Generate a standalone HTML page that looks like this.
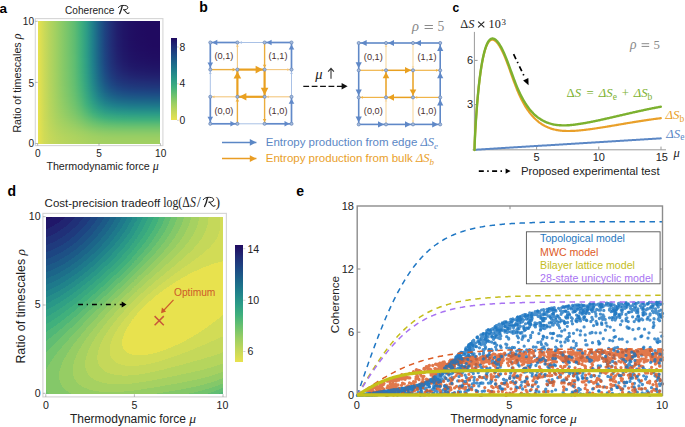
<!DOCTYPE html><html><head><meta charset="utf-8"><style>
html,body{margin:0;padding:0;background:#fff;}
body{width:685px;height:427px;overflow:hidden;position:relative;}
#hm div{position:absolute;}
svg{position:absolute;left:0;top:0;}
text{font-family:"Liberation Sans",sans-serif;}
.sf{font-family:"Liberation Serif",serif;}
</style></head><body>
<div id="hm">
<div style="left:37.60px;top:21.20px;width:122.80px;height:1.60px;background:linear-gradient(90deg,#e8e24e 0.0%,#ccda58 5.0%,#b4d45e 10.0%,#9fd062 15.0%,#89ca67 20.0%,#74c46c 25.0%,#5ebc72 30.0%,#40b07c 35.0%,#2c9c86 40.0%,#1f7e8b 45.0%,#1c5e88 50.0%,#1e4281 55.0%,#212d77 60.0%,#211e6d 65.0%,#201567 70.0%,#201064 75.0%,#200d62 80.0%,#200b61 85.0%,#200a60 90.0%,#200a60 95.0%,#200a60 100.0%)"></div>
<div style="left:37.60px;top:22.20px;width:122.80px;height:1.60px;background:linear-gradient(90deg,#e8e24e 0.0%,#ccda58 5.0%,#b4d45e 10.0%,#9fd062 15.0%,#89ca67 20.0%,#74c46c 25.0%,#5ebc72 30.0%,#40b07c 35.0%,#2c9c86 40.0%,#1f7e8b 45.0%,#1c5e88 50.0%,#1e4281 55.0%,#212d77 60.0%,#211e6d 65.0%,#201567 70.0%,#201064 75.0%,#200d62 80.0%,#200b61 85.0%,#200a60 90.0%,#200a60 95.0%,#200a60 100.0%)"></div>
<div style="left:37.60px;top:23.20px;width:122.80px;height:1.60px;background:linear-gradient(90deg,#e8e24e 0.0%,#ccda58 5.0%,#b4d45e 10.0%,#9fd062 15.0%,#89ca67 20.0%,#74c46c 25.0%,#5ebc72 30.0%,#40b07c 35.0%,#2c9c86 40.0%,#1f7e8b 45.0%,#1c5e88 50.0%,#1e4281 55.0%,#212e77 60.0%,#211e6d 65.0%,#201567 70.0%,#201064 75.0%,#200d62 80.0%,#200b61 85.0%,#200a60 90.0%,#200a60 95.0%,#200a60 100.0%)"></div>
<div style="left:37.60px;top:24.20px;width:122.80px;height:1.60px;background:linear-gradient(90deg,#e8e24e 0.0%,#ccda58 5.0%,#b4d45e 10.0%,#9fd062 15.0%,#89ca67 20.0%,#74c46c 25.0%,#5ebc72 30.0%,#40b07c 35.0%,#2c9c86 40.0%,#1f7e8b 45.0%,#1c5e88 50.0%,#1e4281 55.0%,#212e77 60.0%,#211e6d 65.0%,#201567 70.0%,#201064 75.0%,#200d62 80.0%,#200b61 85.0%,#200a60 90.0%,#200a60 95.0%,#200a60 100.0%)"></div>
<div style="left:37.60px;top:25.20px;width:122.80px;height:1.60px;background:linear-gradient(90deg,#e8e24e 0.0%,#ccda58 5.0%,#b4d45e 10.0%,#9fd062 15.0%,#89ca67 20.0%,#74c46c 25.0%,#5ebc72 30.0%,#40b07c 35.0%,#2c9c86 40.0%,#1f7e8b 45.0%,#1c5e88 50.0%,#1e4281 55.0%,#212e77 60.0%,#211e6d 65.0%,#201567 70.0%,#201064 75.0%,#200d62 80.0%,#200b61 85.0%,#200a60 90.0%,#200a60 95.0%,#200a60 100.0%)"></div>
<div style="left:37.60px;top:26.20px;width:122.80px;height:1.60px;background:linear-gradient(90deg,#e8e24e 0.0%,#ccda58 5.0%,#b4d45e 10.0%,#9fd062 15.0%,#89ca67 20.0%,#74c46c 25.0%,#5ebc72 30.0%,#40b07c 35.0%,#2c9c86 40.0%,#1f7e8b 45.0%,#1c5e88 50.0%,#1e4281 55.0%,#212e77 60.0%,#211e6d 65.0%,#201567 70.0%,#201064 75.0%,#200d62 80.0%,#200b61 85.0%,#200a60 90.0%,#200a60 95.0%,#200a60 100.0%)"></div>
<div style="left:37.60px;top:27.20px;width:122.80px;height:1.60px;background:linear-gradient(90deg,#e8e24e 0.0%,#ccda58 5.0%,#b4d45e 10.0%,#9fd062 15.0%,#89ca67 20.0%,#74c46c 25.0%,#5ebc72 30.0%,#40b07c 35.0%,#2c9c86 40.0%,#1f7e8b 45.0%,#1c5e88 50.0%,#1e4281 55.0%,#212e77 60.0%,#211e6d 65.0%,#201567 70.0%,#201064 75.0%,#200d62 80.0%,#200b61 85.0%,#200a60 90.0%,#200a60 95.0%,#200a60 100.0%)"></div>
<div style="left:37.60px;top:28.20px;width:122.80px;height:1.60px;background:linear-gradient(90deg,#e8e24e 0.0%,#ccda58 5.0%,#b4d45e 10.0%,#9fd062 15.0%,#89ca67 20.0%,#74c46c 25.0%,#5ebc72 30.0%,#40b07c 35.0%,#2c9c86 40.0%,#1f7e8b 45.0%,#1c5e88 50.0%,#1e4281 55.0%,#212e77 60.0%,#211e6d 65.0%,#201567 70.0%,#201064 75.0%,#200d62 80.0%,#200b61 85.0%,#200a60 90.0%,#200a60 95.0%,#200a60 100.0%)"></div>
<div style="left:37.60px;top:29.20px;width:122.80px;height:1.60px;background:linear-gradient(90deg,#e8e24e 0.0%,#ccda58 5.0%,#b4d45e 10.0%,#9fd062 15.0%,#89ca67 20.0%,#74c46c 25.0%,#5ebc72 30.0%,#40b07c 35.0%,#2c9c86 40.0%,#1f7f8b 45.0%,#1c5e88 50.0%,#1e4281 55.0%,#212e77 60.0%,#211e6d 65.0%,#201567 70.0%,#201064 75.0%,#200d62 80.0%,#200b61 85.0%,#200a60 90.0%,#200a60 95.0%,#200a60 100.0%)"></div>
<div style="left:37.60px;top:30.20px;width:122.80px;height:1.60px;background:linear-gradient(90deg,#e8e24e 0.0%,#ccda58 5.0%,#b4d45e 10.0%,#9fd062 15.0%,#89ca67 20.0%,#74c46c 25.0%,#5ebc72 30.0%,#40b07c 35.0%,#2c9c86 40.0%,#1f7f8b 45.0%,#1c5e88 50.0%,#1e4281 55.0%,#212e77 60.0%,#211e6d 65.0%,#201567 70.0%,#201064 75.0%,#200d62 80.0%,#200b61 85.0%,#200a60 90.0%,#200a60 95.0%,#200a60 100.0%)"></div>
<div style="left:37.60px;top:31.20px;width:122.80px;height:1.60px;background:linear-gradient(90deg,#e8e24e 0.0%,#ccda58 5.0%,#b4d45e 10.0%,#9fd062 15.0%,#89ca67 20.0%,#74c46c 25.0%,#5ebc72 30.0%,#40b07c 35.0%,#2c9c86 40.0%,#1f7f8b 45.0%,#1c5e88 50.0%,#1e4281 55.0%,#212e77 60.0%,#211e6d 65.0%,#201567 70.0%,#201064 75.0%,#200d62 80.0%,#200b61 85.0%,#200a60 90.0%,#200a60 95.0%,#200a60 100.0%)"></div>
<div style="left:37.60px;top:32.20px;width:122.80px;height:1.60px;background:linear-gradient(90deg,#e8e24e 0.0%,#ccda58 5.0%,#b4d45e 10.0%,#9fd062 15.0%,#89ca67 20.0%,#74c46c 25.0%,#5ebc72 30.0%,#40b07c 35.0%,#2c9c86 40.0%,#1f7f8b 45.0%,#1c5e88 50.0%,#1e4281 55.0%,#212e77 60.0%,#211e6d 65.0%,#201567 70.0%,#201064 75.0%,#200d62 80.0%,#200b61 85.0%,#200a60 90.0%,#200a60 95.0%,#200a60 100.0%)"></div>
<div style="left:37.60px;top:33.20px;width:122.80px;height:1.60px;background:linear-gradient(90deg,#e8e24e 0.0%,#ccda58 5.0%,#b4d45e 10.0%,#9fd062 15.0%,#89ca67 20.0%,#74c46c 25.0%,#5ebc72 30.0%,#40b07c 35.0%,#2c9c86 40.0%,#1f7f8b 45.0%,#1c5e88 50.0%,#1e4281 55.0%,#212e77 60.0%,#211e6d 65.0%,#201567 70.0%,#201064 75.0%,#200d62 80.0%,#200b61 85.0%,#200a60 90.0%,#200a60 95.0%,#200a60 100.0%)"></div>
<div style="left:37.60px;top:34.20px;width:122.80px;height:1.60px;background:linear-gradient(90deg,#e8e24e 0.0%,#ccda58 5.0%,#b4d45e 10.0%,#9fd062 15.0%,#89ca67 20.0%,#74c46c 25.0%,#5ebc72 30.0%,#40b07c 35.0%,#2c9c86 40.0%,#1f7f8b 45.0%,#1c5e88 50.0%,#1e4281 55.0%,#212e77 60.0%,#211e6d 65.0%,#201567 70.0%,#201064 75.0%,#200d62 80.0%,#200b61 85.0%,#200a60 90.0%,#200a60 95.0%,#200a60 100.0%)"></div>
<div style="left:37.60px;top:35.20px;width:122.80px;height:1.60px;background:linear-gradient(90deg,#e8e24e 0.0%,#ccda58 5.0%,#b4d45e 10.0%,#9fd062 15.0%,#89ca67 20.0%,#74c46c 25.0%,#5ebc72 30.0%,#40b07c 35.0%,#2c9c86 40.0%,#1f7f8b 45.0%,#1c5e88 50.0%,#1e4281 55.0%,#212e77 60.0%,#211e6d 65.0%,#201567 70.0%,#201064 75.0%,#200d62 80.0%,#200b61 85.0%,#200a60 90.0%,#200a60 95.0%,#200a60 100.0%)"></div>
<div style="left:37.60px;top:36.20px;width:122.80px;height:1.60px;background:linear-gradient(90deg,#e8e24e 0.0%,#ccda58 5.0%,#b4d45e 10.0%,#9fd062 15.0%,#89ca67 20.0%,#74c46c 25.0%,#5ebc72 30.0%,#40b07c 35.0%,#2c9c86 40.0%,#1f7f8b 45.0%,#1c5e88 50.0%,#1e4281 55.0%,#212e77 60.0%,#211f6d 65.0%,#201567 70.0%,#201064 75.0%,#200d62 80.0%,#200b61 85.0%,#200a60 90.0%,#200a60 95.0%,#200a60 100.0%)"></div>
<div style="left:37.60px;top:37.20px;width:122.80px;height:1.60px;background:linear-gradient(90deg,#e8e24e 0.0%,#ccda58 5.0%,#b4d45e 10.0%,#9fd062 15.0%,#89ca67 20.0%,#74c46c 25.0%,#5ebc72 30.0%,#41b07c 35.0%,#2c9c86 40.0%,#1f7f8b 45.0%,#1c5f88 50.0%,#1e4281 55.0%,#212e77 60.0%,#211f6d 65.0%,#201567 70.0%,#201064 75.0%,#200d62 80.0%,#200c61 85.0%,#200a60 90.0%,#200a60 95.0%,#200a60 100.0%)"></div>
<div style="left:37.60px;top:38.20px;width:122.80px;height:1.60px;background:linear-gradient(90deg,#e8e24e 0.0%,#ccda58 5.0%,#b4d45e 10.0%,#9fd062 15.0%,#89ca67 20.0%,#74c46c 25.0%,#5ebc72 30.0%,#41b07c 35.0%,#2c9c86 40.0%,#1f7f8b 45.0%,#1c5f88 50.0%,#1e4281 55.0%,#212e77 60.0%,#211f6d 65.0%,#201567 70.0%,#201064 75.0%,#200d62 80.0%,#200c61 85.0%,#200a60 90.0%,#200a60 95.0%,#200a60 100.0%)"></div>
<div style="left:37.60px;top:39.20px;width:122.80px;height:1.60px;background:linear-gradient(90deg,#e8e24e 0.0%,#ccda58 5.0%,#b4d45e 10.0%,#9fd062 15.0%,#89ca67 20.0%,#74c46c 25.0%,#5ebc72 30.0%,#41b07c 35.0%,#2c9c86 40.0%,#1f7f8b 45.0%,#1c5f88 50.0%,#1e4281 55.0%,#212e77 60.0%,#211f6d 65.0%,#201667 70.0%,#201064 75.0%,#200d62 80.0%,#200c61 85.0%,#200a60 90.0%,#200a60 95.0%,#200a60 100.0%)"></div>
<div style="left:37.60px;top:40.20px;width:122.80px;height:1.60px;background:linear-gradient(90deg,#e8e24e 0.0%,#ccda58 5.0%,#b4d45e 10.0%,#9fd062 15.0%,#89ca67 20.0%,#74c46c 25.0%,#5ebc72 30.0%,#41b07c 35.0%,#2c9c86 40.0%,#1f7f8b 45.0%,#1c5f88 50.0%,#1e4281 55.0%,#212e77 60.0%,#211f6d 65.0%,#201668 70.0%,#201064 75.0%,#200d62 80.0%,#200c61 85.0%,#200b60 90.0%,#200a60 95.0%,#200a60 100.0%)"></div>
<div style="left:37.60px;top:41.20px;width:122.80px;height:1.60px;background:linear-gradient(90deg,#e8e24e 0.0%,#ccda58 5.0%,#b4d45e 10.0%,#9fd062 15.0%,#89ca67 20.0%,#74c46c 25.0%,#5ebc72 30.0%,#41b07c 35.0%,#2c9c86 40.0%,#1f7f8b 45.0%,#1c5f88 50.0%,#1e4281 55.0%,#212e77 60.0%,#211f6e 65.0%,#201668 70.0%,#201164 75.0%,#200e62 80.0%,#200c61 85.0%,#200b60 90.0%,#200a60 95.0%,#200a60 100.0%)"></div>
<div style="left:37.60px;top:42.20px;width:122.80px;height:1.60px;background:linear-gradient(90deg,#e8e24e 0.0%,#ccda58 5.0%,#b4d45e 10.0%,#9fd062 15.0%,#89ca67 20.0%,#74c46c 25.0%,#5ebc72 30.0%,#41b07c 35.0%,#2c9c86 40.0%,#1f7f8b 45.0%,#1c5f88 50.0%,#1e4281 55.0%,#212e77 60.0%,#211f6e 65.0%,#201668 70.0%,#201164 75.0%,#200e62 80.0%,#200c61 85.0%,#200b60 90.0%,#200a60 95.0%,#200a60 100.0%)"></div>
<div style="left:37.60px;top:43.20px;width:122.80px;height:1.60px;background:linear-gradient(90deg,#e8e24e 0.0%,#ccda58 5.0%,#b4d45e 10.0%,#9fd062 15.0%,#89ca67 20.0%,#74c46c 25.0%,#5ebc72 30.0%,#41b07c 35.0%,#2c9c86 40.0%,#1f7f8b 45.0%,#1c5f88 50.0%,#1e4281 55.0%,#212e77 60.0%,#211f6e 65.0%,#201668 70.0%,#201164 75.0%,#200e62 80.0%,#200c61 85.0%,#200b61 90.0%,#200a60 95.0%,#200a60 100.0%)"></div>
<div style="left:37.60px;top:44.20px;width:122.80px;height:1.60px;background:linear-gradient(90deg,#e8e24e 0.0%,#ccda58 5.0%,#b4d45e 10.0%,#9fd062 15.0%,#89ca67 20.0%,#74c46c 25.0%,#5ebc72 30.0%,#41b07c 35.0%,#2c9c86 40.0%,#1f7f8b 45.0%,#1c5f88 50.0%,#1e4281 55.0%,#212e77 60.0%,#211f6e 65.0%,#201668 70.0%,#201164 75.0%,#200e63 80.0%,#200c61 85.0%,#200b61 90.0%,#200a60 95.0%,#200a60 100.0%)"></div>
<div style="left:37.60px;top:45.20px;width:122.80px;height:1.60px;background:linear-gradient(90deg,#e8e24e 0.0%,#ccda58 5.0%,#b4d45e 10.0%,#9fd062 15.0%,#89ca67 20.0%,#74c46c 25.0%,#5ebc72 30.0%,#41b07c 35.0%,#2c9c86 40.0%,#1f7f8b 45.0%,#1c5f88 50.0%,#1e4281 55.0%,#212e77 60.0%,#211f6e 65.0%,#201668 70.0%,#201165 75.0%,#200e63 80.0%,#200c62 85.0%,#200b61 90.0%,#200a60 95.0%,#200a60 100.0%)"></div>
<div style="left:37.60px;top:46.20px;width:122.80px;height:1.60px;background:linear-gradient(90deg,#e8e24e 0.0%,#ccda58 5.0%,#b4d45e 10.0%,#9fd062 15.0%,#89ca67 20.0%,#74c46c 25.0%,#5ebc72 30.0%,#41b07c 35.0%,#2c9c86 40.0%,#1f7f8b 45.0%,#1c5f88 50.0%,#1e4281 55.0%,#212e77 60.0%,#211f6e 65.0%,#201668 70.0%,#201165 75.0%,#200e63 80.0%,#200d62 85.0%,#200b61 90.0%,#200a60 95.0%,#200a60 100.0%)"></div>
<div style="left:37.60px;top:47.20px;width:122.80px;height:1.60px;background:linear-gradient(90deg,#e8e24e 0.0%,#ccda58 5.0%,#b4d45e 10.0%,#9fd062 15.0%,#89ca67 20.0%,#74c46c 25.0%,#5ebc72 30.0%,#41b07c 35.0%,#2c9c86 40.0%,#1f7f8b 45.0%,#1c5f88 50.0%,#1e4281 55.0%,#212f77 60.0%,#21206e 65.0%,#201768 70.0%,#201165 75.0%,#200e63 80.0%,#200d62 85.0%,#200b61 90.0%,#200b60 95.0%,#200a60 100.0%)"></div>
<div style="left:37.60px;top:48.20px;width:122.80px;height:1.60px;background:linear-gradient(90deg,#e8e24e 0.0%,#ccda58 5.0%,#b4d45e 10.0%,#9fd062 15.0%,#89ca67 20.0%,#74c46c 25.0%,#5ebc72 30.0%,#41b07c 35.0%,#2c9c86 40.0%,#1f7f8b 45.0%,#1c5f88 50.0%,#1e4381 55.0%,#212f77 60.0%,#21206e 65.0%,#201768 70.0%,#201265 75.0%,#200f63 80.0%,#200d62 85.0%,#200c61 90.0%,#200b61 95.0%,#200b60 100.0%)"></div>
<div style="left:37.60px;top:49.20px;width:122.80px;height:1.60px;background:linear-gradient(90deg,#e8e24e 0.0%,#ccda58 5.0%,#b4d45e 10.0%,#9fd062 15.0%,#89ca67 20.0%,#74c46c 25.0%,#5ebc72 30.0%,#41b07c 35.0%,#2c9c86 40.0%,#1f7f8b 45.0%,#1c5f88 50.0%,#1e4381 55.0%,#212f77 60.0%,#21206e 65.0%,#201768 70.0%,#201265 75.0%,#200f63 80.0%,#200d62 85.0%,#200c61 90.0%,#200b61 95.0%,#200b60 100.0%)"></div>
<div style="left:37.60px;top:50.20px;width:122.80px;height:1.60px;background:linear-gradient(90deg,#e8e24e 0.0%,#ccda58 5.0%,#b4d45e 10.0%,#9fd062 15.0%,#89ca67 20.0%,#74c46c 25.0%,#5ebc72 30.0%,#41b07c 35.0%,#2c9c86 40.0%,#1f7f8b 45.0%,#1c5f88 50.0%,#1e4381 55.0%,#212f78 60.0%,#21206e 65.0%,#201769 70.0%,#201265 75.0%,#200f63 80.0%,#200d62 85.0%,#200c61 90.0%,#200b61 95.0%,#200b61 100.0%)"></div>
<div style="left:37.60px;top:51.20px;width:122.80px;height:1.60px;background:linear-gradient(90deg,#e8e24e 0.0%,#ccda58 5.0%,#b4d45e 10.0%,#9fd062 15.0%,#89ca67 20.0%,#74c46c 25.0%,#5ebc72 30.0%,#41b07c 35.0%,#2c9c86 40.0%,#1f7f8b 45.0%,#1c5f88 50.0%,#1e4381 55.0%,#212f78 60.0%,#21206f 65.0%,#201769 70.0%,#201265 75.0%,#200f63 80.0%,#200e62 85.0%,#200c62 90.0%,#200c61 95.0%,#200b61 100.0%)"></div>
<div style="left:37.60px;top:52.20px;width:122.80px;height:1.60px;background:linear-gradient(90deg,#e8e24e 0.0%,#ccda58 5.0%,#b4d45e 10.0%,#9fd062 15.0%,#89ca67 20.0%,#74c46c 25.0%,#5ebc72 30.0%,#41b07c 35.0%,#2c9c86 40.0%,#1f7f8b 45.0%,#1c6088 50.0%,#1e4382 55.0%,#212f78 60.0%,#21216f 65.0%,#201869 70.0%,#201366 75.0%,#201064 80.0%,#200e63 85.0%,#200d62 90.0%,#200c61 95.0%,#200c61 100.0%)"></div>
<div style="left:37.60px;top:53.20px;width:122.80px;height:1.60px;background:linear-gradient(90deg,#e8e24e 0.0%,#ccda58 5.0%,#b4d45e 10.0%,#9fd062 15.0%,#89ca67 20.0%,#74c46c 25.0%,#5ebc72 30.0%,#41b07c 35.0%,#2c9c86 40.0%,#1f7f8b 45.0%,#1c6088 50.0%,#1e4382 55.0%,#203078 60.0%,#21216f 65.0%,#201869 70.0%,#201366 75.0%,#201064 80.0%,#200e63 85.0%,#200d62 90.0%,#200c61 95.0%,#200c61 100.0%)"></div>
<div style="left:37.60px;top:54.20px;width:122.80px;height:1.60px;background:linear-gradient(90deg,#e8e24e 0.0%,#ccda58 5.0%,#b4d45e 10.0%,#9fd062 15.0%,#89ca67 20.0%,#74c46c 25.0%,#5fbc72 30.0%,#41b07c 35.0%,#2c9c86 40.0%,#1f7f8b 45.0%,#1c6088 50.0%,#1e4382 55.0%,#203078 60.0%,#21216f 65.0%,#201869 70.0%,#201366 75.0%,#201064 80.0%,#200f63 85.0%,#200d62 90.0%,#200d62 95.0%,#200c61 100.0%)"></div>
<div style="left:37.60px;top:55.20px;width:122.80px;height:1.60px;background:linear-gradient(90deg,#e8e24e 0.0%,#ccda58 5.0%,#b4d45e 10.0%,#9fd062 15.0%,#89ca67 20.0%,#74c46c 25.0%,#5fbd72 30.0%,#41b07c 35.0%,#2c9c86 40.0%,#1f7f8b 45.0%,#1c6088 50.0%,#1e4482 55.0%,#203078 60.0%,#21226f 65.0%,#201969 70.0%,#201466 75.0%,#201164 80.0%,#200f63 85.0%,#200e62 90.0%,#200d62 95.0%,#200d62 100.0%)"></div>
<div style="left:37.60px;top:56.20px;width:122.80px;height:1.60px;background:linear-gradient(90deg,#e8e24e 0.0%,#ccda58 5.0%,#b4d45e 10.0%,#9fd062 15.0%,#89ca67 20.0%,#74c46c 25.0%,#5fbd72 30.0%,#41b07c 35.0%,#2c9c86 40.0%,#1f808b 45.0%,#1c6088 50.0%,#1e4482 55.0%,#203078 60.0%,#21226f 65.0%,#20196a 70.0%,#201466 75.0%,#201165 80.0%,#200f63 85.0%,#200e63 90.0%,#200d62 95.0%,#200d62 100.0%)"></div>
<div style="left:37.60px;top:57.20px;width:122.80px;height:1.60px;background:linear-gradient(90deg,#e8e24e 0.0%,#ccda58 5.0%,#b4d45e 10.0%,#9fd062 15.0%,#89ca67 20.0%,#75c46c 25.0%,#5fbd72 30.0%,#41b07c 35.0%,#2c9c86 40.0%,#1f808b 45.0%,#1c6088 50.0%,#1e4482 55.0%,#203178 60.0%,#212270 65.0%,#20196a 70.0%,#201467 75.0%,#201165 80.0%,#201064 85.0%,#200f63 90.0%,#200e62 95.0%,#200d62 100.0%)"></div>
<div style="left:37.60px;top:58.20px;width:122.80px;height:1.60px;background:linear-gradient(90deg,#e8e24e 0.0%,#ccda58 5.0%,#b4d45e 10.0%,#9fd062 15.0%,#89ca67 20.0%,#75c46c 25.0%,#5fbd72 30.0%,#41b17c 35.0%,#2d9d86 40.0%,#1f808b 45.0%,#1c6088 50.0%,#1e4482 55.0%,#203178 60.0%,#212370 65.0%,#201a6a 70.0%,#201567 75.0%,#201265 80.0%,#201064 85.0%,#200f63 90.0%,#200e63 95.0%,#200e63 100.0%)"></div>
<div style="left:37.60px;top:59.20px;width:122.80px;height:1.60px;background:linear-gradient(90deg,#e8e24e 0.0%,#ccda58 5.0%,#b4d45e 10.0%,#9fd062 15.0%,#89ca67 20.0%,#75c46c 25.0%,#5fbd72 30.0%,#41b17c 35.0%,#2d9d86 40.0%,#1f808b 45.0%,#1c6188 50.0%,#1d4582 55.0%,#203179 60.0%,#212370 65.0%,#201a6b 70.0%,#201567 75.0%,#201265 80.0%,#201164 85.0%,#201064 90.0%,#200f63 95.0%,#200e63 100.0%)"></div>
<div style="left:37.60px;top:60.20px;width:122.80px;height:1.60px;background:linear-gradient(90deg,#e8e24e 0.0%,#ccda58 5.0%,#b4d45e 10.0%,#9fd062 15.0%,#89ca67 20.0%,#75c46c 25.0%,#5fbd72 30.0%,#41b17c 35.0%,#2d9d86 40.0%,#1f808b 45.0%,#1c6188 50.0%,#1d4582 55.0%,#203279 60.0%,#212471 65.0%,#201b6b 70.0%,#201668 75.0%,#201366 80.0%,#201165 85.0%,#201064 90.0%,#200f63 95.0%,#200f63 100.0%)"></div>
<div style="left:37.60px;top:61.20px;width:122.80px;height:1.60px;background:linear-gradient(90deg,#e8e24e 0.0%,#ccda58 5.0%,#b4d45e 10.0%,#9fd062 15.0%,#89ca67 20.0%,#75c46c 25.0%,#5fbd72 30.0%,#42b17c 35.0%,#2d9d86 40.0%,#1f808b 45.0%,#1c6188 50.0%,#1d4583 55.0%,#203279 60.0%,#212471 65.0%,#211b6b 70.0%,#201668 75.0%,#201466 80.0%,#201265 85.0%,#201164 90.0%,#201064 95.0%,#201064 100.0%)"></div>
<div style="left:37.60px;top:62.20px;width:122.80px;height:1.60px;background:linear-gradient(90deg,#e8e24e 0.0%,#ccda58 5.0%,#b4d45e 10.0%,#9fd062 15.0%,#89ca67 20.0%,#75c46c 25.0%,#5fbd72 30.0%,#42b17b 35.0%,#2d9d86 40.0%,#1f808b 45.0%,#1c6188 50.0%,#1d4683 55.0%,#203279 60.0%,#212571 65.0%,#211c6c 70.0%,#201768 75.0%,#201467 80.0%,#201366 85.0%,#201165 90.0%,#201164 95.0%,#201064 100.0%)"></div>
<div style="left:37.60px;top:63.20px;width:122.80px;height:1.60px;background:linear-gradient(90deg,#e8e24e 0.0%,#ccda58 5.0%,#b4d45e 10.0%,#9fd062 15.0%,#89ca67 20.0%,#75c46c 25.0%,#5fbd72 30.0%,#42b17b 35.0%,#2d9d86 40.0%,#1f818b 45.0%,#1c6288 50.0%,#1d4683 55.0%,#203379 60.0%,#212572 65.0%,#211d6c 70.0%,#201869 75.0%,#201567 80.0%,#201366 85.0%,#201265 90.0%,#201165 95.0%,#201165 100.0%)"></div>
<div style="left:37.60px;top:64.20px;width:122.80px;height:1.60px;background:linear-gradient(90deg,#e8e24e 0.0%,#ccda58 5.0%,#b4d45e 10.0%,#9fd062 15.0%,#89ca67 20.0%,#75c46c 25.0%,#5fbd72 30.0%,#42b17b 35.0%,#2d9d85 40.0%,#1f818b 45.0%,#1c6288 50.0%,#1d4683 55.0%,#20337a 60.0%,#212672 65.0%,#211d6d 70.0%,#201869 75.0%,#201668 80.0%,#201467 85.0%,#201366 90.0%,#201265 95.0%,#201265 100.0%)"></div>
<div style="left:37.60px;top:65.20px;width:122.80px;height:1.60px;background:linear-gradient(90deg,#e8e24e 0.0%,#ccda58 5.0%,#b4d45e 10.0%,#9fd062 15.0%,#89ca67 20.0%,#75c46c 25.0%,#5fbd72 30.0%,#42b17b 35.0%,#2d9d85 40.0%,#1f818b 45.0%,#1c6289 50.0%,#1d4783 55.0%,#20347a 60.0%,#212773 65.0%,#211e6d 70.0%,#20196a 75.0%,#201668 80.0%,#201567 85.0%,#201466 90.0%,#201366 95.0%,#201366 100.0%)"></div>
<div style="left:37.60px;top:66.20px;width:122.80px;height:1.60px;background:linear-gradient(90deg,#e8e24e 0.0%,#ccda58 5.0%,#b4d45e 10.0%,#9fd062 15.0%,#89ca67 20.0%,#75c46c 25.0%,#5fbd72 30.0%,#42b17b 35.0%,#2d9d85 40.0%,#20818b 45.0%,#1c6389 50.0%,#1d4784 55.0%,#20347a 60.0%,#212873 65.0%,#211f6e 70.0%,#201a6a 75.0%,#201769 80.0%,#201668 85.0%,#201567 90.0%,#201466 95.0%,#201466 100.0%)"></div>
<div style="left:37.60px;top:67.20px;width:122.80px;height:1.60px;background:linear-gradient(90deg,#e8e24e 0.0%,#ccda58 5.0%,#b4d45e 10.0%,#9fd062 15.0%,#89ca67 20.0%,#75c46c 25.0%,#5fbd72 30.0%,#42b17b 35.0%,#2d9d85 40.0%,#20818b 45.0%,#1c6389 50.0%,#1d4884 55.0%,#20357b 60.0%,#212874 65.0%,#21206e 70.0%,#211b6b 75.0%,#201869 80.0%,#201768 85.0%,#201667 90.0%,#201567 95.0%,#201467 100.0%)"></div>
<div style="left:37.60px;top:68.20px;width:122.80px;height:1.60px;background:linear-gradient(90deg,#e8e24e 0.0%,#ccda58 5.0%,#b4d45e 10.0%,#9fd062 15.0%,#89ca67 20.0%,#75c46c 25.0%,#60bd72 30.0%,#42b17b 35.0%,#2e9e85 40.0%,#20828b 45.0%,#1c6489 50.0%,#1d4884 55.0%,#20367b 60.0%,#212974 65.0%,#21216f 70.0%,#211c6c 75.0%,#20196a 80.0%,#201869 85.0%,#201768 90.0%,#201668 95.0%,#201567 100.0%)"></div>
<div style="left:37.60px;top:69.20px;width:122.80px;height:1.60px;background:linear-gradient(90deg,#e8e24e 0.0%,#ccda58 5.0%,#b4d45e 10.0%,#9fd062 15.0%,#89ca67 20.0%,#75c56c 25.0%,#60bd72 30.0%,#43b17b 35.0%,#2e9e85 40.0%,#20828b 45.0%,#1c6489 50.0%,#1d4984 55.0%,#20367b 60.0%,#212a75 65.0%,#21226f 70.0%,#211d6c 75.0%,#201a6b 80.0%,#20196a 85.0%,#201869 90.0%,#201768 95.0%,#201768 100.0%)"></div>
<div style="left:37.60px;top:70.20px;width:122.80px;height:1.60px;background:linear-gradient(90deg,#e8e24e 0.0%,#ccda58 5.0%,#b4d45e 10.0%,#9fd062 15.0%,#89ca67 20.0%,#75c56c 25.0%,#60bd72 30.0%,#43b17b 35.0%,#2e9e85 40.0%,#20828b 45.0%,#1c6589 50.0%,#1d4a84 55.0%,#1f377c 60.0%,#212b76 65.0%,#212370 70.0%,#211e6d 75.0%,#211b6b 80.0%,#201a6a 85.0%,#20196a 90.0%,#201869 95.0%,#201869 100.0%)"></div>
<div style="left:37.60px;top:71.20px;width:122.80px;height:1.60px;background:linear-gradient(90deg,#e8e24e 0.0%,#ccda58 5.0%,#b4d45e 10.0%,#9fd062 15.0%,#8aca67 20.0%,#75c56c 25.0%,#60bd72 30.0%,#43b17b 35.0%,#2e9e85 40.0%,#20838b 45.0%,#1c6589 50.0%,#1d4a84 55.0%,#1f387c 60.0%,#212c76 65.0%,#212471 70.0%,#211f6e 75.0%,#211d6c 80.0%,#211b6b 85.0%,#201a6a 90.0%,#20196a 95.0%,#20196a 100.0%)"></div>
<div style="left:37.60px;top:72.20px;width:122.80px;height:1.60px;background:linear-gradient(90deg,#e8e24e 0.0%,#ccda58 5.0%,#b4d45e 10.0%,#9fd062 15.0%,#8aca67 20.0%,#76c56c 25.0%,#60bd72 30.0%,#43b17b 35.0%,#2e9e85 40.0%,#20838b 45.0%,#1c6689 50.0%,#1d4b85 55.0%,#1f397c 60.0%,#212d77 65.0%,#212572 70.0%,#21216f 75.0%,#211e6d 80.0%,#211d6c 85.0%,#211b6b 90.0%,#201b6b 95.0%,#201a6b 100.0%)"></div>
<div style="left:37.60px;top:73.20px;width:122.80px;height:1.60px;background:linear-gradient(90deg,#e8e24e 0.0%,#ccda58 5.0%,#b4d45e 10.0%,#a0d062 15.0%,#8aca67 20.0%,#76c56c 25.0%,#60bd72 30.0%,#44b17b 35.0%,#2e9e85 40.0%,#20838a 45.0%,#1c6689 50.0%,#1d4c85 55.0%,#1f3a7d 60.0%,#212e77 65.0%,#212773 70.0%,#212270 75.0%,#211f6e 80.0%,#211e6d 85.0%,#211d6c 90.0%,#211c6c 95.0%,#211c6c 100.0%)"></div>
<div style="left:37.60px;top:74.20px;width:122.80px;height:1.60px;background:linear-gradient(90deg,#e8e24e 0.0%,#ccda58 5.0%,#b4d45e 10.0%,#a0d062 15.0%,#8aca67 20.0%,#76c56c 25.0%,#60bd72 30.0%,#44b27b 35.0%,#2f9f85 40.0%,#21848a 45.0%,#1c6789 50.0%,#1d4d85 55.0%,#1f3b7d 60.0%,#212f78 65.0%,#212873 70.0%,#212370 75.0%,#21216f 80.0%,#211f6e 85.0%,#211e6d 90.0%,#211e6d 95.0%,#211d6c 100.0%)"></div>
<div style="left:37.60px;top:75.20px;width:122.80px;height:1.60px;background:linear-gradient(90deg,#e8e24e 0.0%,#ccda58 5.0%,#b4d45e 10.0%,#a0d062 15.0%,#8aca67 20.0%,#76c56c 25.0%,#61bd72 30.0%,#44b27b 35.0%,#2f9f85 40.0%,#21848a 45.0%,#1c6789 50.0%,#1d4e85 55.0%,#1f3c7e 60.0%,#203078 65.0%,#212a74 70.0%,#212571 75.0%,#212270 80.0%,#21216f 85.0%,#21206e 90.0%,#211f6e 95.0%,#211f6e 100.0%)"></div>
<div style="left:37.60px;top:76.20px;width:122.80px;height:1.60px;background:linear-gradient(90deg,#e8e24e 0.0%,#ccda58 5.0%,#b4d45e 10.0%,#a0d062 15.0%,#8aca67 20.0%,#76c56c 25.0%,#61bd72 30.0%,#44b27b 35.0%,#2f9f84 40.0%,#21858a 45.0%,#1c6889 50.0%,#1d4f85 55.0%,#1f3d7e 60.0%,#203279 65.0%,#212b75 70.0%,#212773 75.0%,#212471 80.0%,#212370 85.0%,#21226f 90.0%,#21216f 95.0%,#21216f 100.0%)"></div>
<div style="left:37.60px;top:77.20px;width:122.80px;height:1.60px;background:linear-gradient(90deg,#e8e24e 0.0%,#ccda58 5.0%,#b4d45e 10.0%,#a0d062 15.0%,#8aca67 20.0%,#76c56c 25.0%,#61bd72 30.0%,#45b27b 35.0%,#2f9f84 40.0%,#21858a 45.0%,#1c6989 50.0%,#1d5085 55.0%,#1e3e7f 60.0%,#20337a 65.0%,#212d76 70.0%,#212874 75.0%,#212672 80.0%,#212471 85.0%,#212370 90.0%,#212370 95.0%,#212270 100.0%)"></div>
<div style="left:37.60px;top:78.20px;width:122.80px;height:1.60px;background:linear-gradient(90deg,#e8e24e 0.0%,#ccda58 5.0%,#b4d45e 10.0%,#a0d062 15.0%,#8aca67 20.0%,#76c56c 25.0%,#61be71 30.0%,#45b27a 35.0%,#30a084 40.0%,#21858a 45.0%,#1c6989 50.0%,#1d5185 55.0%,#1e3f80 60.0%,#20347a 65.0%,#212e77 70.0%,#212a75 75.0%,#212873 80.0%,#212672 85.0%,#212572 90.0%,#212571 95.0%,#212471 100.0%)"></div>
<div style="left:37.60px;top:79.20px;width:122.80px;height:1.60px;background:linear-gradient(90deg,#e8e24e 0.0%,#ccda58 5.0%,#b4d45e 10.0%,#a0d062 15.0%,#8aca67 20.0%,#77c56c 25.0%,#61be71 30.0%,#45b27a 35.0%,#30a084 40.0%,#22868a 45.0%,#1d6a89 50.0%,#1d5286 55.0%,#1e4180 60.0%,#20367b 65.0%,#203078 70.0%,#212c76 75.0%,#212a75 80.0%,#212874 85.0%,#212773 90.0%,#212773 95.0%,#212672 100.0%)"></div>
<div style="left:37.60px;top:80.20px;width:122.80px;height:1.60px;background:linear-gradient(90deg,#e8e24e 0.0%,#ccda58 5.0%,#b4d45e 10.0%,#a0d062 15.0%,#8aca67 20.0%,#77c56c 25.0%,#62be71 30.0%,#46b27a 35.0%,#30a084 40.0%,#22878a 45.0%,#1d6b89 50.0%,#1d5386 55.0%,#1e4281 60.0%,#1f377c 65.0%,#203179 70.0%,#212e77 75.0%,#212c76 80.0%,#212a75 85.0%,#212974 90.0%,#212974 95.0%,#212974 100.0%)"></div>
<div style="left:37.60px;top:81.20px;width:122.80px;height:1.60px;background:linear-gradient(90deg,#e8e24e 0.0%,#ccda58 5.0%,#b4d45e 10.0%,#a0d062 15.0%,#8bca67 20.0%,#77c56b 25.0%,#62be71 30.0%,#46b37a 35.0%,#30a084 40.0%,#22878a 45.0%,#1d6c8a 50.0%,#1d5486 55.0%,#1e4382 60.0%,#1f397d 65.0%,#20337a 70.0%,#203078 75.0%,#212e77 80.0%,#212d76 85.0%,#212c76 90.0%,#212b75 95.0%,#212b75 100.0%)"></div>
<div style="left:37.60px;top:82.20px;width:122.80px;height:1.60px;background:linear-gradient(90deg,#e8e24e 0.0%,#ccda58 5.0%,#b4d45e 10.0%,#a0d062 15.0%,#8bca67 20.0%,#77c56b 25.0%,#62be71 30.0%,#47b37a 35.0%,#31a184 40.0%,#22888a 45.0%,#1d6d8a 50.0%,#1d5686 55.0%,#1d4582 60.0%,#1f3b7d 65.0%,#20357a 70.0%,#203179 75.0%,#203078 80.0%,#212f77 85.0%,#212e77 90.0%,#212d77 95.0%,#212d76 100.0%)"></div>
<div style="left:37.60px;top:83.20px;width:122.80px;height:1.60px;background:linear-gradient(90deg,#e8e24e 0.0%,#ccda58 5.0%,#b4d45e 10.0%,#a0d062 15.0%,#8bca67 20.0%,#77c56b 25.0%,#63be71 30.0%,#47b37a 35.0%,#31a183 40.0%,#23888a 45.0%,#1d6e8a 50.0%,#1c5787 55.0%,#1d4783 60.0%,#1f3d7e 65.0%,#1f377b 70.0%,#20337a 75.0%,#203279 80.0%,#203178 85.0%,#203078 90.0%,#212f78 95.0%,#212f77 100.0%)"></div>
<div style="left:37.60px;top:84.20px;width:122.80px;height:1.60px;background:linear-gradient(90deg,#e8e24e 0.0%,#ccda58 5.0%,#b5d45e 10.0%,#a0d062 15.0%,#8bca67 20.0%,#78c56b 25.0%,#63be71 30.0%,#48b37a 35.0%,#32a283 40.0%,#23898a 45.0%,#1d6f8a 50.0%,#1c5987 55.0%,#1d4884 60.0%,#1e3e7f 65.0%,#1f397c 70.0%,#20367b 75.0%,#20347a 80.0%,#203379 85.0%,#203279 90.0%,#203179 95.0%,#203179 100.0%)"></div>
<div style="left:37.60px;top:85.20px;width:122.80px;height:1.60px;background:linear-gradient(90deg,#e8e24e 0.0%,#ccda58 5.0%,#b5d45e 10.0%,#a0d062 15.0%,#8bca67 20.0%,#78c56b 25.0%,#63be71 30.0%,#48b379 35.0%,#32a283 40.0%,#238a89 45.0%,#1d708a 50.0%,#1c5a87 55.0%,#1d4a84 60.0%,#1e4080 65.0%,#1f3b7d 70.0%,#1f387c 75.0%,#20367b 80.0%,#20357a 85.0%,#20347a 90.0%,#20347a 95.0%,#20337a 100.0%)"></div>
<div style="left:37.60px;top:86.20px;width:122.80px;height:1.60px;background:linear-gradient(90deg,#e8e24e 0.0%,#ccda58 5.0%,#b5d45e 10.0%,#a0d062 15.0%,#8ccb67 20.0%,#78c56b 25.0%,#64bf71 30.0%,#49b479 35.0%,#32a283 40.0%,#248b89 45.0%,#1d718a 50.0%,#1c5c87 55.0%,#1d4c85 60.0%,#1e4381 65.0%,#1f3d7f 70.0%,#1f3a7d 75.0%,#1f387c 80.0%,#1f377c 85.0%,#20367b 90.0%,#20367b 95.0%,#20367b 100.0%)"></div>
<div style="left:37.60px;top:87.20px;width:122.80px;height:1.60px;background:linear-gradient(90deg,#e8e24e 0.0%,#ccda58 5.0%,#b5d45e 10.0%,#a1d062 15.0%,#8ccb67 20.0%,#79c56b 25.0%,#64bf71 30.0%,#49b479 35.0%,#33a383 40.0%,#248c89 45.0%,#1e738a 50.0%,#1c5e88 55.0%,#1d4e85 60.0%,#1d4582 65.0%,#1e3f80 70.0%,#1f3c7e 75.0%,#1f3b7d 80.0%,#1f3a7d 85.0%,#1f397c 90.0%,#1f387c 95.0%,#1f387c 100.0%)"></div>
<div style="left:37.60px;top:88.20px;width:122.80px;height:1.60px;background:linear-gradient(90deg,#e8e24e 0.0%,#ccda58 5.0%,#b5d45e 10.0%,#a1d062 15.0%,#8ccb67 20.0%,#79c66b 25.0%,#64bf70 30.0%,#4ab479 35.0%,#33a382 40.0%,#248c89 45.0%,#1e748a 50.0%,#1c5f88 55.0%,#1d5085 60.0%,#1d4784 65.0%,#1e4281 70.0%,#1e3f7f 75.0%,#1f3d7f 80.0%,#1f3c7e 85.0%,#1f3b7e 90.0%,#1f3b7e 95.0%,#1f3b7d 100.0%)"></div>
<div style="left:37.60px;top:89.20px;width:122.80px;height:1.60px;background:linear-gradient(90deg,#e8e24e 0.0%,#ccda58 5.0%,#b5d45e 10.0%,#a1d062 15.0%,#8ccb67 20.0%,#79c66b 25.0%,#65bf70 30.0%,#4bb479 35.0%,#34a482 40.0%,#258d89 45.0%,#1e758a 50.0%,#1c6188 55.0%,#1d5386 60.0%,#1d4984 65.0%,#1e4482 70.0%,#1e4181 75.0%,#1e4080 80.0%,#1e3f7f 85.0%,#1e3e7f 90.0%,#1e3e7f 95.0%,#1e3e7f 100.0%)"></div>
<div style="left:37.60px;top:90.20px;width:122.80px;height:1.60px;background:linear-gradient(90deg,#e8e24e 0.0%,#ccda58 5.0%,#b5d45e 10.0%,#a1d062 15.0%,#8ccb67 20.0%,#7ac66b 25.0%,#65bf70 30.0%,#4bb578 35.0%,#34a482 40.0%,#258e89 45.0%,#1e778a 50.0%,#1c6389 55.0%,#1d5586 60.0%,#1d4c85 65.0%,#1d4783 70.0%,#1e4482 75.0%,#1e4381 80.0%,#1e4281 85.0%,#1e4180 90.0%,#1e4180 95.0%,#1e4080 100.0%)"></div>
<div style="left:37.60px;top:91.20px;width:122.80px;height:1.60px;background:linear-gradient(90deg,#e8e24e 0.0%,#ccda58 5.0%,#b5d45e 10.0%,#a1d062 15.0%,#8dcb67 20.0%,#7ac66b 25.0%,#66bf70 30.0%,#4cb578 35.0%,#35a582 40.0%,#268f89 45.0%,#1e788a 50.0%,#1c6589 55.0%,#1c5787 60.0%,#1d4f85 65.0%,#1d4a84 70.0%,#1d4783 75.0%,#1d4583 80.0%,#1d4582 85.0%,#1e4482 90.0%,#1e4382 95.0%,#1e4382 100.0%)"></div>
<div style="left:37.60px;top:92.20px;width:122.80px;height:1.60px;background:linear-gradient(90deg,#e8e24e 0.0%,#ccda58 5.0%,#b5d45e 10.0%,#a1d062 15.0%,#8dcb66 20.0%,#7ac66b 25.0%,#66c070 30.0%,#4db578 35.0%,#36a681 40.0%,#269188 45.0%,#1e7a8b 50.0%,#1c6789 55.0%,#1c5a87 60.0%,#1d5286 65.0%,#1d4d85 70.0%,#1d4a84 75.0%,#1d4884 80.0%,#1d4884 85.0%,#1d4783 90.0%,#1d4683 95.0%,#1d4683 100.0%)"></div>
<div style="left:37.60px;top:93.20px;width:122.80px;height:1.60px;background:linear-gradient(90deg,#e8e24e 0.0%,#ccda58 5.0%,#b5d55d 10.0%,#a1d062 15.0%,#8dcb66 20.0%,#7bc66b 25.0%,#67c070 30.0%,#4eb678 35.0%,#36a681 40.0%,#269288 45.0%,#1f7c8b 50.0%,#1d6a89 55.0%,#1c5d88 60.0%,#1d5486 65.0%,#1d5085 70.0%,#1d4d85 75.0%,#1d4c85 80.0%,#1d4b84 85.0%,#1d4a84 90.0%,#1d4a84 95.0%,#1d4984 100.0%)"></div>
<div style="left:37.60px;top:94.20px;width:122.80px;height:1.60px;background:linear-gradient(90deg,#e8e24e 0.0%,#ccda58 5.0%,#b5d55d 10.0%,#a2d062 15.0%,#8ecb66 20.0%,#7bc66a 25.0%,#68c06f 30.0%,#4fb677 35.0%,#37a781 40.0%,#279388 45.0%,#1f7d8b 50.0%,#1d6c89 55.0%,#1c5f88 60.0%,#1c5787 65.0%,#1d5386 70.0%,#1d5085 75.0%,#1d4f85 80.0%,#1d4e85 85.0%,#1d4d85 90.0%,#1d4d85 95.0%,#1d4d85 100.0%)"></div>
<div style="left:37.60px;top:95.20px;width:122.80px;height:1.60px;background:linear-gradient(90deg,#e8e24e 0.0%,#ccda58 5.0%,#b5d55d 10.0%,#a2d062 15.0%,#8ecb66 20.0%,#7cc66a 25.0%,#68c06f 30.0%,#4fb677 35.0%,#38a880 40.0%,#289488 45.0%,#1f7f8b 50.0%,#1d6e8a 55.0%,#1c6289 60.0%,#1c5b87 65.0%,#1d5686 70.0%,#1d5486 75.0%,#1d5286 80.0%,#1d5186 85.0%,#1d5186 90.0%,#1d5085 95.0%,#1d5085 100.0%)"></div>
<div style="left:37.60px;top:96.20px;width:122.80px;height:1.60px;background:linear-gradient(90deg,#e8e24e 0.0%,#ccda58 5.0%,#b5d55d 10.0%,#a2d062 15.0%,#8ecb66 20.0%,#7cc66a 25.0%,#69c16f 30.0%,#50b777 35.0%,#38a880 40.0%,#289588 45.0%,#1f818b 50.0%,#1d708a 55.0%,#1c6589 60.0%,#1c5e88 65.0%,#1c5987 70.0%,#1c5787 75.0%,#1d5686 80.0%,#1d5586 85.0%,#1d5486 90.0%,#1d5486 95.0%,#1d5486 100.0%)"></div>
<div style="left:37.60px;top:97.20px;width:122.80px;height:1.60px;background:linear-gradient(90deg,#e8e24e 0.0%,#ccda58 5.0%,#b5d55d 10.0%,#a2d062 15.0%,#8fcb66 20.0%,#7dc76a 25.0%,#6ac16f 30.0%,#51b776 35.0%,#39a97f 40.0%,#299787 45.0%,#20838b 50.0%,#1e738a 55.0%,#1c6889 60.0%,#1c6188 65.0%,#1c5d88 70.0%,#1c5b87 75.0%,#1c5987 80.0%,#1c5987 85.0%,#1c5887 90.0%,#1c5887 95.0%,#1c5887 100.0%)"></div>
<div style="left:37.60px;top:98.20px;width:122.80px;height:1.60px;background:linear-gradient(90deg,#e8e24e 0.0%,#ccda58 5.0%,#b6d55d 10.0%,#a2d062 15.0%,#8fcc66 20.0%,#7ec76a 25.0%,#6ac16f 30.0%,#53b876 35.0%,#3aaa7f 40.0%,#299887 45.0%,#21858a 50.0%,#1e758a 55.0%,#1d6b89 60.0%,#1c6489 65.0%,#1c6188 70.0%,#1c5e88 75.0%,#1c5d88 80.0%,#1c5c88 85.0%,#1c5c87 90.0%,#1c5b87 95.0%,#1c5b87 100.0%)"></div>
<div style="left:37.60px;top:99.20px;width:122.80px;height:1.60px;background:linear-gradient(90deg,#e8e24e 0.0%,#ccda57 5.0%,#b6d55d 10.0%,#a3d062 15.0%,#90cc66 20.0%,#7ec76a 25.0%,#6bc26e 30.0%,#54b876 35.0%,#3bab7f 40.0%,#2a9a87 45.0%,#22878a 50.0%,#1e788a 55.0%,#1d6e8a 60.0%,#1c6889 65.0%,#1c6489 70.0%,#1c6289 75.0%,#1c6188 80.0%,#1c6088 85.0%,#1c6088 90.0%,#1c5f88 95.0%,#1c5f88 100.0%)"></div>
<div style="left:37.60px;top:100.20px;width:122.80px;height:1.60px;background:linear-gradient(90deg,#e8e24e 0.0%,#ccda57 5.0%,#b6d55d 10.0%,#a3d161 15.0%,#90cc66 20.0%,#7fc76a 25.0%,#6cc26e 30.0%,#55b975 35.0%,#3cac7e 40.0%,#2b9b86 45.0%,#23898a 50.0%,#1e7b8b 55.0%,#1d718a 60.0%,#1d6b89 65.0%,#1c6889 70.0%,#1c6689 75.0%,#1c6589 80.0%,#1c6489 85.0%,#1c6489 90.0%,#1c6389 95.0%,#1c6389 100.0%)"></div>
<div style="left:37.60px;top:101.20px;width:122.80px;height:1.60px;background:linear-gradient(90deg,#e8e24e 0.0%,#ccda57 5.0%,#b6d55d 10.0%,#a3d161 15.0%,#91cc66 20.0%,#7fc76a 25.0%,#6dc26e 30.0%,#56b975 35.0%,#3dad7e 40.0%,#2d9d86 45.0%,#248b89 50.0%,#1f7e8b 55.0%,#1e748a 60.0%,#1d6f8a 65.0%,#1d6b89 70.0%,#1d6a89 75.0%,#1c6989 80.0%,#1c6889 85.0%,#1c6889 90.0%,#1c6789 95.0%,#1c6789 100.0%)"></div>
<div style="left:37.60px;top:102.20px;width:122.80px;height:1.60px;background:linear-gradient(90deg,#e8e24e 0.0%,#ccda57 5.0%,#b6d55d 10.0%,#a3d161 15.0%,#91cc65 20.0%,#80c769 25.0%,#6ec36e 30.0%,#58ba75 35.0%,#3eae7d 40.0%,#2e9e85 45.0%,#258e89 50.0%,#1f818b 55.0%,#1e788a 60.0%,#1d728a 65.0%,#1d6f8a 70.0%,#1d6d8a 75.0%,#1d6c8a 80.0%,#1d6c8a 85.0%,#1d6b89 90.0%,#1d6b89 95.0%,#1d6b89 100.0%)"></div>
<div style="left:37.60px;top:103.20px;width:122.80px;height:1.60px;background:linear-gradient(90deg,#e8e24e 0.0%,#ccda57 5.0%,#b6d55d 10.0%,#a4d161 15.0%,#92cc65 20.0%,#81c869 25.0%,#6fc36d 30.0%,#59ba74 35.0%,#3faf7d 40.0%,#2f9f84 45.0%,#269089 50.0%,#20838a 55.0%,#1e7b8b 60.0%,#1e768a 65.0%,#1e738a 70.0%,#1d718a 75.0%,#1d708a 80.0%,#1d708a 85.0%,#1d6f8a 90.0%,#1d6f8a 95.0%,#1d6f8a 100.0%)"></div>
<div style="left:37.60px;top:104.20px;width:122.80px;height:1.60px;background:linear-gradient(90deg,#e8e24e 0.0%,#ccda57 5.0%,#b6d55d 10.0%,#a4d161 15.0%,#92cc65 20.0%,#82c869 25.0%,#70c36d 30.0%,#5abb74 35.0%,#40b07c 40.0%,#31a183 45.0%,#279288 50.0%,#22868a 55.0%,#1f7f8b 60.0%,#1e7a8b 65.0%,#1e778a 70.0%,#1e758a 75.0%,#1e748a 80.0%,#1e748a 85.0%,#1e738a 90.0%,#1e738a 95.0%,#1e738a 100.0%)"></div>
<div style="left:37.60px;top:105.20px;width:122.80px;height:1.60px;background:linear-gradient(90deg,#e8e24e 0.0%,#cdda57 5.0%,#b7d55d 10.0%,#a4d161 15.0%,#93cd65 20.0%,#83c869 25.0%,#71c36d 30.0%,#5cbb73 35.0%,#42b17b 40.0%,#33a383 45.0%,#289588 50.0%,#23898a 55.0%,#20828b 60.0%,#1f7d8b 65.0%,#1e7b8b 70.0%,#1e798a 75.0%,#1e788a 80.0%,#1e788a 85.0%,#1e788a 90.0%,#1e778a 95.0%,#1e778a 100.0%)"></div>
<div style="left:37.60px;top:106.20px;width:122.80px;height:1.60px;background:linear-gradient(90deg,#e8e24e 0.0%,#cdda57 5.0%,#b7d55d 10.0%,#a5d161 15.0%,#94cd65 20.0%,#84c869 25.0%,#73c46d 30.0%,#5ebc73 35.0%,#44b27b 40.0%,#34a482 45.0%,#299887 50.0%,#248d89 55.0%,#21858a 60.0%,#1f818b 65.0%,#1f7f8b 70.0%,#1f7d8b 75.0%,#1f7c8b 80.0%,#1f7c8b 85.0%,#1f7c8b 90.0%,#1e7b8b 95.0%,#1e7b8b 100.0%)"></div>
<div style="left:37.60px;top:107.20px;width:122.80px;height:1.60px;background:linear-gradient(90deg,#e8e24e 0.0%,#cdda57 5.0%,#b7d55d 10.0%,#a5d161 15.0%,#94cd65 20.0%,#85c968 25.0%,#74c46c 30.0%,#5fbd72 35.0%,#47b37a 40.0%,#36a681 45.0%,#2a9a87 50.0%,#269089 55.0%,#23898a 60.0%,#21858a 65.0%,#20838b 70.0%,#20818b 75.0%,#1f818b 80.0%,#1f808b 85.0%,#1f808b 90.0%,#1f808b 95.0%,#1f808b 100.0%)"></div>
<div style="left:37.60px;top:108.20px;width:122.80px;height:1.60px;background:linear-gradient(90deg,#e8e24e 0.0%,#cdda57 5.0%,#b7d55d 10.0%,#a6d161 15.0%,#95cd65 20.0%,#86c968 25.0%,#75c46c 30.0%,#61be71 35.0%,#49b479 40.0%,#38a880 45.0%,#2c9c86 50.0%,#279388 55.0%,#248d89 60.0%,#23898a 65.0%,#22878a 70.0%,#21858a 75.0%,#21858a 80.0%,#21848a 85.0%,#21848a 90.0%,#21848a 95.0%,#21848a 100.0%)"></div>
<div style="left:37.60px;top:109.20px;width:122.80px;height:1.60px;background:linear-gradient(90deg,#e8e24e 0.0%,#cdda57 5.0%,#b7d55d 10.0%,#a6d161 15.0%,#96cd64 20.0%,#87c968 25.0%,#77c56c 30.0%,#63be71 35.0%,#4cb578 40.0%,#3aaa7f 45.0%,#2f9f85 50.0%,#289688 55.0%,#269089 60.0%,#248d89 65.0%,#238b89 70.0%,#23898a 75.0%,#23898a 80.0%,#23888a 85.0%,#22888a 90.0%,#22888a 95.0%,#22888a 100.0%)"></div>
<div style="left:37.60px;top:110.20px;width:122.80px;height:1.60px;background:linear-gradient(90deg,#e8e24e 0.0%,#cdda57 5.0%,#b8d55d 10.0%,#a6d161 15.0%,#97ce64 20.0%,#88ca68 25.0%,#78c56b 30.0%,#65bf70 35.0%,#4fb677 40.0%,#3bab7e 45.0%,#31a183 50.0%,#2a9a87 55.0%,#279488 60.0%,#269088 65.0%,#258f89 70.0%,#258e89 75.0%,#248d89 80.0%,#248d89 85.0%,#248c89 90.0%,#248c89 95.0%,#248c89 100.0%)"></div>
<div style="left:37.60px;top:111.20px;width:122.80px;height:1.60px;background:linear-gradient(90deg,#e8e24e 0.0%,#cdda57 5.0%,#b8d55d 10.0%,#a7d161 15.0%,#97ce64 20.0%,#89ca67 25.0%,#7ac66b 30.0%,#67c070 35.0%,#51b776 40.0%,#3dad7d 45.0%,#34a482 50.0%,#2c9c86 55.0%,#299887 60.0%,#289488 65.0%,#279388 70.0%,#269288 75.0%,#269188 80.0%,#269188 85.0%,#269188 90.0%,#269088 95.0%,#269088 100.0%)"></div>
<div style="left:37.60px;top:112.20px;width:122.80px;height:1.60px;background:linear-gradient(90deg,#e8e24e 0.0%,#cdda57 5.0%,#b8d55d 10.0%,#a7d161 15.0%,#98ce64 20.0%,#8aca67 25.0%,#7bc66a 30.0%,#69c16f 35.0%,#54b876 40.0%,#3faf7c 45.0%,#36a681 50.0%,#2f9f84 55.0%,#2b9b86 60.0%,#299887 65.0%,#299788 70.0%,#289688 75.0%,#289588 80.0%,#289588 85.0%,#289588 90.0%,#289588 95.0%,#289588 100.0%)"></div>
<div style="left:37.60px;top:113.20px;width:122.80px;height:1.60px;background:linear-gradient(90deg,#e8e24e 0.0%,#cdda57 5.0%,#b9d55d 10.0%,#a8d260 15.0%,#99ce64 20.0%,#8ccb67 25.0%,#7dc76a 30.0%,#6bc26e 35.0%,#57ba75 40.0%,#43b17b 45.0%,#39a980 50.0%,#32a283 55.0%,#2e9e85 60.0%,#2c9c86 65.0%,#2b9b87 70.0%,#2a9a87 75.0%,#2a9987 80.0%,#2a9987 85.0%,#2a9987 90.0%,#2a9987 95.0%,#299987 100.0%)"></div>
<div style="left:37.60px;top:114.20px;width:122.80px;height:1.60px;background:linear-gradient(90deg,#e8e24e 0.0%,#cdda57 5.0%,#b9d55d 10.0%,#a8d260 15.0%,#9acf63 20.0%,#8dcb66 25.0%,#7fc76a 30.0%,#6dc26e 35.0%,#5abb74 40.0%,#47b37a 45.0%,#3bab7e 50.0%,#35a581 55.0%,#32a283 60.0%,#2f9f84 65.0%,#2e9e85 70.0%,#2d9d85 75.0%,#2d9d85 80.0%,#2d9d86 85.0%,#2d9d86 90.0%,#2d9d86 95.0%,#2d9d86 100.0%)"></div>
<div style="left:37.60px;top:115.20px;width:122.80px;height:1.60px;background:linear-gradient(90deg,#e8e24e 0.0%,#cdda57 5.0%,#b9d55d 10.0%,#a9d260 15.0%,#9bcf63 20.0%,#8ecb66 25.0%,#81c869 30.0%,#70c36d 35.0%,#5dbc73 40.0%,#4bb479 45.0%,#3eae7d 50.0%,#38a880 55.0%,#35a582 60.0%,#33a383 65.0%,#32a283 70.0%,#31a184 75.0%,#31a184 80.0%,#30a084 85.0%,#30a084 90.0%,#30a084 95.0%,#30a084 100.0%)"></div>
<div style="left:37.60px;top:116.20px;width:122.80px;height:1.60px;background:linear-gradient(90deg,#e8e24e 0.0%,#cdda57 5.0%,#b9d55d 10.0%,#aad260 15.0%,#9ccf63 20.0%,#90cc66 25.0%,#83c869 30.0%,#73c46c 35.0%,#61bd72 40.0%,#4fb677 45.0%,#41b07c 50.0%,#3bab7e 55.0%,#38a880 60.0%,#36a681 65.0%,#35a581 70.0%,#34a482 75.0%,#34a482 80.0%,#34a482 85.0%,#34a482 90.0%,#34a482 95.0%,#34a482 100.0%)"></div>
<div style="left:37.60px;top:117.20px;width:122.80px;height:1.60px;background:linear-gradient(90deg,#e8e24e 0.0%,#cdda57 5.0%,#bad65c 10.0%,#aad260 15.0%,#9dcf63 20.0%,#91cc65 25.0%,#85c968 30.0%,#75c56c 35.0%,#64bf71 40.0%,#53b876 45.0%,#46b27a 50.0%,#3eae7d 55.0%,#3bab7e 60.0%,#39a97f 65.0%,#38a880 70.0%,#38a880 75.0%,#38a880 80.0%,#37a780 85.0%,#37a780 90.0%,#37a780 95.0%,#37a780 100.0%)"></div>
<div style="left:37.60px;top:118.20px;width:122.80px;height:1.60px;background:linear-gradient(90deg,#e8e24e 0.0%,#cdda57 5.0%,#bad65c 10.0%,#abd260 15.0%,#9fd062 20.0%,#93cd65 25.0%,#87c968 30.0%,#78c56b 35.0%,#67c06f 40.0%,#58ba74 45.0%,#4bb578 50.0%,#42b17b 55.0%,#3eae7d 60.0%,#3dad7e 65.0%,#3cac7e 70.0%,#3bab7e 75.0%,#3bab7e 80.0%,#3bab7f 85.0%,#3bab7f 90.0%,#3bab7f 95.0%,#3bab7f 100.0%)"></div>
<div style="left:37.60px;top:119.20px;width:122.80px;height:1.60px;background:linear-gradient(90deg,#e8e24e 0.0%,#ceda57 5.0%,#bbd65c 10.0%,#acd260 15.0%,#a0d062 20.0%,#95cd65 25.0%,#89ca67 30.0%,#7bc66b 35.0%,#6bc16e 40.0%,#5cbc73 45.0%,#50b777 50.0%,#48b379 55.0%,#43b17b 60.0%,#40b07c 65.0%,#3faf7c 70.0%,#3faf7d 75.0%,#3eae7d 80.0%,#3eae7d 85.0%,#3eae7d 90.0%,#3eae7d 95.0%,#3eae7d 100.0%)"></div>
<div style="left:37.60px;top:120.20px;width:122.80px;height:1.60px;background:linear-gradient(90deg,#e8e24e 0.0%,#ceda57 5.0%,#bbd65c 10.0%,#add35f 15.0%,#a1d062 20.0%,#96cd64 25.0%,#8bca67 30.0%,#7ec76a 35.0%,#6ec36d 40.0%,#60bd72 45.0%,#55b975 50.0%,#4eb678 55.0%,#49b479 60.0%,#46b37a 65.0%,#45b27a 70.0%,#44b27b 75.0%,#44b27b 80.0%,#43b17b 85.0%,#43b17b 90.0%,#43b17b 95.0%,#43b17b 100.0%)"></div>
<div style="left:37.60px;top:121.20px;width:122.80px;height:1.60px;background:linear-gradient(90deg,#e8e24e 0.0%,#cedb57 5.0%,#bcd65c 10.0%,#add35f 15.0%,#a2d062 20.0%,#98ce64 25.0%,#8ecb66 30.0%,#81c869 35.0%,#72c46d 40.0%,#65bf70 45.0%,#5bbb74 50.0%,#54b876 55.0%,#4fb677 60.0%,#4db578 65.0%,#4bb578 70.0%,#4bb479 75.0%,#4ab479 80.0%,#4ab479 85.0%,#4ab479 90.0%,#4ab479 95.0%,#4ab479 100.0%)"></div>
<div style="left:37.60px;top:122.20px;width:122.80px;height:1.60px;background:linear-gradient(90deg,#e8e24e 0.0%,#cedb57 5.0%,#bcd65c 10.0%,#aed35f 15.0%,#a3d161 20.0%,#9ace63 25.0%,#90cc66 30.0%,#84c869 35.0%,#76c56c 40.0%,#69c16f 45.0%,#60bd72 50.0%,#59ba74 55.0%,#55b975 60.0%,#53b876 65.0%,#52b776 70.0%,#51b777 75.0%,#51b777 80.0%,#51b777 85.0%,#50b777 90.0%,#50b777 95.0%,#50b777 100.0%)"></div>
<div style="left:37.60px;top:123.20px;width:122.80px;height:1.60px;background:linear-gradient(90deg,#e8e24e 0.0%,#cedb57 5.0%,#bdd65c 10.0%,#afd35f 15.0%,#a4d161 20.0%,#9ccf63 25.0%,#92cc65 30.0%,#87c968 35.0%,#7ac66b 40.0%,#6ec26e 45.0%,#65bf70 50.0%,#5fbd72 55.0%,#5bbb73 60.0%,#59ba74 65.0%,#58ba74 70.0%,#57ba75 75.0%,#57b975 80.0%,#57b975 85.0%,#57b975 90.0%,#57b975 95.0%,#57b975 100.0%)"></div>
<div style="left:37.60px;top:124.20px;width:122.80px;height:1.60px;background:linear-gradient(90deg,#e8e24e 0.0%,#cedb57 5.0%,#bdd65c 10.0%,#b0d35f 15.0%,#a6d161 20.0%,#9ecf63 25.0%,#95cd65 30.0%,#8aca67 35.0%,#7ec76a 40.0%,#72c46d 45.0%,#6ac16f 50.0%,#64bf70 55.0%,#61bd72 60.0%,#5fbd72 65.0%,#5ebc72 70.0%,#5dbc73 75.0%,#5dbc73 80.0%,#5dbc73 85.0%,#5dbc73 90.0%,#5dbc73 95.0%,#5dbc73 100.0%)"></div>
<div style="left:37.60px;top:125.20px;width:122.80px;height:1.60px;background:linear-gradient(90deg,#e8e24e 0.0%,#cedb57 5.0%,#bed65c 10.0%,#b1d45e 15.0%,#a7d161 20.0%,#9fd062 25.0%,#97ce64 30.0%,#8dcb67 35.0%,#81c869 40.0%,#77c56b 45.0%,#6fc36d 50.0%,#6ac16f 55.0%,#67c070 60.0%,#65bf70 65.0%,#64bf71 70.0%,#63be71 75.0%,#63be71 80.0%,#63be71 85.0%,#63be71 90.0%,#63be71 95.0%,#63be71 100.0%)"></div>
<div style="left:37.60px;top:126.20px;width:122.80px;height:1.60px;background:linear-gradient(90deg,#e8e24e 0.0%,#cfdb57 5.0%,#bed65c 10.0%,#b2d45e 15.0%,#a8d260 20.0%,#a1d062 25.0%,#99ce64 30.0%,#90cc66 35.0%,#85c968 40.0%,#7bc66a 45.0%,#74c46c 50.0%,#6fc36d 55.0%,#6cc26e 60.0%,#6ac16f 65.0%,#6ac16f 70.0%,#69c16f 75.0%,#69c16f 80.0%,#69c16f 85.0%,#69c16f 90.0%,#68c16f 95.0%,#68c16f 100.0%)"></div>
<div style="left:37.60px;top:127.20px;width:122.80px;height:1.60px;background:linear-gradient(90deg,#e8e24e 0.0%,#cfdb57 5.0%,#bfd75b 10.0%,#b3d45e 15.0%,#aad260 20.0%,#a3d062 25.0%,#9ccf63 30.0%,#93cc65 35.0%,#89ca67 40.0%,#80c769 45.0%,#79c66b 50.0%,#74c46c 55.0%,#72c46d 60.0%,#70c36d 65.0%,#6fc36d 70.0%,#6fc36d 75.0%,#6ec36d 80.0%,#6ec36d 85.0%,#6ec36d 90.0%,#6ec36e 95.0%,#6ec36e 100.0%)"></div>
<div style="left:37.60px;top:128.20px;width:122.80px;height:1.60px;background:linear-gradient(90deg,#e8e24e 0.0%,#cfdb57 5.0%,#bfd75b 10.0%,#b4d45e 15.0%,#abd260 20.0%,#a4d161 25.0%,#9ecf63 30.0%,#96cd64 35.0%,#8ccb67 40.0%,#84c968 45.0%,#7ec76a 50.0%,#7ac66b 55.0%,#77c56b 60.0%,#76c56c 65.0%,#75c46c 70.0%,#74c46c 75.0%,#74c46c 80.0%,#74c46c 85.0%,#74c46c 90.0%,#74c46c 95.0%,#74c46c 100.0%)"></div>
<div style="left:37.60px;top:129.20px;width:122.80px;height:1.60px;background:linear-gradient(90deg,#e8e24e 0.0%,#cfdb57 5.0%,#c0d75b 10.0%,#b5d45e 15.0%,#acd35f 20.0%,#a6d161 25.0%,#a0d062 30.0%,#99ce64 35.0%,#90cc66 40.0%,#88ca68 45.0%,#82c869 50.0%,#7fc76a 55.0%,#7cc66a 60.0%,#7bc66b 65.0%,#7ac66b 70.0%,#7ac66b 75.0%,#7ac66b 80.0%,#7ac66b 85.0%,#79c66b 90.0%,#79c66b 95.0%,#79c66b 100.0%)"></div>
<div style="left:37.60px;top:130.20px;width:122.80px;height:1.60px;background:linear-gradient(90deg,#e8e24e 0.0%,#cfdb56 5.0%,#c0d75b 10.0%,#b6d55d 15.0%,#aed35f 20.0%,#a8d260 25.0%,#a2d062 30.0%,#9bcf63 35.0%,#93cd65 40.0%,#8ccb67 45.0%,#87c968 50.0%,#83c869 55.0%,#81c869 60.0%,#80c769 65.0%,#7fc76a 70.0%,#7fc76a 75.0%,#7fc76a 80.0%,#7fc76a 85.0%,#7fc76a 90.0%,#7fc76a 95.0%,#7fc76a 100.0%)"></div>
<div style="left:37.60px;top:131.20px;width:122.80px;height:1.60px;background:linear-gradient(90deg,#e8e24e 0.0%,#cfdb56 5.0%,#c1d75b 10.0%,#b7d55d 15.0%,#afd35f 20.0%,#a9d260 25.0%,#a4d161 30.0%,#9ecf63 35.0%,#97ce64 40.0%,#90cc66 45.0%,#8bca67 50.0%,#88ca68 55.0%,#86c968 60.0%,#85c968 65.0%,#84c968 70.0%,#84c869 75.0%,#84c869 80.0%,#84c869 85.0%,#83c869 90.0%,#83c869 95.0%,#83c869 100.0%)"></div>
<div style="left:37.60px;top:132.20px;width:122.80px;height:1.60px;background:linear-gradient(90deg,#e8e24e 0.0%,#d0db56 5.0%,#c2d75b 10.0%,#b8d55d 15.0%,#b0d35f 20.0%,#abd260 25.0%,#a6d161 30.0%,#a0d062 35.0%,#9ace64 40.0%,#93cd65 45.0%,#8fcb66 50.0%,#8ccb67 55.0%,#8aca67 60.0%,#89ca67 65.0%,#89ca67 70.0%,#88ca68 75.0%,#88ca68 80.0%,#88ca68 85.0%,#88ca68 90.0%,#88ca68 95.0%,#88ca68 100.0%)"></div>
<div style="left:37.60px;top:133.20px;width:122.80px;height:1.60px;background:linear-gradient(90deg,#e8e24e 0.0%,#d0db56 5.0%,#c2d75b 10.0%,#b9d55d 15.0%,#b1d45e 20.0%,#acd35f 25.0%,#a7d260 30.0%,#a2d062 35.0%,#9ccf63 40.0%,#97ce64 45.0%,#93cc65 50.0%,#90cc66 55.0%,#8ecb66 60.0%,#8dcb66 65.0%,#8dcb67 70.0%,#8ccb67 75.0%,#8ccb67 80.0%,#8ccb67 85.0%,#8ccb67 90.0%,#8ccb67 95.0%,#8ccb67 100.0%)"></div>
<div style="left:37.60px;top:134.20px;width:122.80px;height:1.60px;background:linear-gradient(90deg,#e8e24e 0.0%,#d0db56 5.0%,#c3d85a 10.0%,#b9d55d 15.0%,#b3d45e 20.0%,#aed35f 25.0%,#a9d260 30.0%,#a4d161 35.0%,#9fd062 40.0%,#9ace64 45.0%,#96cd64 50.0%,#93cd65 55.0%,#92cc65 60.0%,#91cc66 65.0%,#90cc66 70.0%,#90cc66 75.0%,#90cc66 80.0%,#90cc66 85.0%,#90cc66 90.0%,#90cc66 95.0%,#90cc66 100.0%)"></div>
<div style="left:37.60px;top:135.20px;width:122.80px;height:1.60px;background:linear-gradient(90deg,#e8e24e 0.0%,#d0db56 5.0%,#c3d85a 10.0%,#bad65c 15.0%,#b4d45e 20.0%,#afd35f 25.0%,#abd260 30.0%,#a6d161 35.0%,#a1d062 40.0%,#9ccf63 45.0%,#99ce64 50.0%,#96ce64 55.0%,#95cd65 60.0%,#94cd65 65.0%,#94cd65 70.0%,#94cd65 75.0%,#94cd65 80.0%,#93cd65 85.0%,#93cd65 90.0%,#93cd65 95.0%,#93cd65 100.0%)"></div>
<div style="left:37.60px;top:136.20px;width:122.80px;height:1.60px;background:linear-gradient(90deg,#e8e24e 0.0%,#d0db56 5.0%,#c4d85a 10.0%,#bbd65c 15.0%,#b5d45e 20.0%,#b0d35f 25.0%,#acd35f 30.0%,#a7d161 35.0%,#a3d062 40.0%,#9fd062 45.0%,#9ccf63 50.0%,#99ce64 55.0%,#98ce64 60.0%,#97ce64 65.0%,#97ce64 70.0%,#97ce64 75.0%,#97ce64 80.0%,#96ce64 85.0%,#96cd64 90.0%,#96cd64 95.0%,#96cd64 100.0%)"></div>
<div style="left:37.60px;top:137.20px;width:122.80px;height:1.60px;background:linear-gradient(90deg,#e8e24e 0.0%,#d0db56 5.0%,#c4d85a 10.0%,#bcd65c 15.0%,#b6d55d 20.0%,#b1d45e 25.0%,#add35f 30.0%,#a9d260 35.0%,#a4d161 40.0%,#a0d062 45.0%,#9ecf63 50.0%,#9ccf63 55.0%,#9bcf63 60.0%,#9ace63 65.0%,#9ace64 70.0%,#99ce64 75.0%,#99ce64 80.0%,#99ce64 85.0%,#99ce64 90.0%,#99ce64 95.0%,#99ce64 100.0%)"></div>
<div style="left:37.60px;top:138.20px;width:122.80px;height:1.60px;background:linear-gradient(90deg,#e8e24e 0.0%,#d1db56 5.0%,#c5d85a 10.0%,#bcd65c 15.0%,#b6d55d 20.0%,#b2d45e 25.0%,#aed35f 30.0%,#aad260 35.0%,#a6d161 40.0%,#a2d062 45.0%,#9fd062 50.0%,#9ecf63 55.0%,#9dcf63 60.0%,#9ccf63 65.0%,#9ccf63 70.0%,#9ccf63 75.0%,#9bcf63 80.0%,#9bcf63 85.0%,#9bcf63 90.0%,#9bcf63 95.0%,#9bcf63 100.0%)"></div>
<div style="left:37.60px;top:139.20px;width:122.80px;height:1.60px;background:linear-gradient(90deg,#e8e24e 0.0%,#d1db56 5.0%,#c5d85a 10.0%,#bdd65c 15.0%,#b7d55d 20.0%,#b3d45e 25.0%,#afd35f 30.0%,#abd260 35.0%,#a7d161 40.0%,#a3d161 45.0%,#a1d062 50.0%,#9fd062 55.0%,#9ecf63 60.0%,#9ecf63 65.0%,#9dcf63 70.0%,#9dcf63 75.0%,#9dcf63 80.0%,#9dcf63 85.0%,#9dcf63 90.0%,#9dcf63 95.0%,#9dcf63 100.0%)"></div>
<div style="left:37.60px;top:140.20px;width:122.80px;height:1.60px;background:linear-gradient(90deg,#e8e24e 0.0%,#d1db56 5.0%,#c5d85a 10.0%,#bdd65c 15.0%,#b8d55d 20.0%,#b3d45e 25.0%,#b0d35f 30.0%,#acd260 35.0%,#a8d260 40.0%,#a4d161 45.0%,#a2d062 50.0%,#a0d062 55.0%,#9fd062 60.0%,#9fd062 65.0%,#9fd062 70.0%,#9ed062 75.0%,#9ed062 80.0%,#9ed062 85.0%,#9ecf63 90.0%,#9ecf63 95.0%,#9ecf63 100.0%)"></div>
<div style="left:37.60px;top:141.20px;width:122.80px;height:1.60px;background:linear-gradient(90deg,#e8e24e 0.0%,#d1db56 5.0%,#c5d85a 10.0%,#bdd65c 15.0%,#b8d55d 20.0%,#b4d45e 25.0%,#b0d35f 30.0%,#acd35f 35.0%,#a8d260 40.0%,#a5d161 45.0%,#a3d062 50.0%,#a1d062 55.0%,#a0d062 60.0%,#a0d062 65.0%,#9fd062 70.0%,#9fd062 75.0%,#9fd062 80.0%,#9fd062 85.0%,#9fd062 90.0%,#9fd062 95.0%,#9fd062 100.0%)"></div>
<div style="left:37.60px;top:142.20px;width:122.80px;height:1.60px;background:linear-gradient(90deg,#e8e24e 0.0%,#d1db56 5.0%,#c5d85a 10.0%,#bed65c 15.0%,#b8d55d 20.0%,#b4d45e 25.0%,#b1d45e 30.0%,#add35f 35.0%,#a9d260 40.0%,#a6d161 45.0%,#a3d161 50.0%,#a2d062 55.0%,#a1d062 60.0%,#a0d062 65.0%,#a0d062 70.0%,#a0d062 75.0%,#a0d062 80.0%,#a0d062 85.0%,#a0d062 90.0%,#a0d062 95.0%,#a0d062 100.0%)"></div>
<div style="left:37.60px;top:143.20px;width:122.80px;height:1.00px;background:linear-gradient(90deg,#e8e24e 0.0%,#d1db56 5.0%,#c5d85a 10.0%,#bed65c 15.0%,#b8d55d 20.0%,#b4d45e 25.0%,#b1d45e 30.0%,#add35f 35.0%,#a9d260 40.0%,#a6d161 45.0%,#a3d161 50.0%,#a2d062 55.0%,#a1d062 60.0%,#a0d062 65.0%,#a0d062 70.0%,#a0d062 75.0%,#a0d062 80.0%,#a0d062 85.0%,#a0d062 90.0%,#a0d062 95.0%,#a0d062 100.0%)"></div>
<div style="left:45.60px;top:216.60px;width:177.50px;height:1.60px;background:linear-gradient(90deg,#200b60 0%,#200b60 3.24%,#201769 3.24%,#201769 10.85%,#212471 10.85%,#212471 16.48%,#203078 16.48%,#203078 21.27%,#1f3a7d 21.27%,#1f3a7d 25.49%,#1d4582 25.49%,#1d4582 29.15%,#1d5085 29.15%,#1d5085 32.82%,#1c5a87 32.82%,#1c5a87 36.20%,#1c6589 36.20%,#1c6589 39.58%,#1d6f8a 39.58%,#1d6f8a 42.68%,#1e798b 42.68%,#1e798b 45.77%,#20838a 45.77%,#20838a 48.87%,#258d89 48.87%,#258d89 51.69%,#299787 51.69%,#299787 54.79%,#30a084 54.79%,#30a084 57.89%,#38a880 57.89%,#38a880 60.99%,#40b07c 60.99%,#40b07c 64.08%,#50b777 64.08%,#50b777 67.46%,#61bd72 67.46%,#61bd72 70.56%,#72c46d 70.56%,#72c46d 74.23%,#84c869 74.23%,#84c869 77.89%,#96cd64 77.89%,#96cd64 82.11%,#a6d161 82.11%,#a6d161 86.62%,#b5d55d 86.62%,#b5d55d 91.97%,#c5d85a 91.97%,#c5d85a 98.45%,#d2dc56 98.45%,#d2dc56 100%)"></div>
<div style="left:45.60px;top:217.60px;width:177.50px;height:1.60px;background:linear-gradient(90deg,#200b60 0%,#200b60 2.11%,#201769 2.11%,#201769 10.00%,#212471 10.00%,#212471 15.92%,#203078 15.92%,#203078 20.70%,#1f3a7d 20.70%,#1f3a7d 24.93%,#1d4582 24.93%,#1d4582 28.87%,#1d5085 28.87%,#1d5085 32.54%,#1c5a87 32.54%,#1c5a87 35.92%,#1c6589 35.92%,#1c6589 39.30%,#1d6f8a 39.30%,#1d6f8a 42.39%,#1e798b 42.39%,#1e798b 45.49%,#20838a 45.49%,#20838a 48.59%,#258d89 48.59%,#258d89 51.41%,#299787 51.41%,#299787 54.51%,#30a084 54.51%,#30a084 57.61%,#38a880 57.61%,#38a880 60.70%,#40b07c 60.70%,#40b07c 63.80%,#50b777 63.80%,#50b777 67.18%,#61bd72 67.18%,#61bd72 70.56%,#72c46d 70.56%,#72c46d 73.94%,#84c869 73.94%,#84c869 77.89%,#96cd64 77.89%,#96cd64 81.83%,#a6d161 81.83%,#a6d161 86.62%,#b5d55d 86.62%,#b5d55d 91.69%,#c5d85a 91.69%,#c5d85a 98.45%,#d2dc56 98.45%,#d2dc56 100%)"></div>
<div style="left:45.60px;top:218.60px;width:177.50px;height:1.60px;background:linear-gradient(90deg,#200b60 0%,#200b60 0.99%,#201769 0.99%,#201769 9.44%,#212471 9.44%,#212471 15.35%,#203078 15.35%,#203078 20.42%,#1f3a7d 20.42%,#1f3a7d 24.65%,#1d4582 24.65%,#1d4582 28.59%,#1d5085 28.59%,#1d5085 32.25%,#1c5a87 32.25%,#1c5a87 35.63%,#1c6589 35.63%,#1c6589 38.73%,#1d6f8a 38.73%,#1d6f8a 42.11%,#1e798b 42.11%,#1e798b 45.21%,#20838a 45.21%,#20838a 48.31%,#258d89 48.31%,#258d89 51.13%,#299787 51.13%,#299787 54.23%,#30a084 54.23%,#30a084 57.32%,#38a880 57.32%,#38a880 60.42%,#40b07c 60.42%,#40b07c 63.52%,#50b777 63.52%,#50b777 66.90%,#61bd72 66.90%,#61bd72 70.28%,#72c46d 70.28%,#72c46d 73.94%,#84c869 73.94%,#84c869 77.61%,#96cd64 77.61%,#96cd64 81.83%,#a6d161 81.83%,#a6d161 86.34%,#b5d55d 86.34%,#b5d55d 91.69%,#c5d85a 91.69%,#c5d85a 98.45%,#d2dc56 98.45%,#d2dc56 100%)"></div>
<div style="left:45.60px;top:219.60px;width:177.50px;height:1.60px;background:linear-gradient(90deg,#201769 0%,#201769 8.59%,#212471 8.59%,#212471 14.79%,#203078 14.79%,#203078 19.86%,#1f3a7d 19.86%,#1f3a7d 24.08%,#1d4582 24.08%,#1d4582 28.03%,#1d5085 28.03%,#1d5085 31.69%,#1c5a87 31.69%,#1c5a87 35.35%,#1c6589 35.35%,#1c6589 38.45%,#1d6f8a 38.45%,#1d6f8a 41.83%,#1e798b 41.83%,#1e798b 44.93%,#20838a 44.93%,#20838a 48.03%,#258d89 48.03%,#258d89 51.13%,#299787 51.13%,#299787 53.94%,#30a084 53.94%,#30a084 57.04%,#38a880 57.04%,#38a880 60.14%,#40b07c 60.14%,#40b07c 63.52%,#50b777 63.52%,#50b777 66.62%,#61bd72 66.62%,#61bd72 70.00%,#72c46d 70.00%,#72c46d 73.66%,#84c869 73.66%,#84c869 77.61%,#96cd64 77.61%,#96cd64 81.55%,#a6d161 81.55%,#a6d161 86.34%,#b5d55d 86.34%,#b5d55d 91.69%,#c5d85a 91.69%,#c5d85a 98.45%,#d2dc56 98.45%,#d2dc56 100%)"></div>
<div style="left:45.60px;top:220.60px;width:177.50px;height:1.60px;background:linear-gradient(90deg,#201769 0%,#201769 8.03%,#212471 8.03%,#212471 14.23%,#203078 14.23%,#203078 19.30%,#1f3a7d 19.30%,#1f3a7d 23.80%,#1d4582 23.80%,#1d4582 27.75%,#1d5085 27.75%,#1d5085 31.41%,#1c5a87 31.41%,#1c5a87 34.79%,#1c6589 34.79%,#1c6589 38.17%,#1d6f8a 38.17%,#1d6f8a 41.55%,#1e798b 41.55%,#1e798b 44.65%,#20838a 44.65%,#20838a 47.75%,#258d89 47.75%,#258d89 50.85%,#299787 50.85%,#299787 53.66%,#30a084 53.66%,#30a084 56.76%,#38a880 56.76%,#38a880 59.86%,#40b07c 59.86%,#40b07c 63.24%,#50b777 63.24%,#50b777 66.34%,#61bd72 66.34%,#61bd72 69.72%,#72c46d 69.72%,#72c46d 73.38%,#84c869 73.38%,#84c869 77.32%,#96cd64 77.32%,#96cd64 81.55%,#a6d161 81.55%,#a6d161 86.06%,#b5d55d 86.06%,#b5d55d 91.69%,#c5d85a 91.69%,#c5d85a 98.45%,#d2dc56 98.45%,#d2dc56 100%)"></div>
<div style="left:45.60px;top:221.60px;width:177.50px;height:1.60px;background:linear-gradient(90deg,#201769 0%,#201769 7.18%,#212471 7.18%,#212471 13.66%,#203078 13.66%,#203078 18.73%,#1f3a7d 18.73%,#1f3a7d 23.24%,#1d4582 23.24%,#1d4582 27.46%,#1d5085 27.46%,#1d5085 31.13%,#1c5a87 31.13%,#1c5a87 34.51%,#1c6589 34.51%,#1c6589 37.89%,#1d6f8a 37.89%,#1d6f8a 40.99%,#1e798b 40.99%,#1e798b 44.37%,#20838a 44.37%,#20838a 47.46%,#258d89 47.46%,#258d89 50.28%,#299787 50.28%,#299787 53.38%,#30a084 53.38%,#30a084 56.48%,#38a880 56.48%,#38a880 59.58%,#40b07c 59.58%,#40b07c 62.96%,#50b777 62.96%,#50b777 66.06%,#61bd72 66.06%,#61bd72 69.72%,#72c46d 69.72%,#72c46d 73.10%,#84c869 73.10%,#84c869 77.04%,#96cd64 77.04%,#96cd64 81.27%,#a6d161 81.27%,#a6d161 86.06%,#b5d55d 86.06%,#b5d55d 91.41%,#c5d85a 91.41%,#c5d85a 98.45%,#d2dc56 98.45%,#d2dc56 100%)"></div>
<div style="left:45.60px;top:222.60px;width:177.50px;height:1.60px;background:linear-gradient(90deg,#201769 0%,#201769 6.34%,#212471 6.34%,#212471 13.10%,#203078 13.10%,#203078 18.45%,#1f3a7d 18.45%,#1f3a7d 22.96%,#1d4582 22.96%,#1d4582 26.90%,#1d5085 26.90%,#1d5085 30.56%,#1c5a87 30.56%,#1c5a87 34.23%,#1c6589 34.23%,#1c6589 37.61%,#1d6f8a 37.61%,#1d6f8a 40.70%,#1e798b 40.70%,#1e798b 43.80%,#20838a 43.80%,#20838a 46.90%,#258d89 46.90%,#258d89 50.00%,#299787 50.00%,#299787 53.10%,#30a084 53.10%,#30a084 56.20%,#38a880 56.20%,#38a880 59.30%,#40b07c 59.30%,#40b07c 62.68%,#50b777 62.68%,#50b777 66.06%,#61bd72 66.06%,#61bd72 69.44%,#72c46d 69.44%,#72c46d 73.10%,#84c869 73.10%,#84c869 76.76%,#96cd64 76.76%,#96cd64 80.99%,#a6d161 80.99%,#a6d161 85.77%,#b5d55d 85.77%,#b5d55d 91.41%,#c5d85a 91.41%,#c5d85a 98.45%,#d2dc56 98.45%,#d2dc56 100%)"></div>
<div style="left:45.60px;top:223.60px;width:177.50px;height:1.60px;background:linear-gradient(90deg,#201769 0%,#201769 5.21%,#212471 5.21%,#212471 12.25%,#203078 12.25%,#203078 17.89%,#1f3a7d 17.89%,#1f3a7d 22.39%,#1d4582 22.39%,#1d4582 26.62%,#1d5085 26.62%,#1d5085 30.28%,#1c5a87 30.28%,#1c5a87 33.66%,#1c6589 33.66%,#1c6589 37.04%,#1d6f8a 37.04%,#1d6f8a 40.42%,#1e798b 40.42%,#1e798b 43.52%,#20838a 43.52%,#20838a 46.62%,#258d89 46.62%,#258d89 49.72%,#299787 49.72%,#299787 52.82%,#30a084 52.82%,#30a084 55.92%,#38a880 55.92%,#38a880 59.01%,#40b07c 59.01%,#40b07c 62.39%,#50b777 62.39%,#50b777 65.77%,#61bd72 65.77%,#61bd72 69.15%,#72c46d 69.15%,#72c46d 72.82%,#84c869 72.82%,#84c869 76.76%,#96cd64 76.76%,#96cd64 80.99%,#a6d161 80.99%,#a6d161 85.77%,#b5d55d 85.77%,#b5d55d 91.41%,#c5d85a 91.41%,#c5d85a 98.45%,#d2dc56 98.45%,#d2dc56 100%)"></div>
<div style="left:45.60px;top:224.60px;width:177.50px;height:1.60px;background:linear-gradient(90deg,#201769 0%,#201769 4.37%,#212471 4.37%,#212471 11.69%,#203078 11.69%,#203078 17.32%,#1f3a7d 17.32%,#1f3a7d 21.83%,#1d4582 21.83%,#1d4582 26.06%,#1d5085 26.06%,#1d5085 29.72%,#1c5a87 29.72%,#1c5a87 33.38%,#1c6589 33.38%,#1c6589 36.76%,#1d6f8a 36.76%,#1d6f8a 40.14%,#1e798b 40.14%,#1e798b 43.24%,#20838a 43.24%,#20838a 46.34%,#258d89 46.34%,#258d89 49.44%,#299787 49.44%,#299787 52.54%,#30a084 52.54%,#30a084 55.63%,#38a880 55.63%,#38a880 58.73%,#40b07c 58.73%,#40b07c 62.11%,#50b777 62.11%,#50b777 65.49%,#61bd72 65.49%,#61bd72 68.87%,#72c46d 68.87%,#72c46d 72.54%,#84c869 72.54%,#84c869 76.48%,#96cd64 76.48%,#96cd64 80.70%,#a6d161 80.70%,#a6d161 85.49%,#b5d55d 85.49%,#b5d55d 91.13%,#c5d85a 91.13%,#c5d85a 98.45%,#d2dc56 98.45%,#d2dc56 100%)"></div>
<div style="left:45.60px;top:225.60px;width:177.50px;height:1.60px;background:linear-gradient(90deg,#201769 0%,#201769 3.24%,#212471 3.24%,#212471 11.13%,#203078 11.13%,#203078 16.76%,#1f3a7d 16.76%,#1f3a7d 21.55%,#1d4582 21.55%,#1d4582 25.49%,#1d5085 25.49%,#1d5085 29.44%,#1c5a87 29.44%,#1c5a87 33.10%,#1c6589 33.10%,#1c6589 36.48%,#1d6f8a 36.48%,#1d6f8a 39.86%,#1e798b 39.86%,#1e798b 42.96%,#20838a 42.96%,#20838a 46.06%,#258d89 46.06%,#258d89 49.15%,#299787 49.15%,#299787 52.25%,#30a084 52.25%,#30a084 55.35%,#38a880 55.35%,#38a880 58.45%,#40b07c 58.45%,#40b07c 61.83%,#50b777 61.83%,#50b777 65.21%,#61bd72 65.21%,#61bd72 68.59%,#72c46d 68.59%,#72c46d 72.25%,#84c869 72.25%,#84c869 76.20%,#96cd64 76.20%,#96cd64 80.42%,#a6d161 80.42%,#a6d161 85.21%,#b5d55d 85.21%,#b5d55d 91.13%,#c5d85a 91.13%,#c5d85a 98.45%,#d2dc56 98.45%,#d2dc56 100%)"></div>
<div style="left:45.60px;top:226.60px;width:177.50px;height:1.60px;background:linear-gradient(90deg,#201769 0%,#201769 2.11%,#212471 2.11%,#212471 10.28%,#203078 10.28%,#203078 16.20%,#1f3a7d 16.20%,#1f3a7d 20.99%,#1d4582 20.99%,#1d4582 25.21%,#1d5085 25.21%,#1d5085 28.87%,#1c5a87 28.87%,#1c5a87 32.54%,#1c6589 32.54%,#1c6589 35.92%,#1d6f8a 35.92%,#1d6f8a 39.30%,#1e798b 39.30%,#1e798b 42.68%,#20838a 42.68%,#20838a 45.77%,#258d89 45.77%,#258d89 48.87%,#299787 48.87%,#299787 51.97%,#30a084 51.97%,#30a084 55.07%,#38a880 55.07%,#38a880 58.17%,#40b07c 58.17%,#40b07c 61.55%,#50b777 61.55%,#50b777 64.93%,#61bd72 64.93%,#61bd72 68.31%,#72c46d 68.31%,#72c46d 71.97%,#84c869 71.97%,#84c869 75.92%,#96cd64 75.92%,#96cd64 80.14%,#a6d161 80.14%,#a6d161 85.21%,#b5d55d 85.21%,#b5d55d 90.85%,#c5d85a 90.85%,#c5d85a 98.45%,#d2dc56 98.45%,#d2dc56 100%)"></div>
<div style="left:45.60px;top:227.60px;width:177.50px;height:1.60px;background:linear-gradient(90deg,#201769 0%,#201769 0.99%,#212471 0.99%,#212471 9.44%,#203078 9.44%,#203078 15.35%,#1f3a7d 15.35%,#1f3a7d 20.42%,#1d4582 20.42%,#1d4582 24.65%,#1d5085 24.65%,#1d5085 28.59%,#1c5a87 28.59%,#1c5a87 32.25%,#1c6589 32.25%,#1c6589 35.63%,#1d6f8a 35.63%,#1d6f8a 39.01%,#1e798b 39.01%,#1e798b 42.11%,#20838a 42.11%,#20838a 45.49%,#258d89 45.49%,#258d89 48.59%,#299787 48.59%,#299787 51.69%,#30a084 51.69%,#30a084 54.79%,#38a880 54.79%,#38a880 57.89%,#40b07c 57.89%,#40b07c 61.27%,#50b777 61.27%,#50b777 64.65%,#61bd72 64.65%,#61bd72 68.03%,#72c46d 68.03%,#72c46d 71.69%,#84c869 71.69%,#84c869 75.63%,#96cd64 75.63%,#96cd64 79.86%,#a6d161 79.86%,#a6d161 84.93%,#b5d55d 84.93%,#b5d55d 90.56%,#c5d85a 90.56%,#c5d85a 98.45%,#d2dc56 98.45%,#d2dc56 100%)"></div>
<div style="left:45.60px;top:228.60px;width:177.50px;height:1.60px;background:linear-gradient(90deg,#212471 0%,#212471 8.59%,#203078 8.59%,#203078 14.79%,#1f3a7d 14.79%,#1f3a7d 19.86%,#1d4582 19.86%,#1d4582 24.08%,#1d5085 24.08%,#1d5085 28.03%,#1c5a87 28.03%,#1c5a87 31.69%,#1c6589 31.69%,#1c6589 35.35%,#1d6f8a 35.35%,#1d6f8a 38.73%,#1e798b 38.73%,#1e798b 41.83%,#20838a 41.83%,#20838a 44.93%,#258d89 44.93%,#258d89 48.03%,#299787 48.03%,#299787 51.41%,#30a084 51.41%,#30a084 54.51%,#38a880 54.51%,#38a880 57.61%,#40b07c 57.61%,#40b07c 60.99%,#50b777 60.99%,#50b777 64.08%,#61bd72 64.08%,#61bd72 67.75%,#72c46d 67.75%,#72c46d 71.41%,#84c869 71.41%,#84c869 75.35%,#96cd64 75.35%,#96cd64 79.58%,#a6d161 79.58%,#a6d161 84.65%,#b5d55d 84.65%,#b5d55d 90.56%,#c5d85a 90.56%,#c5d85a 98.17%,#d2dc56 98.17%,#d2dc56 100%)"></div>
<div style="left:45.60px;top:229.60px;width:177.50px;height:1.60px;background:linear-gradient(90deg,#212471 0%,#212471 7.75%,#203078 7.75%,#203078 14.23%,#1f3a7d 14.23%,#1f3a7d 19.30%,#1d4582 19.30%,#1d4582 23.80%,#1d5085 23.80%,#1d5085 27.75%,#1c5a87 27.75%,#1c5a87 31.41%,#1c6589 31.41%,#1c6589 34.79%,#1d6f8a 34.79%,#1d6f8a 38.17%,#1e798b 38.17%,#1e798b 41.55%,#20838a 41.55%,#20838a 44.65%,#258d89 44.65%,#258d89 47.75%,#299787 47.75%,#299787 50.85%,#30a084 50.85%,#30a084 54.23%,#38a880 54.23%,#38a880 57.32%,#40b07c 57.32%,#40b07c 60.42%,#50b777 60.42%,#50b777 63.80%,#61bd72 63.80%,#61bd72 67.46%,#72c46d 67.46%,#72c46d 71.13%,#84c869 71.13%,#84c869 75.07%,#96cd64 75.07%,#96cd64 79.30%,#a6d161 79.30%,#a6d161 84.37%,#b5d55d 84.37%,#b5d55d 90.28%,#c5d85a 90.28%,#c5d85a 98.17%,#d2dc56 98.17%,#d2dc56 100%)"></div>
<div style="left:45.60px;top:230.60px;width:177.50px;height:1.60px;background:linear-gradient(90deg,#212471 0%,#212471 6.90%,#203078 6.90%,#203078 13.66%,#1f3a7d 13.66%,#1f3a7d 18.73%,#1d4582 18.73%,#1d4582 23.24%,#1d5085 23.24%,#1d5085 27.18%,#1c5a87 27.18%,#1c5a87 30.85%,#1c6589 30.85%,#1c6589 34.51%,#1d6f8a 34.51%,#1d6f8a 37.89%,#1e798b 37.89%,#1e798b 40.99%,#20838a 40.99%,#20838a 44.37%,#258d89 44.37%,#258d89 47.46%,#299787 47.46%,#299787 50.56%,#30a084 50.56%,#30a084 53.66%,#38a880 53.66%,#38a880 57.04%,#40b07c 57.04%,#40b07c 60.14%,#50b777 60.14%,#50b777 63.52%,#61bd72 63.52%,#61bd72 67.18%,#72c46d 67.18%,#72c46d 70.85%,#84c869 70.85%,#84c869 74.79%,#96cd64 74.79%,#96cd64 79.01%,#a6d161 79.01%,#a6d161 84.08%,#b5d55d 84.08%,#b5d55d 90.00%,#c5d85a 90.00%,#c5d85a 97.89%,#d2dc56 97.89%,#d2dc56 100%)"></div>
<div style="left:45.60px;top:231.60px;width:177.50px;height:1.60px;background:linear-gradient(90deg,#212471 0%,#212471 6.06%,#203078 6.06%,#203078 12.82%,#1f3a7d 12.82%,#1f3a7d 18.17%,#1d4582 18.17%,#1d4582 22.68%,#1d5085 22.68%,#1d5085 26.62%,#1c5a87 26.62%,#1c5a87 30.56%,#1c6589 30.56%,#1c6589 33.94%,#1d6f8a 33.94%,#1d6f8a 37.32%,#1e798b 37.32%,#1e798b 40.70%,#20838a 40.70%,#20838a 43.80%,#258d89 43.80%,#258d89 47.18%,#299787 47.18%,#299787 50.28%,#30a084 50.28%,#30a084 53.38%,#38a880 53.38%,#38a880 56.48%,#40b07c 56.48%,#40b07c 59.86%,#50b777 59.86%,#50b777 63.24%,#61bd72 63.24%,#61bd72 66.62%,#72c46d 66.62%,#72c46d 70.56%,#84c869 70.56%,#84c869 74.51%,#96cd64 74.51%,#96cd64 78.73%,#a6d161 78.73%,#a6d161 83.80%,#b5d55d 83.80%,#b5d55d 89.72%,#c5d85a 89.72%,#c5d85a 97.89%,#d2dc56 97.89%,#d2dc56 100%)"></div>
<div style="left:45.60px;top:232.60px;width:177.50px;height:1.60px;background:linear-gradient(90deg,#212471 0%,#212471 4.93%,#203078 4.93%,#203078 11.97%,#1f3a7d 11.97%,#1f3a7d 17.61%,#1d4582 17.61%,#1d4582 22.11%,#1d5085 22.11%,#1d5085 26.34%,#1c5a87 26.34%,#1c5a87 30.00%,#1c6589 30.00%,#1c6589 33.66%,#1d6f8a 33.66%,#1d6f8a 37.04%,#1e798b 37.04%,#1e798b 40.14%,#20838a 40.14%,#20838a 43.52%,#258d89 43.52%,#258d89 46.62%,#299787 46.62%,#299787 49.72%,#30a084 49.72%,#30a084 53.10%,#38a880 53.10%,#38a880 56.20%,#40b07c 56.20%,#40b07c 59.58%,#50b777 59.58%,#50b777 62.96%,#61bd72 62.96%,#61bd72 66.34%,#72c46d 66.34%,#72c46d 70.00%,#84c869 70.00%,#84c869 74.23%,#96cd64 74.23%,#96cd64 78.45%,#a6d161 78.45%,#a6d161 83.52%,#b5d55d 83.52%,#b5d55d 89.44%,#c5d85a 89.44%,#c5d85a 97.61%,#d2dc56 97.61%,#d2dc56 100%)"></div>
<div style="left:45.60px;top:233.60px;width:177.50px;height:1.60px;background:linear-gradient(90deg,#212471 0%,#212471 3.80%,#203078 3.80%,#203078 11.41%,#1f3a7d 11.41%,#1f3a7d 17.04%,#1d4582 17.04%,#1d4582 21.55%,#1d5085 21.55%,#1d5085 25.77%,#1c5a87 25.77%,#1c5a87 29.44%,#1c6589 29.44%,#1c6589 33.10%,#1d6f8a 33.10%,#1d6f8a 36.48%,#1e798b 36.48%,#1e798b 39.86%,#20838a 39.86%,#20838a 42.96%,#258d89 42.96%,#258d89 46.34%,#299787 46.34%,#299787 49.44%,#30a084 49.44%,#30a084 52.54%,#38a880 52.54%,#38a880 55.92%,#40b07c 55.92%,#40b07c 59.01%,#50b777 59.01%,#50b777 62.39%,#61bd72 62.39%,#61bd72 66.06%,#72c46d 66.06%,#72c46d 69.72%,#84c869 69.72%,#84c869 73.66%,#96cd64 73.66%,#96cd64 78.17%,#a6d161 78.17%,#a6d161 83.24%,#b5d55d 83.24%,#b5d55d 89.15%,#c5d85a 89.15%,#c5d85a 97.32%,#d2dc56 97.32%,#d2dc56 100%)"></div>
<div style="left:45.60px;top:234.60px;width:177.50px;height:1.60px;background:linear-gradient(90deg,#212471 0%,#212471 2.68%,#203078 2.68%,#203078 10.56%,#1f3a7d 10.56%,#1f3a7d 16.20%,#1d4582 16.20%,#1d4582 20.99%,#1d5085 20.99%,#1d5085 25.21%,#1c5a87 25.21%,#1c5a87 29.15%,#1c6589 29.15%,#1c6589 32.82%,#1d6f8a 32.82%,#1d6f8a 36.20%,#1e798b 36.20%,#1e798b 39.58%,#20838a 39.58%,#20838a 42.68%,#258d89 42.68%,#258d89 45.77%,#299787 45.77%,#299787 49.15%,#30a084 49.15%,#30a084 52.25%,#38a880 52.25%,#38a880 55.35%,#40b07c 55.35%,#40b07c 58.73%,#50b777 58.73%,#50b777 62.11%,#61bd72 62.11%,#61bd72 65.77%,#72c46d 65.77%,#72c46d 69.44%,#84c869 69.44%,#84c869 73.38%,#96cd64 73.38%,#96cd64 77.89%,#a6d161 77.89%,#a6d161 82.96%,#b5d55d 82.96%,#b5d55d 88.87%,#c5d85a 88.87%,#c5d85a 97.32%,#d2dc56 97.32%,#d2dc56 100%)"></div>
<div style="left:45.60px;top:235.60px;width:177.50px;height:1.60px;background:linear-gradient(90deg,#212471 0%,#212471 1.27%,#203078 1.27%,#203078 9.72%,#1f3a7d 9.72%,#1f3a7d 15.63%,#1d4582 15.63%,#1d4582 20.42%,#1d5085 20.42%,#1d5085 24.65%,#1c5a87 24.65%,#1c5a87 28.59%,#1c6589 28.59%,#1c6589 32.25%,#1d6f8a 32.25%,#1d6f8a 35.63%,#1e798b 35.63%,#1e798b 39.01%,#20838a 39.01%,#20838a 42.39%,#258d89 42.39%,#258d89 45.49%,#299787 45.49%,#299787 48.59%,#30a084 48.59%,#30a084 51.97%,#38a880 51.97%,#38a880 55.07%,#40b07c 55.07%,#40b07c 58.45%,#50b777 58.45%,#50b777 61.83%,#61bd72 61.83%,#61bd72 65.21%,#72c46d 65.21%,#72c46d 69.15%,#84c869 69.15%,#84c869 73.10%,#96cd64 73.10%,#96cd64 77.61%,#a6d161 77.61%,#a6d161 82.39%,#b5d55d 82.39%,#b5d55d 88.59%,#c5d85a 88.59%,#c5d85a 97.04%,#d2dc56 97.04%,#d2dc56 100%)"></div>
<div style="left:45.60px;top:236.60px;width:177.50px;height:1.60px;background:linear-gradient(90deg,#203078 0%,#203078 8.87%,#1f3a7d 8.87%,#1f3a7d 14.79%,#1d4582 14.79%,#1d4582 19.86%,#1d5085 19.86%,#1d5085 24.08%,#1c5a87 24.08%,#1c5a87 28.03%,#1c6589 28.03%,#1c6589 31.69%,#1d6f8a 31.69%,#1d6f8a 35.35%,#1e798b 35.35%,#1e798b 38.45%,#20838a 38.45%,#20838a 41.83%,#258d89 41.83%,#258d89 45.21%,#299787 45.21%,#299787 48.31%,#30a084 48.31%,#30a084 51.41%,#38a880 51.41%,#38a880 54.79%,#40b07c 54.79%,#40b07c 57.89%,#50b777 57.89%,#50b777 61.27%,#61bd72 61.27%,#61bd72 64.93%,#72c46d 64.93%,#72c46d 68.59%,#84c869 68.59%,#84c869 72.82%,#96cd64 72.82%,#96cd64 77.04%,#a6d161 77.04%,#a6d161 82.11%,#b5d55d 82.11%,#b5d55d 88.31%,#c5d85a 88.31%,#c5d85a 96.76%,#d2dc56 96.76%,#d2dc56 100%)"></div>
<div style="left:45.60px;top:237.60px;width:177.50px;height:1.60px;background:linear-gradient(90deg,#203078 0%,#203078 8.03%,#1f3a7d 8.03%,#1f3a7d 14.23%,#1d4582 14.23%,#1d4582 19.30%,#1d5085 19.30%,#1d5085 23.52%,#1c5a87 23.52%,#1c5a87 27.46%,#1c6589 27.46%,#1c6589 31.13%,#1d6f8a 31.13%,#1d6f8a 34.79%,#1e798b 34.79%,#1e798b 38.17%,#20838a 38.17%,#20838a 41.55%,#258d89 41.55%,#258d89 44.65%,#299787 44.65%,#299787 47.75%,#30a084 47.75%,#30a084 51.13%,#38a880 51.13%,#38a880 54.23%,#40b07c 54.23%,#40b07c 57.61%,#50b777 57.61%,#50b777 60.99%,#61bd72 60.99%,#61bd72 64.65%,#72c46d 64.65%,#72c46d 68.31%,#84c869 68.31%,#84c869 72.25%,#96cd64 72.25%,#96cd64 76.76%,#a6d161 76.76%,#a6d161 81.83%,#b5d55d 81.83%,#b5d55d 88.03%,#c5d85a 88.03%,#c5d85a 96.48%,#d2dc56 96.48%,#d2dc56 100%)"></div>
<div style="left:45.60px;top:238.60px;width:177.50px;height:1.60px;background:linear-gradient(90deg,#203078 0%,#203078 6.90%,#1f3a7d 6.90%,#1f3a7d 13.38%,#1d4582 13.38%,#1d4582 18.73%,#1d5085 18.73%,#1d5085 22.96%,#1c5a87 22.96%,#1c5a87 27.18%,#1c6589 27.18%,#1c6589 30.85%,#1d6f8a 30.85%,#1d6f8a 34.23%,#1e798b 34.23%,#1e798b 37.61%,#20838a 37.61%,#20838a 40.99%,#258d89 40.99%,#258d89 44.08%,#299787 44.08%,#299787 47.46%,#30a084 47.46%,#30a084 50.56%,#38a880 50.56%,#38a880 53.94%,#40b07c 53.94%,#40b07c 57.32%,#50b777 57.32%,#50b777 60.70%,#61bd72 60.70%,#61bd72 64.08%,#72c46d 64.08%,#72c46d 68.03%,#84c869 68.03%,#84c869 71.97%,#96cd64 71.97%,#96cd64 76.20%,#a6d161 76.20%,#a6d161 81.27%,#b5d55d 81.27%,#b5d55d 87.46%,#c5d85a 87.46%,#c5d85a 95.92%,#d2dc56 95.92%,#d2dc56 100%)"></div>
<div style="left:45.60px;top:239.60px;width:177.50px;height:1.60px;background:linear-gradient(90deg,#203078 0%,#203078 6.06%,#1f3a7d 6.06%,#1f3a7d 12.82%,#1d4582 12.82%,#1d4582 17.89%,#1d5085 17.89%,#1d5085 22.39%,#1c5a87 22.39%,#1c5a87 26.62%,#1c6589 26.62%,#1c6589 30.28%,#1d6f8a 30.28%,#1d6f8a 33.94%,#1e798b 33.94%,#1e798b 37.32%,#20838a 37.32%,#20838a 40.42%,#258d89 40.42%,#258d89 43.80%,#299787 43.80%,#299787 46.90%,#30a084 46.90%,#30a084 50.28%,#38a880 50.28%,#38a880 53.38%,#40b07c 53.38%,#40b07c 56.76%,#50b777 56.76%,#50b777 60.14%,#61bd72 60.14%,#61bd72 63.80%,#72c46d 63.80%,#72c46d 67.46%,#84c869 67.46%,#84c869 71.41%,#96cd64 71.41%,#96cd64 75.92%,#a6d161 75.92%,#a6d161 80.99%,#b5d55d 80.99%,#b5d55d 87.18%,#c5d85a 87.18%,#c5d85a 95.63%,#d2dc56 95.63%,#d2dc56 100%)"></div>
<div style="left:45.60px;top:240.60px;width:177.50px;height:1.60px;background:linear-gradient(90deg,#203078 0%,#203078 4.93%,#1f3a7d 4.93%,#1f3a7d 11.97%,#1d4582 11.97%,#1d4582 17.32%,#1d5085 17.32%,#1d5085 21.83%,#1c5a87 21.83%,#1c5a87 26.06%,#1c6589 26.06%,#1c6589 29.72%,#1d6f8a 29.72%,#1d6f8a 33.38%,#1e798b 33.38%,#1e798b 36.76%,#20838a 36.76%,#20838a 40.14%,#258d89 40.14%,#258d89 43.24%,#299787 43.24%,#299787 46.62%,#30a084 46.62%,#30a084 49.72%,#38a880 49.72%,#38a880 53.10%,#40b07c 53.10%,#40b07c 56.48%,#50b777 56.48%,#50b777 59.86%,#61bd72 59.86%,#61bd72 63.24%,#72c46d 63.24%,#72c46d 67.18%,#84c869 67.18%,#84c869 71.13%,#96cd64 71.13%,#96cd64 75.63%,#a6d161 75.63%,#a6d161 80.70%,#b5d55d 80.70%,#b5d55d 86.62%,#c5d85a 86.62%,#c5d85a 95.35%,#d2dc56 95.35%,#d2dc56 100%)"></div>
<div style="left:45.60px;top:241.60px;width:177.50px;height:1.60px;background:linear-gradient(90deg,#203078 0%,#203078 3.80%,#1f3a7d 3.80%,#1f3a7d 11.13%,#1d4582 11.13%,#1d4582 16.76%,#1d5085 16.76%,#1d5085 21.27%,#1c5a87 21.27%,#1c5a87 25.49%,#1c6589 25.49%,#1c6589 29.15%,#1d6f8a 29.15%,#1d6f8a 32.82%,#1e798b 32.82%,#1e798b 36.20%,#20838a 36.20%,#20838a 39.58%,#258d89 39.58%,#258d89 42.96%,#299787 42.96%,#299787 46.06%,#30a084 46.06%,#30a084 49.44%,#38a880 49.44%,#38a880 52.54%,#40b07c 52.54%,#40b07c 55.92%,#50b777 55.92%,#50b777 59.30%,#61bd72 59.30%,#61bd72 62.96%,#72c46d 62.96%,#72c46d 66.62%,#84c869 66.62%,#84c869 70.56%,#96cd64 70.56%,#96cd64 75.07%,#a6d161 75.07%,#a6d161 80.14%,#b5d55d 80.14%,#b5d55d 86.34%,#c5d85a 86.34%,#c5d85a 94.79%,#d2dc56 94.79%,#d2dc56 100%)"></div>
<div style="left:45.60px;top:242.60px;width:177.50px;height:1.60px;background:linear-gradient(90deg,#203078 0%,#203078 2.39%,#1f3a7d 2.39%,#1f3a7d 10.28%,#1d4582 10.28%,#1d4582 15.92%,#1d5085 15.92%,#1d5085 20.70%,#1c5a87 20.70%,#1c5a87 24.93%,#1c6589 24.93%,#1c6589 28.59%,#1d6f8a 28.59%,#1d6f8a 32.25%,#1e798b 32.25%,#1e798b 35.92%,#20838a 35.92%,#20838a 39.01%,#258d89 39.01%,#258d89 42.39%,#299787 42.39%,#299787 45.77%,#30a084 45.77%,#30a084 48.87%,#38a880 48.87%,#38a880 52.25%,#40b07c 52.25%,#40b07c 55.63%,#50b777 55.63%,#50b777 59.01%,#61bd72 59.01%,#61bd72 62.39%,#72c46d 62.39%,#72c46d 66.34%,#84c869 66.34%,#84c869 70.28%,#96cd64 70.28%,#96cd64 74.79%,#a6d161 74.79%,#a6d161 79.58%,#b5d55d 79.58%,#b5d55d 85.77%,#c5d85a 85.77%,#c5d85a 94.51%,#d2dc56 94.51%,#d2dc56 100%)"></div>
<div style="left:45.60px;top:243.60px;width:177.50px;height:1.60px;background:linear-gradient(90deg,#203078 0%,#203078 0.99%,#1f3a7d 0.99%,#1f3a7d 9.44%,#1d4582 9.44%,#1d4582 15.35%,#1d5085 15.35%,#1d5085 20.14%,#1c5a87 20.14%,#1c5a87 24.37%,#1c6589 24.37%,#1c6589 28.03%,#1d6f8a 28.03%,#1d6f8a 31.69%,#1e798b 31.69%,#1e798b 35.35%,#20838a 35.35%,#20838a 38.73%,#258d89 38.73%,#258d89 41.83%,#299787 41.83%,#299787 45.21%,#30a084 45.21%,#30a084 48.59%,#38a880 48.59%,#38a880 51.69%,#40b07c 51.69%,#40b07c 55.07%,#50b777 55.07%,#50b777 58.45%,#61bd72 58.45%,#61bd72 62.11%,#72c46d 62.11%,#72c46d 65.77%,#84c869 65.77%,#84c869 69.72%,#96cd64 69.72%,#96cd64 74.23%,#a6d161 74.23%,#a6d161 79.30%,#b5d55d 79.30%,#b5d55d 85.49%,#c5d85a 85.49%,#c5d85a 93.94%,#d2dc56 93.94%,#d2dc56 100%)"></div>
<div style="left:45.60px;top:244.60px;width:177.50px;height:1.60px;background:linear-gradient(90deg,#1f3a7d 0%,#1f3a7d 8.31%,#1d4582 8.31%,#1d4582 14.51%,#1d5085 14.51%,#1d5085 19.30%,#1c5a87 19.30%,#1c5a87 23.80%,#1c6589 23.80%,#1c6589 27.75%,#1d6f8a 27.75%,#1d6f8a 31.41%,#1e798b 31.41%,#1e798b 34.79%,#20838a 34.79%,#20838a 38.17%,#258d89 38.17%,#258d89 41.55%,#299787 41.55%,#299787 44.65%,#30a084 44.65%,#30a084 48.03%,#38a880 48.03%,#38a880 51.41%,#40b07c 51.41%,#40b07c 54.51%,#50b777 54.51%,#50b777 58.17%,#61bd72 58.17%,#61bd72 61.55%,#72c46d 61.55%,#72c46d 65.21%,#84c869 65.21%,#84c869 69.44%,#96cd64 69.44%,#96cd64 73.66%,#a6d161 73.66%,#a6d161 78.73%,#b5d55d 78.73%,#b5d55d 84.93%,#c5d85a 84.93%,#c5d85a 93.38%,#d2dc56 93.38%,#d2dc56 100%)"></div>
<div style="left:45.60px;top:245.60px;width:177.50px;height:1.60px;background:linear-gradient(90deg,#1f3a7d 0%,#1f3a7d 7.46%,#1d4582 7.46%,#1d4582 13.66%,#1d5085 13.66%,#1d5085 18.73%,#1c5a87 18.73%,#1c5a87 22.96%,#1c6589 22.96%,#1c6589 27.18%,#1d6f8a 27.18%,#1d6f8a 30.85%,#1e798b 30.85%,#1e798b 34.23%,#20838a 34.23%,#20838a 37.61%,#258d89 37.61%,#258d89 40.99%,#299787 40.99%,#299787 44.37%,#30a084 44.37%,#30a084 47.46%,#38a880 47.46%,#38a880 50.85%,#40b07c 50.85%,#40b07c 54.23%,#50b777 54.23%,#50b777 57.61%,#61bd72 57.61%,#61bd72 61.27%,#72c46d 61.27%,#72c46d 64.93%,#84c869 64.93%,#84c869 68.87%,#96cd64 68.87%,#96cd64 73.38%,#a6d161 73.38%,#a6d161 78.45%,#b5d55d 78.45%,#b5d55d 84.37%,#c5d85a 84.37%,#c5d85a 93.10%,#d2dc56 93.10%,#d2dc56 100%)"></div>
<div style="left:45.60px;top:246.60px;width:177.50px;height:1.60px;background:linear-gradient(90deg,#1f3a7d 0%,#1f3a7d 6.34%,#1d4582 6.34%,#1d4582 12.82%,#1d5085 12.82%,#1d5085 18.17%,#1c5a87 18.17%,#1c5a87 22.39%,#1c6589 22.39%,#1c6589 26.62%,#1d6f8a 26.62%,#1d6f8a 30.28%,#1e798b 30.28%,#1e798b 33.66%,#20838a 33.66%,#20838a 37.32%,#258d89 37.32%,#258d89 40.42%,#299787 40.42%,#299787 43.80%,#30a084 43.80%,#30a084 47.18%,#38a880 47.18%,#38a880 50.28%,#40b07c 50.28%,#40b07c 53.66%,#50b777 53.66%,#50b777 57.04%,#61bd72 57.04%,#61bd72 60.70%,#72c46d 60.70%,#72c46d 64.37%,#84c869 64.37%,#84c869 68.31%,#96cd64 68.31%,#96cd64 72.82%,#a6d161 72.82%,#a6d161 77.89%,#b5d55d 77.89%,#b5d55d 83.80%,#c5d85a 83.80%,#c5d85a 92.54%,#d2dc56 92.54%,#d2dc56 100%)"></div>
<div style="left:45.60px;top:247.60px;width:177.50px;height:1.60px;background:linear-gradient(90deg,#1f3a7d 0%,#1f3a7d 5.21%,#1d4582 5.21%,#1d4582 11.97%,#1d5085 11.97%,#1d5085 17.32%,#1c5a87 17.32%,#1c5a87 21.83%,#1c6589 21.83%,#1c6589 25.77%,#1d6f8a 25.77%,#1d6f8a 29.72%,#1e798b 29.72%,#1e798b 33.38%,#20838a 33.38%,#20838a 36.76%,#258d89 36.76%,#258d89 40.14%,#299787 40.14%,#299787 43.24%,#30a084 43.24%,#30a084 46.62%,#38a880 46.62%,#38a880 50.00%,#40b07c 50.00%,#40b07c 53.38%,#50b777 53.38%,#50b777 56.76%,#61bd72 56.76%,#61bd72 60.14%,#72c46d 60.14%,#72c46d 64.08%,#84c869 64.08%,#84c869 68.03%,#96cd64 68.03%,#96cd64 72.25%,#a6d161 72.25%,#a6d161 77.32%,#b5d55d 77.32%,#b5d55d 83.52%,#c5d85a 83.52%,#c5d85a 91.97%,#d2dc56 91.97%,#d2dc56 100%)"></div>
<div style="left:45.60px;top:248.60px;width:177.50px;height:1.60px;background:linear-gradient(90deg,#1f3a7d 0%,#1f3a7d 4.08%,#1d4582 4.08%,#1d4582 11.13%,#1d5085 11.13%,#1d5085 16.76%,#1c5a87 16.76%,#1c5a87 21.27%,#1c6589 21.27%,#1c6589 25.21%,#1d6f8a 25.21%,#1d6f8a 29.15%,#1e798b 29.15%,#1e798b 32.82%,#20838a 32.82%,#20838a 36.20%,#258d89 36.20%,#258d89 39.58%,#299787 39.58%,#299787 42.96%,#30a084 42.96%,#30a084 46.06%,#38a880 46.06%,#38a880 49.44%,#40b07c 49.44%,#40b07c 52.82%,#50b777 52.82%,#50b777 56.20%,#61bd72 56.20%,#61bd72 59.86%,#72c46d 59.86%,#72c46d 63.52%,#84c869 63.52%,#84c869 67.46%,#96cd64 67.46%,#96cd64 71.97%,#a6d161 71.97%,#a6d161 76.76%,#b5d55d 76.76%,#b5d55d 82.96%,#c5d85a 82.96%,#c5d85a 91.13%,#d2dc56 91.13%,#d2dc56 100%)"></div>
<div style="left:45.60px;top:249.60px;width:177.50px;height:1.60px;background:linear-gradient(90deg,#1f3a7d 0%,#1f3a7d 2.68%,#1d4582 2.68%,#1d4582 10.28%,#1d5085 10.28%,#1d5085 15.92%,#1c5a87 15.92%,#1c5a87 20.42%,#1c6589 20.42%,#1c6589 24.65%,#1d6f8a 24.65%,#1d6f8a 28.59%,#1e798b 28.59%,#1e798b 32.25%,#20838a 32.25%,#20838a 35.63%,#258d89 35.63%,#258d89 39.01%,#299787 39.01%,#299787 42.39%,#30a084 42.39%,#30a084 45.77%,#38a880 45.77%,#38a880 48.87%,#40b07c 48.87%,#40b07c 52.25%,#50b777 52.25%,#50b777 55.63%,#61bd72 55.63%,#61bd72 59.30%,#72c46d 59.30%,#72c46d 62.96%,#84c869 62.96%,#84c869 66.90%,#96cd64 66.90%,#96cd64 71.41%,#a6d161 71.41%,#a6d161 76.20%,#b5d55d 76.20%,#b5d55d 82.39%,#c5d85a 82.39%,#c5d85a 90.56%,#d2dc56 90.56%,#d2dc56 100%)"></div>
<div style="left:45.60px;top:250.60px;width:177.50px;height:1.60px;background:linear-gradient(90deg,#1f3a7d 0%,#1f3a7d 1.27%,#1d4582 1.27%,#1d4582 9.44%,#1d5085 9.44%,#1d5085 15.07%,#1c5a87 15.07%,#1c5a87 19.86%,#1c6589 19.86%,#1c6589 24.08%,#1d6f8a 24.08%,#1d6f8a 28.03%,#1e798b 28.03%,#1e798b 31.69%,#20838a 31.69%,#20838a 35.07%,#258d89 35.07%,#258d89 38.45%,#299787 38.45%,#299787 41.83%,#30a084 41.83%,#30a084 45.21%,#38a880 45.21%,#38a880 48.31%,#40b07c 48.31%,#40b07c 51.69%,#50b777 51.69%,#50b777 55.35%,#61bd72 55.35%,#61bd72 58.73%,#72c46d 58.73%,#72c46d 62.39%,#84c869 62.39%,#84c869 66.62%,#96cd64 66.62%,#96cd64 70.85%,#a6d161 70.85%,#a6d161 75.63%,#b5d55d 75.63%,#b5d55d 81.83%,#c5d85a 81.83%,#c5d85a 90.00%,#d2dc56 90.00%,#d2dc56 100%)"></div>
<div style="left:45.60px;top:251.60px;width:177.50px;height:1.60px;background:linear-gradient(90deg,#1d4582 0%,#1d4582 8.59%,#1d5085 8.59%,#1d5085 14.23%,#1c5a87 14.23%,#1c5a87 19.30%,#1c6589 19.30%,#1c6589 23.52%,#1d6f8a 23.52%,#1d6f8a 27.46%,#1e798b 27.46%,#1e798b 31.13%,#20838a 31.13%,#20838a 34.51%,#258d89 34.51%,#258d89 37.89%,#299787 37.89%,#299787 41.27%,#30a084 41.27%,#30a084 44.65%,#38a880 44.65%,#38a880 48.03%,#40b07c 48.03%,#40b07c 51.41%,#50b777 51.41%,#50b777 54.79%,#61bd72 54.79%,#61bd72 58.17%,#72c46d 58.17%,#72c46d 62.11%,#84c869 62.11%,#84c869 66.06%,#96cd64 66.06%,#96cd64 70.28%,#a6d161 70.28%,#a6d161 75.35%,#b5d55d 75.35%,#b5d55d 81.27%,#c5d85a 81.27%,#c5d85a 89.44%,#d2dc56 89.44%,#d2dc56 100%)"></div>
<div style="left:45.60px;top:252.60px;width:177.50px;height:1.60px;background:linear-gradient(90deg,#1d4582 0%,#1d4582 7.46%,#1d5085 7.46%,#1d5085 13.66%,#1c5a87 13.66%,#1c5a87 18.45%,#1c6589 18.45%,#1c6589 22.96%,#1d6f8a 22.96%,#1d6f8a 26.90%,#1e798b 26.90%,#1e798b 30.56%,#20838a 30.56%,#20838a 33.94%,#258d89 33.94%,#258d89 37.32%,#299787 37.32%,#299787 40.70%,#30a084 40.70%,#30a084 44.08%,#38a880 44.08%,#38a880 47.46%,#40b07c 47.46%,#40b07c 50.85%,#50b777 50.85%,#50b777 54.23%,#61bd72 54.23%,#61bd72 57.89%,#72c46d 57.89%,#72c46d 61.55%,#84c869 61.55%,#84c869 65.49%,#96cd64 65.49%,#96cd64 69.72%,#a6d161 69.72%,#a6d161 74.79%,#b5d55d 74.79%,#b5d55d 80.42%,#c5d85a 80.42%,#c5d85a 88.59%,#d2dc56 88.59%,#d2dc56 100%)"></div>
<div style="left:45.60px;top:253.60px;width:177.50px;height:1.60px;background:linear-gradient(90deg,#1d4582 0%,#1d4582 6.34%,#1d5085 6.34%,#1d5085 12.82%,#1c5a87 12.82%,#1c5a87 17.89%,#1c6589 17.89%,#1c6589 22.11%,#1d6f8a 22.11%,#1d6f8a 26.06%,#1e798b 26.06%,#1e798b 30.00%,#20838a 30.00%,#20838a 33.38%,#258d89 33.38%,#258d89 37.04%,#299787 37.04%,#299787 40.14%,#30a084 40.14%,#30a084 43.52%,#38a880 43.52%,#38a880 46.90%,#40b07c 46.90%,#40b07c 50.28%,#50b777 50.28%,#50b777 53.66%,#61bd72 53.66%,#61bd72 57.32%,#72c46d 57.32%,#72c46d 60.99%,#84c869 60.99%,#84c869 64.93%,#96cd64 64.93%,#96cd64 69.15%,#a6d161 69.15%,#a6d161 74.23%,#b5d55d 74.23%,#b5d55d 79.86%,#c5d85a 79.86%,#c5d85a 88.03%,#d2dc56 88.03%,#d2dc56 100%)"></div>
<div style="left:45.60px;top:254.60px;width:177.50px;height:1.60px;background:linear-gradient(90deg,#1d4582 0%,#1d4582 5.21%,#1d5085 5.21%,#1d5085 11.97%,#1c5a87 11.97%,#1c5a87 17.04%,#1c6589 17.04%,#1c6589 21.55%,#1d6f8a 21.55%,#1d6f8a 25.49%,#1e798b 25.49%,#1e798b 29.44%,#20838a 29.44%,#20838a 32.82%,#258d89 32.82%,#258d89 36.48%,#299787 36.48%,#299787 39.86%,#30a084 39.86%,#30a084 42.96%,#38a880 42.96%,#38a880 46.34%,#40b07c 46.34%,#40b07c 49.72%,#50b777 49.72%,#50b777 53.10%,#61bd72 53.10%,#61bd72 56.76%,#72c46d 56.76%,#72c46d 60.42%,#84c869 60.42%,#84c869 64.37%,#96cd64 64.37%,#96cd64 68.59%,#a6d161 68.59%,#a6d161 73.66%,#b5d55d 73.66%,#b5d55d 79.30%,#c5d85a 79.30%,#c5d85a 87.18%,#d2dc56 87.18%,#d2dc56 100%)"></div>
<div style="left:45.60px;top:255.60px;width:177.50px;height:1.60px;background:linear-gradient(90deg,#1d4582 0%,#1d4582 4.08%,#1d5085 4.08%,#1d5085 10.85%,#1c5a87 10.85%,#1c5a87 16.20%,#1c6589 16.20%,#1c6589 20.70%,#1d6f8a 20.70%,#1d6f8a 24.93%,#1e798b 24.93%,#1e798b 28.87%,#20838a 28.87%,#20838a 32.25%,#258d89 32.25%,#258d89 35.92%,#299787 35.92%,#299787 39.30%,#30a084 39.30%,#30a084 42.68%,#38a880 42.68%,#38a880 45.77%,#40b07c 45.77%,#40b07c 49.15%,#50b777 49.15%,#50b777 52.82%,#61bd72 52.82%,#61bd72 56.20%,#72c46d 56.20%,#72c46d 59.86%,#84c869 59.86%,#84c869 63.80%,#96cd64 63.80%,#96cd64 68.03%,#a6d161 68.03%,#a6d161 73.10%,#b5d55d 73.10%,#b5d55d 78.73%,#c5d85a 78.73%,#c5d85a 86.62%,#d2dc56 86.62%,#d2dc56 100%)"></div>
<div style="left:45.60px;top:256.60px;width:177.50px;height:1.60px;background:linear-gradient(90deg,#1d4582 0%,#1d4582 2.68%,#1d5085 2.68%,#1d5085 10.00%,#1c5a87 10.00%,#1c5a87 15.63%,#1c6589 15.63%,#1c6589 20.14%,#1d6f8a 20.14%,#1d6f8a 24.37%,#1e798b 24.37%,#1e798b 28.03%,#20838a 28.03%,#20838a 31.69%,#258d89 31.69%,#258d89 35.35%,#299787 35.35%,#299787 38.73%,#30a084 38.73%,#30a084 42.11%,#38a880 42.11%,#38a880 45.49%,#40b07c 45.49%,#40b07c 48.87%,#50b777 48.87%,#50b777 52.25%,#61bd72 52.25%,#61bd72 55.63%,#72c46d 55.63%,#72c46d 59.30%,#84c869 59.30%,#84c869 63.24%,#96cd64 63.24%,#96cd64 67.46%,#a6d161 67.46%,#a6d161 72.25%,#b5d55d 72.25%,#b5d55d 78.17%,#c5d85a 78.17%,#c5d85a 85.77%,#d2dc56 85.77%,#d2dc56 100%)"></div>
<div style="left:45.60px;top:257.60px;width:177.50px;height:1.60px;background:linear-gradient(90deg,#1d4582 0%,#1d4582 1.27%,#1d5085 1.27%,#1d5085 9.15%,#1c5a87 9.15%,#1c5a87 14.79%,#1c6589 14.79%,#1c6589 19.58%,#1d6f8a 19.58%,#1d6f8a 23.52%,#1e798b 23.52%,#1e798b 27.46%,#20838a 27.46%,#20838a 31.13%,#258d89 31.13%,#258d89 34.79%,#299787 34.79%,#299787 38.17%,#30a084 38.17%,#30a084 41.55%,#38a880 41.55%,#38a880 44.93%,#40b07c 44.93%,#40b07c 48.31%,#50b777 48.31%,#50b777 51.69%,#61bd72 51.69%,#61bd72 55.07%,#72c46d 55.07%,#72c46d 59.01%,#84c869 59.01%,#84c869 62.68%,#96cd64 62.68%,#96cd64 66.90%,#a6d161 66.90%,#a6d161 71.69%,#b5d55d 71.69%,#b5d55d 77.32%,#c5d85a 77.32%,#c5d85a 84.93%,#d2dc56 84.93%,#d2dc56 100%)"></div>
<div style="left:45.60px;top:258.60px;width:177.50px;height:1.60px;background:linear-gradient(90deg,#1d5085 0%,#1d5085 8.03%,#1c5a87 8.03%,#1c5a87 13.94%,#1c6589 13.94%,#1c6589 18.73%,#1d6f8a 18.73%,#1d6f8a 22.96%,#1e798b 22.96%,#1e798b 26.90%,#20838a 26.90%,#20838a 30.56%,#258d89 30.56%,#258d89 34.23%,#299787 34.23%,#299787 37.61%,#30a084 37.61%,#30a084 40.99%,#38a880 40.99%,#38a880 44.37%,#40b07c 44.37%,#40b07c 47.75%,#50b777 47.75%,#50b777 51.13%,#61bd72 51.13%,#61bd72 54.79%,#72c46d 54.79%,#72c46d 58.45%,#84c869 58.45%,#84c869 62.11%,#96cd64 62.11%,#96cd64 66.34%,#a6d161 66.34%,#a6d161 71.13%,#b5d55d 71.13%,#b5d55d 76.76%,#c5d85a 76.76%,#c5d85a 84.37%,#d2dc56 84.37%,#d2dc56 100%)"></div>
<div style="left:45.60px;top:259.60px;width:177.50px;height:1.60px;background:linear-gradient(90deg,#1d5085 0%,#1d5085 7.18%,#1c5a87 7.18%,#1c5a87 13.10%,#1c6589 13.10%,#1c6589 17.89%,#1d6f8a 17.89%,#1d6f8a 22.39%,#1e798b 22.39%,#1e798b 26.34%,#20838a 26.34%,#20838a 30.00%,#258d89 30.00%,#258d89 33.66%,#299787 33.66%,#299787 37.04%,#30a084 37.04%,#30a084 40.42%,#38a880 40.42%,#38a880 43.80%,#40b07c 43.80%,#40b07c 47.18%,#50b777 47.18%,#50b777 50.56%,#61bd72 50.56%,#61bd72 54.23%,#72c46d 54.23%,#72c46d 57.89%,#84c869 57.89%,#84c869 61.55%,#96cd64 61.55%,#96cd64 65.77%,#a6d161 65.77%,#a6d161 70.56%,#b5d55d 70.56%,#b5d55d 76.20%,#c5d85a 76.20%,#c5d85a 83.52%,#d2dc56 83.52%,#d2dc56 100%)"></div>
<div style="left:45.60px;top:260.60px;width:177.50px;height:1.60px;background:linear-gradient(90deg,#1d5085 0%,#1d5085 6.06%,#1c5a87 6.06%,#1c5a87 12.25%,#1c6589 12.25%,#1c6589 17.32%,#1d6f8a 17.32%,#1d6f8a 21.55%,#1e798b 21.55%,#1e798b 25.77%,#20838a 25.77%,#20838a 29.44%,#258d89 29.44%,#258d89 33.10%,#299787 33.10%,#299787 36.48%,#30a084 36.48%,#30a084 39.86%,#38a880 39.86%,#38a880 43.24%,#40b07c 43.24%,#40b07c 46.62%,#50b777 46.62%,#50b777 50.00%,#61bd72 50.00%,#61bd72 53.66%,#72c46d 53.66%,#72c46d 57.32%,#84c869 57.32%,#84c869 60.99%,#96cd64 60.99%,#96cd64 65.21%,#a6d161 65.21%,#a6d161 70.00%,#b5d55d 70.00%,#b5d55d 75.35%,#c5d85a 75.35%,#c5d85a 82.68%,#d2dc56 82.68%,#d2dc56 99.30%,#e8e24e 99.30%,#e8e24e 100%)"></div>
<div style="left:45.60px;top:261.60px;width:177.50px;height:1.60px;background:linear-gradient(90deg,#1d5085 0%,#1d5085 4.93%,#1c5a87 4.93%,#1c5a87 11.41%,#1c6589 11.41%,#1c6589 16.48%,#1d6f8a 16.48%,#1d6f8a 20.99%,#1e798b 20.99%,#1e798b 24.93%,#20838a 24.93%,#20838a 28.87%,#258d89 28.87%,#258d89 32.25%,#299787 32.25%,#299787 35.92%,#30a084 35.92%,#30a084 39.30%,#38a880 39.30%,#38a880 42.68%,#40b07c 42.68%,#40b07c 46.06%,#50b777 46.06%,#50b777 49.44%,#61bd72 49.44%,#61bd72 53.10%,#72c46d 53.10%,#72c46d 56.76%,#84c869 56.76%,#84c869 60.42%,#96cd64 60.42%,#96cd64 64.65%,#a6d161 64.65%,#a6d161 69.44%,#b5d55d 69.44%,#b5d55d 74.79%,#c5d85a 74.79%,#c5d85a 81.83%,#d2dc56 81.83%,#d2dc56 97.04%,#e8e24e 97.04%,#e8e24e 100%)"></div>
<div style="left:45.60px;top:262.60px;width:177.50px;height:1.60px;background:linear-gradient(90deg,#1d5085 0%,#1d5085 3.52%,#1c5a87 3.52%,#1c5a87 10.56%,#1c6589 10.56%,#1c6589 15.63%,#1d6f8a 15.63%,#1d6f8a 20.14%,#1e798b 20.14%,#1e798b 24.37%,#20838a 24.37%,#20838a 28.03%,#258d89 28.03%,#258d89 31.69%,#299787 31.69%,#299787 35.35%,#30a084 35.35%,#30a084 38.73%,#38a880 38.73%,#38a880 42.11%,#40b07c 42.11%,#40b07c 45.49%,#50b777 45.49%,#50b777 48.87%,#61bd72 48.87%,#61bd72 52.54%,#72c46d 52.54%,#72c46d 56.20%,#84c869 56.20%,#84c869 59.86%,#96cd64 59.86%,#96cd64 64.08%,#a6d161 64.08%,#a6d161 68.87%,#b5d55d 68.87%,#b5d55d 74.23%,#c5d85a 74.23%,#c5d85a 81.27%,#d2dc56 81.27%,#d2dc56 95.07%,#e8e24e 95.07%,#e8e24e 100%)"></div>
<div style="left:45.60px;top:263.60px;width:177.50px;height:1.60px;background:linear-gradient(90deg,#1d5085 0%,#1d5085 2.11%,#1c5a87 2.11%,#1c5a87 9.44%,#1c6589 9.44%,#1c6589 14.79%,#1d6f8a 14.79%,#1d6f8a 19.58%,#1e798b 19.58%,#1e798b 23.80%,#20838a 23.80%,#20838a 27.46%,#258d89 27.46%,#258d89 31.13%,#299787 31.13%,#299787 34.79%,#30a084 34.79%,#30a084 38.17%,#38a880 38.17%,#38a880 41.55%,#40b07c 41.55%,#40b07c 44.93%,#50b777 44.93%,#50b777 48.31%,#61bd72 48.31%,#61bd72 51.97%,#72c46d 51.97%,#72c46d 55.63%,#84c869 55.63%,#84c869 59.30%,#96cd64 59.30%,#96cd64 63.52%,#a6d161 63.52%,#a6d161 68.03%,#b5d55d 68.03%,#b5d55d 73.38%,#c5d85a 73.38%,#c5d85a 80.42%,#d2dc56 80.42%,#d2dc56 93.38%,#e8e24e 93.38%,#e8e24e 100%)"></div>
<div style="left:45.60px;top:264.60px;width:177.50px;height:1.60px;background:linear-gradient(90deg,#1d5085 0%,#1d5085 0.70%,#1c5a87 0.70%,#1c5a87 8.59%,#1c6589 8.59%,#1c6589 14.23%,#1d6f8a 14.23%,#1d6f8a 18.73%,#1e798b 18.73%,#1e798b 22.96%,#20838a 22.96%,#20838a 26.90%,#258d89 26.90%,#258d89 30.56%,#299787 30.56%,#299787 34.23%,#30a084 34.23%,#30a084 37.61%,#38a880 37.61%,#38a880 40.99%,#40b07c 40.99%,#40b07c 44.37%,#50b777 44.37%,#50b777 47.75%,#61bd72 47.75%,#61bd72 51.41%,#72c46d 51.41%,#72c46d 55.07%,#84c869 55.07%,#84c869 58.73%,#96cd64 58.73%,#96cd64 62.96%,#a6d161 62.96%,#a6d161 67.46%,#b5d55d 67.46%,#b5d55d 72.82%,#c5d85a 72.82%,#c5d85a 79.58%,#d2dc56 79.58%,#d2dc56 91.97%,#e8e24e 91.97%,#e8e24e 100%)"></div>
<div style="left:45.60px;top:265.60px;width:177.50px;height:1.60px;background:linear-gradient(90deg,#1c5a87 0%,#1c5a87 7.46%,#1c6589 7.46%,#1c6589 13.38%,#1d6f8a 13.38%,#1d6f8a 18.17%,#1e798b 18.17%,#1e798b 22.39%,#20838a 22.39%,#20838a 26.34%,#258d89 26.34%,#258d89 30.00%,#299787 30.00%,#299787 33.38%,#30a084 33.38%,#30a084 37.04%,#38a880 37.04%,#38a880 40.42%,#40b07c 40.42%,#40b07c 43.80%,#50b777 43.80%,#50b777 47.18%,#61bd72 47.18%,#61bd72 50.85%,#72c46d 50.85%,#72c46d 54.51%,#84c869 54.51%,#84c869 58.17%,#96cd64 58.17%,#96cd64 62.39%,#a6d161 62.39%,#a6d161 66.90%,#b5d55d 66.90%,#b5d55d 72.25%,#c5d85a 72.25%,#c5d85a 78.73%,#d2dc56 78.73%,#d2dc56 90.28%,#e8e24e 90.28%,#e8e24e 100%)"></div>
<div style="left:45.60px;top:266.60px;width:177.50px;height:1.60px;background:linear-gradient(90deg,#1c5a87 0%,#1c5a87 6.34%,#1c6589 6.34%,#1c6589 12.25%,#1d6f8a 12.25%,#1d6f8a 17.32%,#1e798b 17.32%,#1e798b 21.55%,#20838a 21.55%,#20838a 25.49%,#258d89 25.49%,#258d89 29.44%,#299787 29.44%,#299787 32.82%,#30a084 32.82%,#30a084 36.48%,#38a880 36.48%,#38a880 39.86%,#40b07c 39.86%,#40b07c 43.24%,#50b777 43.24%,#50b777 46.62%,#61bd72 46.62%,#61bd72 50.28%,#72c46d 50.28%,#72c46d 53.94%,#84c869 53.94%,#84c869 57.61%,#96cd64 57.61%,#96cd64 61.83%,#a6d161 61.83%,#a6d161 66.34%,#b5d55d 66.34%,#b5d55d 71.41%,#c5d85a 71.41%,#c5d85a 77.89%,#d2dc56 77.89%,#d2dc56 88.87%,#e8e24e 88.87%,#e8e24e 100%)"></div>
<div style="left:45.60px;top:267.60px;width:177.50px;height:1.60px;background:linear-gradient(90deg,#1c5a87 0%,#1c5a87 5.21%,#1c6589 5.21%,#1c6589 11.41%,#1d6f8a 11.41%,#1d6f8a 16.48%,#1e798b 16.48%,#1e798b 20.99%,#20838a 20.99%,#20838a 24.93%,#258d89 24.93%,#258d89 28.59%,#299787 28.59%,#299787 32.25%,#30a084 32.25%,#30a084 35.92%,#38a880 35.92%,#38a880 39.30%,#40b07c 39.30%,#40b07c 42.68%,#50b777 42.68%,#50b777 46.06%,#61bd72 46.06%,#61bd72 49.72%,#72c46d 49.72%,#72c46d 53.38%,#84c869 53.38%,#84c869 57.04%,#96cd64 57.04%,#96cd64 61.27%,#a6d161 61.27%,#a6d161 65.49%,#b5d55d 65.49%,#b5d55d 70.85%,#c5d85a 70.85%,#c5d85a 77.04%,#d2dc56 77.04%,#d2dc56 87.75%,#e8e24e 87.75%,#e8e24e 100%)"></div>
<div style="left:45.60px;top:268.60px;width:177.50px;height:1.60px;background:linear-gradient(90deg,#1c5a87 0%,#1c5a87 4.08%,#1c6589 4.08%,#1c6589 10.56%,#1d6f8a 10.56%,#1d6f8a 15.63%,#1e798b 15.63%,#1e798b 20.14%,#20838a 20.14%,#20838a 24.37%,#258d89 24.37%,#258d89 28.03%,#299787 28.03%,#299787 31.69%,#30a084 31.69%,#30a084 35.07%,#38a880 35.07%,#38a880 38.73%,#40b07c 38.73%,#40b07c 42.11%,#50b777 42.11%,#50b777 45.49%,#61bd72 45.49%,#61bd72 49.15%,#72c46d 49.15%,#72c46d 52.82%,#84c869 52.82%,#84c869 56.48%,#96cd64 56.48%,#96cd64 60.42%,#a6d161 60.42%,#a6d161 64.93%,#b5d55d 64.93%,#b5d55d 70.00%,#c5d85a 70.00%,#c5d85a 76.48%,#d2dc56 76.48%,#d2dc56 86.34%,#e8e24e 86.34%,#e8e24e 100%)"></div>
<div style="left:45.60px;top:269.60px;width:177.50px;height:1.60px;background:linear-gradient(90deg,#1c5a87 0%,#1c5a87 2.68%,#1c6589 2.68%,#1c6589 9.72%,#1d6f8a 9.72%,#1d6f8a 14.79%,#1e798b 14.79%,#1e798b 19.58%,#20838a 19.58%,#20838a 23.52%,#258d89 23.52%,#258d89 27.46%,#299787 27.46%,#299787 31.13%,#30a084 31.13%,#30a084 34.51%,#38a880 34.51%,#38a880 38.17%,#40b07c 38.17%,#40b07c 41.55%,#50b777 41.55%,#50b777 44.93%,#61bd72 44.93%,#61bd72 48.59%,#72c46d 48.59%,#72c46d 52.25%,#84c869 52.25%,#84c869 55.92%,#96cd64 55.92%,#96cd64 59.86%,#a6d161 59.86%,#a6d161 64.37%,#b5d55d 64.37%,#b5d55d 69.44%,#c5d85a 69.44%,#c5d85a 75.63%,#d2dc56 75.63%,#d2dc56 85.21%,#e8e24e 85.21%,#e8e24e 100%)"></div>
<div style="left:45.60px;top:270.60px;width:177.50px;height:1.60px;background:linear-gradient(90deg,#1c5a87 0%,#1c5a87 1.27%,#1c6589 1.27%,#1c6589 8.59%,#1d6f8a 8.59%,#1d6f8a 14.23%,#1e798b 14.23%,#1e798b 18.73%,#20838a 18.73%,#20838a 22.96%,#258d89 22.96%,#258d89 26.90%,#299787 26.90%,#299787 30.56%,#30a084 30.56%,#30a084 33.94%,#38a880 33.94%,#38a880 37.61%,#40b07c 37.61%,#40b07c 40.99%,#50b777 40.99%,#50b777 44.37%,#61bd72 44.37%,#61bd72 48.03%,#72c46d 48.03%,#72c46d 51.41%,#84c869 51.41%,#84c869 55.35%,#96cd64 55.35%,#96cd64 59.30%,#a6d161 59.30%,#a6d161 63.80%,#b5d55d 63.80%,#b5d55d 68.59%,#c5d85a 68.59%,#c5d85a 74.79%,#d2dc56 74.79%,#d2dc56 83.80%,#e8e24e 83.80%,#e8e24e 100%)"></div>
<div style="left:45.60px;top:271.60px;width:177.50px;height:1.60px;background:linear-gradient(90deg,#1c6589 0%,#1c6589 7.75%,#1d6f8a 7.75%,#1d6f8a 13.38%,#1e798b 13.38%,#1e798b 17.89%,#20838a 17.89%,#20838a 22.11%,#258d89 22.11%,#258d89 26.06%,#299787 26.06%,#299787 29.72%,#30a084 29.72%,#30a084 33.38%,#38a880 33.38%,#38a880 36.76%,#40b07c 36.76%,#40b07c 40.42%,#50b777 40.42%,#50b777 43.80%,#61bd72 43.80%,#61bd72 47.46%,#72c46d 47.46%,#72c46d 50.85%,#84c869 50.85%,#84c869 54.79%,#96cd64 54.79%,#96cd64 58.73%,#a6d161 58.73%,#a6d161 62.96%,#b5d55d 62.96%,#b5d55d 68.03%,#c5d85a 68.03%,#c5d85a 73.94%,#d2dc56 73.94%,#d2dc56 82.68%,#e8e24e 82.68%,#e8e24e 100%)"></div>
<div style="left:45.60px;top:272.60px;width:177.50px;height:1.60px;background:linear-gradient(90deg,#1c6589 0%,#1c6589 6.62%,#1d6f8a 6.62%,#1d6f8a 12.25%,#1e798b 12.25%,#1e798b 17.32%,#20838a 17.32%,#20838a 21.55%,#258d89 21.55%,#258d89 25.49%,#299787 25.49%,#299787 29.15%,#30a084 29.15%,#30a084 32.82%,#38a880 32.82%,#38a880 36.20%,#40b07c 36.20%,#40b07c 39.86%,#50b777 39.86%,#50b777 43.24%,#61bd72 43.24%,#61bd72 46.62%,#72c46d 46.62%,#72c46d 50.28%,#84c869 50.28%,#84c869 54.23%,#96cd64 54.23%,#96cd64 58.17%,#a6d161 58.17%,#a6d161 62.39%,#b5d55d 62.39%,#b5d55d 67.18%,#c5d85a 67.18%,#c5d85a 73.10%,#d2dc56 73.10%,#d2dc56 81.55%,#e8e24e 81.55%,#e8e24e 100%)"></div>
<div style="left:45.60px;top:273.60px;width:177.50px;height:1.60px;background:linear-gradient(90deg,#1c6589 0%,#1c6589 5.49%,#1d6f8a 5.49%,#1d6f8a 11.41%,#1e798b 11.41%,#1e798b 16.48%,#20838a 16.48%,#20838a 20.70%,#258d89 20.70%,#258d89 24.65%,#299787 24.65%,#299787 28.59%,#30a084 28.59%,#30a084 32.25%,#38a880 32.25%,#38a880 35.63%,#40b07c 35.63%,#40b07c 39.30%,#50b777 39.30%,#50b777 42.68%,#61bd72 42.68%,#61bd72 46.06%,#72c46d 46.06%,#72c46d 49.72%,#84c869 49.72%,#84c869 53.66%,#96cd64 53.66%,#96cd64 57.61%,#a6d161 57.61%,#a6d161 61.83%,#b5d55d 61.83%,#b5d55d 66.62%,#c5d85a 66.62%,#c5d85a 72.54%,#d2dc56 72.54%,#d2dc56 80.42%,#e8e24e 80.42%,#e8e24e 100%)"></div>
<div style="left:45.60px;top:274.60px;width:177.50px;height:1.60px;background:linear-gradient(90deg,#1c6589 0%,#1c6589 4.37%,#1d6f8a 4.37%,#1d6f8a 10.56%,#1e798b 10.56%,#1e798b 15.63%,#20838a 15.63%,#20838a 20.14%,#258d89 20.14%,#258d89 24.08%,#299787 24.08%,#299787 28.03%,#30a084 28.03%,#30a084 31.41%,#38a880 31.41%,#38a880 35.07%,#40b07c 35.07%,#40b07c 38.45%,#50b777 38.45%,#50b777 42.11%,#61bd72 42.11%,#61bd72 45.49%,#72c46d 45.49%,#72c46d 49.15%,#84c869 49.15%,#84c869 52.82%,#96cd64 52.82%,#96cd64 56.76%,#a6d161 56.76%,#a6d161 61.27%,#b5d55d 61.27%,#b5d55d 66.06%,#c5d85a 66.06%,#c5d85a 71.69%,#d2dc56 71.69%,#d2dc56 79.58%,#e8e24e 79.58%,#e8e24e 100%)"></div>
<div style="left:45.60px;top:275.60px;width:177.50px;height:1.60px;background:linear-gradient(90deg,#1c6589 0%,#1c6589 2.96%,#1d6f8a 2.96%,#1d6f8a 9.72%,#1e798b 9.72%,#1e798b 14.79%,#20838a 14.79%,#20838a 19.30%,#258d89 19.30%,#258d89 23.52%,#299787 23.52%,#299787 27.18%,#30a084 27.18%,#30a084 30.85%,#38a880 30.85%,#38a880 34.51%,#40b07c 34.51%,#40b07c 37.89%,#50b777 37.89%,#50b777 41.55%,#61bd72 41.55%,#61bd72 44.93%,#72c46d 44.93%,#72c46d 48.59%,#84c869 48.59%,#84c869 52.25%,#96cd64 52.25%,#96cd64 56.20%,#a6d161 56.20%,#a6d161 60.42%,#b5d55d 60.42%,#b5d55d 65.21%,#c5d85a 65.21%,#c5d85a 70.85%,#d2dc56 70.85%,#d2dc56 78.45%,#e8e24e 78.45%,#e8e24e 100%)"></div>
<div style="left:45.60px;top:276.60px;width:177.50px;height:1.60px;background:linear-gradient(90deg,#1c6589 0%,#1c6589 1.83%,#1d6f8a 1.83%,#1d6f8a 8.59%,#1e798b 8.59%,#1e798b 13.94%,#20838a 13.94%,#20838a 18.45%,#258d89 18.45%,#258d89 22.68%,#299787 22.68%,#299787 26.62%,#30a084 26.62%,#30a084 30.28%,#38a880 30.28%,#38a880 33.94%,#40b07c 33.94%,#40b07c 37.32%,#50b777 37.32%,#50b777 40.99%,#61bd72 40.99%,#61bd72 44.37%,#72c46d 44.37%,#72c46d 48.03%,#84c869 48.03%,#84c869 51.69%,#96cd64 51.69%,#96cd64 55.63%,#a6d161 55.63%,#a6d161 59.86%,#b5d55d 59.86%,#b5d55d 64.65%,#c5d85a 64.65%,#c5d85a 70.00%,#d2dc56 70.00%,#d2dc56 77.61%,#e8e24e 77.61%,#e8e24e 100%)"></div>
<div style="left:45.60px;top:277.60px;width:177.50px;height:1.60px;background:linear-gradient(90deg,#1c6589 0%,#1c6589 0.42%,#1d6f8a 0.42%,#1d6f8a 7.75%,#1e798b 7.75%,#1e798b 13.10%,#20838a 13.10%,#20838a 17.89%,#258d89 17.89%,#258d89 22.11%,#299787 22.11%,#299787 26.06%,#30a084 26.06%,#30a084 29.72%,#38a880 29.72%,#38a880 33.10%,#40b07c 33.10%,#40b07c 36.76%,#50b777 36.76%,#50b777 40.14%,#61bd72 40.14%,#61bd72 43.80%,#72c46d 43.80%,#72c46d 47.46%,#84c869 47.46%,#84c869 51.13%,#96cd64 51.13%,#96cd64 55.07%,#a6d161 55.07%,#a6d161 59.30%,#b5d55d 59.30%,#b5d55d 63.80%,#c5d85a 63.80%,#c5d85a 69.44%,#d2dc56 69.44%,#d2dc56 76.48%,#e8e24e 76.48%,#e8e24e 100%)"></div>
<div style="left:45.60px;top:278.60px;width:177.50px;height:1.60px;background:linear-gradient(90deg,#1d6f8a 0%,#1d6f8a 6.62%,#1e798b 6.62%,#1e798b 12.25%,#20838a 12.25%,#20838a 17.04%,#258d89 17.04%,#258d89 21.27%,#299787 21.27%,#299787 25.21%,#30a084 25.21%,#30a084 28.87%,#38a880 28.87%,#38a880 32.54%,#40b07c 32.54%,#40b07c 36.20%,#50b777 36.20%,#50b777 39.58%,#61bd72 39.58%,#61bd72 43.24%,#72c46d 43.24%,#72c46d 46.90%,#84c869 46.90%,#84c869 50.56%,#96cd64 50.56%,#96cd64 54.51%,#a6d161 54.51%,#a6d161 58.45%,#b5d55d 58.45%,#b5d55d 63.24%,#c5d85a 63.24%,#c5d85a 68.59%,#d2dc56 68.59%,#d2dc56 75.63%,#e8e24e 75.63%,#e8e24e 100%)"></div>
<div style="left:45.60px;top:279.60px;width:177.50px;height:1.60px;background:linear-gradient(90deg,#1d6f8a 0%,#1d6f8a 5.49%,#1e798b 5.49%,#1e798b 11.41%,#20838a 11.41%,#20838a 16.20%,#258d89 16.20%,#258d89 20.70%,#299787 20.70%,#299787 24.65%,#30a084 24.65%,#30a084 28.31%,#38a880 28.31%,#38a880 31.97%,#40b07c 31.97%,#40b07c 35.63%,#50b777 35.63%,#50b777 39.01%,#61bd72 39.01%,#61bd72 42.68%,#72c46d 42.68%,#72c46d 46.34%,#84c869 46.34%,#84c869 50.00%,#96cd64 50.00%,#96cd64 53.66%,#a6d161 53.66%,#a6d161 57.89%,#b5d55d 57.89%,#b5d55d 62.39%,#c5d85a 62.39%,#c5d85a 67.75%,#d2dc56 67.75%,#d2dc56 74.51%,#e8e24e 74.51%,#e8e24e 100%)"></div>
<div style="left:45.60px;top:280.60px;width:177.50px;height:1.60px;background:linear-gradient(90deg,#1d6f8a 0%,#1d6f8a 4.37%,#1e798b 4.37%,#1e798b 10.56%,#20838a 10.56%,#20838a 15.63%,#258d89 15.63%,#258d89 19.86%,#299787 19.86%,#299787 23.80%,#30a084 23.80%,#30a084 27.75%,#38a880 27.75%,#38a880 31.41%,#40b07c 31.41%,#40b07c 35.07%,#50b777 35.07%,#50b777 38.45%,#61bd72 38.45%,#61bd72 42.11%,#72c46d 42.11%,#72c46d 45.49%,#84c869 45.49%,#84c869 49.44%,#96cd64 49.44%,#96cd64 53.10%,#a6d161 53.10%,#a6d161 57.32%,#b5d55d 57.32%,#b5d55d 61.83%,#c5d85a 61.83%,#c5d85a 67.18%,#d2dc56 67.18%,#d2dc56 73.66%,#e8e24e 73.66%,#e8e24e 100%)"></div>
<div style="left:45.60px;top:281.60px;width:177.50px;height:1.60px;background:linear-gradient(90deg,#1d6f8a 0%,#1d6f8a 3.24%,#1e798b 3.24%,#1e798b 9.72%,#20838a 9.72%,#20838a 14.79%,#258d89 14.79%,#258d89 19.01%,#299787 19.01%,#299787 23.24%,#30a084 23.24%,#30a084 27.18%,#38a880 27.18%,#38a880 30.85%,#40b07c 30.85%,#40b07c 34.23%,#50b777 34.23%,#50b777 37.89%,#61bd72 37.89%,#61bd72 41.55%,#72c46d 41.55%,#72c46d 44.93%,#84c869 44.93%,#84c869 48.59%,#96cd64 48.59%,#96cd64 52.54%,#a6d161 52.54%,#a6d161 56.76%,#b5d55d 56.76%,#b5d55d 61.27%,#c5d85a 61.27%,#c5d85a 66.34%,#d2dc56 66.34%,#d2dc56 72.82%,#e8e24e 72.82%,#e8e24e 85.21%,#e8e24e 85.21%,#e8e24e 92.25%,#e8e24e 92.25%,#e8e24e 100%)"></div>
<div style="left:45.60px;top:282.60px;width:177.50px;height:1.60px;background:linear-gradient(90deg,#1d6f8a 0%,#1d6f8a 1.83%,#1e798b 1.83%,#1e798b 8.59%,#20838a 8.59%,#20838a 13.94%,#258d89 13.94%,#258d89 18.45%,#299787 18.45%,#299787 22.39%,#30a084 22.39%,#30a084 26.34%,#38a880 26.34%,#38a880 30.00%,#40b07c 30.00%,#40b07c 33.66%,#50b777 33.66%,#50b777 37.32%,#61bd72 37.32%,#61bd72 40.70%,#72c46d 40.70%,#72c46d 44.37%,#84c869 44.37%,#84c869 48.03%,#96cd64 48.03%,#96cd64 51.97%,#a6d161 51.97%,#a6d161 55.92%,#b5d55d 55.92%,#b5d55d 60.42%,#c5d85a 60.42%,#c5d85a 65.49%,#d2dc56 65.49%,#d2dc56 71.97%,#e8e24e 71.97%,#e8e24e 82.96%,#e8e24e 82.96%,#e8e24e 93.66%,#e8e24e 93.66%,#e8e24e 100%)"></div>
<div style="left:45.60px;top:283.60px;width:177.50px;height:1.60px;background:linear-gradient(90deg,#1d6f8a 0%,#1d6f8a 0.70%,#1e798b 0.70%,#1e798b 7.75%,#20838a 7.75%,#20838a 13.10%,#258d89 13.10%,#258d89 17.61%,#299787 17.61%,#299787 21.83%,#30a084 21.83%,#30a084 25.77%,#38a880 25.77%,#38a880 29.44%,#40b07c 29.44%,#40b07c 33.10%,#50b777 33.10%,#50b777 36.76%,#61bd72 36.76%,#61bd72 40.14%,#72c46d 40.14%,#72c46d 43.80%,#84c869 43.80%,#84c869 47.46%,#96cd64 47.46%,#96cd64 51.41%,#a6d161 51.41%,#a6d161 55.35%,#b5d55d 55.35%,#b5d55d 59.86%,#c5d85a 59.86%,#c5d85a 64.93%,#d2dc56 64.93%,#d2dc56 71.13%,#e8e24e 71.13%,#e8e24e 80.99%,#e8e24e 80.99%,#e8e24e 94.51%,#e8e24e 94.51%,#e8e24e 100%)"></div>
<div style="left:45.60px;top:284.60px;width:177.50px;height:1.60px;background:linear-gradient(90deg,#1e798b 0%,#1e798b 6.62%,#20838a 6.62%,#20838a 12.25%,#258d89 12.25%,#258d89 16.76%,#299787 16.76%,#299787 20.99%,#30a084 20.99%,#30a084 24.93%,#38a880 24.93%,#38a880 28.87%,#40b07c 28.87%,#40b07c 32.54%,#50b777 32.54%,#50b777 35.92%,#61bd72 35.92%,#61bd72 39.58%,#72c46d 39.58%,#72c46d 43.24%,#84c869 43.24%,#84c869 46.90%,#96cd64 46.90%,#96cd64 50.85%,#a6d161 50.85%,#a6d161 54.79%,#b5d55d 54.79%,#b5d55d 59.30%,#c5d85a 59.30%,#c5d85a 64.08%,#d2dc56 64.08%,#d2dc56 70.28%,#e8e24e 70.28%,#e8e24e 79.58%,#e8e24e 79.58%,#e8e24e 95.07%,#e8e24e 95.07%,#e8e24e 100%)"></div>
<div style="left:45.60px;top:285.60px;width:177.50px;height:1.60px;background:linear-gradient(90deg,#1e798b 0%,#1e798b 5.49%,#20838a 5.49%,#20838a 11.41%,#258d89 11.41%,#258d89 16.20%,#299787 16.20%,#299787 20.42%,#30a084 20.42%,#30a084 24.37%,#38a880 24.37%,#38a880 28.31%,#40b07c 28.31%,#40b07c 31.97%,#50b777 31.97%,#50b777 35.35%,#61bd72 35.35%,#61bd72 39.01%,#72c46d 39.01%,#72c46d 42.68%,#84c869 42.68%,#84c869 46.34%,#96cd64 46.34%,#96cd64 50.00%,#a6d161 50.00%,#a6d161 54.23%,#b5d55d 54.23%,#b5d55d 58.45%,#c5d85a 58.45%,#c5d85a 63.52%,#d2dc56 63.52%,#d2dc56 69.44%,#e8e24e 69.44%,#e8e24e 78.17%,#e8e24e 78.17%,#e8e24e 95.35%,#e8e24e 95.35%,#e8e24e 100%)"></div>
<div style="left:45.60px;top:286.60px;width:177.50px;height:1.60px;background:linear-gradient(90deg,#1e798b 0%,#1e798b 4.37%,#20838a 4.37%,#20838a 10.56%,#258d89 10.56%,#258d89 15.35%,#299787 15.35%,#299787 19.58%,#30a084 19.58%,#30a084 23.80%,#38a880 23.80%,#38a880 27.46%,#40b07c 27.46%,#40b07c 31.13%,#50b777 31.13%,#50b777 34.79%,#61bd72 34.79%,#61bd72 38.45%,#72c46d 38.45%,#72c46d 42.11%,#84c869 42.11%,#84c869 45.77%,#96cd64 45.77%,#96cd64 49.44%,#a6d161 49.44%,#a6d161 53.66%,#b5d55d 53.66%,#b5d55d 57.89%,#c5d85a 57.89%,#c5d85a 62.68%,#d2dc56 62.68%,#d2dc56 68.59%,#e8e24e 68.59%,#e8e24e 77.04%,#e8e24e 77.04%,#e8e24e 95.63%,#e8e24e 95.63%,#e8e24e 100%)"></div>
<div style="left:45.60px;top:287.60px;width:177.50px;height:1.60px;background:linear-gradient(90deg,#1e798b 0%,#1e798b 3.24%,#20838a 3.24%,#20838a 9.44%,#258d89 9.44%,#258d89 14.51%,#299787 14.51%,#299787 19.01%,#30a084 19.01%,#30a084 22.96%,#38a880 22.96%,#38a880 26.90%,#40b07c 26.90%,#40b07c 30.56%,#50b777 30.56%,#50b777 34.23%,#61bd72 34.23%,#61bd72 37.89%,#72c46d 37.89%,#72c46d 41.55%,#84c869 41.55%,#84c869 45.21%,#96cd64 45.21%,#96cd64 48.87%,#a6d161 48.87%,#a6d161 52.82%,#b5d55d 52.82%,#b5d55d 57.32%,#c5d85a 57.32%,#c5d85a 62.11%,#d2dc56 62.11%,#d2dc56 67.75%,#e8e24e 67.75%,#e8e24e 75.63%,#e8e24e 75.63%,#e8e24e 95.92%,#e8e24e 95.92%,#e8e24e 100%)"></div>
<div style="left:45.60px;top:288.60px;width:177.50px;height:1.60px;background:linear-gradient(90deg,#1e798b 0%,#1e798b 2.11%,#20838a 2.11%,#20838a 8.59%,#258d89 8.59%,#258d89 13.66%,#299787 13.66%,#299787 18.17%,#30a084 18.17%,#30a084 22.39%,#38a880 22.39%,#38a880 26.34%,#40b07c 26.34%,#40b07c 30.00%,#50b777 30.00%,#50b777 33.66%,#61bd72 33.66%,#61bd72 37.32%,#72c46d 37.32%,#72c46d 40.70%,#84c869 40.70%,#84c869 44.37%,#96cd64 44.37%,#96cd64 48.31%,#a6d161 48.31%,#a6d161 52.25%,#b5d55d 52.25%,#b5d55d 56.48%,#c5d85a 56.48%,#c5d85a 61.27%,#d2dc56 61.27%,#d2dc56 66.90%,#e8e24e 66.90%,#e8e24e 74.79%,#e8e24e 74.79%,#e8e24e 96.20%,#e8e24e 96.20%,#e8e24e 100%)"></div>
<div style="left:45.60px;top:289.60px;width:177.50px;height:1.60px;background:linear-gradient(90deg,#1e798b 0%,#1e798b 0.99%,#20838a 0.99%,#20838a 7.75%,#258d89 7.75%,#258d89 12.82%,#299787 12.82%,#299787 17.61%,#30a084 17.61%,#30a084 21.55%,#38a880 21.55%,#38a880 25.49%,#40b07c 25.49%,#40b07c 29.44%,#50b777 29.44%,#50b777 33.10%,#61bd72 33.10%,#61bd72 36.48%,#72c46d 36.48%,#72c46d 40.14%,#84c869 40.14%,#84c869 43.80%,#96cd64 43.80%,#96cd64 47.75%,#a6d161 47.75%,#a6d161 51.69%,#b5d55d 51.69%,#b5d55d 55.92%,#c5d85a 55.92%,#c5d85a 60.70%,#d2dc56 60.70%,#d2dc56 66.34%,#e8e24e 66.34%,#e8e24e 73.66%,#e8e24e 73.66%,#e8e24e 96.20%,#e8e24e 96.20%,#e8e24e 100%)"></div>
<div style="left:45.60px;top:290.60px;width:177.50px;height:1.60px;background:linear-gradient(90deg,#20838a 0%,#20838a 6.62%,#258d89 6.62%,#258d89 11.97%,#299787 11.97%,#299787 16.76%,#30a084 16.76%,#30a084 20.99%,#38a880 20.99%,#38a880 24.93%,#40b07c 24.93%,#40b07c 28.59%,#50b777 28.59%,#50b777 32.25%,#61bd72 32.25%,#61bd72 35.92%,#72c46d 35.92%,#72c46d 39.58%,#84c869 39.58%,#84c869 43.24%,#96cd64 43.24%,#96cd64 47.18%,#a6d161 47.18%,#a6d161 51.13%,#b5d55d 51.13%,#b5d55d 55.35%,#c5d85a 55.35%,#c5d85a 59.86%,#d2dc56 59.86%,#d2dc56 65.49%,#e8e24e 65.49%,#e8e24e 72.54%,#e8e24e 72.54%,#e8e24e 96.20%,#e8e24e 96.20%,#e8e24e 100%)"></div>
<div style="left:45.60px;top:291.60px;width:177.50px;height:1.60px;background:linear-gradient(90deg,#20838a 0%,#20838a 5.49%,#258d89 5.49%,#258d89 11.13%,#299787 11.13%,#299787 15.92%,#30a084 15.92%,#30a084 20.14%,#38a880 20.14%,#38a880 24.37%,#40b07c 24.37%,#40b07c 28.03%,#50b777 28.03%,#50b777 31.69%,#61bd72 31.69%,#61bd72 35.35%,#72c46d 35.35%,#72c46d 39.01%,#84c869 39.01%,#84c869 42.68%,#96cd64 42.68%,#96cd64 46.62%,#a6d161 46.62%,#a6d161 50.56%,#b5d55d 50.56%,#b5d55d 54.79%,#c5d85a 54.79%,#c5d85a 59.30%,#d2dc56 59.30%,#d2dc56 64.65%,#e8e24e 64.65%,#e8e24e 71.69%,#e8e24e 71.69%,#e8e24e 96.20%,#e8e24e 96.20%,#e8e24e 100%)"></div>
<div style="left:45.60px;top:292.60px;width:177.50px;height:1.60px;background:linear-gradient(90deg,#20838a 0%,#20838a 4.65%,#258d89 4.65%,#258d89 10.28%,#299787 10.28%,#299787 15.07%,#30a084 15.07%,#30a084 19.58%,#38a880 19.58%,#38a880 23.52%,#40b07c 23.52%,#40b07c 27.46%,#50b777 27.46%,#50b777 31.13%,#61bd72 31.13%,#61bd72 34.79%,#72c46d 34.79%,#72c46d 38.45%,#84c869 38.45%,#84c869 42.11%,#96cd64 42.11%,#96cd64 45.77%,#a6d161 45.77%,#a6d161 49.72%,#b5d55d 49.72%,#b5d55d 53.94%,#c5d85a 53.94%,#c5d85a 58.73%,#d2dc56 58.73%,#d2dc56 64.08%,#e8e24e 64.08%,#e8e24e 70.85%,#e8e24e 70.85%,#e8e24e 96.20%,#e8e24e 96.20%,#e8e24e 100%)"></div>
<div style="left:45.60px;top:293.60px;width:177.50px;height:1.60px;background:linear-gradient(90deg,#20838a 0%,#20838a 3.52%,#258d89 3.52%,#258d89 9.44%,#299787 9.44%,#299787 14.51%,#30a084 14.51%,#30a084 18.73%,#38a880 18.73%,#38a880 22.96%,#40b07c 22.96%,#40b07c 26.62%,#50b777 26.62%,#50b777 30.56%,#61bd72 30.56%,#61bd72 34.23%,#72c46d 34.23%,#72c46d 37.89%,#84c869 37.89%,#84c869 41.55%,#96cd64 41.55%,#96cd64 45.21%,#a6d161 45.21%,#a6d161 49.15%,#b5d55d 49.15%,#b5d55d 53.38%,#c5d85a 53.38%,#c5d85a 57.89%,#d2dc56 57.89%,#d2dc56 63.24%,#e8e24e 63.24%,#e8e24e 69.72%,#e8e24e 69.72%,#e8e24e 95.92%,#e8e24e 95.92%,#e8e24e 100%)"></div>
<div style="left:45.60px;top:294.60px;width:177.50px;height:1.60px;background:linear-gradient(90deg,#20838a 0%,#20838a 2.39%,#258d89 2.39%,#258d89 8.59%,#299787 8.59%,#299787 13.66%,#30a084 13.66%,#30a084 18.17%,#38a880 18.17%,#38a880 22.11%,#40b07c 22.11%,#40b07c 26.06%,#50b777 26.06%,#50b777 30.00%,#61bd72 30.00%,#61bd72 33.66%,#72c46d 33.66%,#72c46d 37.32%,#84c869 37.32%,#84c869 40.99%,#96cd64 40.99%,#96cd64 44.65%,#a6d161 44.65%,#a6d161 48.59%,#b5d55d 48.59%,#b5d55d 52.82%,#c5d85a 52.82%,#c5d85a 57.32%,#d2dc56 57.32%,#d2dc56 62.39%,#e8e24e 62.39%,#e8e24e 68.87%,#e8e24e 68.87%,#e8e24e 80.99%,#e8e24e 80.99%,#e8e24e 84.37%,#e8e24e 84.37%,#e8e24e 95.92%,#e8e24e 95.92%,#e8e24e 100%)"></div>
<div style="left:45.60px;top:295.60px;width:177.50px;height:1.60px;background:linear-gradient(90deg,#20838a 0%,#20838a 0.99%,#258d89 0.99%,#258d89 7.75%,#299787 7.75%,#299787 12.82%,#30a084 12.82%,#30a084 17.32%,#38a880 17.32%,#38a880 21.55%,#40b07c 21.55%,#40b07c 25.49%,#50b777 25.49%,#50b777 29.15%,#61bd72 29.15%,#61bd72 32.82%,#72c46d 32.82%,#72c46d 36.76%,#84c869 36.76%,#84c869 40.42%,#96cd64 40.42%,#96cd64 44.08%,#a6d161 44.08%,#a6d161 48.03%,#b5d55d 48.03%,#b5d55d 52.25%,#c5d85a 52.25%,#c5d85a 56.76%,#d2dc56 56.76%,#d2dc56 61.83%,#e8e24e 61.83%,#e8e24e 68.03%,#e8e24e 68.03%,#e8e24e 78.45%,#e8e24e 78.45%,#e8e24e 85.77%,#e8e24e 85.77%,#e8e24e 95.63%,#e8e24e 95.63%,#e8e24e 100%)"></div>
<div style="left:45.60px;top:296.60px;width:177.50px;height:1.60px;background:linear-gradient(90deg,#258d89 0%,#258d89 6.62%,#299787 6.62%,#299787 11.97%,#30a084 11.97%,#30a084 16.76%,#38a880 16.76%,#38a880 20.99%,#40b07c 20.99%,#40b07c 24.93%,#50b777 24.93%,#50b777 28.59%,#61bd72 28.59%,#61bd72 32.25%,#72c46d 32.25%,#72c46d 35.92%,#84c869 35.92%,#84c869 39.86%,#96cd64 39.86%,#96cd64 43.52%,#a6d161 43.52%,#a6d161 47.46%,#b5d55d 47.46%,#b5d55d 51.69%,#c5d85a 51.69%,#c5d85a 56.20%,#d2dc56 56.20%,#d2dc56 61.27%,#e8e24e 61.27%,#e8e24e 67.18%,#e8e24e 67.18%,#e8e24e 76.76%,#e8e24e 76.76%,#e8e24e 86.34%,#e8e24e 86.34%,#e8e24e 95.63%,#e8e24e 95.63%,#e8e24e 100%)"></div>
<div style="left:45.60px;top:297.60px;width:177.50px;height:1.60px;background:linear-gradient(90deg,#258d89 0%,#258d89 5.77%,#299787 5.77%,#299787 11.13%,#30a084 11.13%,#30a084 15.92%,#38a880 15.92%,#38a880 20.14%,#40b07c 20.14%,#40b07c 24.08%,#50b777 24.08%,#50b777 28.03%,#61bd72 28.03%,#61bd72 31.69%,#72c46d 31.69%,#72c46d 35.35%,#84c869 35.35%,#84c869 39.01%,#96cd64 39.01%,#96cd64 42.96%,#a6d161 42.96%,#a6d161 46.90%,#b5d55d 46.90%,#b5d55d 50.85%,#c5d85a 50.85%,#c5d85a 55.35%,#d2dc56 55.35%,#d2dc56 60.42%,#e8e24e 60.42%,#e8e24e 66.62%,#e8e24e 66.62%,#e8e24e 75.35%,#e8e24e 75.35%,#e8e24e 86.62%,#e8e24e 86.62%,#e8e24e 95.35%,#e8e24e 95.35%,#e8e24e 100%)"></div>
<div style="left:45.60px;top:298.60px;width:177.50px;height:1.60px;background:linear-gradient(90deg,#258d89 0%,#258d89 4.65%,#299787 4.65%,#299787 10.28%,#30a084 10.28%,#30a084 15.07%,#38a880 15.07%,#38a880 19.58%,#40b07c 19.58%,#40b07c 23.52%,#50b777 23.52%,#50b777 27.46%,#61bd72 27.46%,#61bd72 31.13%,#72c46d 31.13%,#72c46d 34.79%,#84c869 34.79%,#84c869 38.45%,#96cd64 38.45%,#96cd64 42.39%,#a6d161 42.39%,#a6d161 46.34%,#b5d55d 46.34%,#b5d55d 50.28%,#c5d85a 50.28%,#c5d85a 54.79%,#d2dc56 54.79%,#d2dc56 59.86%,#e8e24e 59.86%,#e8e24e 65.77%,#e8e24e 65.77%,#e8e24e 74.23%,#e8e24e 74.23%,#e8e24e 86.90%,#e8e24e 86.90%,#e8e24e 95.07%,#e8e24e 95.07%,#e8e24e 100%)"></div>
<div style="left:45.60px;top:299.60px;width:177.50px;height:1.60px;background:linear-gradient(90deg,#258d89 0%,#258d89 3.52%,#299787 3.52%,#299787 9.44%,#30a084 9.44%,#30a084 14.51%,#38a880 14.51%,#38a880 18.73%,#40b07c 18.73%,#40b07c 22.96%,#50b777 22.96%,#50b777 26.62%,#61bd72 26.62%,#61bd72 30.56%,#72c46d 30.56%,#72c46d 34.23%,#84c869 34.23%,#84c869 37.89%,#96cd64 37.89%,#96cd64 41.83%,#a6d161 41.83%,#a6d161 45.77%,#b5d55d 45.77%,#b5d55d 49.72%,#c5d85a 49.72%,#c5d85a 54.23%,#d2dc56 54.23%,#d2dc56 59.30%,#e8e24e 59.30%,#e8e24e 64.93%,#e8e24e 64.93%,#e8e24e 73.10%,#e8e24e 73.10%,#e8e24e 86.90%,#e8e24e 86.90%,#e8e24e 94.79%,#e8e24e 94.79%,#e8e24e 100%)"></div>
<div style="left:45.60px;top:300.60px;width:177.50px;height:1.60px;background:linear-gradient(90deg,#258d89 0%,#258d89 2.68%,#299787 2.68%,#299787 8.59%,#30a084 8.59%,#30a084 13.66%,#38a880 13.66%,#38a880 18.17%,#40b07c 18.17%,#40b07c 22.11%,#50b777 22.11%,#50b777 26.06%,#61bd72 26.06%,#61bd72 30.00%,#72c46d 30.00%,#72c46d 33.66%,#84c869 33.66%,#84c869 37.32%,#96cd64 37.32%,#96cd64 41.27%,#a6d161 41.27%,#a6d161 45.21%,#b5d55d 45.21%,#b5d55d 49.15%,#c5d85a 49.15%,#c5d85a 53.66%,#d2dc56 53.66%,#d2dc56 58.45%,#e8e24e 58.45%,#e8e24e 64.37%,#e8e24e 64.37%,#e8e24e 72.25%,#e8e24e 72.25%,#e8e24e 86.90%,#e8e24e 86.90%,#e8e24e 94.51%,#e8e24e 94.51%,#e8e24e 100%)"></div>
<div style="left:45.60px;top:301.60px;width:177.50px;height:1.60px;background:linear-gradient(90deg,#258d89 0%,#258d89 1.55%,#299787 1.55%,#299787 7.75%,#30a084 7.75%,#30a084 12.82%,#38a880 12.82%,#38a880 17.32%,#40b07c 17.32%,#40b07c 21.55%,#50b777 21.55%,#50b777 25.49%,#61bd72 25.49%,#61bd72 29.44%,#72c46d 29.44%,#72c46d 33.10%,#84c869 33.10%,#84c869 36.76%,#96cd64 36.76%,#96cd64 40.70%,#a6d161 40.70%,#a6d161 44.65%,#b5d55d 44.65%,#b5d55d 48.59%,#c5d85a 48.59%,#c5d85a 53.10%,#d2dc56 53.10%,#d2dc56 57.89%,#e8e24e 57.89%,#e8e24e 63.52%,#e8e24e 63.52%,#e8e24e 71.13%,#e8e24e 71.13%,#e8e24e 86.62%,#e8e24e 86.62%,#e8e24e 94.23%,#e8e24e 94.23%,#e8e24e 100%)"></div>
<div style="left:45.60px;top:302.60px;width:177.50px;height:1.60px;background:linear-gradient(90deg,#258d89 0%,#258d89 0.14%,#299787 0.14%,#299787 6.90%,#30a084 6.90%,#30a084 11.97%,#38a880 11.97%,#38a880 16.76%,#40b07c 16.76%,#40b07c 20.99%,#50b777 20.99%,#50b777 24.93%,#61bd72 24.93%,#61bd72 28.59%,#72c46d 28.59%,#72c46d 32.54%,#84c869 32.54%,#84c869 36.20%,#96cd64 36.20%,#96cd64 40.14%,#a6d161 40.14%,#a6d161 44.08%,#b5d55d 44.08%,#b5d55d 48.03%,#c5d85a 48.03%,#c5d85a 52.54%,#d2dc56 52.54%,#d2dc56 57.32%,#e8e24e 57.32%,#e8e24e 62.96%,#e8e24e 62.96%,#e8e24e 70.28%,#e8e24e 70.28%,#e8e24e 86.34%,#e8e24e 86.34%,#e8e24e 93.94%,#e8e24e 93.94%,#e8e24e 100%)"></div>
<div style="left:45.60px;top:303.60px;width:177.50px;height:1.60px;background:linear-gradient(90deg,#299787 0%,#299787 5.77%,#30a084 5.77%,#30a084 11.41%,#38a880 11.41%,#38a880 15.92%,#40b07c 15.92%,#40b07c 20.14%,#50b777 20.14%,#50b777 24.37%,#61bd72 24.37%,#61bd72 28.03%,#72c46d 28.03%,#72c46d 31.97%,#84c869 31.97%,#84c869 35.63%,#96cd64 35.63%,#96cd64 39.58%,#a6d161 39.58%,#a6d161 43.52%,#b5d55d 43.52%,#b5d55d 47.46%,#c5d85a 47.46%,#c5d85a 51.97%,#d2dc56 51.97%,#d2dc56 56.76%,#e8e24e 56.76%,#e8e24e 62.11%,#e8e24e 62.11%,#e8e24e 69.44%,#e8e24e 69.44%,#e8e24e 86.34%,#e8e24e 86.34%,#e8e24e 93.38%,#e8e24e 93.38%,#e8e24e 100%)"></div>
<div style="left:45.60px;top:304.60px;width:177.50px;height:1.60px;background:linear-gradient(90deg,#299787 0%,#299787 4.93%,#30a084 4.93%,#30a084 10.56%,#38a880 10.56%,#38a880 15.35%,#40b07c 15.35%,#40b07c 19.58%,#50b777 19.58%,#50b777 23.52%,#61bd72 23.52%,#61bd72 27.46%,#72c46d 27.46%,#72c46d 31.41%,#84c869 31.41%,#84c869 35.07%,#96cd64 35.07%,#96cd64 39.01%,#a6d161 39.01%,#a6d161 42.96%,#b5d55d 42.96%,#b5d55d 46.90%,#c5d85a 46.90%,#c5d85a 51.41%,#d2dc56 51.41%,#d2dc56 56.20%,#e8e24e 56.20%,#e8e24e 61.55%,#e8e24e 61.55%,#e8e24e 68.59%,#e8e24e 68.59%,#e8e24e 86.06%,#e8e24e 86.06%,#e8e24e 93.10%,#e8e24e 93.10%,#e8e24e 100%)"></div>
<div style="left:45.60px;top:305.60px;width:177.50px;height:1.60px;background:linear-gradient(90deg,#299787 0%,#299787 4.08%,#30a084 4.08%,#30a084 9.72%,#38a880 9.72%,#38a880 14.51%,#40b07c 14.51%,#40b07c 19.01%,#50b777 19.01%,#50b777 22.96%,#61bd72 22.96%,#61bd72 26.90%,#72c46d 26.90%,#72c46d 30.85%,#84c869 30.85%,#84c869 34.51%,#96cd64 34.51%,#96cd64 38.45%,#a6d161 38.45%,#a6d161 42.39%,#b5d55d 42.39%,#b5d55d 46.34%,#c5d85a 46.34%,#c5d85a 50.85%,#d2dc56 50.85%,#d2dc56 55.35%,#e8e24e 55.35%,#e8e24e 60.99%,#e8e24e 60.99%,#e8e24e 68.03%,#e8e24e 68.03%,#e8e24e 85.49%,#e8e24e 85.49%,#e8e24e 92.82%,#e8e24e 92.82%,#e8e24e 100%)"></div>
<div style="left:45.60px;top:306.60px;width:177.50px;height:1.60px;background:linear-gradient(90deg,#299787 0%,#299787 2.96%,#30a084 2.96%,#30a084 8.87%,#38a880 8.87%,#38a880 13.66%,#40b07c 13.66%,#40b07c 18.17%,#50b777 18.17%,#50b777 22.39%,#61bd72 22.39%,#61bd72 26.34%,#72c46d 26.34%,#72c46d 30.28%,#84c869 30.28%,#84c869 33.94%,#96cd64 33.94%,#96cd64 37.89%,#a6d161 37.89%,#a6d161 41.83%,#b5d55d 41.83%,#b5d55d 45.77%,#c5d85a 45.77%,#c5d85a 50.28%,#d2dc56 50.28%,#d2dc56 54.79%,#e8e24e 54.79%,#e8e24e 60.42%,#e8e24e 60.42%,#e8e24e 67.18%,#e8e24e 67.18%,#e8e24e 79.01%,#e8e24e 79.01%,#e8e24e 79.86%,#e8e24e 79.86%,#e8e24e 85.21%,#e8e24e 85.21%,#e8e24e 92.25%,#e8e24e 92.25%,#e8e24e 100%)"></div>
<div style="left:45.60px;top:307.60px;width:177.50px;height:1.60px;background:linear-gradient(90deg,#299787 0%,#299787 1.83%,#30a084 1.83%,#30a084 8.03%,#38a880 8.03%,#38a880 13.10%,#40b07c 13.10%,#40b07c 17.61%,#50b777 17.61%,#50b777 21.83%,#61bd72 21.83%,#61bd72 25.77%,#72c46d 25.77%,#72c46d 29.72%,#84c869 29.72%,#84c869 33.38%,#96cd64 33.38%,#96cd64 37.32%,#a6d161 37.32%,#a6d161 41.27%,#b5d55d 41.27%,#b5d55d 45.21%,#c5d85a 45.21%,#c5d85a 49.72%,#d2dc56 49.72%,#d2dc56 54.23%,#e8e24e 54.23%,#e8e24e 59.86%,#e8e24e 59.86%,#e8e24e 66.62%,#e8e24e 66.62%,#e8e24e 78.17%,#e8e24e 78.17%,#e8e24e 79.01%,#e8e24e 79.01%,#e8e24e 84.93%,#e8e24e 84.93%,#e8e24e 91.97%,#e8e24e 91.97%,#e8e24e 100%)"></div>
<div style="left:45.60px;top:308.60px;width:177.50px;height:1.60px;background:linear-gradient(90deg,#299787 0%,#299787 0.70%,#30a084 0.70%,#30a084 7.18%,#38a880 7.18%,#38a880 12.25%,#40b07c 12.25%,#40b07c 16.76%,#50b777 16.76%,#50b777 20.99%,#61bd72 20.99%,#61bd72 25.21%,#72c46d 25.21%,#72c46d 28.87%,#84c869 28.87%,#84c869 32.82%,#96cd64 32.82%,#96cd64 36.76%,#a6d161 36.76%,#a6d161 40.70%,#b5d55d 40.70%,#b5d55d 44.65%,#c5d85a 44.65%,#c5d85a 49.15%,#d2dc56 49.15%,#d2dc56 53.66%,#e8e24e 53.66%,#e8e24e 59.30%,#e8e24e 59.30%,#e8e24e 65.77%,#e8e24e 65.77%,#e8e24e 84.37%,#e8e24e 84.37%,#e8e24e 91.41%,#e8e24e 91.41%,#e8e24e 100%)"></div>
<div style="left:45.60px;top:309.60px;width:177.50px;height:1.60px;background:linear-gradient(90deg,#30a084 0%,#30a084 6.34%,#38a880 6.34%,#38a880 11.41%,#40b07c 11.41%,#40b07c 16.20%,#50b777 16.20%,#50b777 20.42%,#61bd72 20.42%,#61bd72 24.37%,#72c46d 24.37%,#72c46d 28.31%,#84c869 28.31%,#84c869 32.25%,#96cd64 32.25%,#96cd64 36.20%,#a6d161 36.20%,#a6d161 40.14%,#b5d55d 40.14%,#b5d55d 44.08%,#c5d85a 44.08%,#c5d85a 48.59%,#d2dc56 48.59%,#d2dc56 53.38%,#e8e24e 53.38%,#e8e24e 58.73%,#e8e24e 58.73%,#e8e24e 65.21%,#e8e24e 65.21%,#e8e24e 83.80%,#e8e24e 83.80%,#e8e24e 91.13%,#e8e24e 91.13%,#e8e24e 100%)"></div>
<div style="left:45.60px;top:310.60px;width:177.50px;height:1.60px;background:linear-gradient(90deg,#30a084 0%,#30a084 5.49%,#38a880 5.49%,#38a880 10.85%,#40b07c 10.85%,#40b07c 15.63%,#50b777 15.63%,#50b777 19.86%,#61bd72 19.86%,#61bd72 23.80%,#72c46d 23.80%,#72c46d 27.75%,#84c869 27.75%,#84c869 31.69%,#96cd64 31.69%,#96cd64 35.63%,#a6d161 35.63%,#a6d161 39.58%,#b5d55d 39.58%,#b5d55d 43.80%,#c5d85a 43.80%,#c5d85a 48.03%,#d2dc56 48.03%,#d2dc56 52.82%,#e8e24e 52.82%,#e8e24e 58.17%,#e8e24e 58.17%,#e8e24e 64.65%,#e8e24e 64.65%,#e8e24e 83.52%,#e8e24e 83.52%,#e8e24e 90.56%,#e8e24e 90.56%,#e8e24e 100%)"></div>
<div style="left:45.60px;top:311.60px;width:177.50px;height:1.60px;background:linear-gradient(90deg,#30a084 0%,#30a084 4.37%,#38a880 4.37%,#38a880 10.00%,#40b07c 10.00%,#40b07c 14.79%,#50b777 14.79%,#50b777 19.30%,#61bd72 19.30%,#61bd72 23.24%,#72c46d 23.24%,#72c46d 27.18%,#84c869 27.18%,#84c869 31.13%,#96cd64 31.13%,#96cd64 35.07%,#a6d161 35.07%,#a6d161 39.01%,#b5d55d 39.01%,#b5d55d 43.24%,#c5d85a 43.24%,#c5d85a 47.46%,#d2dc56 47.46%,#d2dc56 52.25%,#e8e24e 52.25%,#e8e24e 57.61%,#e8e24e 57.61%,#e8e24e 64.08%,#e8e24e 64.08%,#e8e24e 82.96%,#e8e24e 82.96%,#e8e24e 90.00%,#e8e24e 90.00%,#e8e24e 100%)"></div>
<div style="left:45.60px;top:312.60px;width:177.50px;height:1.60px;background:linear-gradient(90deg,#30a084 0%,#30a084 3.52%,#38a880 3.52%,#38a880 9.15%,#40b07c 9.15%,#40b07c 14.23%,#50b777 14.23%,#50b777 18.45%,#61bd72 18.45%,#61bd72 22.68%,#72c46d 22.68%,#72c46d 26.62%,#84c869 26.62%,#84c869 30.56%,#96cd64 30.56%,#96cd64 34.51%,#a6d161 34.51%,#a6d161 38.45%,#b5d55d 38.45%,#b5d55d 42.68%,#c5d85a 42.68%,#c5d85a 46.90%,#d2dc56 46.90%,#d2dc56 51.69%,#e8e24e 51.69%,#e8e24e 57.04%,#e8e24e 57.04%,#e8e24e 63.52%,#e8e24e 63.52%,#e8e24e 82.39%,#e8e24e 82.39%,#e8e24e 89.44%,#e8e24e 89.44%,#e8e24e 100%)"></div>
<div style="left:45.60px;top:313.60px;width:177.50px;height:1.60px;background:linear-gradient(90deg,#30a084 0%,#30a084 2.68%,#38a880 2.68%,#38a880 8.31%,#40b07c 8.31%,#40b07c 13.38%,#50b777 13.38%,#50b777 17.89%,#61bd72 17.89%,#61bd72 22.11%,#72c46d 22.11%,#72c46d 26.06%,#84c869 26.06%,#84c869 30.00%,#96cd64 30.00%,#96cd64 33.94%,#a6d161 33.94%,#a6d161 38.17%,#b5d55d 38.17%,#b5d55d 42.11%,#c5d85a 42.11%,#c5d85a 46.62%,#d2dc56 46.62%,#d2dc56 51.13%,#e8e24e 51.13%,#e8e24e 56.48%,#e8e24e 56.48%,#e8e24e 63.24%,#e8e24e 63.24%,#e8e24e 81.83%,#e8e24e 81.83%,#e8e24e 88.87%,#e8e24e 88.87%,#e8e24e 100%)"></div>
<div style="left:45.60px;top:314.60px;width:177.50px;height:1.60px;background:linear-gradient(90deg,#30a084 0%,#30a084 1.55%,#38a880 1.55%,#38a880 7.75%,#40b07c 7.75%,#40b07c 12.82%,#50b777 12.82%,#50b777 17.32%,#61bd72 17.32%,#61bd72 21.55%,#72c46d 21.55%,#72c46d 25.49%,#84c869 25.49%,#84c869 29.44%,#96cd64 29.44%,#96cd64 33.38%,#a6d161 33.38%,#a6d161 37.61%,#b5d55d 37.61%,#b5d55d 41.55%,#c5d85a 41.55%,#c5d85a 46.06%,#d2dc56 46.06%,#d2dc56 50.85%,#e8e24e 50.85%,#e8e24e 55.92%,#e8e24e 55.92%,#e8e24e 62.68%,#e8e24e 62.68%,#e8e24e 80.99%,#e8e24e 80.99%,#e8e24e 88.31%,#e8e24e 88.31%,#e8e24e 99.58%,#d2dc56 99.58%,#d2dc56 100%)"></div>
<div style="left:45.60px;top:315.60px;width:177.50px;height:1.60px;background:linear-gradient(90deg,#30a084 0%,#30a084 0.70%,#38a880 0.70%,#38a880 6.90%,#40b07c 6.90%,#40b07c 11.97%,#50b777 11.97%,#50b777 16.76%,#61bd72 16.76%,#61bd72 20.99%,#72c46d 20.99%,#72c46d 24.93%,#84c869 24.93%,#84c869 29.15%,#96cd64 29.15%,#96cd64 33.10%,#a6d161 33.10%,#a6d161 37.04%,#b5d55d 37.04%,#b5d55d 41.27%,#c5d85a 41.27%,#c5d85a 45.49%,#d2dc56 45.49%,#d2dc56 50.28%,#e8e24e 50.28%,#e8e24e 55.63%,#e8e24e 55.63%,#e8e24e 62.11%,#e8e24e 62.11%,#e8e24e 80.42%,#e8e24e 80.42%,#e8e24e 87.75%,#e8e24e 87.75%,#e8e24e 98.73%,#d2dc56 98.73%,#d2dc56 100%)"></div>
<div style="left:45.60px;top:316.60px;width:177.50px;height:1.60px;background:linear-gradient(90deg,#38a880 0%,#38a880 6.06%,#40b07c 6.06%,#40b07c 11.41%,#50b777 11.41%,#50b777 15.92%,#61bd72 15.92%,#61bd72 20.42%,#72c46d 20.42%,#72c46d 24.37%,#84c869 24.37%,#84c869 28.59%,#96cd64 28.59%,#96cd64 32.54%,#a6d161 32.54%,#a6d161 36.48%,#b5d55d 36.48%,#b5d55d 40.70%,#c5d85a 40.70%,#c5d85a 44.93%,#d2dc56 44.93%,#d2dc56 49.72%,#e8e24e 49.72%,#e8e24e 55.07%,#e8e24e 55.07%,#e8e24e 61.83%,#e8e24e 61.83%,#e8e24e 79.86%,#e8e24e 79.86%,#e8e24e 87.18%,#e8e24e 87.18%,#e8e24e 98.17%,#d2dc56 98.17%,#d2dc56 100%)"></div>
<div style="left:45.60px;top:317.60px;width:177.50px;height:1.60px;background:linear-gradient(90deg,#38a880 0%,#38a880 5.21%,#40b07c 5.21%,#40b07c 10.56%,#50b777 10.56%,#50b777 15.35%,#61bd72 15.35%,#61bd72 19.86%,#72c46d 19.86%,#72c46d 23.80%,#84c869 23.80%,#84c869 28.03%,#96cd64 28.03%,#96cd64 31.97%,#a6d161 31.97%,#a6d161 35.92%,#b5d55d 35.92%,#b5d55d 40.14%,#c5d85a 40.14%,#c5d85a 44.65%,#d2dc56 44.65%,#d2dc56 49.44%,#e8e24e 49.44%,#e8e24e 54.79%,#e8e24e 54.79%,#e8e24e 61.55%,#e8e24e 61.55%,#e8e24e 79.01%,#e8e24e 79.01%,#e8e24e 86.62%,#e8e24e 86.62%,#e8e24e 97.61%,#d2dc56 97.61%,#d2dc56 100%)"></div>
<div style="left:45.60px;top:318.60px;width:177.50px;height:1.60px;background:linear-gradient(90deg,#38a880 0%,#38a880 4.37%,#40b07c 4.37%,#40b07c 10.00%,#50b777 10.00%,#50b777 14.79%,#61bd72 14.79%,#61bd72 19.01%,#72c46d 19.01%,#72c46d 23.24%,#84c869 23.24%,#84c869 27.46%,#96cd64 27.46%,#96cd64 31.41%,#a6d161 31.41%,#a6d161 35.63%,#b5d55d 35.63%,#b5d55d 39.86%,#c5d85a 39.86%,#c5d85a 44.08%,#d2dc56 44.08%,#d2dc56 48.87%,#e8e24e 48.87%,#e8e24e 54.23%,#e8e24e 54.23%,#e8e24e 60.99%,#e8e24e 60.99%,#e8e24e 78.45%,#e8e24e 78.45%,#e8e24e 86.06%,#e8e24e 86.06%,#e8e24e 96.76%,#d2dc56 96.76%,#d2dc56 100%)"></div>
<div style="left:45.60px;top:319.60px;width:177.50px;height:1.60px;background:linear-gradient(90deg,#38a880 0%,#38a880 3.52%,#40b07c 3.52%,#40b07c 9.15%,#50b777 9.15%,#50b777 13.94%,#61bd72 13.94%,#61bd72 18.45%,#72c46d 18.45%,#72c46d 22.68%,#84c869 22.68%,#84c869 26.90%,#96cd64 26.90%,#96cd64 30.85%,#a6d161 30.85%,#a6d161 35.07%,#b5d55d 35.07%,#b5d55d 39.30%,#c5d85a 39.30%,#c5d85a 43.80%,#d2dc56 43.80%,#d2dc56 48.59%,#e8e24e 48.59%,#e8e24e 53.94%,#e8e24e 53.94%,#e8e24e 60.70%,#e8e24e 60.70%,#e8e24e 77.61%,#e8e24e 77.61%,#e8e24e 85.49%,#e8e24e 85.49%,#e8e24e 96.20%,#d2dc56 96.20%,#d2dc56 100%)"></div>
<div style="left:45.60px;top:320.60px;width:177.50px;height:1.60px;background:linear-gradient(90deg,#38a880 0%,#38a880 2.68%,#40b07c 2.68%,#40b07c 8.31%,#50b777 8.31%,#50b777 13.38%,#61bd72 13.38%,#61bd72 17.89%,#72c46d 17.89%,#72c46d 22.11%,#84c869 22.11%,#84c869 26.34%,#96cd64 26.34%,#96cd64 30.56%,#a6d161 30.56%,#a6d161 34.51%,#b5d55d 34.51%,#b5d55d 38.73%,#c5d85a 38.73%,#c5d85a 43.24%,#d2dc56 43.24%,#d2dc56 48.03%,#e8e24e 48.03%,#e8e24e 53.38%,#e8e24e 53.38%,#e8e24e 60.42%,#e8e24e 60.42%,#e8e24e 76.76%,#e8e24e 76.76%,#e8e24e 84.65%,#e8e24e 84.65%,#e8e24e 95.35%,#d2dc56 95.35%,#d2dc56 100%)"></div>
<div style="left:45.60px;top:321.60px;width:177.50px;height:1.60px;background:linear-gradient(90deg,#38a880 0%,#38a880 1.55%,#40b07c 1.55%,#40b07c 7.75%,#50b777 7.75%,#50b777 12.82%,#61bd72 12.82%,#61bd72 17.32%,#72c46d 17.32%,#72c46d 21.55%,#84c869 21.55%,#84c869 25.77%,#96cd64 25.77%,#96cd64 30.00%,#a6d161 30.00%,#a6d161 34.23%,#b5d55d 34.23%,#b5d55d 38.45%,#c5d85a 38.45%,#c5d85a 42.68%,#d2dc56 42.68%,#d2dc56 47.75%,#e8e24e 47.75%,#e8e24e 53.10%,#e8e24e 53.10%,#e8e24e 60.42%,#e8e24e 60.42%,#e8e24e 75.92%,#e8e24e 75.92%,#e8e24e 84.08%,#e8e24e 84.08%,#e8e24e 94.51%,#d2dc56 94.51%,#d2dc56 100%)"></div>
<div style="left:45.60px;top:322.60px;width:177.50px;height:1.60px;background:linear-gradient(90deg,#38a880 0%,#38a880 0.70%,#40b07c 0.70%,#40b07c 6.90%,#50b777 6.90%,#50b777 11.97%,#61bd72 11.97%,#61bd72 16.76%,#72c46d 16.76%,#72c46d 20.99%,#84c869 20.99%,#84c869 25.21%,#96cd64 25.21%,#96cd64 29.44%,#a6d161 29.44%,#a6d161 33.66%,#b5d55d 33.66%,#b5d55d 37.89%,#c5d85a 37.89%,#c5d85a 42.39%,#d2dc56 42.39%,#d2dc56 47.18%,#e8e24e 47.18%,#e8e24e 52.82%,#e8e24e 52.82%,#e8e24e 60.14%,#e8e24e 60.14%,#e8e24e 75.07%,#e8e24e 75.07%,#e8e24e 83.24%,#e8e24e 83.24%,#e8e24e 93.94%,#d2dc56 93.94%,#d2dc56 100%)"></div>
<div style="left:45.60px;top:323.60px;width:177.50px;height:1.60px;background:linear-gradient(90deg,#40b07c 0%,#40b07c 6.06%,#50b777 6.06%,#50b777 11.41%,#61bd72 11.41%,#61bd72 16.20%,#72c46d 16.20%,#72c46d 20.70%,#84c869 20.70%,#84c869 24.93%,#96cd64 24.93%,#96cd64 28.87%,#a6d161 28.87%,#a6d161 33.10%,#b5d55d 33.10%,#b5d55d 37.61%,#c5d85a 37.61%,#c5d85a 42.11%,#d2dc56 42.11%,#d2dc56 46.90%,#e8e24e 46.90%,#e8e24e 52.54%,#e8e24e 52.54%,#e8e24e 60.14%,#e8e24e 60.14%,#e8e24e 73.94%,#e8e24e 73.94%,#e8e24e 82.68%,#e8e24e 82.68%,#e8e24e 93.10%,#d2dc56 93.10%,#d2dc56 100%)"></div>
<div style="left:45.60px;top:324.60px;width:177.50px;height:1.60px;background:linear-gradient(90deg,#40b07c 0%,#40b07c 5.49%,#50b777 5.49%,#50b777 10.85%,#61bd72 10.85%,#61bd72 15.63%,#72c46d 15.63%,#72c46d 20.14%,#84c869 20.14%,#84c869 24.37%,#96cd64 24.37%,#96cd64 28.59%,#a6d161 28.59%,#a6d161 32.82%,#b5d55d 32.82%,#b5d55d 37.04%,#c5d85a 37.04%,#c5d85a 41.55%,#d2dc56 41.55%,#d2dc56 46.62%,#e8e24e 46.62%,#e8e24e 52.25%,#e8e24e 52.25%,#e8e24e 60.14%,#e8e24e 60.14%,#e8e24e 73.10%,#e8e24e 73.10%,#e8e24e 81.83%,#e8e24e 81.83%,#e8e24e 92.25%,#d2dc56 92.25%,#d2dc56 100%)"></div>
<div style="left:45.60px;top:325.60px;width:177.50px;height:1.60px;background:linear-gradient(90deg,#40b07c 0%,#40b07c 4.65%,#50b777 4.65%,#50b777 10.00%,#61bd72 10.00%,#61bd72 15.07%,#72c46d 15.07%,#72c46d 19.58%,#84c869 19.58%,#84c869 23.80%,#96cd64 23.80%,#96cd64 28.03%,#a6d161 28.03%,#a6d161 32.25%,#b5d55d 32.25%,#b5d55d 36.76%,#c5d85a 36.76%,#c5d85a 41.27%,#d2dc56 41.27%,#d2dc56 46.06%,#e8e24e 46.06%,#e8e24e 51.97%,#e8e24e 51.97%,#e8e24e 60.14%,#e8e24e 60.14%,#e8e24e 71.97%,#e8e24e 71.97%,#e8e24e 80.99%,#e8e24e 80.99%,#e8e24e 91.69%,#d2dc56 91.69%,#d2dc56 100%)"></div>
<div style="left:45.60px;top:326.60px;width:177.50px;height:1.60px;background:linear-gradient(90deg,#40b07c 0%,#40b07c 3.80%,#50b777 3.80%,#50b777 9.44%,#61bd72 9.44%,#61bd72 14.51%,#72c46d 14.51%,#72c46d 19.01%,#84c869 19.01%,#84c869 23.24%,#96cd64 23.24%,#96cd64 27.46%,#a6d161 27.46%,#a6d161 31.97%,#b5d55d 31.97%,#b5d55d 36.20%,#c5d85a 36.20%,#c5d85a 40.70%,#d2dc56 40.70%,#d2dc56 45.77%,#e8e24e 45.77%,#e8e24e 51.69%,#e8e24e 51.69%,#e8e24e 60.14%,#e8e24e 60.14%,#e8e24e 70.56%,#e8e24e 70.56%,#e8e24e 80.42%,#e8e24e 80.42%,#e8e24e 90.85%,#d2dc56 90.85%,#d2dc56 100%)"></div>
<div style="left:45.60px;top:327.60px;width:177.50px;height:1.60px;background:linear-gradient(90deg,#40b07c 0%,#40b07c 2.96%,#50b777 2.96%,#50b777 8.87%,#61bd72 8.87%,#61bd72 13.66%,#72c46d 13.66%,#72c46d 18.45%,#84c869 18.45%,#84c869 22.68%,#96cd64 22.68%,#96cd64 27.18%,#a6d161 27.18%,#a6d161 31.41%,#b5d55d 31.41%,#b5d55d 35.92%,#c5d85a 35.92%,#c5d85a 40.42%,#d2dc56 40.42%,#d2dc56 45.49%,#e8e24e 45.49%,#e8e24e 51.41%,#e8e24e 51.41%,#e8e24e 60.42%,#e8e24e 60.42%,#e8e24e 69.15%,#e8e24e 69.15%,#e8e24e 79.58%,#e8e24e 79.58%,#e8e24e 90.00%,#d2dc56 90.00%,#d2dc56 100%)"></div>
<div style="left:45.60px;top:328.60px;width:177.50px;height:1.60px;background:linear-gradient(90deg,#40b07c 0%,#40b07c 2.11%,#50b777 2.11%,#50b777 8.03%,#61bd72 8.03%,#61bd72 13.10%,#72c46d 13.10%,#72c46d 17.89%,#84c869 17.89%,#84c869 22.39%,#96cd64 22.39%,#96cd64 26.62%,#a6d161 26.62%,#a6d161 30.85%,#b5d55d 30.85%,#b5d55d 35.35%,#c5d85a 35.35%,#c5d85a 40.14%,#d2dc56 40.14%,#d2dc56 45.21%,#e8e24e 45.21%,#e8e24e 51.13%,#e8e24e 51.13%,#e8e24e 61.27%,#e8e24e 61.27%,#e8e24e 67.46%,#e8e24e 67.46%,#e8e24e 78.73%,#e8e24e 78.73%,#e8e24e 89.15%,#d2dc56 89.15%,#d2dc56 100%)"></div>
<div style="left:45.60px;top:329.60px;width:177.50px;height:1.60px;background:linear-gradient(90deg,#40b07c 0%,#40b07c 1.27%,#50b777 1.27%,#50b777 7.46%,#61bd72 7.46%,#61bd72 12.54%,#72c46d 12.54%,#72c46d 17.32%,#84c869 17.32%,#84c869 21.83%,#96cd64 21.83%,#96cd64 26.34%,#a6d161 26.34%,#a6d161 30.56%,#b5d55d 30.56%,#b5d55d 35.07%,#c5d85a 35.07%,#c5d85a 39.86%,#d2dc56 39.86%,#d2dc56 44.93%,#e8e24e 44.93%,#e8e24e 51.13%,#e8e24e 51.13%,#e8e24e 62.96%,#e8e24e 62.96%,#e8e24e 64.65%,#e8e24e 64.65%,#e8e24e 77.89%,#e8e24e 77.89%,#e8e24e 88.31%,#d2dc56 88.31%,#d2dc56 100%)"></div>
<div style="left:45.60px;top:330.60px;width:177.50px;height:1.60px;background:linear-gradient(90deg,#40b07c 0%,#40b07c 0.42%,#50b777 0.42%,#50b777 6.62%,#61bd72 6.62%,#61bd72 11.97%,#72c46d 11.97%,#72c46d 16.76%,#84c869 16.76%,#84c869 21.27%,#96cd64 21.27%,#96cd64 25.77%,#a6d161 25.77%,#a6d161 30.28%,#b5d55d 30.28%,#b5d55d 34.79%,#c5d85a 34.79%,#c5d85a 39.30%,#d2dc56 39.30%,#d2dc56 44.65%,#e8e24e 44.65%,#e8e24e 50.85%,#e8e24e 50.85%,#e8e24e 76.76%,#e8e24e 76.76%,#e8e24e 87.46%,#d2dc56 87.46%,#d2dc56 100%)"></div>
<div style="left:45.60px;top:331.60px;width:177.50px;height:1.60px;background:linear-gradient(90deg,#50b777 0%,#50b777 6.06%,#61bd72 6.06%,#61bd72 11.41%,#72c46d 11.41%,#72c46d 16.20%,#84c869 16.20%,#84c869 20.99%,#96cd64 20.99%,#96cd64 25.21%,#a6d161 25.21%,#a6d161 29.72%,#b5d55d 29.72%,#b5d55d 34.23%,#c5d85a 34.23%,#c5d85a 39.01%,#d2dc56 39.01%,#d2dc56 44.37%,#e8e24e 44.37%,#e8e24e 50.85%,#e8e24e 50.85%,#e8e24e 75.92%,#e8e24e 75.92%,#e8e24e 86.62%,#d2dc56 86.62%,#d2dc56 100%)"></div>
<div style="left:45.60px;top:332.60px;width:177.50px;height:1.60px;background:linear-gradient(90deg,#50b777 0%,#50b777 5.49%,#61bd72 5.49%,#61bd72 10.85%,#72c46d 10.85%,#72c46d 15.63%,#84c869 15.63%,#84c869 20.42%,#96cd64 20.42%,#96cd64 24.93%,#a6d161 24.93%,#a6d161 29.44%,#b5d55d 29.44%,#b5d55d 33.94%,#c5d85a 33.94%,#c5d85a 38.73%,#d2dc56 38.73%,#d2dc56 44.08%,#e8e24e 44.08%,#e8e24e 50.56%,#e8e24e 50.56%,#e8e24e 75.07%,#e8e24e 75.07%,#e8e24e 85.77%,#d2dc56 85.77%,#d2dc56 100%)"></div>
<div style="left:45.60px;top:333.60px;width:177.50px;height:1.60px;background:linear-gradient(90deg,#50b777 0%,#50b777 4.65%,#61bd72 4.65%,#61bd72 10.28%,#72c46d 10.28%,#72c46d 15.35%,#84c869 15.35%,#84c869 19.86%,#96cd64 19.86%,#96cd64 24.37%,#a6d161 24.37%,#a6d161 28.87%,#b5d55d 28.87%,#b5d55d 33.66%,#c5d85a 33.66%,#c5d85a 38.45%,#d2dc56 38.45%,#d2dc56 43.80%,#e8e24e 43.80%,#e8e24e 50.56%,#e8e24e 50.56%,#e8e24e 73.94%,#e8e24e 73.94%,#e8e24e 84.65%,#d2dc56 84.65%,#d2dc56 100%)"></div>
<div style="left:45.60px;top:334.60px;width:177.50px;height:1.60px;background:linear-gradient(90deg,#50b777 0%,#50b777 4.08%,#61bd72 4.08%,#61bd72 9.72%,#72c46d 9.72%,#72c46d 14.79%,#84c869 14.79%,#84c869 19.58%,#96cd64 19.58%,#96cd64 24.08%,#a6d161 24.08%,#a6d161 28.59%,#b5d55d 28.59%,#b5d55d 33.10%,#c5d85a 33.10%,#c5d85a 38.17%,#d2dc56 38.17%,#d2dc56 43.80%,#e8e24e 43.80%,#e8e24e 50.56%,#e8e24e 50.56%,#e8e24e 72.82%,#e8e24e 72.82%,#e8e24e 83.80%,#d2dc56 83.80%,#d2dc56 100%)"></div>
<div style="left:45.60px;top:335.60px;width:177.50px;height:1.60px;background:linear-gradient(90deg,#50b777 0%,#50b777 3.24%,#61bd72 3.24%,#61bd72 9.15%,#72c46d 9.15%,#72c46d 14.23%,#84c869 14.23%,#84c869 19.01%,#96cd64 19.01%,#96cd64 23.52%,#a6d161 23.52%,#a6d161 28.31%,#b5d55d 28.31%,#b5d55d 32.82%,#c5d85a 32.82%,#c5d85a 37.89%,#d2dc56 37.89%,#d2dc56 43.52%,#e8e24e 43.52%,#e8e24e 50.85%,#e8e24e 50.85%,#e8e24e 71.69%,#e8e24e 71.69%,#e8e24e 82.96%,#d2dc56 82.96%,#d2dc56 99.86%,#c5d85a 99.86%,#c5d85a 100%)"></div>
<div style="left:45.60px;top:336.60px;width:177.50px;height:1.60px;background:linear-gradient(90deg,#50b777 0%,#50b777 2.68%,#61bd72 2.68%,#61bd72 8.59%,#72c46d 8.59%,#72c46d 13.66%,#84c869 13.66%,#84c869 18.45%,#96cd64 18.45%,#96cd64 23.24%,#a6d161 23.24%,#a6d161 27.75%,#b5d55d 27.75%,#b5d55d 32.54%,#c5d85a 32.54%,#c5d85a 37.61%,#d2dc56 37.61%,#d2dc56 43.24%,#e8e24e 43.24%,#e8e24e 50.85%,#e8e24e 50.85%,#e8e24e 70.56%,#e8e24e 70.56%,#e8e24e 81.83%,#d2dc56 81.83%,#d2dc56 98.45%,#c5d85a 98.45%,#c5d85a 100%)"></div>
<div style="left:45.60px;top:337.60px;width:177.50px;height:1.60px;background:linear-gradient(90deg,#50b777 0%,#50b777 1.83%,#61bd72 1.83%,#61bd72 8.03%,#72c46d 8.03%,#72c46d 13.10%,#84c869 13.10%,#84c869 18.17%,#96cd64 18.17%,#96cd64 22.68%,#a6d161 22.68%,#a6d161 27.46%,#b5d55d 27.46%,#b5d55d 32.25%,#c5d85a 32.25%,#c5d85a 37.32%,#d2dc56 37.32%,#d2dc56 43.24%,#e8e24e 43.24%,#e8e24e 51.13%,#e8e24e 51.13%,#e8e24e 69.44%,#e8e24e 69.44%,#e8e24e 80.99%,#d2dc56 80.99%,#d2dc56 97.32%,#c5d85a 97.32%,#c5d85a 100%)"></div>
<div style="left:45.60px;top:338.60px;width:177.50px;height:1.60px;background:linear-gradient(90deg,#50b777 0%,#50b777 1.27%,#61bd72 1.27%,#61bd72 7.46%,#72c46d 7.46%,#72c46d 12.82%,#84c869 12.82%,#84c869 17.61%,#96cd64 17.61%,#96cd64 22.39%,#a6d161 22.39%,#a6d161 27.18%,#b5d55d 27.18%,#b5d55d 31.97%,#c5d85a 31.97%,#c5d85a 37.04%,#d2dc56 37.04%,#d2dc56 42.96%,#e8e24e 42.96%,#e8e24e 51.41%,#e8e24e 51.41%,#e8e24e 68.03%,#e8e24e 68.03%,#e8e24e 79.86%,#d2dc56 79.86%,#d2dc56 96.20%,#c5d85a 96.20%,#c5d85a 100%)"></div>
<div style="left:45.60px;top:339.60px;width:177.50px;height:1.60px;background:linear-gradient(90deg,#50b777 0%,#50b777 0.42%,#61bd72 0.42%,#61bd72 6.62%,#72c46d 6.62%,#72c46d 12.25%,#84c869 12.25%,#84c869 17.32%,#96cd64 17.32%,#96cd64 22.11%,#a6d161 22.11%,#a6d161 26.90%,#b5d55d 26.90%,#b5d55d 31.69%,#c5d85a 31.69%,#c5d85a 37.04%,#d2dc56 37.04%,#d2dc56 42.96%,#e8e24e 42.96%,#e8e24e 51.69%,#e8e24e 51.69%,#e8e24e 66.62%,#e8e24e 66.62%,#e8e24e 79.01%,#d2dc56 79.01%,#d2dc56 94.79%,#c5d85a 94.79%,#c5d85a 100%)"></div>
<div style="left:45.60px;top:340.60px;width:177.50px;height:1.60px;background:linear-gradient(90deg,#61bd72 0%,#61bd72 6.06%,#72c46d 6.06%,#72c46d 11.69%,#84c869 11.69%,#84c869 16.76%,#96cd64 16.76%,#96cd64 21.55%,#a6d161 21.55%,#a6d161 26.34%,#b5d55d 26.34%,#b5d55d 31.41%,#c5d85a 31.41%,#c5d85a 36.76%,#d2dc56 36.76%,#d2dc56 42.96%,#e8e24e 42.96%,#e8e24e 52.25%,#e8e24e 52.25%,#e8e24e 64.93%,#e8e24e 64.93%,#e8e24e 77.89%,#d2dc56 77.89%,#d2dc56 93.38%,#c5d85a 93.38%,#c5d85a 100%)"></div>
<div style="left:45.60px;top:341.60px;width:177.50px;height:1.60px;background:linear-gradient(90deg,#61bd72 0%,#61bd72 5.49%,#72c46d 5.49%,#72c46d 11.13%,#84c869 11.13%,#84c869 16.20%,#96cd64 16.20%,#96cd64 21.27%,#a6d161 21.27%,#a6d161 26.06%,#b5d55d 26.06%,#b5d55d 31.13%,#c5d85a 31.13%,#c5d85a 36.48%,#d2dc56 36.48%,#d2dc56 42.96%,#e8e24e 42.96%,#e8e24e 53.38%,#e8e24e 53.38%,#e8e24e 62.96%,#e8e24e 62.96%,#e8e24e 76.76%,#d2dc56 76.76%,#d2dc56 92.25%,#c5d85a 92.25%,#c5d85a 100%)"></div>
<div style="left:45.60px;top:342.60px;width:177.50px;height:1.60px;background:linear-gradient(90deg,#61bd72 0%,#61bd72 4.93%,#72c46d 4.93%,#72c46d 10.56%,#84c869 10.56%,#84c869 15.92%,#96cd64 15.92%,#96cd64 20.99%,#a6d161 20.99%,#a6d161 25.77%,#b5d55d 25.77%,#b5d55d 30.85%,#c5d85a 30.85%,#c5d85a 36.48%,#d2dc56 36.48%,#d2dc56 42.96%,#e8e24e 42.96%,#e8e24e 55.07%,#e8e24e 55.07%,#e8e24e 59.86%,#e8e24e 59.86%,#e8e24e 75.63%,#d2dc56 75.63%,#d2dc56 90.85%,#c5d85a 90.85%,#c5d85a 100%)"></div>
<div style="left:45.60px;top:343.60px;width:177.50px;height:1.60px;background:linear-gradient(90deg,#61bd72 0%,#61bd72 4.37%,#72c46d 4.37%,#72c46d 10.28%,#84c869 10.28%,#84c869 15.35%,#96cd64 15.35%,#96cd64 20.42%,#a6d161 20.42%,#a6d161 25.49%,#b5d55d 25.49%,#b5d55d 30.56%,#c5d85a 30.56%,#c5d85a 36.20%,#d2dc56 36.20%,#d2dc56 42.96%,#e8e24e 42.96%,#e8e24e 74.51%,#d2dc56 74.51%,#d2dc56 89.72%,#c5d85a 89.72%,#c5d85a 100%)"></div>
<div style="left:45.60px;top:344.60px;width:177.50px;height:1.60px;background:linear-gradient(90deg,#61bd72 0%,#61bd72 3.80%,#72c46d 3.80%,#72c46d 9.72%,#84c869 9.72%,#84c869 15.07%,#96cd64 15.07%,#96cd64 20.14%,#a6d161 20.14%,#a6d161 25.21%,#b5d55d 25.21%,#b5d55d 30.28%,#c5d85a 30.28%,#c5d85a 36.20%,#d2dc56 36.20%,#d2dc56 42.96%,#e8e24e 42.96%,#e8e24e 73.10%,#d2dc56 73.10%,#d2dc56 88.31%,#c5d85a 88.31%,#c5d85a 100%)"></div>
<div style="left:45.60px;top:345.60px;width:177.50px;height:1.60px;background:linear-gradient(90deg,#61bd72 0%,#61bd72 3.24%,#72c46d 3.24%,#72c46d 9.15%,#84c869 9.15%,#84c869 14.79%,#96cd64 14.79%,#96cd64 19.86%,#a6d161 19.86%,#a6d161 24.93%,#b5d55d 24.93%,#b5d55d 30.28%,#c5d85a 30.28%,#c5d85a 35.92%,#d2dc56 35.92%,#d2dc56 43.24%,#e8e24e 43.24%,#e8e24e 71.97%,#d2dc56 71.97%,#d2dc56 86.90%,#c5d85a 86.90%,#c5d85a 100%)"></div>
<div style="left:45.60px;top:346.60px;width:177.50px;height:1.60px;background:linear-gradient(90deg,#61bd72 0%,#61bd72 2.68%,#72c46d 2.68%,#72c46d 8.87%,#84c869 8.87%,#84c869 14.23%,#96cd64 14.23%,#96cd64 19.58%,#a6d161 19.58%,#a6d161 24.65%,#b5d55d 24.65%,#b5d55d 30.00%,#c5d85a 30.00%,#c5d85a 35.92%,#d2dc56 35.92%,#d2dc56 43.24%,#e8e24e 43.24%,#e8e24e 70.56%,#d2dc56 70.56%,#d2dc56 85.49%,#c5d85a 85.49%,#c5d85a 100%)"></div>
<div style="left:45.60px;top:347.60px;width:177.50px;height:1.60px;background:linear-gradient(90deg,#61bd72 0%,#61bd72 2.11%,#72c46d 2.11%,#72c46d 8.31%,#84c869 8.31%,#84c869 13.94%,#96cd64 13.94%,#96cd64 19.01%,#a6d161 19.01%,#a6d161 24.37%,#b5d55d 24.37%,#b5d55d 29.72%,#c5d85a 29.72%,#c5d85a 35.92%,#d2dc56 35.92%,#d2dc56 43.52%,#e8e24e 43.52%,#e8e24e 69.15%,#d2dc56 69.15%,#d2dc56 84.08%,#c5d85a 84.08%,#c5d85a 100%)"></div>
<div style="left:45.60px;top:348.60px;width:177.50px;height:1.60px;background:linear-gradient(90deg,#61bd72 0%,#61bd72 1.55%,#72c46d 1.55%,#72c46d 7.75%,#84c869 7.75%,#84c869 13.38%,#96cd64 13.38%,#96cd64 18.73%,#a6d161 18.73%,#a6d161 24.08%,#b5d55d 24.08%,#b5d55d 29.72%,#c5d85a 29.72%,#c5d85a 35.92%,#d2dc56 35.92%,#d2dc56 43.80%,#e8e24e 43.80%,#e8e24e 67.75%,#d2dc56 67.75%,#d2dc56 82.96%,#c5d85a 82.96%,#c5d85a 100%)"></div>
<div style="left:45.60px;top:349.60px;width:177.50px;height:1.60px;background:linear-gradient(90deg,#61bd72 0%,#61bd72 0.99%,#72c46d 0.99%,#72c46d 7.46%,#84c869 7.46%,#84c869 13.10%,#96cd64 13.10%,#96cd64 18.45%,#a6d161 18.45%,#a6d161 23.80%,#b5d55d 23.80%,#b5d55d 29.44%,#c5d85a 29.44%,#c5d85a 35.92%,#d2dc56 35.92%,#d2dc56 44.37%,#e8e24e 44.37%,#e8e24e 66.06%,#d2dc56 66.06%,#d2dc56 81.55%,#c5d85a 81.55%,#c5d85a 100%)"></div>
<div style="left:45.60px;top:350.60px;width:177.50px;height:1.60px;background:linear-gradient(90deg,#61bd72 0%,#61bd72 0.42%,#72c46d 0.42%,#72c46d 6.90%,#84c869 6.90%,#84c869 12.82%,#96cd64 12.82%,#96cd64 18.17%,#a6d161 18.17%,#a6d161 23.52%,#b5d55d 23.52%,#b5d55d 29.44%,#c5d85a 29.44%,#c5d85a 35.92%,#d2dc56 35.92%,#d2dc56 44.93%,#e8e24e 44.93%,#e8e24e 64.37%,#d2dc56 64.37%,#d2dc56 80.14%,#c5d85a 80.14%,#c5d85a 100%)"></div>
<div style="left:45.60px;top:351.60px;width:177.50px;height:1.60px;background:linear-gradient(90deg,#72c46d 0%,#72c46d 6.34%,#84c869 6.34%,#84c869 12.25%,#96cd64 12.25%,#96cd64 17.89%,#a6d161 17.89%,#a6d161 23.52%,#b5d55d 23.52%,#b5d55d 29.15%,#c5d85a 29.15%,#c5d85a 35.92%,#d2dc56 35.92%,#d2dc56 45.77%,#e8e24e 45.77%,#e8e24e 62.68%,#d2dc56 62.68%,#d2dc56 78.45%,#c5d85a 78.45%,#c5d85a 99.58%,#b5d55d 99.58%,#b5d55d 100%)"></div>
<div style="left:45.60px;top:352.60px;width:177.50px;height:1.60px;background:linear-gradient(90deg,#72c46d 0%,#72c46d 6.06%,#84c869 6.06%,#84c869 11.97%,#96cd64 11.97%,#96cd64 17.61%,#a6d161 17.61%,#a6d161 23.24%,#b5d55d 23.24%,#b5d55d 29.15%,#c5d85a 29.15%,#c5d85a 35.92%,#d2dc56 35.92%,#d2dc56 46.62%,#e8e24e 46.62%,#e8e24e 60.42%,#d2dc56 60.42%,#d2dc56 77.04%,#c5d85a 77.04%,#c5d85a 98.17%,#b5d55d 98.17%,#b5d55d 100%)"></div>
<div style="left:45.60px;top:353.60px;width:177.50px;height:1.60px;background:linear-gradient(90deg,#72c46d 0%,#72c46d 5.49%,#84c869 5.49%,#84c869 11.69%,#96cd64 11.69%,#96cd64 17.32%,#a6d161 17.32%,#a6d161 22.96%,#b5d55d 22.96%,#b5d55d 29.15%,#c5d85a 29.15%,#c5d85a 36.20%,#d2dc56 36.20%,#d2dc56 48.31%,#e8e24e 48.31%,#e8e24e 57.61%,#d2dc56 57.61%,#d2dc56 75.63%,#c5d85a 75.63%,#c5d85a 96.48%,#b5d55d 96.48%,#b5d55d 100%)"></div>
<div style="left:45.60px;top:354.60px;width:177.50px;height:1.60px;background:linear-gradient(90deg,#72c46d 0%,#72c46d 5.21%,#84c869 5.21%,#84c869 11.41%,#96cd64 11.41%,#96cd64 17.04%,#a6d161 17.04%,#a6d161 22.96%,#b5d55d 22.96%,#b5d55d 28.87%,#c5d85a 28.87%,#c5d85a 36.20%,#d2dc56 36.20%,#d2dc56 74.23%,#c5d85a 74.23%,#c5d85a 94.79%,#b5d55d 94.79%,#b5d55d 100%)"></div>
<div style="left:45.60px;top:355.60px;width:177.50px;height:1.60px;background:linear-gradient(90deg,#72c46d 0%,#72c46d 4.65%,#84c869 4.65%,#84c869 11.13%,#96cd64 11.13%,#96cd64 16.76%,#a6d161 16.76%,#a6d161 22.68%,#b5d55d 22.68%,#b5d55d 28.87%,#c5d85a 28.87%,#c5d85a 36.48%,#d2dc56 36.48%,#d2dc56 72.54%,#c5d85a 72.54%,#c5d85a 93.10%,#b5d55d 93.10%,#b5d55d 100%)"></div>
<div style="left:45.60px;top:356.60px;width:177.50px;height:1.60px;background:linear-gradient(90deg,#72c46d 0%,#72c46d 4.37%,#84c869 4.37%,#84c869 10.56%,#96cd64 10.56%,#96cd64 16.76%,#a6d161 16.76%,#a6d161 22.68%,#b5d55d 22.68%,#b5d55d 28.87%,#c5d85a 28.87%,#c5d85a 36.76%,#d2dc56 36.76%,#d2dc56 70.85%,#c5d85a 70.85%,#c5d85a 91.13%,#b5d55d 91.13%,#b5d55d 100%)"></div>
<div style="left:45.60px;top:357.60px;width:177.50px;height:1.60px;background:linear-gradient(90deg,#72c46d 0%,#72c46d 3.80%,#84c869 3.80%,#84c869 10.28%,#96cd64 10.28%,#96cd64 16.48%,#a6d161 16.48%,#a6d161 22.39%,#b5d55d 22.39%,#b5d55d 28.87%,#c5d85a 28.87%,#c5d85a 37.04%,#d2dc56 37.04%,#d2dc56 69.15%,#c5d85a 69.15%,#c5d85a 89.44%,#b5d55d 89.44%,#b5d55d 100%)"></div>
<div style="left:45.60px;top:358.60px;width:177.50px;height:1.60px;background:linear-gradient(90deg,#72c46d 0%,#72c46d 3.52%,#84c869 3.52%,#84c869 10.00%,#96cd64 10.00%,#96cd64 16.20%,#a6d161 16.20%,#a6d161 22.39%,#b5d55d 22.39%,#b5d55d 28.87%,#c5d85a 28.87%,#c5d85a 37.61%,#d2dc56 37.61%,#d2dc56 67.46%,#c5d85a 67.46%,#c5d85a 87.46%,#b5d55d 87.46%,#b5d55d 100%)"></div>
<div style="left:45.60px;top:359.60px;width:177.50px;height:1.60px;background:linear-gradient(90deg,#72c46d 0%,#72c46d 3.24%,#84c869 3.24%,#84c869 9.72%,#96cd64 9.72%,#96cd64 15.92%,#a6d161 15.92%,#a6d161 22.11%,#b5d55d 22.11%,#b5d55d 29.15%,#c5d85a 29.15%,#c5d85a 38.17%,#d2dc56 38.17%,#d2dc56 65.77%,#c5d85a 65.77%,#c5d85a 85.49%,#b5d55d 85.49%,#b5d55d 100%)"></div>
<div style="left:45.60px;top:360.60px;width:177.50px;height:1.60px;background:linear-gradient(90deg,#72c46d 0%,#72c46d 2.68%,#84c869 2.68%,#84c869 9.44%,#96cd64 9.44%,#96cd64 15.92%,#a6d161 15.92%,#a6d161 22.11%,#b5d55d 22.11%,#b5d55d 29.15%,#c5d85a 29.15%,#c5d85a 38.73%,#d2dc56 38.73%,#d2dc56 63.80%,#c5d85a 63.80%,#c5d85a 83.24%,#b5d55d 83.24%,#b5d55d 100%)"></div>
<div style="left:45.60px;top:361.60px;width:177.50px;height:1.60px;background:linear-gradient(90deg,#72c46d 0%,#72c46d 2.39%,#84c869 2.39%,#84c869 9.15%,#96cd64 9.15%,#96cd64 15.63%,#a6d161 15.63%,#a6d161 22.11%,#b5d55d 22.11%,#b5d55d 29.44%,#c5d85a 29.44%,#c5d85a 39.58%,#d2dc56 39.58%,#d2dc56 61.55%,#c5d85a 61.55%,#c5d85a 81.27%,#b5d55d 81.27%,#b5d55d 100%)"></div>
<div style="left:45.60px;top:362.60px;width:177.50px;height:1.60px;background:linear-gradient(90deg,#72c46d 0%,#72c46d 2.11%,#84c869 2.11%,#84c869 9.15%,#96cd64 9.15%,#96cd64 15.63%,#a6d161 15.63%,#a6d161 22.11%,#b5d55d 22.11%,#b5d55d 29.44%,#c5d85a 29.44%,#c5d85a 40.70%,#d2dc56 40.70%,#d2dc56 59.30%,#c5d85a 59.30%,#c5d85a 79.30%,#b5d55d 79.30%,#b5d55d 99.86%,#a6d161 99.86%,#a6d161 100%)"></div>
<div style="left:45.60px;top:363.60px;width:177.50px;height:1.60px;background:linear-gradient(90deg,#72c46d 0%,#72c46d 1.83%,#84c869 1.83%,#84c869 8.87%,#96cd64 8.87%,#96cd64 15.35%,#a6d161 15.35%,#a6d161 22.11%,#b5d55d 22.11%,#b5d55d 29.72%,#c5d85a 29.72%,#c5d85a 42.11%,#d2dc56 42.11%,#d2dc56 56.48%,#c5d85a 56.48%,#c5d85a 77.32%,#b5d55d 77.32%,#b5d55d 98.45%,#a6d161 98.45%,#a6d161 100%)"></div>
<div style="left:45.60px;top:364.60px;width:177.50px;height:1.60px;background:linear-gradient(90deg,#72c46d 0%,#72c46d 1.27%,#84c869 1.27%,#84c869 8.59%,#96cd64 8.59%,#96cd64 15.35%,#a6d161 15.35%,#a6d161 22.11%,#b5d55d 22.11%,#b5d55d 30.00%,#c5d85a 30.00%,#c5d85a 44.65%,#d2dc56 44.65%,#d2dc56 52.54%,#c5d85a 52.54%,#c5d85a 75.07%,#b5d55d 75.07%,#b5d55d 96.76%,#a6d161 96.76%,#a6d161 100%)"></div>
<div style="left:45.60px;top:365.60px;width:177.50px;height:1.60px;background:linear-gradient(90deg,#72c46d 0%,#72c46d 0.99%,#84c869 0.99%,#84c869 8.31%,#96cd64 8.31%,#96cd64 15.07%,#a6d161 15.07%,#a6d161 22.11%,#b5d55d 22.11%,#b5d55d 30.28%,#c5d85a 30.28%,#c5d85a 73.10%,#b5d55d 73.10%,#b5d55d 95.07%,#a6d161 95.07%,#a6d161 100%)"></div>
<div style="left:45.60px;top:366.60px;width:177.50px;height:1.60px;background:linear-gradient(90deg,#72c46d 0%,#72c46d 0.70%,#84c869 0.70%,#84c869 8.31%,#96cd64 8.31%,#96cd64 15.07%,#a6d161 15.07%,#a6d161 22.11%,#b5d55d 22.11%,#b5d55d 30.85%,#c5d85a 30.85%,#c5d85a 70.85%,#b5d55d 70.85%,#b5d55d 93.10%,#a6d161 93.10%,#a6d161 100%)"></div>
<div style="left:45.60px;top:367.60px;width:177.50px;height:1.60px;background:linear-gradient(90deg,#72c46d 0%,#72c46d 0.42%,#84c869 0.42%,#84c869 8.03%,#96cd64 8.03%,#96cd64 15.07%,#a6d161 15.07%,#a6d161 22.39%,#b5d55d 22.39%,#b5d55d 31.41%,#c5d85a 31.41%,#c5d85a 68.59%,#b5d55d 68.59%,#b5d55d 91.13%,#a6d161 91.13%,#a6d161 100%)"></div>
<div style="left:45.60px;top:368.60px;width:177.50px;height:1.60px;background:linear-gradient(90deg,#72c46d 0%,#72c46d 0.14%,#84c869 0.14%,#84c869 7.75%,#96cd64 7.75%,#96cd64 15.07%,#a6d161 15.07%,#a6d161 22.39%,#b5d55d 22.39%,#b5d55d 31.97%,#c5d85a 31.97%,#c5d85a 66.62%,#b5d55d 66.62%,#b5d55d 89.15%,#a6d161 89.15%,#a6d161 100%)"></div>
<div style="left:45.60px;top:369.60px;width:177.50px;height:1.60px;background:linear-gradient(90deg,#84c869 0%,#84c869 7.75%,#96cd64 7.75%,#96cd64 15.07%,#a6d161 15.07%,#a6d161 22.68%,#b5d55d 22.68%,#b5d55d 32.54%,#c5d85a 32.54%,#c5d85a 64.08%,#b5d55d 64.08%,#b5d55d 86.90%,#a6d161 86.90%,#a6d161 100%)"></div>
<div style="left:45.60px;top:370.60px;width:177.50px;height:1.60px;background:linear-gradient(90deg,#84c869 0%,#84c869 7.46%,#96cd64 7.46%,#96cd64 15.07%,#a6d161 15.07%,#a6d161 22.96%,#b5d55d 22.96%,#b5d55d 33.38%,#c5d85a 33.38%,#c5d85a 61.55%,#b5d55d 61.55%,#b5d55d 84.37%,#a6d161 84.37%,#a6d161 100%)"></div>
<div style="left:45.60px;top:371.60px;width:177.50px;height:1.60px;background:linear-gradient(90deg,#84c869 0%,#84c869 7.46%,#96cd64 7.46%,#96cd64 15.07%,#a6d161 15.07%,#a6d161 23.24%,#b5d55d 23.24%,#b5d55d 34.51%,#c5d85a 34.51%,#c5d85a 59.01%,#b5d55d 59.01%,#b5d55d 81.83%,#a6d161 81.83%,#a6d161 98.73%,#96cd64 98.73%,#96cd64 100%)"></div>
<div style="left:45.60px;top:372.60px;width:177.50px;height:1.60px;background:linear-gradient(90deg,#84c869 0%,#84c869 7.46%,#96cd64 7.46%,#96cd64 15.07%,#a6d161 15.07%,#a6d161 23.52%,#b5d55d 23.52%,#b5d55d 35.92%,#c5d85a 35.92%,#c5d85a 55.92%,#b5d55d 55.92%,#b5d55d 79.30%,#a6d161 79.30%,#a6d161 97.32%,#96cd64 97.32%,#96cd64 100%)"></div>
<div style="left:45.60px;top:373.60px;width:177.50px;height:1.60px;background:linear-gradient(90deg,#84c869 0%,#84c869 7.46%,#96cd64 7.46%,#96cd64 15.35%,#a6d161 15.35%,#a6d161 23.80%,#b5d55d 23.80%,#b5d55d 38.17%,#c5d85a 38.17%,#c5d85a 52.54%,#b5d55d 52.54%,#b5d55d 76.48%,#a6d161 76.48%,#a6d161 95.63%,#96cd64 95.63%,#96cd64 100%)"></div>
<div style="left:45.60px;top:374.60px;width:177.50px;height:1.60px;background:linear-gradient(90deg,#84c869 0%,#84c869 7.46%,#96cd64 7.46%,#96cd64 15.35%,#a6d161 15.35%,#a6d161 24.37%,#b5d55d 24.37%,#b5d55d 42.96%,#c5d85a 42.96%,#c5d85a 46.06%,#b5d55d 46.06%,#b5d55d 73.94%,#a6d161 73.94%,#a6d161 93.94%,#96cd64 93.94%,#96cd64 100%)"></div>
<div style="left:45.60px;top:375.60px;width:177.50px;height:1.60px;background:linear-gradient(90deg,#84c869 0%,#84c869 7.46%,#96cd64 7.46%,#96cd64 15.63%,#a6d161 15.63%,#a6d161 24.93%,#b5d55d 24.93%,#b5d55d 71.13%,#a6d161 71.13%,#a6d161 91.97%,#96cd64 91.97%,#96cd64 100%)"></div>
<div style="left:45.60px;top:376.60px;width:177.50px;height:1.60px;background:linear-gradient(90deg,#84c869 0%,#84c869 7.46%,#96cd64 7.46%,#96cd64 15.63%,#a6d161 15.63%,#a6d161 25.49%,#b5d55d 25.49%,#b5d55d 68.31%,#a6d161 68.31%,#a6d161 90.00%,#96cd64 90.00%,#96cd64 100%)"></div>
<div style="left:45.60px;top:377.60px;width:177.50px;height:1.60px;background:linear-gradient(90deg,#84c869 0%,#84c869 7.46%,#96cd64 7.46%,#96cd64 15.92%,#a6d161 15.92%,#a6d161 26.34%,#b5d55d 26.34%,#b5d55d 65.49%,#a6d161 65.49%,#a6d161 87.75%,#96cd64 87.75%,#96cd64 99.30%,#84c869 99.30%,#84c869 100%)"></div>
<div style="left:45.60px;top:378.60px;width:177.50px;height:1.60px;background:linear-gradient(90deg,#84c869 0%,#84c869 7.46%,#96cd64 7.46%,#96cd64 16.20%,#a6d161 16.20%,#a6d161 27.18%,#b5d55d 27.18%,#b5d55d 62.68%,#a6d161 62.68%,#a6d161 85.21%,#96cd64 85.21%,#96cd64 97.89%,#84c869 97.89%,#84c869 100%)"></div>
<div style="left:45.60px;top:379.60px;width:177.50px;height:1.60px;background:linear-gradient(90deg,#84c869 0%,#84c869 7.75%,#96cd64 7.75%,#96cd64 16.76%,#a6d161 16.76%,#a6d161 28.31%,#b5d55d 28.31%,#b5d55d 59.86%,#a6d161 59.86%,#a6d161 82.68%,#96cd64 82.68%,#96cd64 96.48%,#84c869 96.48%,#84c869 100%)"></div>
<div style="left:45.60px;top:380.60px;width:177.50px;height:1.60px;background:linear-gradient(90deg,#84c869 0%,#84c869 7.75%,#96cd64 7.75%,#96cd64 17.04%,#a6d161 17.04%,#a6d161 29.72%,#b5d55d 29.72%,#b5d55d 56.48%,#a6d161 56.48%,#a6d161 79.86%,#96cd64 79.86%,#96cd64 94.79%,#84c869 94.79%,#84c869 100%)"></div>
<div style="left:45.60px;top:381.60px;width:177.50px;height:1.60px;background:linear-gradient(90deg,#84c869 0%,#84c869 8.03%,#96cd64 8.03%,#96cd64 17.61%,#a6d161 17.61%,#a6d161 31.41%,#b5d55d 31.41%,#b5d55d 52.82%,#a6d161 52.82%,#a6d161 77.04%,#96cd64 77.04%,#96cd64 93.10%,#84c869 93.10%,#84c869 100%)"></div>
<div style="left:45.60px;top:382.60px;width:177.50px;height:1.60px;background:linear-gradient(90deg,#84c869 0%,#84c869 8.31%,#96cd64 8.31%,#96cd64 18.17%,#a6d161 18.17%,#a6d161 34.23%,#b5d55d 34.23%,#b5d55d 48.31%,#a6d161 48.31%,#a6d161 73.94%,#96cd64 73.94%,#96cd64 91.13%,#84c869 91.13%,#84c869 99.86%,#72c46d 99.86%,#72c46d 100%)"></div>
<div style="left:45.60px;top:383.60px;width:177.50px;height:1.60px;background:linear-gradient(90deg,#84c869 0%,#84c869 8.59%,#96cd64 8.59%,#96cd64 18.73%,#a6d161 18.73%,#a6d161 70.85%,#96cd64 70.85%,#96cd64 89.15%,#84c869 89.15%,#84c869 98.45%,#72c46d 98.45%,#72c46d 100%)"></div>
<div style="left:45.60px;top:384.60px;width:177.50px;height:1.60px;background:linear-gradient(90deg,#84c869 0%,#84c869 8.87%,#96cd64 8.87%,#96cd64 19.58%,#a6d161 19.58%,#a6d161 67.46%,#96cd64 67.46%,#96cd64 86.90%,#84c869 86.90%,#84c869 97.04%,#72c46d 97.04%,#72c46d 100%)"></div>
<div style="left:45.60px;top:385.60px;width:177.50px;height:1.60px;background:linear-gradient(90deg,#84c869 0%,#84c869 9.15%,#96cd64 9.15%,#96cd64 20.42%,#a6d161 20.42%,#a6d161 64.37%,#96cd64 64.37%,#96cd64 84.65%,#84c869 84.65%,#84c869 95.35%,#72c46d 95.35%,#72c46d 100%)"></div>
<div style="left:45.60px;top:386.60px;width:177.50px;height:1.60px;background:linear-gradient(90deg,#84c869 0%,#84c869 9.72%,#96cd64 9.72%,#96cd64 21.55%,#a6d161 21.55%,#a6d161 60.99%,#96cd64 60.99%,#96cd64 82.11%,#84c869 82.11%,#84c869 93.66%,#72c46d 93.66%,#72c46d 100%)"></div>
<div style="left:45.60px;top:387.60px;width:177.50px;height:1.60px;background:linear-gradient(90deg,#84c869 0%,#84c869 10.28%,#96cd64 10.28%,#96cd64 22.96%,#a6d161 22.96%,#a6d161 57.32%,#96cd64 57.32%,#96cd64 79.30%,#84c869 79.30%,#84c869 91.97%,#72c46d 91.97%,#72c46d 99.01%,#61bd72 99.01%,#61bd72 100%)"></div>
<div style="left:45.60px;top:388.60px;width:177.50px;height:1.60px;background:linear-gradient(90deg,#84c869 0%,#84c869 10.85%,#96cd64 10.85%,#96cd64 24.37%,#a6d161 24.37%,#a6d161 53.66%,#96cd64 53.66%,#96cd64 76.20%,#84c869 76.20%,#84c869 90.00%,#72c46d 90.00%,#72c46d 97.61%,#61bd72 97.61%,#61bd72 100%)"></div>
<div style="left:45.60px;top:389.60px;width:177.50px;height:1.60px;background:linear-gradient(90deg,#72c46d 0%,#72c46d 0.42%,#84c869 0.42%,#84c869 11.41%,#96cd64 11.41%,#96cd64 26.62%,#a6d161 26.62%,#a6d161 49.44%,#96cd64 49.44%,#96cd64 73.10%,#84c869 73.10%,#84c869 88.03%,#72c46d 88.03%,#72c46d 96.20%,#61bd72 96.20%,#61bd72 100%)"></div>
<div style="left:45.60px;top:390.60px;width:177.50px;height:1.60px;background:linear-gradient(90deg,#72c46d 0%,#72c46d 0.70%,#84c869 0.70%,#84c869 12.25%,#96cd64 12.25%,#96cd64 30.00%,#a6d161 30.00%,#a6d161 44.08%,#96cd64 44.08%,#96cd64 69.72%,#84c869 69.72%,#84c869 85.77%,#72c46d 85.77%,#72c46d 94.79%,#61bd72 94.79%,#61bd72 100%)"></div>
<div style="left:45.60px;top:391.60px;width:177.50px;height:1.60px;background:linear-gradient(90deg,#72c46d 0%,#72c46d 1.27%,#84c869 1.27%,#84c869 13.10%,#96cd64 13.10%,#96cd64 66.06%,#84c869 66.06%,#84c869 83.52%,#72c46d 83.52%,#72c46d 93.10%,#61bd72 93.10%,#61bd72 99.01%,#50b777 99.01%,#50b777 100%)"></div>
<div style="left:45.60px;top:392.60px;width:177.50px;height:1.60px;background:linear-gradient(90deg,#72c46d 0%,#72c46d 1.83%,#84c869 1.83%,#84c869 14.23%,#96cd64 14.23%,#96cd64 62.68%,#84c869 62.68%,#84c869 80.99%,#72c46d 80.99%,#72c46d 91.41%,#61bd72 91.41%,#61bd72 97.61%,#50b777 97.61%,#50b777 100%)"></div>
<div style="left:170.90px;top:38.20px;width:6.10px;height:82.10px;background:linear-gradient(180deg,#200a60 0%,#212c76 10%,#1d4884 20%,#1c6589 30%,#1f808b 40%,#2a9a87 50%,#40b07c 60%,#6cc26e 70%,#9ccf63 80%,#c5d85a 90%,#e8e24e 100%)"></div>
<div style="left:234.50px;top:244.50px;width:8.80px;height:117.10px;background:linear-gradient(180deg,#200a60 0%,#212c76 10%,#1d4884 20%,#1c6589 30%,#1f808b 40%,#2a9a87 50%,#40b07c 60%,#6cc26e 70%,#9ccf63 80%,#c5d85a 90%,#e8e24e 100%)"></div>
</div>
<svg width="685" height="427" viewBox="0 0 685 427"><text x="-0.60" y="12.70" font-size="13.50" fill="#000" font-weight="bold" >a</text>
<text x="65.00" y="13.90" font-size="10.10" fill="#222" >Coherence</text>
<g transform="translate(118.20,13.80) scale(0.950)" fill="none" stroke="#222" stroke-linecap="round"><path d="M0.2,-6.6 C1.4,-8.6 3.9,-8.9 6.4,-8.8 C9.4,-8.7 10.5,-7.5 10.1,-6.2 C9.7,-4.8 7.9,-4.1 5.5,-4.2" stroke-width="1.04"/><path d="M6.1,-4.2 C7.4,-3.3 8.4,-0.6 9.9,-0.4 C10.7,-0.3 11.2,-0.7 11.5,-1.0" stroke-width="1.10"/><path d="M4.3,-8.6 C3.7,-5.8 2.7,-2.3 1.5,-0.1" stroke-width="1.43"/></g>
<rect x="35.3" y="18.6" width="127.6" height="127" fill="none" stroke="#d6d6d6" stroke-width="1.1"/>
<line x1="37.7" y1="143.2" x2="37.7" y2="145.6" stroke="#8a8a8a" stroke-width="0.6"/>
<line x1="99.0" y1="143.2" x2="99.0" y2="145.6" stroke="#8a8a8a" stroke-width="0.6"/>
<line x1="160.4" y1="143.2" x2="160.4" y2="145.6" stroke="#8a8a8a" stroke-width="0.6"/>
<line x1="35.3" y1="21.3" x2="37.7" y2="21.3" stroke="#8a8a8a" stroke-width="0.6"/>
<line x1="35.3" y1="82.4" x2="37.7" y2="82.4" stroke="#8a8a8a" stroke-width="0.6"/>
<line x1="35.3" y1="143.5" x2="37.7" y2="143.5" stroke="#8a8a8a" stroke-width="0.6"/>
<text x="34.00" y="25.00" font-size="10.10" fill="#222" text-anchor="end" >10</text>
<text x="34.00" y="86.60" font-size="10.10" fill="#222" text-anchor="end" >5</text>
<text x="34.00" y="146.90" font-size="10.10" fill="#222" text-anchor="end" >0</text>
<text x="37.70" y="157.20" font-size="10.10" fill="#222" text-anchor="middle" >0</text>
<text x="99.00" y="157.20" font-size="10.10" fill="#222" text-anchor="middle" >5</text>
<text x="160.70" y="157.20" font-size="10.10" fill="#222" text-anchor="middle" >10</text>
<text x="46.40" y="170.00" font-size="10.70" fill="#222" >Thermodynamic force <tspan class="sf" font-style="italic" font-size="12">μ</tspan></text>
<g transform="translate(21.3,132.6) rotate(-90)">
<text x="0.00" y="0.00" font-size="10.70" fill="#222" >Ratio of timescales <tspan class="sf" font-style="italic" font-size="12">ρ</tspan></text>
</g>
<text x="179.60" y="50.60" font-size="10.30" fill="#222" >8</text>
<text x="179.60" y="87.40" font-size="10.30" fill="#222" >4</text>
<text x="179.60" y="123.90" font-size="10.30" fill="#222" >0</text>
<line x1="177" y1="47.0" x2="178.8" y2="47.0" stroke="#b0b0b0" stroke-width="0.6"/>
<line x1="177" y1="83.8" x2="178.8" y2="83.8" stroke="#b0b0b0" stroke-width="0.6"/>
<line x1="177" y1="120.3" x2="178.8" y2="120.3" stroke="#b0b0b0" stroke-width="0.6"/>
<text x="199.30" y="11.80" font-size="14.00" fill="#000" font-weight="bold" >b</text>
<line x1="291.50" y1="42.50" x2="264.60" y2="42.50" stroke="#6189c9" stroke-width="1.70"/>
<polygon points="266.60,42.50 271.60,39.70 271.60,45.30" fill="#6189c9"/>
<line x1="264.60" y1="42.50" x2="237.40" y2="42.50" stroke="#a9c1e6" stroke-width="1.00"/>
<polygon points="239.40,42.50 241.80,41.10 241.80,43.90" fill="#a9c1e6"/>
<line x1="237.40" y1="42.50" x2="210.30" y2="42.50" stroke="#6189c9" stroke-width="1.70"/>
<polygon points="212.30,42.50 217.30,39.70 217.30,45.30" fill="#6189c9"/>
<line x1="210.30" y1="42.50" x2="210.30" y2="69.60" stroke="#6189c9" stroke-width="1.70"/>
<polygon points="210.30,67.60 207.50,62.60 213.10,62.60" fill="#6189c9"/>
<line x1="210.30" y1="96.80" x2="210.30" y2="69.60" stroke="#a9c1e6" stroke-width="1.00"/>
<polygon points="210.30,71.60 211.70,74.00 208.90,74.00" fill="#a9c1e6"/>
<line x1="210.30" y1="96.80" x2="210.30" y2="123.80" stroke="#6189c9" stroke-width="1.70"/>
<polygon points="210.30,121.80 207.50,116.80 213.10,116.80" fill="#6189c9"/>
<line x1="210.30" y1="123.80" x2="237.40" y2="123.80" stroke="#6189c9" stroke-width="1.70"/>
<polygon points="235.40,123.80 230.40,126.60 230.40,121.00" fill="#6189c9"/>
<line x1="237.40" y1="123.80" x2="264.60" y2="123.80" stroke="#a9c1e5" stroke-width="1.00"/>
<line x1="264.60" y1="123.80" x2="291.50" y2="123.80" stroke="#6189c9" stroke-width="1.70"/>
<polygon points="289.50,123.80 284.50,126.60 284.50,121.00" fill="#6189c9"/>
<line x1="291.50" y1="123.80" x2="291.50" y2="96.80" stroke="#6189c9" stroke-width="1.70"/>
<polygon points="291.50,98.80 294.30,103.80 288.70,103.80" fill="#6189c9"/>
<line x1="291.50" y1="96.80" x2="291.50" y2="69.60" stroke="#a9c1e6" stroke-width="1.00"/>
<polygon points="291.50,71.60 292.90,74.00 290.10,74.00" fill="#a9c1e6"/>
<line x1="291.50" y1="69.60" x2="291.50" y2="42.50" stroke="#6189c9" stroke-width="1.70"/>
<polygon points="291.50,44.50 294.30,49.50 288.70,49.50" fill="#6189c9"/>
<line x1="210.30" y1="69.60" x2="237.40" y2="69.60" stroke="#ebad3c" stroke-width="1.40"/>
<polygon points="235.60,69.60 232.60,71.40 232.60,67.80" fill="#ebad3c"/>
<line x1="237.40" y1="69.60" x2="264.60" y2="69.60" stroke="#e9a020" stroke-width="2.20"/>
<polygon points="262.80,69.60 255.60,73.40 255.60,65.80" fill="#e9a020"/>
<line x1="264.60" y1="69.60" x2="291.50" y2="69.60" stroke="#f3c77e" stroke-width="1.10"/>
<polygon points="289.70,69.60 287.30,71.00 287.30,68.20" fill="#f3c77e"/>
<line x1="237.40" y1="96.80" x2="210.30" y2="96.80" stroke="#f3c77e" stroke-width="1.10"/>
<polygon points="212.10,96.80 214.50,95.40 214.50,98.20" fill="#f3c77e"/>
<line x1="264.60" y1="96.80" x2="237.40" y2="96.80" stroke="#e9a020" stroke-width="2.20"/>
<polygon points="239.20,96.80 246.40,93.00 246.40,100.60" fill="#e9a020"/>
<line x1="291.50" y1="96.80" x2="264.60" y2="96.80" stroke="#f3c77e" stroke-width="1.10"/>
<polygon points="266.40,96.80 268.80,95.40 268.80,98.20" fill="#f3c77e"/>
<line x1="237.40" y1="69.60" x2="237.40" y2="42.50" stroke="#f3c77e" stroke-width="1.10"/>
<polygon points="237.40,44.30 238.80,46.70 236.00,46.70" fill="#f3c77e"/>
<line x1="237.40" y1="96.80" x2="237.40" y2="69.60" stroke="#e9a020" stroke-width="2.20"/>
<polygon points="237.40,71.40 241.20,78.60 233.60,78.60" fill="#e9a020"/>
<line x1="237.40" y1="123.80" x2="237.40" y2="96.80" stroke="#ebad3c" stroke-width="1.40"/>
<polygon points="237.40,98.60 239.20,101.60 235.60,101.60" fill="#ebad3c"/>
<line x1="264.60" y1="42.50" x2="264.60" y2="69.60" stroke="#ebad3c" stroke-width="1.40"/>
<polygon points="264.60,67.80 262.80,64.80 266.40,64.80" fill="#ebad3c"/>
<line x1="264.60" y1="69.60" x2="264.60" y2="96.80" stroke="#e9a020" stroke-width="2.20"/>
<polygon points="264.60,95.00 260.80,87.80 268.40,87.80" fill="#e9a020"/>
<line x1="264.60" y1="96.80" x2="264.60" y2="123.80" stroke="#ebad3c" stroke-width="1.40"/>
<polygon points="264.60,122.00 262.80,119.00 266.40,119.00" fill="#ebad3c"/>
<circle cx="210.30" cy="42.50" r="1.55" fill="#a6bbdc" stroke="#6c8cbd" stroke-width="0.8"/>
<circle cx="210.30" cy="69.60" r="1.55" fill="#a6bbdc" stroke="#6c8cbd" stroke-width="0.8"/>
<circle cx="210.30" cy="96.80" r="1.55" fill="#a6bbdc" stroke="#6c8cbd" stroke-width="0.8"/>
<circle cx="210.30" cy="123.80" r="1.55" fill="#a6bbdc" stroke="#6c8cbd" stroke-width="0.8"/>
<circle cx="237.40" cy="42.50" r="1.55" fill="#a6bbdc" stroke="#6c8cbd" stroke-width="0.8"/>
<circle cx="237.40" cy="69.60" r="1.55" fill="#a6bbdc" stroke="#6c8cbd" stroke-width="0.8"/>
<circle cx="237.40" cy="96.80" r="1.55" fill="#a6bbdc" stroke="#6c8cbd" stroke-width="0.8"/>
<circle cx="237.40" cy="123.80" r="1.55" fill="#a6bbdc" stroke="#6c8cbd" stroke-width="0.8"/>
<circle cx="264.60" cy="42.50" r="1.55" fill="#a6bbdc" stroke="#6c8cbd" stroke-width="0.8"/>
<circle cx="264.60" cy="69.60" r="1.55" fill="#a6bbdc" stroke="#6c8cbd" stroke-width="0.8"/>
<circle cx="264.60" cy="96.80" r="1.55" fill="#a6bbdc" stroke="#6c8cbd" stroke-width="0.8"/>
<circle cx="264.60" cy="123.80" r="1.55" fill="#a6bbdc" stroke="#6c8cbd" stroke-width="0.8"/>
<circle cx="291.50" cy="42.50" r="1.55" fill="#a6bbdc" stroke="#6c8cbd" stroke-width="0.8"/>
<circle cx="291.50" cy="69.60" r="1.55" fill="#a6bbdc" stroke="#6c8cbd" stroke-width="0.8"/>
<circle cx="291.50" cy="96.80" r="1.55" fill="#a6bbdc" stroke="#6c8cbd" stroke-width="0.8"/>
<circle cx="291.50" cy="123.80" r="1.55" fill="#a6bbdc" stroke="#6c8cbd" stroke-width="0.8"/>
<line x1="440.20" y1="43.00" x2="413.00" y2="43.00" stroke="#5f88c7" stroke-width="1.60"/>
<polygon points="415.00,43.00 421.00,39.90 421.00,46.10" fill="#5f88c7"/>
<line x1="413.00" y1="43.00" x2="386.00" y2="43.00" stroke="#5f88c7" stroke-width="1.60"/>
<polygon points="388.00,43.00 394.00,39.90 394.00,46.10" fill="#5f88c7"/>
<line x1="386.00" y1="43.00" x2="358.70" y2="43.00" stroke="#5f88c7" stroke-width="1.60"/>
<polygon points="360.70,43.00 366.70,39.90 366.70,46.10" fill="#5f88c7"/>
<line x1="358.70" y1="43.00" x2="358.70" y2="70.30" stroke="#5f88c7" stroke-width="1.60"/>
<polygon points="358.70,68.30 355.60,62.30 361.80,62.30" fill="#5f88c7"/>
<line x1="358.70" y1="70.30" x2="358.70" y2="97.40" stroke="#5f88c7" stroke-width="1.60"/>
<polygon points="358.70,95.40 355.60,89.40 361.80,89.40" fill="#5f88c7"/>
<line x1="358.70" y1="97.40" x2="358.70" y2="124.40" stroke="#5f88c7" stroke-width="1.60"/>
<polygon points="358.70,122.40 355.60,116.40 361.80,116.40" fill="#5f88c7"/>
<line x1="358.70" y1="124.40" x2="386.00" y2="124.40" stroke="#5f88c7" stroke-width="1.60"/>
<polygon points="384.00,124.40 378.00,127.50 378.00,121.30" fill="#5f88c7"/>
<line x1="386.00" y1="124.40" x2="413.00" y2="124.40" stroke="#5f88c7" stroke-width="1.60"/>
<polygon points="411.00,124.40 405.00,127.50 405.00,121.30" fill="#5f88c7"/>
<line x1="413.00" y1="124.40" x2="440.20" y2="124.40" stroke="#5f88c7" stroke-width="1.60"/>
<polygon points="438.20,124.40 432.20,127.50 432.20,121.30" fill="#5f88c7"/>
<line x1="440.20" y1="124.40" x2="440.20" y2="97.40" stroke="#5f88c7" stroke-width="1.60"/>
<polygon points="440.20,99.40 443.30,105.40 437.10,105.40" fill="#5f88c7"/>
<line x1="440.20" y1="97.40" x2="440.20" y2="70.30" stroke="#5f88c7" stroke-width="1.60"/>
<polygon points="440.20,72.30 443.30,78.30 437.10,78.30" fill="#5f88c7"/>
<line x1="440.20" y1="70.30" x2="440.20" y2="43.00" stroke="#5f88c7" stroke-width="1.60"/>
<polygon points="440.20,45.00 443.30,51.00 437.10,51.00" fill="#5f88c7"/>
<line x1="358.70" y1="70.30" x2="386.00" y2="70.30" stroke="#f0b448" stroke-width="1.20"/>
<polygon points="384.20,70.30 381.80,71.70 381.80,68.90" fill="#f0b448"/>
<line x1="386.00" y1="70.30" x2="413.00" y2="70.30" stroke="#e9a020" stroke-width="1.50"/>
<polygon points="411.20,70.30 405.00,73.60 405.00,67.00" fill="#e9a020"/>
<line x1="413.00" y1="70.30" x2="440.20" y2="70.30" stroke="#f0b448" stroke-width="1.20"/>
<polygon points="438.40,70.30 436.00,71.70 436.00,68.90" fill="#f0b448"/>
<line x1="386.00" y1="97.40" x2="358.70" y2="97.40" stroke="#f0b448" stroke-width="1.20"/>
<polygon points="360.50,97.40 362.90,96.00 362.90,98.80" fill="#f0b448"/>
<line x1="413.00" y1="97.40" x2="386.00" y2="97.40" stroke="#e9a020" stroke-width="1.50"/>
<polygon points="387.80,97.40 394.00,94.10 394.00,100.70" fill="#e9a020"/>
<line x1="440.20" y1="97.40" x2="413.00" y2="97.40" stroke="#f0b448" stroke-width="1.20"/>
<polygon points="414.80,97.40 417.20,96.00 417.20,98.80" fill="#f0b448"/>
<line x1="386.00" y1="70.30" x2="386.00" y2="43.00" stroke="#f8d8a0" stroke-width="1.10"/>
<polygon points="386.00,44.80 387.30,47.00 384.70,47.00" fill="#f8d8a0"/>
<line x1="386.00" y1="97.40" x2="386.00" y2="70.30" stroke="#e9a020" stroke-width="1.50"/>
<polygon points="386.00,72.10 389.30,78.30 382.70,78.30" fill="#e9a020"/>
<line x1="386.00" y1="124.40" x2="386.00" y2="97.40" stroke="#f8d8a0" stroke-width="1.10"/>
<polygon points="386.00,99.20 387.30,101.40 384.70,101.40" fill="#f8d8a0"/>
<line x1="413.00" y1="43.00" x2="413.00" y2="70.30" stroke="#f8d8a0" stroke-width="1.10"/>
<polygon points="413.00,68.50 411.70,66.30 414.30,66.30" fill="#f8d8a0"/>
<line x1="413.00" y1="70.30" x2="413.00" y2="97.40" stroke="#e9a020" stroke-width="1.50"/>
<polygon points="413.00,95.60 409.70,89.40 416.30,89.40" fill="#e9a020"/>
<line x1="413.00" y1="97.40" x2="413.00" y2="124.40" stroke="#f8d8a0" stroke-width="1.10"/>
<polygon points="413.00,122.60 411.70,120.40 414.30,120.40" fill="#f8d8a0"/>
<circle cx="358.70" cy="43.00" r="1.55" fill="#a6bbdc" stroke="#6c8cbd" stroke-width="0.8"/>
<circle cx="358.70" cy="70.30" r="1.55" fill="#a6bbdc" stroke="#6c8cbd" stroke-width="0.8"/>
<circle cx="358.70" cy="97.40" r="1.55" fill="#a6bbdc" stroke="#6c8cbd" stroke-width="0.8"/>
<circle cx="358.70" cy="124.40" r="1.55" fill="#a6bbdc" stroke="#6c8cbd" stroke-width="0.8"/>
<circle cx="386.00" cy="43.00" r="1.55" fill="#a6bbdc" stroke="#6c8cbd" stroke-width="0.8"/>
<circle cx="386.00" cy="70.30" r="1.55" fill="#a6bbdc" stroke="#6c8cbd" stroke-width="0.8"/>
<circle cx="386.00" cy="97.40" r="1.55" fill="#a6bbdc" stroke="#6c8cbd" stroke-width="0.8"/>
<circle cx="386.00" cy="124.40" r="1.55" fill="#a6bbdc" stroke="#6c8cbd" stroke-width="0.8"/>
<circle cx="413.00" cy="43.00" r="1.55" fill="#a6bbdc" stroke="#6c8cbd" stroke-width="0.8"/>
<circle cx="413.00" cy="70.30" r="1.55" fill="#a6bbdc" stroke="#6c8cbd" stroke-width="0.8"/>
<circle cx="413.00" cy="97.40" r="1.55" fill="#a6bbdc" stroke="#6c8cbd" stroke-width="0.8"/>
<circle cx="413.00" cy="124.40" r="1.55" fill="#a6bbdc" stroke="#6c8cbd" stroke-width="0.8"/>
<circle cx="440.20" cy="43.00" r="1.55" fill="#a6bbdc" stroke="#6c8cbd" stroke-width="0.8"/>
<circle cx="440.20" cy="70.30" r="1.55" fill="#a6bbdc" stroke="#6c8cbd" stroke-width="0.8"/>
<circle cx="440.20" cy="97.40" r="1.55" fill="#a6bbdc" stroke="#6c8cbd" stroke-width="0.8"/>
<circle cx="440.20" cy="124.40" r="1.55" fill="#a6bbdc" stroke="#6c8cbd" stroke-width="0.8"/>
<text x="223.90" y="59.40" font-size="9.20" fill="#4a3030" text-anchor="middle" >(0,1)</text>
<text x="278.00" y="59.40" font-size="9.20" fill="#4a3030" text-anchor="middle" >(1,1)</text>
<text x="223.90" y="113.60" font-size="9.20" fill="#4a3030" text-anchor="middle" >(0,0)</text>
<text x="278.00" y="113.60" font-size="9.20" fill="#4a3030" text-anchor="middle" >(1,0)</text>
<text x="373.30" y="60.10" font-size="9.20" fill="#4a3030" text-anchor="middle" >(0,1)</text>
<text x="427.00" y="60.10" font-size="9.20" fill="#4a3030" text-anchor="middle" >(1,1)</text>
<text x="373.30" y="114.30" font-size="9.20" fill="#4a3030" text-anchor="middle" >(0,0)</text>
<text x="427.00" y="114.30" font-size="9.20" fill="#4a3030" text-anchor="middle" >(1,0)</text>
<text x="412.00" y="30.80" font-size="14.50" fill="#8a8a8a" class="sf" font-style="italic">ρ</text>
<path d="M424.6,25.4 H432.9 M424.6,28.4 H432.9" stroke="#8a8a8a" stroke-width="1.05"/>
<text x="437.40" y="30.90" font-size="13.60" fill="#8a8a8a" class="sf" >5</text>
<text x="315.20" y="78.60" font-size="14.50" fill="#222" class="sf" font-style="italic">μ</text>
<path d="M331,78.8 V68.6 M328.1,71.6 L331,68.4 L333.9,71.6" fill="none" stroke="#333" stroke-width="1.1"/>
<line x1="303.3" y1="86.3" x2="342.5" y2="86.3" stroke="#111" stroke-width="1.3" stroke-dasharray="5.8,2.6"/>
<polygon points="347.6,86.3 341.6,83.1 341.6,89.5" fill="#111"/>
<line x1="222.00" y1="142.40" x2="256.40" y2="142.40" stroke="#5b87c5" stroke-width="1.50"/>
<polygon points="256.40,142.40 249.80,145.70 249.80,139.10" fill="#5b87c5"/>
<line x1="222.00" y1="158.60" x2="256.40" y2="158.60" stroke="#e99d24" stroke-width="1.50"/>
<polygon points="256.40,158.60 249.80,161.90 249.80,155.30" fill="#e99d24"/>
<text x="265.80" y="146.00" font-size="11.50" fill="#5b87c5" >Entropy production from edge <tspan class="sf" font-style="italic" font-size="12.5">ΔS</tspan><tspan class="sf" font-style="italic" font-size="9" dy="2.5">e</tspan></text>
<text x="265.80" y="162.40" font-size="11.50" fill="#e9a02a" >Entropy production from bulk <tspan class="sf" font-style="italic" font-size="12.5">ΔS</tspan><tspan class="sf" font-style="italic" font-size="9" dy="2.5">b</tspan></text>
<text x="452.60" y="11.80" font-size="12.00" fill="#000" font-weight="bold" >c</text>
<text x="460.20" y="27.90" font-size="12.40" fill="#222" class="sf" >Δ<tspan font-style="italic">S</tspan></text>
<path d="M478.1,21.6 L484.3,27.3 M484.3,21.6 L478.1,27.3" stroke="#222" stroke-width="1.1"/>
<text x="488.60" y="27.90" font-size="12.20" fill="#222" class="sf" textLength="12.2" lengthAdjust="spacingAndGlyphs">10</text>
<text x="501.60" y="25.10" font-size="8.90" fill="#222" class="sf" >3</text>
<line x1="474.4" y1="31.9" x2="474.4" y2="150.2" stroke="#9a9a9a" stroke-width="1"/>
<line x1="472.6" y1="149.8" x2="666" y2="149.8" stroke="#9a9a9a" stroke-width="1"/>
<line x1="474.4" y1="60.4" x2="477.6" y2="60.4" stroke="#9a9a9a" stroke-width="1"/>
<line x1="474.4" y1="104.6" x2="477.6" y2="104.6" stroke="#9a9a9a" stroke-width="1"/>
<line x1="536.6" y1="149.8" x2="536.6" y2="146.6" stroke="#9a9a9a" stroke-width="1"/>
<line x1="598.8" y1="149.8" x2="598.8" y2="146.6" stroke="#9a9a9a" stroke-width="1"/>
<line x1="661.0" y1="149.8" x2="661.0" y2="146.6" stroke="#9a9a9a" stroke-width="1"/>
<text x="473.00" y="64.00" font-size="11.00" fill="#222" text-anchor="end" >6</text>
<text x="473.00" y="108.20" font-size="11.00" fill="#222" text-anchor="end" >3</text>
<text x="536.60" y="161.20" font-size="11.00" fill="#222" text-anchor="middle" >5</text>
<text x="598.80" y="161.20" font-size="11.00" fill="#222" text-anchor="middle" >10</text>
<text x="661.80" y="161.20" font-size="11.00" fill="#222" text-anchor="middle" >15</text>
<text x="673.50" y="157.00" font-size="12.50" fill="#222" class="sf" ><tspan font-style="italic">μ</tspan></text>
<text x="630.00" y="48.80" font-size="13.60" fill="#8a8a8a" class="sf" font-style="italic">ρ</text>
<path d="M641.6,43.7 H649.2 M641.6,46.4 H649.2" stroke="#8a8a8a" stroke-width="1.0"/>
<text x="653.60" y="48.90" font-size="12.80" fill="#8a8a8a" class="sf" >5</text>
<path d="M474.50,149.80 L474.71,149.79 L474.92,149.77 L475.13,149.76 L475.33,149.75 L475.54,149.74 L475.75,149.72 L475.96,149.71 L476.17,149.70 L476.38,149.68 L476.59,149.67 L476.80,149.66 L477.00,149.65 L477.21,149.63 L477.42,149.62 L477.63,149.61 L477.84,149.59 L478.05,149.58 L478.26,149.57 L478.47,149.56 L478.67,149.54 L478.88,149.53 L479.09,149.52 L479.30,149.50 L479.51,149.49 L479.72,149.48 L479.93,149.47 L480.14,149.45 L480.34,149.44 L480.55,149.43 L480.76,149.41 L480.97,149.40 L481.18,149.39 L481.39,149.38 L481.60,149.36 L481.81,149.35 L482.01,149.34 L482.22,149.32 L482.43,149.31 L482.64,149.30 L482.85,149.29 L483.06,149.27 L483.27,149.26 L483.48,149.25 L483.68,149.23 L483.89,149.22 L484.10,149.21 L484.31,149.20 L484.52,149.18 L484.73,149.17 L484.94,149.16 L485.15,149.14 L485.35,149.13 L485.56,149.12 L485.77,149.11 L485.98,149.09 L486.19,149.08 L486.40,149.07 L486.61,149.05 L486.82,149.04 L487.02,149.03 L487.23,149.02 L487.44,149.00 L487.65,148.99 L487.86,148.98 L488.07,148.96 L488.28,148.95 L488.49,148.94 L488.69,148.93 L488.90,148.91 L489.11,148.90 L489.32,148.89 L489.53,148.88 L489.74,148.86 L489.95,148.85 L490.16,148.84 L490.36,148.82 L490.57,148.81 L490.78,148.80 L490.99,148.79 L491.20,148.77 L491.41,148.76 L491.62,148.75 L491.83,148.73 L492.03,148.72 L492.24,148.71 L492.45,148.70 L492.66,148.68 L492.87,148.67 L493.08,148.66 L493.29,148.64 L493.50,148.63 L493.70,148.62 L493.91,148.61 L494.12,148.59 L494.33,148.58 L494.54,148.57 L494.75,148.55 L494.96,148.54 L495.17,148.53 L495.37,148.52 L495.58,148.50 L495.79,148.49 L496.00,148.48 L496.21,148.46 L496.42,148.45 L496.63,148.44 L496.84,148.43 L497.04,148.41 L497.25,148.40 L497.46,148.39 L497.67,148.37 L497.88,148.36 L498.09,148.35 L498.30,148.34 L498.51,148.32 L498.71,148.31 L498.92,148.30 L499.13,148.28 L499.34,148.27 L500.15,148.22 L500.96,148.17 L501.77,148.12 L502.59,148.07 L503.40,148.02 L504.21,147.97 L505.02,147.92 L505.83,147.87 L506.64,147.82 L507.45,147.77 L508.26,147.72 L509.08,147.67 L509.89,147.62 L510.70,147.57 L511.51,147.52 L512.32,147.47 L513.13,147.42 L513.94,147.37 L514.76,147.32 L515.57,147.27 L516.38,147.22 L517.19,147.17 L518.00,147.12 L518.81,147.07 L519.62,147.02 L520.44,146.97 L521.25,146.92 L522.06,146.87 L522.87,146.82 L523.68,146.77 L524.49,146.72 L525.30,146.67 L526.11,146.62 L526.93,146.57 L527.74,146.52 L528.55,146.47 L529.36,146.42 L530.17,146.37 L530.98,146.32 L531.79,146.27 L532.61,146.22 L533.42,146.17 L534.23,146.12 L535.04,146.07 L535.85,146.02 L536.66,145.97 L537.47,145.92 L538.29,145.87 L539.10,145.82 L539.91,145.77 L540.72,145.72 L541.53,145.67 L542.34,145.62 L543.15,145.57 L543.96,145.52 L544.78,145.47 L545.59,145.43 L546.40,145.38 L547.21,145.33 L548.02,145.28 L548.83,145.23 L549.64,145.18 L550.46,145.13 L551.27,145.08 L552.08,145.03 L552.89,144.98 L553.70,144.93 L554.51,144.88 L555.32,144.83 L556.13,144.78 L556.95,144.73 L557.76,144.68 L558.57,144.63 L559.38,144.58 L560.19,144.53 L561.00,144.48 L561.81,144.43 L562.63,144.38 L563.44,144.33 L564.25,144.28 L565.06,144.23 L565.87,144.18 L566.68,144.13 L567.49,144.08 L568.31,144.03 L569.12,143.98 L569.93,143.93 L570.74,143.88 L571.55,143.83 L572.36,143.78 L573.17,143.73 L573.98,143.68 L574.80,143.63 L575.61,143.58 L576.42,143.53 L577.23,143.48 L578.04,143.43 L578.85,143.38 L579.66,143.33 L580.48,143.28 L581.29,143.23 L582.10,143.18 L582.91,143.13 L583.72,143.08 L584.53,143.03 L585.34,142.98 L586.16,142.93 L586.97,142.88 L587.78,142.83 L588.59,142.78 L589.40,142.73 L590.21,142.68 L591.02,142.63 L591.83,142.58 L592.65,142.53 L593.46,142.48 L594.27,142.43 L595.08,142.38 L595.89,142.33 L596.70,142.28 L597.51,142.23 L598.33,142.18 L599.14,142.13 L599.95,142.08 L600.76,142.03 L601.57,141.98 L602.38,141.93 L603.19,141.88 L604.01,141.83 L604.82,141.78 L605.63,141.73 L606.44,141.68 L607.25,141.63 L608.06,141.58 L608.87,141.53 L609.68,141.48 L610.50,141.43 L611.31,141.38 L612.12,141.33 L612.93,141.28 L613.74,141.23 L614.55,141.18 L615.36,141.13 L616.18,141.08 L616.99,141.03 L617.80,140.98 L618.61,140.93 L619.42,140.88 L620.23,140.83 L621.04,140.78 L621.85,140.73 L622.67,140.68 L623.48,140.63 L624.29,140.58 L625.10,140.53 L625.91,140.48 L626.72,140.43 L627.53,140.38 L628.35,140.33 L629.16,140.28 L629.97,140.23 L630.78,140.18 L631.59,140.13 L632.40,140.08 L633.21,140.03 L634.03,139.98 L634.84,139.93 L635.65,139.88 L636.46,139.83 L637.27,139.78 L638.08,139.73 L638.89,139.68 L639.70,139.63 L640.52,139.58 L641.33,139.53 L642.14,139.48 L642.95,139.43 L643.76,139.38 L644.57,139.33 L645.38,139.28 L646.20,139.23 L647.01,139.18 L647.82,139.13 L648.63,139.08 L649.44,139.03 L650.25,138.98 L651.06,138.93 L651.88,138.88 L652.69,138.83 L653.50,138.78 L654.31,138.73 L655.12,138.68 L655.93,138.63 L656.74,138.58 L657.55,138.53 L658.37,138.48 L659.18,138.43 L659.99,138.38 L660.80,138.33" fill="none" stroke="#5b87c5" stroke-width="2.00" stroke-linejoin="round" stroke-linecap="round"/>
<path d="M474.50,149.98 L474.71,142.88 L474.92,138.20 L475.13,134.05 L475.33,130.23 L475.54,126.65 L475.75,123.26 L475.96,120.04 L476.17,116.96 L476.38,114.00 L476.59,111.16 L476.80,108.43 L477.00,105.79 L477.21,103.25 L477.42,100.80 L477.63,98.42 L477.84,96.13 L478.05,93.91 L478.26,91.77 L478.47,89.69 L478.67,87.68 L478.88,85.74 L479.09,83.86 L479.30,82.04 L479.51,80.28 L479.72,78.57 L479.93,76.93 L480.14,75.33 L480.34,73.80 L480.55,72.31 L480.76,70.87 L480.97,69.48 L481.18,68.14 L481.39,66.84 L481.60,65.58 L481.81,64.37 L482.01,63.19 L482.22,62.06 L482.43,60.96 L482.64,59.90 L482.85,58.87 L483.06,57.88 L483.27,56.93 L483.48,56.01 L483.68,55.12 L483.89,54.26 L484.10,53.43 L484.31,52.63 L484.52,51.86 L484.73,51.12 L484.94,50.41 L485.15,49.73 L485.35,49.08 L485.56,48.45 L485.77,47.84 L485.98,47.27 L486.19,46.71 L486.40,46.19 L486.61,45.68 L486.82,45.20 L487.02,44.75 L487.23,44.32 L487.44,43.91 L487.65,43.52 L487.86,43.15 L488.07,42.81 L488.28,42.48 L488.49,42.18 L488.69,41.89 L488.90,41.63 L489.11,41.38 L489.32,41.15 L489.53,40.94 L489.74,40.75 L489.95,40.57 L490.16,40.41 L490.36,40.26 L490.57,40.13 L490.78,40.02 L490.99,39.92 L491.20,39.84 L491.41,39.77 L491.62,39.72 L491.83,39.68 L492.03,39.65 L492.24,39.64 L492.45,39.64 L492.66,39.65 L492.87,39.68 L493.08,39.72 L493.29,39.77 L493.50,39.83 L493.70,39.91 L493.91,39.99 L494.12,40.09 L494.33,40.20 L494.54,40.32 L494.75,40.45 L494.96,40.59 L495.17,40.75 L495.37,40.91 L495.58,41.08 L495.79,41.26 L496.00,41.46 L496.21,41.66 L496.42,41.87 L496.63,42.09 L496.84,42.32 L497.04,42.56 L497.25,42.81 L497.46,43.06 L497.67,43.33 L497.88,43.60 L498.09,43.88 L498.30,44.17 L498.51,44.47 L498.71,44.78 L498.92,45.09 L499.13,45.42 L499.34,45.75 L500.15,47.10 L500.96,48.56 L501.77,50.12 L502.59,51.78 L503.40,53.53 L504.21,55.37 L505.02,57.30 L505.83,59.30 L506.64,61.38 L507.45,63.53 L508.26,65.73 L509.08,67.97 L509.89,70.24 L510.70,72.52 L511.51,74.80 L512.32,77.07 L513.13,79.33 L513.94,81.55 L514.76,83.73 L515.57,85.87 L516.38,87.95 L517.19,89.97 L518.00,91.92 L518.81,93.80 L519.62,95.60 L520.44,97.33 L521.25,98.99 L522.06,100.58 L522.87,102.11 L523.68,103.58 L524.49,104.99 L525.30,106.34 L526.11,107.64 L526.93,108.88 L527.74,110.08 L528.55,111.22 L529.36,112.31 L530.17,113.36 L530.98,114.37 L531.79,115.33 L532.61,116.25 L533.42,117.13 L534.23,117.97 L535.04,118.77 L535.85,119.54 L536.66,120.27 L537.47,120.97 L538.29,121.63 L539.10,122.27 L539.91,122.87 L540.72,123.44 L541.53,123.99 L542.34,124.51 L543.15,125.00 L543.96,125.46 L544.78,125.91 L545.59,126.32 L546.40,126.72 L547.21,127.09 L548.02,127.44 L548.83,127.77 L549.64,128.08 L550.46,128.36 L551.27,128.64 L552.08,128.89 L552.89,129.12 L553.70,129.34 L554.51,129.54 L555.32,129.73 L556.13,129.90 L556.95,130.06 L557.76,130.20 L558.57,130.33 L559.38,130.45 L560.19,130.55 L561.00,130.64 L561.81,130.72 L562.63,130.79 L563.44,130.85 L564.25,130.90 L565.06,130.94 L565.87,130.97 L566.68,130.99 L567.49,131.00 L568.31,131.01 L569.12,131.00 L569.93,130.99 L570.74,130.97 L571.55,130.95 L572.36,130.92 L573.17,130.88 L573.98,130.84 L574.80,130.79 L575.61,130.73 L576.42,130.68 L577.23,130.61 L578.04,130.55 L578.85,130.48 L579.66,130.40 L580.48,130.32 L581.29,130.24 L582.10,130.16 L582.91,130.07 L583.72,129.98 L584.53,129.89 L585.34,129.80 L586.16,129.70 L586.97,129.60 L587.78,129.50 L588.59,129.40 L589.40,129.29 L590.21,129.19 L591.02,129.08 L591.83,128.97 L592.65,128.85 L593.46,128.74 L594.27,128.62 L595.08,128.50 L595.89,128.39 L596.70,128.26 L597.51,128.14 L598.33,128.02 L599.14,127.89 L599.95,127.77 L600.76,127.64 L601.57,127.51 L602.38,127.38 L603.19,127.25 L604.01,127.12 L604.82,126.99 L605.63,126.86 L606.44,126.73 L607.25,126.59 L608.06,126.46 L608.87,126.32 L609.68,126.19 L610.50,126.05 L611.31,125.91 L612.12,125.78 L612.93,125.64 L613.74,125.50 L614.55,125.36 L615.36,125.23 L616.18,125.09 L616.99,124.95 L617.80,124.81 L618.61,124.67 L619.42,124.53 L620.23,124.39 L621.04,124.26 L621.85,124.12 L622.67,123.98 L623.48,123.84 L624.29,123.70 L625.10,123.57 L625.91,123.43 L626.72,123.29 L627.53,123.15 L628.35,123.02 L629.16,122.88 L629.97,122.75 L630.78,122.61 L631.59,122.48 L632.40,122.34 L633.21,122.21 L634.03,122.08 L634.84,121.94 L635.65,121.81 L636.46,121.68 L637.27,121.55 L638.08,121.42 L638.89,121.29 L639.70,121.17 L640.52,121.04 L641.33,120.91 L642.14,120.79 L642.95,120.66 L643.76,120.54 L644.57,120.42 L645.38,120.30 L646.20,120.18 L647.01,120.06 L647.82,119.94 L648.63,119.82 L649.44,119.70 L650.25,119.59 L651.06,119.47 L651.88,119.36 L652.69,119.25 L653.50,119.14 L654.31,119.03 L655.12,118.92 L655.93,118.81 L656.74,118.71 L657.55,118.60 L658.37,118.50 L659.18,118.40 L659.99,118.30 L660.80,118.20" fill="none" stroke="#e9a02a" stroke-width="2.20" stroke-linejoin="round" stroke-linecap="round"/>
<path d="M474.50,149.98 L474.71,142.86 L474.92,138.17 L475.13,134.01 L475.33,130.18 L475.54,126.59 L475.75,123.19 L475.96,119.95 L476.17,116.85 L476.38,113.89 L476.59,111.03 L476.80,108.29 L477.00,105.64 L477.21,103.08 L477.42,100.62 L477.63,98.23 L477.84,95.93 L478.05,93.70 L478.26,91.54 L478.47,89.45 L478.67,87.43 L478.88,85.47 L479.09,83.58 L479.30,81.74 L479.51,79.97 L479.72,78.25 L479.93,76.59 L480.14,74.99 L480.34,73.44 L480.55,71.94 L480.76,70.49 L480.97,69.08 L481.18,67.73 L481.39,66.41 L481.60,65.14 L481.81,63.92 L482.01,62.73 L482.22,61.58 L482.43,60.47 L482.64,59.40 L482.85,58.36 L483.06,57.36 L483.27,56.39 L483.48,55.45 L483.68,54.55 L483.89,53.68 L484.10,52.84 L484.31,52.03 L484.52,51.25 L484.73,50.50 L484.94,49.77 L485.15,49.08 L485.35,48.41 L485.56,47.77 L485.77,47.15 L485.98,46.56 L486.19,45.99 L486.40,45.45 L486.61,44.94 L486.82,44.45 L487.02,43.98 L487.23,43.53 L487.44,43.11 L487.65,42.71 L487.86,42.33 L488.07,41.97 L488.28,41.64 L488.49,41.32 L488.69,41.02 L488.90,40.74 L489.11,40.48 L489.32,40.24 L489.53,40.02 L489.74,39.81 L489.95,39.62 L490.16,39.44 L490.36,39.29 L490.57,39.15 L490.78,39.02 L490.99,38.91 L491.20,38.81 L491.41,38.73 L491.62,38.66 L491.83,38.61 L492.03,38.57 L492.24,38.55 L492.45,38.53 L492.66,38.54 L492.87,38.55 L493.08,38.57 L493.29,38.61 L493.50,38.66 L493.70,38.73 L493.91,38.80 L494.12,38.88 L494.33,38.98 L494.54,39.09 L494.75,39.21 L494.96,39.33 L495.17,39.47 L495.37,39.62 L495.58,39.78 L495.79,39.95 L496.00,40.13 L496.21,40.32 L496.42,40.52 L496.63,40.73 L496.84,40.94 L497.04,41.17 L497.25,41.41 L497.46,41.65 L497.67,41.90 L497.88,42.16 L498.09,42.43 L498.30,42.71 L498.51,43.00 L498.71,43.29 L498.92,43.59 L499.13,43.90 L499.34,44.22 L500.15,45.52 L500.96,46.93 L501.77,48.44 L502.59,50.05 L503.40,51.75 L504.21,53.54 L505.02,55.42 L505.83,57.37 L506.64,59.40 L507.45,61.50 L508.26,63.65 L509.08,65.84 L509.89,68.06 L510.70,70.29 L511.51,72.52 L512.32,74.75 L513.13,76.95 L513.94,79.12 L514.76,81.25 L515.57,83.34 L516.38,85.37 L517.19,87.34 L518.00,89.24 L518.81,91.07 L519.62,92.82 L520.44,94.50 L521.25,96.11 L522.06,97.66 L522.87,99.14 L523.68,100.55 L524.49,101.91 L525.30,103.22 L526.11,104.46 L526.93,105.66 L527.74,106.80 L528.55,107.89 L529.36,108.94 L530.17,109.94 L530.98,110.89 L531.79,111.80 L532.61,112.67 L533.42,113.50 L534.23,114.29 L535.04,115.04 L535.85,115.76 L536.66,116.44 L537.47,117.09 L538.29,117.71 L539.10,118.29 L539.91,118.84 L540.72,119.37 L541.53,119.86 L542.34,120.33 L543.15,120.77 L543.96,121.19 L544.78,121.58 L545.59,121.95 L546.40,122.29 L547.21,122.61 L548.02,122.91 L548.83,123.19 L549.64,123.45 L550.46,123.69 L551.27,123.91 L552.08,124.11 L552.89,124.30 L553.70,124.47 L554.51,124.62 L555.32,124.76 L556.13,124.88 L556.95,124.98 L557.76,125.08 L558.57,125.16 L559.38,125.22 L560.19,125.28 L561.00,125.32 L561.81,125.35 L562.63,125.37 L563.44,125.38 L564.25,125.38 L565.06,125.36 L565.87,125.34 L566.68,125.32 L567.49,125.28 L568.31,125.23 L569.12,125.18 L569.93,125.12 L570.74,125.05 L571.55,124.97 L572.36,124.89 L573.17,124.81 L573.98,124.71 L574.80,124.62 L575.61,124.51 L576.42,124.40 L577.23,124.29 L578.04,124.18 L578.85,124.05 L579.66,123.93 L580.48,123.80 L581.29,123.67 L582.10,123.54 L582.91,123.40 L583.72,123.26 L584.53,123.12 L585.34,122.98 L586.16,122.83 L586.97,122.68 L587.78,122.53 L588.59,122.38 L589.40,122.22 L590.21,122.07 L591.02,121.91 L591.83,121.75 L592.65,121.58 L593.46,121.42 L594.27,121.25 L595.08,121.08 L595.89,120.91 L596.70,120.74 L597.51,120.57 L598.33,120.40 L599.14,120.22 L599.95,120.05 L600.76,119.87 L601.57,119.69 L602.38,119.51 L603.19,119.33 L604.01,119.15 L604.82,118.97 L605.63,118.79 L606.44,118.61 L607.25,118.42 L608.06,118.24 L608.87,118.05 L609.68,117.87 L610.50,117.68 L611.31,117.49 L612.12,117.31 L612.93,117.12 L613.74,116.93 L614.55,116.74 L615.36,116.56 L616.18,116.37 L616.99,116.18 L617.80,115.99 L618.61,115.80 L619.42,115.61 L620.23,115.43 L621.04,115.24 L621.85,115.05 L622.67,114.86 L623.48,114.67 L624.29,114.48 L625.10,114.30 L625.91,114.11 L626.72,113.92 L627.53,113.74 L628.35,113.55 L629.16,113.36 L629.97,113.18 L630.78,112.99 L631.59,112.81 L632.40,112.63 L633.21,112.44 L634.03,112.26 L634.84,112.08 L635.65,111.90 L636.46,111.71 L637.27,111.53 L638.08,111.36 L638.89,111.18 L639.70,111.00 L640.52,110.82 L641.33,110.65 L642.14,110.47 L642.95,110.30 L643.76,110.12 L644.57,109.95 L645.38,109.78 L646.20,109.61 L647.01,109.44 L647.82,109.27 L648.63,109.10 L649.44,108.94 L650.25,108.77 L651.06,108.61 L651.88,108.44 L652.69,108.28 L653.50,108.12 L654.31,107.96 L655.12,107.80 L655.93,107.65 L656.74,107.49 L657.55,107.34 L658.37,107.18 L659.18,107.03 L659.99,106.88 L660.80,106.73" fill="none" stroke="#7cb12f" stroke-width="2.40" stroke-linejoin="round" stroke-linecap="round"/>
<text x="566.60" y="96.90" font-size="12.80" fill="#7cb12f" class="sf" >Δ<tspan font-style="italic">S</tspan><tspan dx="2"> = </tspan><tspan dx="2" font-style="italic">ΔS</tspan><tspan font-size="9.5" dy="2.6">e</tspan><tspan dy="-2.6" dx="1.5"> + </tspan><tspan dx="1.5" font-style="italic">ΔS</tspan><tspan font-size="9.5" dy="2.6">b</tspan></text>
<text x="665.60" y="119.20" font-size="12.80" fill="#e9a02a" class="sf" ><tspan font-style="italic">ΔS</tspan><tspan font-size="9.5" dy="2.6">b</tspan></text>
<text x="666.30" y="137.70" font-size="12.80" fill="#5b87c5" class="sf" ><tspan font-style="italic">ΔS</tspan><tspan font-size="9.5" dy="2.6">e</tspan></text>
<line x1="513.60" y1="54.20" x2="524.11" y2="76.00" stroke="#000" stroke-width="1.70" stroke-dasharray="5.4,3.2,1.4,3.4"/>
<polygon points="528.60,85.30 523.12,80.62 528.34,78.10" fill="#000"/>
<line x1="478.80" y1="171.05" x2="502.30" y2="171.05" stroke="#000" stroke-width="1.70" stroke-dasharray="5,3.4,1.5,3.4"/>
<polygon points="510.60,171.05 505.60,173.65 505.60,168.45" fill="#000"/>
<text x="520.90" y="175.00" font-size="11.40" fill="#222" >Proposed experimental test</text>
<text x="7.60" y="196.20" font-size="14.00" fill="#000" font-weight="bold" >d</text>
<text x="44.60" y="206.80" font-size="11.50" fill="#222" >Cost-precision tradeoff</text>
<text x="163.20" y="206.60" font-size="13.60" fill="#222" class="sf" textLength="32.6" lengthAdjust="spacingAndGlyphs">log(Δ<tspan font-style="italic">S</tspan></text>
<text x="197.00" y="206.60" font-size="13.60" fill="#222" class="sf" >/</text>
<g transform="translate(203.00,206.60) scale(1.050)" fill="none" stroke="#222" stroke-linecap="round"><path d="M0.2,-6.6 C1.4,-8.6 3.9,-8.9 6.4,-8.8 C9.4,-8.7 10.5,-7.5 10.1,-6.2 C9.7,-4.8 7.9,-4.1 5.5,-4.2" stroke-width="0.95"/><path d="M6.1,-4.2 C7.4,-3.3 8.4,-0.6 9.9,-0.4 C10.7,-0.3 11.2,-0.7 11.5,-1.0" stroke-width="1.00"/><path d="M4.3,-8.6 C3.7,-5.8 2.7,-2.3 1.5,-0.1" stroke-width="1.30"/></g>
<text x="215.40" y="206.60" font-size="13.60" fill="#222" class="sf" >)</text>
<rect x="42.9" y="213.4" width="183.5" height="183.5" fill="none" stroke="#d6d6d6" stroke-width="1.2"/>
<line x1="45.8" y1="394.2" x2="45.8" y2="396.9" stroke="#8a8a8a" stroke-width="0.6"/>
<line x1="134.4" y1="394.2" x2="134.4" y2="396.9" stroke="#8a8a8a" stroke-width="0.6"/>
<line x1="223.0" y1="394.2" x2="223.0" y2="396.9" stroke="#8a8a8a" stroke-width="0.6"/>
<line x1="42.9" y1="216.7" x2="45.6" y2="216.7" stroke="#8a8a8a" stroke-width="0.6"/>
<line x1="42.9" y1="305.0" x2="45.6" y2="305.0" stroke="#8a8a8a" stroke-width="0.6"/>
<line x1="42.9" y1="393.3" x2="45.6" y2="393.3" stroke="#8a8a8a" stroke-width="0.6"/>
<text x="40.60" y="219.80" font-size="10.60" fill="#222" text-anchor="end" >10</text>
<text x="40.60" y="308.10" font-size="10.60" fill="#222" text-anchor="end" >5</text>
<text x="40.60" y="397.20" font-size="10.60" fill="#222" text-anchor="end" >0</text>
<text x="46.00" y="408.90" font-size="10.60" fill="#222" text-anchor="middle" >0</text>
<text x="134.40" y="408.90" font-size="10.60" fill="#222" text-anchor="middle" >5</text>
<text x="222.50" y="408.90" font-size="10.60" fill="#222" text-anchor="middle" >10</text>
<text x="69.90" y="423.00" font-size="12.00" fill="#222" >Thermodynamic force <tspan class="sf" font-style="italic" font-size="13.5">μ</tspan></text>
<g transform="translate(24.6,363.6) rotate(-90)">
<text x="0.00" y="0.00" font-size="12.40" fill="#222" >Ratio of timescales <tspan class="sf" font-style="italic" font-size="13.5">ρ</tspan></text>
</g>
<text x="247.40" y="252.50" font-size="10.60" fill="#222" >14</text>
<text x="247.40" y="304.10" font-size="10.60" fill="#222" >10</text>
<text x="247.40" y="355.30" font-size="10.60" fill="#222" >6</text>
<line x1="243.3" y1="248.7" x2="245.4" y2="248.7" stroke="#b0b0b0" stroke-width="0.6"/>
<line x1="243.3" y1="300.3" x2="245.4" y2="300.3" stroke="#b0b0b0" stroke-width="0.6"/>
<line x1="243.3" y1="351.5" x2="245.4" y2="351.5" stroke="#b0b0b0" stroke-width="0.6"/>
<line x1="78.10" y1="304.50" x2="123.60" y2="304.50" stroke="#000" stroke-width="1.70" stroke-dasharray="4.9,3.7,1.2,4.1"/>
<polygon points="126.50,304.50 121.70,307.50 121.70,301.50" fill="#000"/>
<text x="174.00" y="295.70" font-size="10.20" fill="#cc5a2a" >Optimum</text>
<line x1="173.5" y1="299.9" x2="163.6" y2="310.5" stroke="#cc5a2a" stroke-width="1.2"/>
<polygon points="161.1,313.2 161.9,307.6 166.1,311.5" fill="#cc5a2a"/>
<path d="M154.6,316.1 L163.8,325.3 M163.8,316.1 L154.6,325.3" stroke="#c8583a" stroke-width="1.5"/>
<text x="296.30" y="196.40" font-size="14.00" fill="#000" font-weight="bold" >e</text>
<path d="M495.3 328.3h0M499.4 337.3h0M413.6 387.7h0M599.3 306.1h0M384.9 392.4h0M370.0 393.6h0M556.8 340.6h0M361.8 395.0h0M415.3 385.7h0M498.8 329.3h0M515.7 371.2h0M559.4 335.6h0M661.8 354.7h0M573.3 307.0h0M445.4 370.8h0M479.4 376.7h0M649.7 395.4h0M421.2 390.0h0M656.5 302.5h0M549.4 382.3h0M383.8 392.1h0M588.6 305.9h0M388.0 391.3h0M411.4 388.8h0M415.4 394.1h0M553.7 312.1h0M422.2 385.8h0M602.5 318.4h0M421.5 385.6h0M553.2 325.0h0M422.3 385.0h0M457.6 355.5h0M384.7 392.6h0M540.8 315.1h0M650.0 320.1h0M621.8 303.7h0M634.5 383.3h0M415.1 386.3h0M417.2 386.4h0M541.5 344.5h0M369.0 395.0h0M572.3 318.6h0M539.3 311.7h0M577.1 306.6h0M528.0 365.6h0M442.8 390.2h0M362.3 394.7h0M375.7 392.8h0M531.9 315.7h0M629.2 363.6h0M568.2 340.5h0M367.9 394.1h0M571.2 394.4h0M551.4 318.7h0M454.6 392.6h0M523.9 351.8h0M582.2 357.0h0M636.6 312.6h0M632.2 375.2h0M598.5 367.7h0M548.0 316.0h0M543.1 318.1h0M660.5 360.1h0M475.8 367.3h0M491.7 391.3h0M586.2 312.2h0M504.0 330.2h0M509.0 322.6h0M435.3 376.8h0M564.2 307.3h0M633.7 374.0h0M629.4 312.2h0M417.8 385.9h0M636.3 376.8h0M535.2 312.3h0M508.8 354.3h0M574.3 382.0h0M408.8 389.8h0M422.6 384.5h0M508.0 331.7h0M657.0 341.0h0M366.8 395.3h0M573.5 333.3h0M598.8 304.1h0M496.1 335.9h0M429.7 379.8h0M549.3 322.9h0M557.2 349.0h0M566.2 311.5h0M411.8 387.1h0M575.2 307.3h0M462.8 372.1h0M544.8 376.3h0M599.0 391.2h0M641.9 389.1h0M495.7 328.6h0M472.2 344.4h0M600.5 372.9h0M556.0 317.8h0M607.0 360.6h0M422.3 383.7h0M655.6 311.0h0M455.0 363.3h0M463.6 352.3h0M525.2 371.8h0M365.9 395.3h0M601.4 306.5h0M597.7 304.3h0M514.9 354.7h0M567.7 371.5h0M647.0 304.0h0M518.0 326.1h0M552.2 314.1h0M528.2 316.9h0M615.3 385.3h0M616.9 370.0h0M532.1 318.5h0M510.8 352.5h0M653.2 327.4h0M601.8 324.4h0M568.2 312.5h0M483.5 350.7h0M439.4 381.9h0M489.6 351.8h0M502.7 323.6h0M545.8 389.1h0M595.1 304.9h0M426.6 390.9h0M465.7 367.0h0M580.3 310.8h0M433.7 378.6h0M490.5 331.7h0M518.8 317.6h0M549.9 326.8h0M617.1 308.8h0M428.2 383.4h0M632.8 305.4h0M638.9 320.9h0M628.2 304.5h0M579.0 305.1h0M611.3 311.7h0M395.7 390.0h0M362.6 394.7h0M635.4 389.8h0M511.6 371.0h0M566.5 306.3h0M389.6 390.7h0M514.4 347.7h0M413.5 387.5h0M659.5 390.8h0M376.1 394.1h0M590.7 309.2h0M514.5 331.8h0M361.2 394.9h0M412.5 387.4h0M480.9 334.9h0M513.7 331.0h0M602.0 353.7h0M549.4 316.1h0M511.2 356.4h0M436.0 380.8h0M594.7 375.8h0M630.9 361.7h0M591.4 375.7h0M577.8 308.1h0M500.3 326.3h0M552.2 338.2h0M645.6 379.0h0M558.6 325.5h0M476.1 364.3h0M571.3 347.9h0M364.2 394.5h0M435.6 376.1h0M416.9 385.3h0M433.8 385.4h0M512.2 367.9h0M661.0 310.2h0M380.5 392.3h0M371.0 395.1h0M501.2 327.9h0M543.8 325.3h0M485.6 342.8h0M468.8 349.9h0M528.4 323.0h0M447.6 365.6h0M370.3 393.7h0M476.3 359.2h0M372.5 393.3h0M379.6 393.9h0M503.0 383.6h0M517.0 360.4h0M500.2 355.8h0M541.5 318.1h0M496.3 325.6h0M518.4 320.7h0M561.1 336.1h0M535.0 322.9h0M519.2 349.3h0M581.4 305.0h0M629.7 365.1h0M466.9 352.0h0M529.7 326.6h0M587.2 306.0h0M656.3 352.8h0M369.3 393.7h0M487.0 356.7h0M522.6 315.4h0M563.7 321.1h0M471.1 361.3h0M462.1 358.3h0M379.9 392.5h0M547.6 385.1h0M486.8 339.8h0M469.8 347.5h0M456.5 360.9h0M638.3 328.8h0M386.8 395.0h0M382.5 392.4h0M566.4 317.9h0M380.4 392.2h0M382.1 392.1h0M569.1 306.5h0M466.4 377.7h0M393.0 392.2h0M637.6 351.2h0M490.9 380.6h0M454.2 365.3h0M630.4 306.2h0M468.8 347.1h0M475.5 343.1h0M600.5 310.1h0M529.0 323.8h0M626.1 302.7h0M514.6 332.9h0M652.2 356.4h0M376.8 392.8h0M382.9 392.0h0M631.7 311.5h0M401.1 390.9h0M432.1 380.5h0M516.4 376.3h0M460.3 366.8h0M507.9 329.8h0M573.4 375.5h0M609.4 354.1h0M603.2 352.4h0M649.6 370.0h0M574.0 375.0h0M485.6 339.2h0M659.8 303.3h0M419.6 387.9h0M653.3 305.1h0M392.3 391.1h0M412.0 387.0h0M535.5 393.6h0M390.4 390.3h0M429.1 386.3h0M425.6 382.3h0M409.9 392.8h0M524.6 372.2h0M436.7 377.0h0M461.6 352.5h0M504.5 321.8h0M646.5 376.8h0M518.3 342.3h0M659.5 383.9h0M360.5 395.1h0M600.5 366.0h0M405.2 388.1h0M436.4 385.1h0M551.7 382.5h0M520.4 326.3h0M357.6 395.4h0M608.2 305.3h0M576.0 310.6h0M500.3 367.0h0M618.9 315.5h0M484.5 391.0h0M609.5 310.0h0M517.7 328.4h0M452.3 360.6h0M450.5 366.4h0M467.0 390.3h0M477.6 337.7h0M610.5 394.8h0M472.3 383.9h0M529.4 349.7h0M659.9 385.4h0M545.3 312.9h0M522.0 318.1h0M476.9 383.0h0M418.2 391.9h0M645.7 313.9h0M458.5 391.6h0M400.2 389.4h0M573.4 309.4h0M612.7 340.8h0M426.4 381.7h0M481.4 344.7h0M487.6 340.5h0M591.3 376.7h0M458.4 354.7h0M479.5 347.8h0M598.3 365.9h0M362.9 394.6h0M555.9 311.0h0M512.7 355.4h0M543.9 320.8h0M632.9 329.6h0M510.0 328.4h0M658.5 314.1h0M612.3 319.8h0M548.7 308.9h0M431.9 380.8h0M457.7 380.9h0M498.6 338.0h0M398.6 391.9h0M528.4 340.5h0M634.8 355.8h0M540.8 322.8h0M445.3 388.6h0M532.3 386.4h0M524.5 314.6h0M412.2 387.0h0M558.2 316.4h0M582.4 312.3h0M602.6 304.6h0M500.1 326.8h0M531.1 318.5h0M437.7 380.8h0M553.1 317.0h0M401.4 391.2h0M500.7 330.2h0M567.6 359.0h0M505.5 354.8h0M618.2 307.7h0M530.0 369.9h0M517.5 320.2h0M455.1 362.3h0M632.0 366.5h0M586.8 312.0h0M378.5 392.4h0M510.7 319.4h0M569.4 336.4h0M450.7 362.6h0M378.1 392.4h0M560.4 375.0h0M603.0 314.8h0M530.2 390.6h0M599.1 310.2h0M647.5 304.2h0M448.6 364.1h0M630.5 376.2h0M466.0 368.0h0M366.7 395.0h0M509.4 348.1h0M501.5 325.1h0M638.9 385.9h0M613.0 308.5h0M409.7 387.0h0M418.9 388.6h0M625.9 303.1h0M578.8 320.0h0M622.7 388.9h0M569.7 373.8h0M381.3 391.8h0M574.1 306.3h0M429.1 383.3h0M470.9 352.6h0M537.3 313.6h0M640.1 382.0h0M552.6 324.9h0M491.6 342.1h0M371.0 394.0h0M433.8 393.8h0M444.3 388.8h0M442.4 379.5h0M631.1 393.8h0M498.1 376.8h0M640.9 336.7h0M526.9 378.0h0M558.2 370.4h0M511.6 362.3h0M516.1 387.0h0M595.2 311.8h0M429.1 381.7h0M597.3 384.0h0M506.5 327.1h0M509.5 326.3h0M575.4 310.2h0M412.2 386.4h0M508.7 339.0h0M437.5 393.9h0M634.2 321.6h0M598.9 304.2h0M452.2 361.7h0M546.9 337.5h0M536.9 323.5h0M409.6 387.1h0M568.1 357.3h0M375.9 392.7h0M423.3 394.9h0M506.7 347.6h0M401.3 389.3h0M369.2 394.0h0M400.4 388.8h0M486.8 330.6h0M661.3 359.8h0M427.4 382.2h0M431.0 379.5h0M468.3 355.0h0M543.7 313.6h0M555.6 310.6h0M569.3 366.8h0M627.8 327.9h0M614.6 315.4h0M423.0 383.3h0M525.0 315.6h0M422.7 387.1h0M493.7 362.5h0M620.6 306.7h0M379.4 394.2h0M441.0 372.0h0M437.3 378.5h0M575.5 308.6h0M404.1 392.7h0M591.0 351.5h0M363.4 394.6h0M382.6 394.1h0M592.5 342.7h0M477.5 337.0h0M403.3 391.3h0M452.5 367.4h0M398.7 393.7h0M578.7 388.3h0M419.7 385.7h0M480.9 344.0h0M426.2 382.2h0M423.1 383.1h0M549.7 315.9h0M655.1 312.1h0M637.8 312.7h0M560.7 353.3h0M428.8 386.5h0M487.8 330.1h0M474.2 343.3h0M442.6 371.2h0M502.3 330.3h0M430.4 379.9h0M486.1 336.4h0M571.3 317.6h0M364.2 394.4h0M376.4 392.5h0M508.5 338.1h0M456.6 356.4h0M463.2 369.8h0M437.2 391.6h0M500.5 325.0h0M467.9 346.9h0M592.7 319.3h0M482.7 334.7h0M610.5 376.9h0M634.9 303.2h0M512.0 321.8h0M655.5 303.6h0M427.0 392.1h0M357.5 395.4h0M430.3 381.9h0M524.5 330.5h0M610.9 379.2h0M463.0 381.3h0M575.8 362.1h0M651.5 387.7h0M547.0 325.9h0M470.0 350.1h0M520.2 317.6h0M456.4 359.2h0M395.7 389.4h0M388.4 394.9h0M495.1 372.1h0M406.8 388.6h0M373.5 393.2h0M600.4 314.1h0M434.1 389.4h0M459.1 360.5h0M610.2 327.1h0M573.0 312.1h0M601.8 307.1h0M561.6 307.8h0M361.4 394.8h0M653.5 312.5h0M485.2 348.8h0M642.2 393.0h0M575.0 305.2h0M444.5 368.3h0M393.9 389.7h0M522.8 337.7h0M451.6 366.7h0M443.8 371.3h0M590.9 376.5h0M569.1 313.8h0M402.0 388.4h0M642.2 308.3h0M393.9 389.7h0M530.0 320.7h0M440.9 373.3h0M468.9 344.8h0M376.9 394.5h0M381.1 392.0h0M661.6 317.0h0M505.0 332.0h0M478.1 340.9h0M557.7 335.8h0M643.8 347.2h0M492.5 360.3h0M410.9 386.8h0M393.5 390.0h0M587.3 310.3h0M360.4 395.0h0M360.6 395.0h0M599.1 376.1h0M602.4 358.2h0M658.2 319.4h0M480.0 383.3h0M634.9 310.2h0M426.6 382.0h0M557.8 377.7h0M552.0 310.2h0M633.5 302.9h0M459.4 386.6h0M584.1 317.4h0M411.3 386.7h0M464.2 369.8h0M510.6 321.8h0M521.2 385.5h0M626.0 314.4h0M390.3 393.2h0M651.1 306.7h0M572.8 307.6h0M564.0 379.8h0M413.2 388.0h0M402.4 390.3h0M553.8 315.7h0M628.2 365.0h0M511.3 349.5h0M612.9 373.4h0M560.4 310.6h0M427.4 383.8h0M514.5 325.2h0M493.6 339.3h0M641.6 307.9h0M660.3 380.2h0M582.1 375.9h0M622.0 321.0h0M507.1 332.0h0M555.4 355.2h0M600.7 303.5h0M377.0 393.3h0M433.7 387.2h0M520.9 385.9h0M442.6 393.5h0M526.6 371.6h0M431.0 381.4h0M592.5 307.6h0M600.5 307.0h0M387.8 390.8h0M621.2 389.7h0M412.7 387.7h0M545.6 391.9h0M658.8 311.1h0M624.8 385.9h0M561.3 346.0h0M460.9 356.5h0M442.2 373.9h0M412.4 387.4h0M499.6 324.3h0M644.5 329.2h0M417.1 388.3h0M582.0 307.2h0M481.8 339.5h0M486.9 375.6h0M496.7 327.1h0M462.9 384.8h0M534.1 325.3h0M444.7 376.8h0M496.1 376.6h0M584.1 326.9h0M376.8 392.5h0M491.8 381.2h0M569.4 383.5h0M482.8 343.4h0M434.0 382.5h0M607.7 366.8h0M523.9 328.2h0M384.2 391.4h0M578.0 378.7h0M631.3 394.3h0M550.5 333.3h0M499.1 331.6h0M542.1 348.1h0M660.2 316.0h0M555.6 347.1h0M377.5 393.2h0M557.5 324.5h0M421.1 384.0h0M477.7 391.4h0M408.1 390.3h0M583.7 317.3h0M580.3 389.6h0M500.3 334.9h0M645.6 394.2h0M464.4 358.8h0M391.2 393.8h0M512.1 324.9h0M396.8 389.6h0M446.9 388.1h0M483.6 333.6h0M495.1 342.9h0M616.9 317.1h0M404.5 391.5h0M481.3 337.8h0M651.4 302.3h0M404.1 390.0h0M574.8 311.7h0M365.9 394.2h0M652.2 354.3h0M371.3 393.3h0M436.8 378.7h0M457.6 361.6h0M627.9 367.9h0M510.1 376.3h0M448.6 387.3h0M469.5 356.2h0M466.6 358.9h0M372.3 395.3h0M518.4 337.8h0M425.2 382.7h0M453.2 372.0h0M586.0 344.8h0M481.3 395.1h0M538.4 377.7h0M539.8 313.0h0M543.2 336.1h0M509.1 328.2h0M373.4 393.1h0M439.7 385.8h0M619.8 305.3h0M564.8 323.6h0M611.1 305.9h0M607.4 364.3h0M374.5 395.3h0M547.9 311.6h0M552.2 323.6h0M587.0 344.9h0M582.2 314.2h0M657.5 391.8h0M595.8 313.8h0M472.6 354.9h0M393.2 390.5h0M379.0 392.6h0M560.6 342.1h0M393.3 390.8h0M528.2 385.2h0M483.8 336.9h0M394.9 392.6h0M366.8 394.4h0M563.1 371.5h0M567.7 317.9h0M389.3 394.6h0M536.1 314.5h0M407.2 388.1h0M515.9 323.7h0M614.4 310.7h0M503.9 379.5h0M570.1 307.7h0M580.2 334.9h0M376.8 394.3h0M575.9 320.5h0M528.0 351.3h0M496.4 349.6h0M587.1 306.8h0M615.9 313.3h0M530.6 337.6h0M403.5 389.8h0M603.2 315.7h0M423.9 383.7h0M543.4 320.8h0M535.0 350.6h0M567.6 322.4h0M576.6 319.1h0M579.1 306.6h0M363.4 394.8h0M446.7 366.1h0M505.2 323.4h0M441.9 372.1h0M406.1 388.8h0M543.2 320.0h0M520.4 350.9h0M593.9 303.8h0M643.2 315.0h0M428.5 384.7h0M579.8 370.9h0M530.0 314.5h0M647.2 319.2h0M557.8 322.0h0M388.3 392.5h0M659.1 317.2h0M376.0 395.2h0M366.3 394.1h0M566.4 357.4h0M516.3 322.8h0M413.5 388.8h0M509.5 328.4h0M484.6 358.2h0M505.9 322.1h0M528.6 315.7h0M459.7 356.0h0M655.2 350.6h0M619.3 394.4h0M506.7 331.4h0M544.3 312.1h0M383.6 391.4h0M366.9 394.2h0M649.4 302.3h0M610.5 370.2h0M534.3 356.3h0M357.4 395.4h0M655.0 375.7h0M459.6 353.5h0M592.3 311.5h0M517.8 325.1h0M496.1 337.0h0M410.8 386.9h0M503.4 379.3h0M429.9 391.3h0M516.8 329.7h0M413.5 386.4h0M457.8 368.3h0M598.5 341.5h0M590.3 305.4h0M483.7 377.4h0M466.0 347.9h0M475.4 346.4h0M596.0 316.1h0M473.1 345.5h0M583.6 311.7h0M361.4 395.0h0M377.1 395.0h0M420.0 384.8h0M641.6 318.9h0M400.5 389.0h0M416.0 386.6h0M626.6 349.4h0M495.7 326.2h0M440.5 393.7h0M413.6 386.1h0M450.9 362.0h0M518.1 331.9h0M589.9 306.0h0M382.1 391.6h0M451.7 363.7h0M511.0 321.7h0M530.7 324.1h0M654.1 318.9h0M615.5 336.6h0M645.4 394.2h0M590.1 304.0h0M406.9 388.5h0M421.8 383.9h0M601.2 317.7h0M499.2 324.1h0M450.1 363.3h0M546.1 314.3h0M547.7 312.1h0M627.1 327.0h0M522.1 339.3h0M636.2 319.2h0M617.6 387.5h0M512.6 381.4h0M409.4 393.4h0M535.4 326.9h0M443.9 371.7h0M463.2 360.4h0M638.9 328.4h0M357.7 395.4h0M532.5 332.4h0M384.7 392.2h0M553.0 381.8h0M492.4 337.0h0M428.8 383.3h0M434.9 385.9h0M487.3 331.8h0M506.8 344.6h0M614.0 330.3h0M417.2 386.7h0M602.5 351.0h0M566.4 360.9h0M604.4 386.9h0M605.9 305.1h0M637.9 308.8h0M462.0 368.5h0M635.3 364.2h0M376.9 395.1h0M657.1 380.4h0M414.0 388.3h0M657.9 338.9h0M579.1 319.1h0M591.9 353.1h0M531.0 364.4h0M507.4 323.4h0M364.2 394.5h0M427.0 384.4h0M569.2 333.3h0M440.5 374.5h0M566.7 379.4h0M640.2 381.3h0M647.9 303.9h0M593.5 306.0h0M516.7 351.1h0M620.5 324.7h0M584.5 305.6h0M534.5 314.6h0M378.6 392.3h0M518.1 364.4h0M483.7 333.7h0M501.9 389.5h0M489.4 358.5h0M526.7 349.9h0M632.7 309.5h0M661.7 336.2h0M591.1 304.6h0M525.5 323.8h0M579.1 316.6h0M555.0 373.3h0M489.2 333.2h0M648.7 392.7h0M378.9 392.5h0M490.8 331.7h0M532.2 375.9h0M555.5 365.6h0M371.4 395.1h0M373.9 394.0h0M379.4 392.2h0M389.4 391.1h0M505.8 344.1h0M657.5 305.0h0M424.7 388.8h0M482.5 343.5h0M435.8 381.6h0M494.1 330.2h0M495.5 332.4h0M482.7 341.3h0M496.2 329.3h0M496.0 337.3h0M655.3 376.0h0M562.1 381.0h0M578.2 363.6h0M561.4 320.5h0M426.2 388.0h0M656.4 313.0h0M362.3 394.8h0M436.4 382.5h0M478.8 385.9h0M635.9 310.3h0M607.9 376.4h0M537.4 358.5h0M585.2 334.9h0M572.5 323.8h0M658.6 314.8h0M456.4 358.5h0M441.0 376.7h0M508.4 327.3h0M630.0 381.4h0M603.3 338.7h0M542.2 328.0h0M659.8 304.2h0M464.9 391.9h0M448.9 373.5h0M610.1 305.3h0M466.6 368.2h0M471.5 388.2h0M452.2 362.9h0M433.4 377.6h0M383.4 392.4h0M437.9 377.3h0M365.8 394.3h0M421.7 387.2h0M460.1 386.2h0M501.9 326.8h0M605.2 319.4h0M658.5 303.9h0M546.4 325.3h0M461.4 363.0h0M609.9 362.6h0M409.5 388.0h0M423.2 384.7h0M426.3 381.9h0M576.6 315.1h0M376.3 393.9h0M535.2 311.7h0M465.0 367.2h0M620.5 303.2h0M363.6 395.2h0M440.4 379.3h0M455.6 369.5h0M528.6 316.5h0M433.2 378.1h0M362.2 394.8h0M439.2 376.7h0M500.4 345.8h0M628.0 365.2h0M558.5 371.2h0M483.3 336.9h0M500.3 338.7h0M598.0 384.6h0M364.0 394.4h0M600.3 332.9h0M415.6 387.2h0M565.9 359.3h0M496.0 331.0h0M626.0 351.0h0M612.3 304.9h0M653.6 322.6h0M451.8 377.6h0M659.6 320.7h0M361.3 394.9h0M552.4 314.9h0M644.0 312.3h0M537.9 342.4h0M498.9 362.7h0M423.4 385.5h0M460.0 360.1h0M362.6 394.7h0M422.6 384.9h0M459.1 372.2h0M388.1 392.2h0M605.8 358.7h0M374.7 393.2h0M400.1 388.7h0M407.1 387.6h0M455.3 363.2h0M413.5 387.7h0M642.8 309.8h0M474.1 383.2h0M575.5 310.9h0M652.8 304.7h0M637.3 392.2h0M414.1 386.2h0M615.1 347.9h0M561.7 331.2h0M576.2 343.3h0M507.4 326.0h0M372.1 393.6h0M470.5 343.6h0M538.1 386.7h0M509.9 327.5h0M529.7 314.2h0M578.4 319.1h0M367.4 394.0h0M614.9 313.5h0M589.5 392.9h0M609.2 304.0h0M368.7 394.0h0M473.5 340.4h0M615.6 306.4h0M368.6 393.8h0M415.5 385.8h0M552.7 308.9h0M520.7 316.5h0M530.7 335.5h0M502.0 329.5h0M416.2 385.4h0M628.2 328.0h0M522.6 389.0h0M474.3 377.4h0M573.0 393.4h0M444.1 372.0h0M596.6 350.6h0M413.9 387.5h0M590.9 321.5h0M583.3 377.9h0M542.0 351.9h0M533.4 347.0h0M613.4 348.9h0M401.1 389.1h0M397.4 395.0h0M549.2 311.3h0M542.5 314.6h0M618.9 382.7h0M468.8 386.2h0M616.4 310.1h0M460.8 352.4h0M357.8 395.3h0M659.9 341.4h0M575.8 310.6h0M577.8 350.1h0M485.7 334.1h0M452.7 379.1h0M566.5 318.1h0M652.4 310.8h0M406.7 387.9h0M413.1 390.1h0M563.1 392.6h0M387.2 391.0h0M608.9 368.9h0M618.6 303.4h0M553.1 309.4h0M366.3 394.1h0M519.5 323.2h0M608.8 303.7h0M562.1 352.6h0M526.4 319.0h0M563.9 381.5h0M593.6 325.6h0M360.5 395.1h0M540.8 329.0h0M375.1 393.0h0M565.4 357.0h0M445.8 373.2h0M602.7 319.4h0M505.0 326.1h0M466.3 393.2h0M479.2 341.9h0M403.2 388.5h0M541.0 373.9h0M447.3 370.3h0M422.3 385.4h0M504.6 322.3h0M629.0 392.3h0M563.3 311.3h0M541.9 325.4h0M459.5 359.2h0M390.5 390.7h0M500.7 357.1h0M420.2 385.2h0M500.8 335.9h0M420.8 394.6h0M639.2 365.5h0M455.0 361.5h0M599.9 309.5h0M399.9 388.9h0M621.3 309.9h0M454.1 363.3h0M589.0 308.5h0M569.8 372.9h0M393.3 389.8h0M609.5 317.8h0M468.5 345.7h0M654.7 338.8h0M571.7 321.1h0M592.3 308.8h0M653.2 311.6h0M471.5 344.3h0M554.8 310.8h0M615.7 362.6h0M614.8 312.0h0M433.9 377.3h0M601.0 380.7h0M472.7 341.6h0M552.0 391.3h0M434.9 391.1h0M625.2 308.3h0M418.8 385.3h0M442.1 394.7h0M552.2 379.6h0M415.7 385.6h0M599.0 344.1h0M495.6 347.1h0M367.8 394.3h0M654.0 318.6h0M622.2 339.2h0M603.8 310.4h0M386.9 391.0h0M404.9 391.1h0M631.1 358.7h0M554.3 316.4h0M561.6 313.0h0M483.4 340.7h0M567.6 314.4h0M609.1 303.9h0M371.6 393.7h0M451.7 369.3h0M529.5 324.1h0M458.5 362.6h0M357.5 395.4h0M627.1 304.9h0M591.9 317.4h0M483.3 355.2h0M498.4 332.0h0M389.8 390.4h0M519.9 351.6h0M658.6 377.0h0M405.7 387.9h0M411.6 388.2h0M643.3 303.0h0M407.4 388.8h0M635.0 338.9h0M464.8 353.3h0M577.0 374.2h0M496.7 345.1h0M496.1 360.9h0M456.8 371.2h0M371.0 393.5h0M367.1 394.0h0M644.9 393.9h0M453.9 360.1h0M399.1 389.3h0M473.7 340.4h0M361.8 395.2h0M578.2 391.4h0M414.9 387.0h0M582.2 309.5h0M465.6 352.3h0M437.1 376.7h0M540.7 350.0h0M409.4 393.7h0M602.9 305.9h0M492.2 362.4h0M419.4 386.0h0M512.9 320.5h0M446.5 371.4h0M538.9 391.9h0M432.1 389.6h0M426.6 381.5h0M483.1 349.7h0M529.7 313.0h0M563.1 312.1h0M472.5 341.3h0M447.7 365.0h0M366.2 394.7h0M625.5 307.7h0M517.7 317.1h0M597.0 324.4h0M462.1 373.1h0M599.1 352.1h0M578.8 373.0h0M520.0 332.9h0M607.3 392.9h0M586.8 320.6h0M634.5 308.1h0M471.8 387.4h0M529.1 323.6h0M506.5 380.5h0M626.9 304.3h0M581.1 357.8h0M441.2 374.2h0M580.5 320.9h0M518.3 321.4h0M460.4 359.8h0M642.5 307.4h0M440.7 392.8h0M459.0 356.6h0M490.1 330.5h0M641.6 355.2h0M426.9 382.1h0M553.6 333.4h0M660.0 302.2h0M384.9 391.7h0M613.9 304.8h0M431.2 380.6h0M437.6 378.6h0M653.8 372.5h0M585.2 370.7h0M440.0 376.1h0M456.2 371.6h0M653.6 304.0h0M650.4 350.6h0M614.0 355.6h0M530.2 322.9h0M612.4 393.3h0M375.9 394.0h0M630.0 373.8h0M563.4 361.8h0M469.4 365.7h0M632.0 356.5h0M498.3 328.5h0M565.0 342.0h0M358.3 395.2h0M426.4 382.2h0M569.4 362.6h0M363.5 394.9h0M580.6 330.9h0M460.8 356.9h0M373.7 393.2h0M561.1 314.3h0M650.2 347.4h0M497.5 331.3h0M552.1 365.7h0M468.1 352.8h0M547.9 366.7h0M617.5 347.4h0M498.3 376.2h0M360.6 394.9h0M660.2 304.6h0M568.1 308.5h0M477.8 341.8h0M486.3 379.0h0M655.6 309.0h0M426.3 382.0h0M630.6 308.4h0M517.2 322.7h0M377.2 392.5h0M606.2 361.5h0M538.8 359.5h0M374.1 393.2h0M613.6 357.8h0M405.4 389.1h0M541.8 326.3h0M513.0 333.3h0M474.7 345.2h0M436.5 376.0h0M542.6 318.8h0M633.6 352.3h0M638.5 316.0h0M384.6 392.9h0M387.5 394.8h0M576.2 345.6h0M599.4 318.5h0M607.1 326.1h0M365.7 395.4h0M517.8 362.6h0M392.8 391.5h0M457.7 372.2h0M483.5 353.1h0M444.9 385.7h0M592.7 304.9h0M357.6 395.4h0M657.0 341.5h0M407.1 388.2h0M547.1 381.1h0M428.4 380.6h0M365.9 394.5h0M469.6 380.2h0M609.7 340.3h0M366.2 394.2h0M372.6 394.9h0M567.0 360.2h0M431.9 381.7h0M636.8 369.2h0M372.9 393.5h0M377.7 392.3h0M626.0 303.0h0M465.9 350.1h0M545.3 390.7h0M520.3 320.1h0M603.9 316.7h0M431.7 380.9h0M358.3 395.3h0M575.4 361.8h0M425.5 382.9h0M443.1 380.2h0M569.0 305.9h0M394.0 390.5h0M626.2 320.7h0M409.1 387.6h0M420.9 384.1h0M382.7 393.0h0M502.6 329.7h0M399.0 389.4h0M553.7 355.4h0M399.1 388.9h0M507.2 332.6h0M565.3 371.7h0M635.7 355.2h0M603.2 306.6h0M374.4 394.2h0M658.3 307.1h0M621.7 358.7h0M626.6 382.2h0M545.5 318.4h0M648.0 338.1h0M531.0 317.5h0M381.7 392.2h0M582.9 373.2h0M491.9 337.0h0M531.2 313.4h0M497.2 325.5h0M381.4 393.2h0M609.8 308.6h0M526.2 316.1h0M613.5 317.6h0M550.3 309.6h0M488.9 349.7h0M537.7 311.1h0M527.8 328.1h0M420.3 384.2h0M366.0 394.3h0M404.1 388.6h0M432.4 378.8h0M585.3 312.4h0M445.6 388.1h0M622.6 352.2h0M462.7 369.3h0M435.7 389.4h0M391.8 390.5h0M431.1 381.2h0M400.5 393.5h0M468.1 355.3h0M612.0 366.2h0M642.7 319.8h0" stroke="#1a74c0" stroke-opacity="0.80" stroke-width="3.3" stroke-linecap="round" fill="none"/>
<path d="M624.6 350.1h0M600.4 353.1h0M643.7 359.2h0M469.2 378.4h0M553.2 361.8h0M450.5 387.7h0M462.4 387.8h0M512.6 358.8h0M439.9 363.1h0M521.4 393.1h0M468.0 363.0h0M432.7 365.5h0M599.2 379.5h0M483.8 360.6h0M555.1 352.5h0M570.1 357.9h0M440.0 363.1h0M628.2 393.8h0M496.0 384.0h0M621.9 355.9h0M556.5 361.8h0M548.9 359.4h0M383.4 384.5h0M573.2 351.1h0M621.5 380.5h0M645.4 388.6h0M635.0 353.5h0M451.0 364.5h0M391.5 391.0h0M584.4 360.6h0M552.7 360.1h0M553.1 385.4h0M614.0 371.7h0M659.7 360.0h0M436.0 373.8h0M466.7 357.6h0M574.9 380.6h0M607.2 372.0h0M554.0 381.7h0M391.5 385.9h0M572.8 380.7h0M437.4 388.5h0M466.8 367.8h0M415.4 381.8h0M542.2 358.5h0M553.8 352.6h0M570.4 356.3h0M470.6 357.4h0M586.7 380.3h0M458.0 373.2h0M588.3 360.8h0M593.7 388.4h0M518.9 354.5h0M609.5 352.3h0M491.7 386.5h0M513.2 392.3h0M553.4 354.4h0M486.1 375.3h0M479.1 358.6h0M435.4 372.2h0M495.0 354.3h0M611.0 353.0h0M625.9 368.0h0M401.4 379.1h0M377.9 386.7h0M529.8 362.4h0M452.1 366.0h0M659.4 393.8h0M379.5 387.7h0M652.8 357.4h0M582.6 360.4h0M483.4 363.1h0M548.1 391.5h0M569.0 359.7h0M607.7 364.1h0M656.9 361.0h0M497.1 364.1h0M399.2 378.7h0M660.7 352.1h0M378.9 390.9h0M493.9 363.1h0M662.3 384.0h0M588.2 355.4h0M536.5 360.0h0M454.4 366.7h0M570.7 351.8h0M615.6 381.9h0M580.4 355.4h0M426.4 366.6h0M587.2 358.1h0M436.3 384.8h0M519.5 354.0h0M445.3 392.7h0M440.5 391.4h0M624.2 382.9h0M590.7 351.0h0M535.2 361.1h0M469.3 379.1h0M510.7 361.7h0M442.9 362.1h0M508.7 365.6h0M594.0 354.4h0M440.5 382.5h0M610.8 358.6h0M434.8 368.6h0M496.0 356.0h0M450.6 366.0h0M381.3 385.3h0M524.0 357.9h0M623.3 360.9h0M525.2 386.7h0M460.5 360.9h0M548.4 354.0h0M417.2 375.0h0M519.5 387.7h0M658.7 358.7h0M390.4 386.8h0M524.2 368.4h0M589.4 353.5h0M471.6 376.9h0M416.3 369.8h0M395.4 377.9h0M561.5 357.5h0M535.1 360.3h0M468.1 357.5h0M461.6 375.4h0M596.4 380.7h0M495.6 380.1h0M540.6 355.5h0M419.0 379.7h0M641.2 353.9h0M521.3 361.3h0M420.3 392.8h0M617.2 352.8h0M443.4 370.6h0M548.5 359.9h0M529.0 354.5h0M499.3 375.0h0M638.9 374.4h0M499.4 360.5h0M580.1 369.5h0M581.7 355.7h0M587.3 357.4h0M456.4 360.0h0M568.5 384.1h0M444.1 366.1h0M636.9 360.4h0M621.7 350.2h0M662.0 358.5h0M629.2 350.0h0M630.5 374.5h0M579.0 360.9h0M566.1 362.7h0M497.0 359.1h0M630.0 368.4h0M454.5 361.5h0M480.6 357.4h0M470.7 363.9h0M647.7 353.2h0M512.8 353.6h0M550.3 353.5h0M615.4 367.4h0M577.7 353.4h0M655.4 358.2h0M381.8 391.6h0M424.1 368.5h0M617.1 370.1h0M549.9 367.0h0M404.5 389.8h0M528.4 384.4h0M486.2 366.9h0M481.1 360.3h0M645.7 359.9h0M551.8 375.4h0M576.3 352.9h0M575.9 356.2h0M658.4 362.9h0M553.7 361.8h0M503.0 357.7h0M512.8 357.1h0M402.7 383.3h0M475.3 370.2h0M505.6 373.7h0M644.1 362.0h0M435.6 364.2h0M617.3 353.1h0M368.4 390.4h0M585.5 368.5h0M596.6 357.9h0M433.3 374.4h0M401.1 376.5h0M408.5 377.8h0M636.1 364.3h0M562.5 373.1h0M563.6 359.5h0M549.0 356.7h0M591.3 357.4h0M591.3 350.1h0M420.9 371.3h0M404.5 378.2h0M520.0 377.3h0M532.3 353.0h0M557.3 352.4h0M476.4 356.6h0M453.6 368.2h0M558.0 350.8h0M578.7 361.4h0M636.7 360.8h0M575.8 355.7h0M479.8 377.1h0M407.9 386.4h0M439.5 389.6h0M564.5 351.9h0M651.7 391.5h0M638.5 356.8h0M607.1 353.6h0M438.9 364.2h0M556.2 351.7h0M542.1 354.3h0M659.2 351.9h0M626.7 352.1h0M544.3 355.4h0M382.0 394.1h0M476.2 362.8h0M453.7 393.4h0M554.2 360.9h0M446.0 368.6h0M398.0 385.0h0M476.7 360.8h0M384.0 383.3h0M502.3 360.8h0M513.0 368.0h0M591.7 367.7h0M587.5 390.3h0M622.5 392.5h0M599.8 352.1h0M513.5 356.3h0M645.4 372.5h0M517.5 356.1h0M524.9 368.8h0M550.3 354.1h0M465.7 393.7h0M454.3 366.8h0M581.7 351.5h0M582.1 364.4h0M592.7 393.1h0M612.9 385.4h0M503.8 354.0h0M618.3 386.0h0M632.5 383.8h0M641.5 353.1h0M638.1 351.7h0M615.5 353.9h0M611.4 374.6h0M512.2 352.8h0M570.5 353.2h0M443.9 369.8h0M455.3 371.8h0M555.9 374.4h0M376.7 388.6h0M635.5 363.9h0M434.9 380.5h0M653.8 389.5h0M394.2 380.8h0M534.3 378.5h0M561.4 353.0h0M597.5 351.4h0M576.0 352.8h0M634.1 394.7h0M433.3 377.1h0M623.2 357.0h0M402.4 392.7h0M532.8 352.1h0M613.3 379.1h0M573.3 370.7h0M562.0 354.9h0M604.9 351.0h0M645.1 388.4h0M537.4 359.3h0M640.9 349.9h0M631.2 377.3h0M563.4 354.9h0M572.8 354.2h0M498.6 374.2h0M659.2 352.9h0M655.0 358.5h0M417.7 377.5h0M405.1 379.3h0M493.7 376.6h0M432.1 371.8h0M572.8 358.0h0M623.1 374.5h0M547.3 351.7h0M644.5 354.0h0M626.9 360.2h0M380.0 389.8h0M572.5 354.4h0M618.9 361.2h0M391.7 388.7h0M381.3 383.7h0M655.4 361.1h0M598.7 356.9h0M449.7 366.6h0M450.5 360.2h0M485.7 356.0h0M412.2 392.5h0M647.3 353.9h0M399.1 390.6h0M404.2 375.4h0M642.9 366.7h0M402.9 378.8h0M462.9 387.5h0M531.7 357.8h0M464.3 383.6h0M377.0 387.4h0M522.0 364.9h0M465.7 361.3h0M602.0 372.0h0M565.0 361.2h0M573.6 376.1h0M557.6 369.3h0M604.3 358.9h0M484.8 387.6h0M509.7 393.2h0M444.2 371.7h0M585.7 361.2h0M563.8 356.7h0M473.5 361.2h0M656.5 359.2h0M569.2 356.6h0M659.8 379.1h0M639.8 352.4h0M626.0 371.5h0M544.6 360.5h0M423.4 384.1h0M519.9 379.4h0M565.3 360.3h0M415.3 372.8h0M610.8 384.5h0M554.7 359.1h0M611.1 355.0h0M409.8 377.9h0M397.5 378.4h0M440.9 384.4h0M377.4 387.5h0M445.6 378.5h0M406.7 386.6h0M424.8 368.8h0M525.9 367.9h0M406.1 378.0h0M515.7 356.3h0M561.7 383.0h0M451.9 360.3h0M655.7 357.0h0M476.3 358.7h0M661.4 355.0h0M408.1 392.5h0M621.2 352.6h0M389.8 380.4h0M497.5 361.4h0M457.7 359.8h0M627.9 358.7h0M611.4 366.9h0M415.9 379.1h0M532.5 385.1h0M501.7 357.1h0M660.3 380.7h0M514.8 373.2h0M405.3 374.7h0M501.7 357.2h0M540.3 352.1h0M373.5 387.6h0M482.5 356.7h0M634.2 366.2h0M562.3 369.8h0M549.9 354.7h0M655.2 370.3h0M409.4 393.7h0M528.7 356.0h0M454.9 363.2h0M420.6 374.6h0M413.9 383.5h0M452.0 379.9h0M499.3 355.4h0M647.6 372.9h0M560.5 352.4h0M629.4 378.1h0M629.5 354.9h0M610.3 380.0h0M658.3 352.8h0M540.3 369.2h0M527.5 381.9h0M518.5 356.3h0M465.4 361.9h0M469.6 358.8h0M458.9 362.1h0M533.4 352.8h0M549.7 375.8h0M465.6 387.5h0M553.5 370.2h0M477.3 379.7h0M581.0 358.0h0M607.6 353.0h0M580.8 354.4h0M520.0 352.9h0M392.8 388.9h0M387.7 394.0h0M493.7 365.4h0M454.1 377.3h0M619.7 357.3h0M652.0 356.2h0M560.7 366.4h0M467.7 362.4h0M436.5 364.5h0M442.4 367.5h0M537.5 378.3h0M603.7 361.3h0M643.1 354.0h0M529.4 367.4h0M586.6 357.5h0M619.9 353.0h0M464.8 389.1h0M451.8 366.0h0M599.7 386.4h0M495.3 364.2h0M525.6 382.2h0M472.1 360.3h0M585.3 378.1h0M423.7 372.6h0M440.4 367.0h0M437.8 369.7h0M390.2 386.6h0M512.1 394.0h0M601.7 392.6h0M473.9 385.6h0M429.4 365.5h0M659.7 351.2h0M374.0 392.2h0M653.0 384.7h0M507.7 386.6h0M396.6 388.7h0M387.8 381.0h0M528.8 357.8h0M622.6 360.3h0M652.2 356.3h0M652.0 361.1h0M536.6 389.4h0M507.3 384.4h0M655.5 356.2h0M608.7 357.9h0M597.3 378.3h0M491.1 374.7h0M529.0 360.9h0M428.9 366.4h0M541.4 361.5h0M450.0 367.3h0M474.2 358.5h0M590.2 360.8h0M433.1 378.3h0M489.6 355.5h0M538.0 376.5h0M658.8 376.1h0M498.9 354.6h0M528.8 359.4h0M404.9 378.5h0M497.3 358.1h0M473.4 363.9h0M480.1 395.3h0M558.6 353.0h0M445.7 364.1h0M482.6 358.6h0M492.8 364.0h0M377.5 389.4h0M566.0 358.6h0M516.7 362.1h0M450.4 362.3h0M438.0 369.2h0M493.2 387.7h0M541.5 369.8h0M632.7 357.2h0M532.6 361.7h0M593.7 383.2h0M576.9 360.3h0M440.9 394.5h0M655.6 381.6h0M563.7 356.8h0M610.8 350.6h0M578.5 369.7h0M431.8 371.5h0M656.3 384.3h0M569.9 354.1h0M611.8 394.3h0M609.0 361.9h0M430.4 371.7h0M449.3 364.6h0M438.1 364.2h0M452.0 363.5h0M490.8 356.1h0M509.6 355.9h0M391.0 392.7h0M528.0 359.2h0M656.2 389.7h0M446.5 368.6h0M407.0 377.2h0M622.4 354.6h0M494.7 373.0h0M590.5 359.7h0M562.9 355.3h0M458.4 392.7h0M509.1 359.3h0M414.5 390.8h0M472.6 357.1h0M662.2 360.0h0M585.4 366.4h0M549.3 357.1h0M488.4 360.5h0M612.5 353.5h0M564.4 356.8h0M435.6 370.4h0M501.8 362.7h0M518.9 359.4h0M514.8 361.6h0M451.3 364.7h0M463.8 362.0h0M645.8 373.0h0M621.8 353.1h0M382.0 385.6h0M592.0 363.7h0M450.4 366.4h0M461.0 386.4h0M459.4 388.4h0M372.8 390.3h0M640.5 353.3h0M420.6 372.5h0M432.1 372.9h0M568.4 368.8h0M451.4 361.4h0M538.7 361.0h0M477.1 362.2h0M579.8 372.7h0M642.3 352.4h0M612.8 354.8h0M450.2 379.7h0M525.7 353.8h0M560.5 377.1h0M423.9 376.3h0M549.6 353.2h0M604.8 352.4h0M553.5 383.8h0M486.0 357.5h0M471.4 357.6h0M551.6 359.8h0M595.3 353.6h0M417.0 370.8h0M406.7 394.6h0M441.0 365.7h0M428.8 366.3h0M630.2 356.3h0M497.0 360.3h0M648.3 354.5h0M592.5 365.0h0M473.5 358.5h0M552.6 367.0h0M562.4 359.0h0M655.4 364.0h0M544.8 361.1h0M403.5 375.4h0M555.9 353.1h0M500.7 365.1h0M568.5 376.2h0M474.7 358.5h0M590.6 356.8h0M380.4 391.9h0M584.2 357.8h0M445.1 388.3h0M621.0 367.6h0M549.6 372.7h0M441.5 368.7h0M535.2 383.9h0M459.0 364.7h0M617.3 352.1h0M517.7 360.4h0M463.1 361.6h0M628.6 388.1h0M427.8 370.7h0M577.2 353.5h0M626.8 358.2h0M621.1 378.2h0M599.0 367.8h0M568.9 353.2h0M656.3 370.6h0M422.1 381.9h0M583.8 381.9h0M447.9 373.9h0M606.6 355.0h0M419.4 370.7h0M471.7 389.7h0M539.9 361.0h0M414.6 385.8h0M496.6 360.3h0M402.5 383.1h0M471.8 366.4h0M399.7 377.7h0M613.7 377.1h0M423.9 368.9h0M583.7 358.7h0M616.1 363.9h0M631.6 358.8h0M555.3 356.6h0M430.4 369.5h0M493.5 354.0h0M520.8 375.2h0M453.0 365.0h0M382.5 388.3h0M498.4 388.0h0M398.7 380.2h0M574.5 384.3h0M430.9 373.3h0M526.2 390.3h0M650.2 354.2h0M615.4 376.0h0M522.9 371.8h0M420.2 384.5h0M369.2 390.0h0M622.4 378.9h0M493.8 392.0h0M517.9 360.3h0M585.2 351.5h0M565.0 366.4h0M450.1 383.9h0M640.8 388.8h0M575.9 359.3h0M430.0 390.8h0M516.1 356.2h0M511.0 388.8h0M543.9 358.9h0M387.1 395.3h0M609.6 360.0h0M524.3 361.1h0M404.3 383.8h0M439.1 382.0h0M427.5 380.8h0M422.7 387.5h0M554.9 358.8h0M562.7 354.4h0M603.8 358.8h0M629.3 359.7h0M516.0 390.0h0M477.6 363.7h0M610.3 359.3h0M517.2 377.5h0M376.1 387.1h0M535.8 375.8h0M465.2 361.6h0M482.3 358.3h0M651.3 373.5h0M459.3 380.9h0M568.2 357.5h0M605.8 352.5h0M554.5 355.3h0M617.2 370.4h0M611.0 387.9h0M503.4 360.3h0M609.2 391.6h0M510.1 360.0h0M602.3 358.1h0M393.1 379.4h0M453.4 361.6h0M605.8 373.3h0M509.2 361.2h0M541.9 371.7h0M459.7 359.5h0M593.9 375.3h0M656.7 353.8h0M455.4 361.5h0M539.5 356.5h0M622.8 356.8h0M539.5 367.0h0M646.0 352.0h0M450.6 389.8h0M476.5 391.7h0M589.8 352.7h0M649.6 383.1h0M425.0 392.3h0M649.6 353.4h0M395.6 384.3h0M423.1 379.4h0M619.2 354.9h0M519.6 359.1h0M510.7 382.4h0M430.9 369.7h0M641.5 380.6h0M449.7 361.2h0M619.2 354.1h0M446.7 387.0h0M651.4 360.3h0M511.4 358.0h0M460.2 374.2h0M548.5 364.2h0M623.6 353.3h0M452.1 384.0h0M637.9 354.2h0M510.0 360.3h0M534.4 377.3h0M623.0 374.4h0M647.5 382.6h0M550.2 382.7h0M630.8 359.2h0M502.2 357.7h0M502.8 359.8h0M554.3 361.0h0M513.9 383.3h0M596.9 386.6h0M648.1 351.3h0M594.8 359.2h0M515.9 362.9h0M632.3 351.1h0M531.1 360.3h0M491.6 355.1h0M471.3 359.2h0M451.7 366.3h0M421.6 376.2h0M380.3 386.5h0M462.4 358.6h0M632.3 356.7h0M559.4 372.8h0M523.0 361.1h0M413.6 381.6h0M513.1 376.0h0M654.9 360.2h0M377.6 394.0h0M475.9 364.9h0M425.1 371.8h0M533.2 351.5h0M614.7 353.6h0M549.6 351.7h0M625.8 365.5h0M591.9 358.0h0M438.7 366.1h0M654.0 359.0h0M477.8 360.1h0M660.0 366.0h0M437.6 386.8h0M422.9 379.2h0M525.9 361.9h0M585.6 375.1h0M531.2 389.6h0M379.1 390.9h0M624.4 363.1h0M556.5 357.3h0M580.3 355.5h0M401.5 385.3h0M453.9 365.7h0M453.9 364.7h0M651.1 358.9h0M564.7 394.3h0M507.6 363.0h0M659.6 366.1h0M607.7 361.2h0M504.7 353.2h0M405.9 389.8h0M537.3 361.7h0M520.4 358.3h0M449.2 365.5h0M587.1 393.0h0M462.1 366.1h0M567.5 356.9h0M478.3 366.3h0M633.6 351.3h0M611.2 359.6h0M606.1 367.1h0M574.5 353.5h0M420.7 371.6h0M398.5 391.4h0M444.2 361.9h0M571.5 385.0h0M515.6 390.8h0M502.5 355.6h0M431.4 383.2h0M659.1 357.8h0M498.4 391.6h0M658.6 358.2h0M486.3 360.2h0M422.8 387.8h0M393.2 384.5h0M574.0 391.8h0M639.8 359.8h0M371.2 393.6h0M634.2 354.3h0M451.0 389.5h0M527.0 377.0h0M456.5 386.5h0M595.9 382.2h0M393.5 395.0h0M626.2 366.2h0M542.7 376.8h0M547.3 356.8h0M478.1 360.1h0M392.9 385.8h0M627.7 350.3h0M610.4 354.6h0M488.0 361.7h0M598.9 359.4h0M574.8 395.2h0M623.8 382.2h0M623.9 359.5h0M622.3 389.2h0M446.4 385.2h0M503.0 356.4h0M435.6 369.8h0M554.9 361.5h0M442.5 369.3h0M620.6 356.4h0M648.9 353.3h0M623.7 374.5h0M591.6 357.2h0M562.4 360.0h0M644.0 354.7h0M443.3 365.9h0M369.8 389.8h0M656.6 369.3h0M417.6 370.4h0M482.0 361.6h0M524.1 359.7h0M440.6 385.9h0M399.2 378.6h0M601.3 351.3h0M540.0 358.2h0M628.0 353.6h0M620.8 362.1h0M489.9 391.4h0M659.7 391.1h0M437.9 364.8h0M412.7 373.6h0M580.5 355.0h0M440.4 369.8h0M462.9 359.3h0M504.8 384.2h0M539.6 358.2h0M428.6 394.1h0M657.3 377.2h0M456.2 375.6h0M554.2 354.9h0M527.3 384.1h0M393.0 390.7h0M388.2 387.4h0M516.3 359.9h0M393.3 385.9h0M462.2 380.5h0M524.4 370.5h0M458.8 358.9h0M621.8 350.7h0M644.7 350.7h0M514.3 376.9h0M614.8 363.0h0M634.2 389.8h0M583.2 359.4h0M637.9 361.5h0M392.8 383.5h0M643.1 352.0h0M604.4 372.4h0M655.7 359.7h0M417.9 376.8h0M393.9 389.0h0M613.1 381.1h0M611.9 358.2h0M410.9 393.0h0M522.4 357.8h0M630.7 358.0h0M395.9 386.7h0M595.5 394.7h0M629.4 350.2h0M568.2 352.0h0M614.9 358.6h0M636.2 378.2h0M577.0 361.6h0M568.0 358.7h0M563.0 372.3h0M388.0 385.9h0M433.2 380.8h0M428.7 380.2h0M641.6 388.8h0M506.1 395.4h0M591.1 381.4h0M375.9 391.8h0M579.9 352.2h0M594.4 356.8h0M500.5 357.7h0M491.5 357.2h0M555.2 356.8h0M416.5 394.2h0M603.0 387.1h0M515.0 370.3h0M395.2 388.2h0M563.8 390.2h0M547.4 375.6h0M445.6 389.8h0M582.4 360.1h0M462.0 359.8h0M595.9 355.2h0M540.7 377.0h0M546.1 360.7h0M515.7 389.2h0M540.1 362.1h0M403.4 393.0h0M448.6 391.9h0M572.0 359.5h0M491.8 379.0h0M585.8 385.0h0M584.2 381.6h0M393.2 385.7h0M566.1 377.8h0M615.6 381.6h0M458.3 363.2h0M632.5 368.9h0M535.1 393.7h0M591.0 367.6h0M627.6 355.7h0M650.9 356.8h0M472.5 368.8h0M427.5 368.4h0M521.2 354.2h0M550.6 356.0h0M649.2 354.8h0M469.2 385.1h0M391.1 386.0h0M514.8 383.9h0M576.4 393.4h0M534.1 355.7h0M466.7 383.4h0M658.5 353.1h0M573.3 352.3h0M489.6 360.7h0M560.5 357.0h0M658.3 351.0h0M388.2 381.1h0M648.4 382.2h0M502.1 357.9h0M606.9 355.9h0M452.9 366.2h0M605.5 360.2h0M376.1 393.6h0M584.8 366.0h0M396.2 381.0h0M575.8 373.3h0M562.4 360.4h0M478.0 363.0h0M500.9 354.4h0M653.3 371.3h0M436.4 382.2h0M443.6 381.4h0M573.9 361.6h0M624.8 355.0h0M597.6 360.2h0M655.0 353.4h0M654.9 358.1h0M614.5 355.4h0M488.3 390.7h0M581.3 357.1h0M529.6 352.2h0M619.7 375.5h0M560.9 359.0h0M656.8 386.4h0M550.3 354.8h0M485.7 361.9h0M564.3 366.3h0M457.4 362.8h0M544.5 375.2h0M489.9 357.6h0M451.1 381.2h0M394.0 385.3h0M646.2 350.2h0M506.3 383.1h0M578.3 357.9h0M374.7 393.2h0M505.0 389.2h0M403.8 377.4h0M554.5 372.4h0M574.6 387.1h0M496.4 386.7h0M416.5 369.7h0M617.7 353.7h0M659.6 366.0h0M405.6 378.0h0M499.3 386.4h0M585.1 388.5h0M423.7 382.5h0M547.2 384.6h0M446.1 385.8h0M370.7 392.2h0M576.5 390.5h0M520.0 353.0h0M628.5 351.5h0M597.3 370.1h0M542.8 360.8h0M526.5 377.1h0M463.9 367.4h0M532.7 352.5h0M571.4 359.9h0M525.4 381.1h0M640.3 361.1h0M399.2 388.4h0M647.9 360.3h0M548.9 380.2h0M502.4 391.5h0M475.8 357.7h0M465.1 362.8h0M514.5 353.9h0M562.4 354.6h0M653.6 359.6h0M516.0 382.0h0M600.1 353.6h0M521.1 361.0h0M367.5 390.7h0M607.7 352.5h0M512.2 355.1h0M492.8 392.0h0M588.6 357.3h0M374.8 387.3h0M398.4 378.4h0M482.0 394.9h0M442.0 364.9h0M464.2 358.3h0M443.0 362.9h0M623.4 350.9h0M630.3 352.4h0M390.5 387.3h0M557.9 356.4h0M639.0 368.7h0M588.2 359.9h0M541.1 354.9h0M649.9 351.1h0M659.1 356.3h0M497.7 357.0h0M646.5 361.2h0M566.9 360.7h0M642.8 350.3h0M595.4 359.9h0M533.0 380.7h0M551.3 351.1h0M545.9 364.0h0M527.1 392.1h0M452.3 360.0h0M409.5 382.9h0M577.4 360.6h0M643.9 352.0h0M492.9 358.1h0M585.0 354.1h0M567.1 364.3h0M405.4 388.9h0M416.1 376.9h0M599.9 356.2h0M574.0 373.5h0M498.1 369.1h0M426.5 379.1h0M604.3 360.9h0M594.8 370.2h0M438.4 383.4h0M530.0 351.9h0M661.8 353.1h0M509.6 378.3h0M476.0 368.8h0M632.7 390.3h0M639.1 388.7h0M619.0 356.1h0M646.1 357.0h0M608.7 365.8h0M634.8 375.2h0M649.7 350.9h0M641.7 358.8h0M635.3 362.2h0M486.8 377.0h0M616.2 354.9h0M607.9 358.9h0M551.0 363.3h0M462.0 370.5h0M496.2 355.9h0M386.6 392.8h0M384.4 393.5h0M453.8 362.3h0M415.7 373.3h0M501.6 383.3h0M576.5 355.2h0M465.0 367.0h0M466.6 363.2h0M396.0 390.2h0M448.9 363.4h0M482.0 377.7h0M638.5 354.3h0M517.7 358.5h0M662.2 357.5h0M620.2 387.7h0M662.1 360.2h0M529.5 357.5h0M477.9 364.6h0M638.8 363.5h0M580.0 359.0h0M565.0 358.2h0M635.4 355.1h0M431.9 392.1h0M630.9 367.7h0M620.7 355.1h0M387.2 387.7h0M559.4 377.0h0M427.1 390.4h0M600.9 381.4h0M603.3 352.3h0M402.5 377.5h0M591.6 351.5h0M370.9 391.6h0M540.9 353.6h0M468.9 374.3h0M514.6 362.4h0M614.0 378.7h0M462.4 366.5h0M469.6 389.0h0M458.6 360.2h0M424.9 394.9h0M563.5 386.8h0M599.3 356.3h0M634.8 388.5h0M489.4 363.5h0M460.2 362.5h0M490.0 393.8h0M455.5 360.2h0M540.1 354.2h0M559.5 357.8h0M431.1 375.0h0M649.7 381.2h0M407.9 385.9h0M483.3 366.7h0M564.5 360.0h0M579.1 363.4h0M578.1 354.2h0M646.7 360.2h0M467.3 358.4h0M573.6 394.5h0M507.1 358.9h0M657.3 360.3h0M644.5 359.9h0M591.8 351.8h0M566.8 379.2h0M606.7 387.5h0M590.3 352.1h0M524.9 361.4h0M387.1 381.1h0M636.2 350.3h0M390.9 386.8h0M435.5 368.6h0M521.7 355.6h0M628.3 375.2h0M376.0 388.5h0M389.3 388.9h0M660.2 352.5h0M513.6 358.2h0M409.1 386.6h0M440.4 374.8h0M593.9 382.7h0M472.9 362.5h0M481.3 363.5h0M424.3 384.3h0M582.3 381.8h0M633.4 355.9h0M523.6 363.9h0M605.9 357.9h0M632.6 371.4h0M526.5 358.4h0M468.1 366.0h0M475.9 362.5h0M564.1 387.7h0M467.7 358.5h0M507.0 359.1h0M447.3 387.0h0M523.6 354.5h0M617.6 370.4h0M635.4 353.2h0M582.6 355.3h0M516.4 355.3h0M467.5 380.2h0M554.9 358.8h0M633.2 356.3h0M526.7 361.6h0M447.4 367.3h0M411.2 383.6h0M394.1 392.6h0M588.9 373.8h0M552.3 357.5h0M655.1 356.5h0M375.9 394.6h0M516.4 358.2h0M464.2 362.6h0M617.8 373.9h0M462.2 359.1h0M632.1 386.9h0M641.3 366.1h0M571.3 383.3h0M495.7 367.3h0M594.7 352.3h0M582.6 361.3h0M652.2 350.5h0M635.1 391.7h0M613.5 385.3h0M417.3 389.4h0M392.6 388.5h0M480.2 360.0h0M624.8 355.3h0M648.0 393.2h0M555.0 352.5h0M630.3 350.0h0M376.9 386.5h0M501.2 363.0h0M527.1 392.3h0M527.6 362.4h0M637.9 353.8h0M655.9 374.5h0M565.6 356.6h0M409.8 373.4h0M383.9 389.2h0M562.7 368.8h0M407.6 389.9h0M615.8 351.1h0M580.0 359.8h0M397.6 393.1h0M522.1 353.8h0M523.8 359.8h0M508.7 355.6h0M586.8 358.2h0M419.0 379.3h0M370.9 389.5h0M518.7 356.3h0M493.1 358.6h0M428.8 366.0h0M428.5 368.7h0M429.8 369.6h0M554.2 358.7h0M545.2 360.6h0M555.1 356.4h0M392.1 380.4h0M506.4 393.1h0M520.2 355.5h0M525.5 352.7h0M417.6 387.3h0M564.2 382.9h0M446.6 364.8h0M512.0 363.9h0M501.6 359.1h0M491.3 378.2h0M453.6 365.8h0M454.6 387.9h0M606.8 361.3h0M639.7 360.2h0M523.5 355.4h0M380.4 384.9h0M546.9 384.1h0M401.8 374.7h0M450.1 378.6h0M468.8 361.2h0M462.0 362.3h0M513.9 374.8h0M390.3 383.5h0M543.9 352.7h0M478.4 359.7h0M651.6 367.3h0M600.0 355.2h0M451.7 366.6h0M552.5 382.2h0M611.5 355.2h0M549.9 355.2h0M593.8 361.1h0M589.3 373.8h0M539.7 352.4h0M413.5 371.7h0M500.3 354.5h0M582.3 354.5h0M448.6 393.2h0M644.8 354.8h0M468.8 357.6h0M418.5 370.3h0M483.3 358.3h0M539.4 374.7h0M623.8 354.2h0M456.7 363.4h0M658.6 374.2h0M474.4 368.7h0M655.6 390.5h0M637.0 353.4h0M481.0 359.2h0M452.0 383.6h0M543.6 391.8h0M414.0 388.6h0M653.5 371.2h0M662.1 350.2h0M440.9 367.5h0M491.3 376.5h0M562.0 360.0h0M553.4 352.7h0M513.3 352.8h0M633.1 394.0h0M532.7 370.7h0M575.1 367.8h0" stroke="#da561e" stroke-opacity="0.80" stroke-width="3.3" stroke-linecap="round" fill="none"/>
<path d="M456.1 360.0h0M432.6 380.4h0M577.1 304.9h0M469.2 347.9h0M524.2 328.9h0M526.0 368.4h0M525.9 314.6h0M491.4 349.5h0M446.7 372.3h0M495.8 335.2h0M383.2 391.5h0M419.2 384.6h0M517.0 324.7h0M540.4 330.2h0M544.2 314.5h0M567.4 316.8h0M535.9 365.5h0M524.8 381.4h0M470.9 349.0h0M576.8 321.7h0M657.0 302.4h0M546.9 309.3h0M362.5 394.7h0M545.2 374.3h0M583.7 319.3h0M524.6 368.3h0M384.8 392.4h0M487.8 372.1h0M408.0 389.6h0M407.7 394.0h0M574.7 311.4h0M661.5 316.8h0M359.0 395.2h0M494.1 343.3h0M407.2 387.9h0M622.7 309.6h0M501.1 329.9h0M540.2 326.2h0M540.0 316.9h0M622.0 312.0h0M506.1 321.9h0M428.0 384.6h0M540.8 318.2h0M501.7 356.4h0M429.6 386.9h0M459.5 358.5h0M490.5 383.0h0M619.8 317.6h0M491.1 333.7h0M516.8 332.5h0M647.2 390.9h0M658.8 302.4h0M607.1 303.2h0M410.9 387.3h0M363.3 394.5h0M373.5 393.1h0M652.9 354.0h0M537.6 362.8h0M430.5 380.3h0M390.7 392.9h0M418.3 385.8h0M440.7 381.6h0M430.9 380.2h0M567.1 315.8h0M536.1 347.2h0M459.0 376.6h0M512.8 318.8h0M554.2 307.7h0M382.9 392.9h0M437.6 386.1h0M402.2 388.4h0M547.1 326.9h0M571.7 357.3h0M433.0 393.6h0M396.4 391.5h0M528.6 328.3h0M489.5 349.6h0M495.4 371.6h0M479.1 341.7h0M638.6 380.0h0M517.5 320.3h0M593.1 309.3h0M513.5 327.6h0M434.6 377.1h0M539.6 322.6h0M487.0 368.7h0M389.3 392.1h0M448.2 380.5h0M582.8 313.0h0M393.3 389.8h0M364.8 394.4h0M469.5 350.3h0M559.6 318.4h0M377.8 392.7h0M591.4 309.9h0M601.6 322.9h0M413.7 386.2h0M517.3 335.9h0M551.4 322.0h0M482.7 369.7h0M626.0 355.3h0M592.9 368.6h0M432.8 379.7h0M433.0 381.3h0M542.6 339.1h0M449.9 366.5h0M454.5 360.4h0M488.2 336.9h0M591.6 360.3h0M653.9 325.4h0M556.1 320.4h0M484.8 345.5h0M468.4 346.5h0M502.6 388.8h0M632.8 357.1h0M442.5 374.3h0M378.1 392.8h0M562.9 355.0h0M411.6 390.2h0M472.9 345.4h0M445.5 391.4h0M435.5 377.7h0M536.2 375.1h0M643.2 367.9h0M623.9 305.3h0M525.6 315.8h0M564.5 322.5h0M499.9 333.0h0M549.0 368.7h0M435.2 380.9h0M464.7 366.6h0M434.5 376.8h0M517.6 375.9h0M632.6 316.8h0M444.6 385.9h0M615.2 320.0h0M565.7 316.9h0M404.7 388.2h0M459.4 354.2h0M479.4 343.7h0M465.2 375.2h0M654.7 361.2h0M613.9 350.3h0M483.3 358.9h0M468.4 349.8h0M359.5 395.4h0M486.3 335.4h0M550.3 317.4h0M429.0 384.2h0M649.0 332.8h0M451.9 383.4h0M431.3 381.3h0M644.4 305.5h0M577.9 317.4h0M563.1 306.6h0M411.3 386.7h0M444.8 367.9h0M517.3 387.7h0M386.0 395.0h0M400.0 390.8h0M596.9 323.2h0M471.4 350.0h0M476.1 390.3h0M489.1 354.4h0M379.9 392.2h0M662.5 313.4h0M540.8 342.0h0M553.2 320.4h0M370.0 393.5h0M590.1 333.2h0M595.8 332.8h0M477.0 337.4h0M368.4 394.0h0M523.4 369.3h0M565.3 310.9h0M543.8 318.3h0M462.0 386.2h0M506.7 336.7h0M374.0 393.2h0M407.9 387.3h0M543.3 358.1h0M652.8 306.5h0M587.6 309.4h0M440.1 375.3h0M620.1 315.6h0M381.4 392.0h0M545.1 328.3h0M482.9 333.9h0M599.8 343.2h0M545.0 363.9h0M412.2 393.8h0M512.4 347.4h0M438.7 374.0h0M369.8 394.2h0M434.0 387.7h0M496.5 364.0h0M499.4 359.5h0M451.3 365.6h0M585.5 340.4h0M584.4 316.9h0M547.0 344.9h0M468.6 390.0h0M369.0 394.0h0M549.5 308.7h0M612.7 361.4h0M420.4 395.3h0M409.8 388.5h0M368.1 394.0h0M589.9 304.1h0M617.9 351.4h0M530.0 323.1h0M555.5 358.6h0M510.7 373.0h0M493.4 333.4h0M536.6 382.2h0M630.9 378.6h0M365.9 394.4h0M650.2 313.8h0M589.1 313.4h0M491.0 329.8h0M467.9 368.7h0M455.1 362.9h0M587.3 357.3h0M376.5 392.7h0M447.9 389.1h0M361.6 395.0h0M365.9 394.4h0M522.7 321.4h0M516.8 318.4h0M404.8 390.0h0M535.9 382.0h0M542.6 320.6h0M419.5 385.8h0M601.3 306.9h0M658.3 378.0h0M438.6 382.3h0M411.2 387.5h0M475.4 356.3h0M519.5 318.7h0M373.2 393.4h0M448.2 370.4h0M473.3 373.5h0M652.9 307.9h0M554.8 322.8h0M460.5 392.0h0M381.1 392.3h0M644.8 369.7h0M385.1 393.2h0M596.1 321.4h0M409.4 387.1h0M489.1 341.5h0M372.1 395.1h0M388.7 394.3h0M538.9 333.6h0M464.1 354.5h0M470.8 347.2h0M380.4 392.9h0M641.8 336.0h0M497.2 329.9h0M378.5 392.4h0M521.5 322.2h0M452.3 393.6h0M614.1 337.3h0M446.0 378.3h0M635.7 306.9h0M379.4 392.1h0M414.2 386.7h0M552.6 309.4h0M541.6 310.1h0M569.2 356.3h0M618.3 305.6h0M540.4 324.7h0M526.1 315.7h0M383.0 391.8h0M383.6 391.5h0M401.9 391.0h0M358.9 395.2h0M451.6 361.9h0M362.5 394.8h0M427.9 382.4h0M509.7 378.3h0M587.0 378.3h0M583.2 305.4h0M485.1 339.1h0M434.1 378.7h0M539.9 360.2h0M568.6 361.9h0M637.7 316.6h0M525.1 316.5h0M448.8 365.9h0M452.4 373.1h0M357.8 395.3h0M478.2 372.7h0M391.2 390.2h0M385.2 391.8h0M544.2 328.6h0M659.2 374.3h0M605.5 356.4h0M661.9 303.8h0M428.1 381.8h0M426.3 382.3h0M577.8 309.2h0M639.2 320.0h0M446.2 369.6h0M446.9 370.7h0M598.8 390.9h0M548.4 349.1h0M578.7 305.2h0M410.1 387.6h0M455.7 357.3h0M566.5 389.4h0M514.0 377.9h0M520.4 394.3h0M623.7 359.7h0M461.9 352.6h0M375.9 392.9h0M648.0 303.6h0M497.6 368.1h0M558.6 308.3h0M536.0 391.0h0M384.9 391.4h0M459.0 354.2h0M554.2 364.7h0M637.8 311.0h0M468.6 366.4h0M544.6 349.1h0M399.1 391.5h0M528.3 322.6h0M465.7 355.6h0M395.8 389.8h0M374.6 393.5h0M393.0 392.0h0M519.1 318.3h0M494.7 337.0h0M640.2 305.8h0M421.1 391.2h0M421.9 384.2h0M612.6 310.7h0M501.1 347.4h0M482.2 391.3h0M495.8 327.6h0M460.4 356.3h0M369.6 393.6h0M412.5 389.2h0M628.2 303.9h0M452.9 362.6h0M612.0 394.6h0M365.5 394.3h0M359.1 395.1h0M624.0 305.6h0M410.6 394.4h0M491.4 329.4h0M660.8 359.7h0M465.6 349.5h0M551.2 308.2h0M523.5 319.8h0M662.0 383.7h0M657.8 342.6h0M420.7 386.4h0M583.3 394.3h0M643.2 314.6h0M521.9 332.4h0M637.6 376.3h0M617.5 306.3h0M455.2 359.5h0M357.9 395.3h0M503.5 323.9h0M593.1 304.0h0M487.6 355.7h0M472.3 347.7h0M481.5 383.0h0M586.2 319.9h0M523.6 326.4h0M626.9 317.8h0M650.0 315.1h0M577.1 329.8h0M452.8 367.7h0M645.8 309.9h0M572.6 305.4h0M630.0 360.9h0M458.8 357.8h0M385.8 392.3h0M498.5 364.8h0M627.0 307.0h0M446.4 369.4h0M659.9 354.1h0M655.0 359.7h0M384.9 391.4h0M389.3 393.5h0M431.5 379.9h0M460.0 368.6h0M488.5 329.7h0M567.3 326.3h0M511.8 331.9h0M374.1 393.2h0M453.4 361.2h0M447.6 392.5h0M526.8 378.8h0M579.9 313.1h0M388.5 390.9h0M543.9 346.8h0M521.8 382.2h0M420.8 388.0h0M388.4 391.0h0M626.4 366.8h0M624.3 382.4h0M473.5 349.7h0M552.8 333.7h0M384.9 391.2h0M550.1 364.9h0M635.4 303.9h0M387.7 391.5h0M500.0 386.5h0M465.4 381.5h0M580.2 318.7h0M366.1 394.4h0M471.8 352.6h0M537.3 372.0h0M547.5 311.0h0M446.1 369.7h0M384.0 391.6h0M659.4 363.0h0M583.6 310.5h0M362.6 395.0h0M392.5 390.1h0M502.3 322.9h0M394.3 389.7h0M636.2 303.9h0M625.5 303.5h0M555.3 350.6h0M615.0 314.2h0M643.2 348.4h0M589.9 361.4h0M486.3 332.9h0M531.8 317.0h0M623.1 372.0h0M642.4 384.5h0M571.4 395.1h0M643.3 308.7h0M361.0 394.9h0M423.6 385.4h0M555.6 389.9h0M444.7 371.7h0M582.6 353.1h0M519.1 355.8h0M516.0 354.1h0M611.2 303.1h0M573.1 386.2h0M617.0 387.4h0M404.5 390.8h0M406.0 393.7h0M611.6 389.5h0M571.2 308.9h0M492.7 328.6h0M615.7 318.8h0M367.7 395.4h0M578.1 379.8h0M537.7 311.2h0M613.4 311.2h0M368.1 393.9h0M606.4 303.2h0M472.5 349.5h0M619.4 314.3h0M466.3 363.6h0M378.6 393.0h0M497.5 334.7h0M480.0 339.6h0M565.0 306.9h0M440.1 386.5h0M625.7 361.5h0M469.8 371.1h0M648.0 317.5h0M566.2 339.1h0M530.7 324.6h0M593.6 307.3h0M435.4 386.0h0M494.6 357.5h0M619.4 339.2h0M470.8 345.3h0M494.9 326.8h0M519.8 317.0h0M564.7 329.9h0M507.9 328.4h0M538.2 316.4h0M433.6 381.7h0M589.5 359.5h0M545.8 343.6h0M580.2 308.4h0M535.5 324.8h0M524.0 394.3h0M499.0 330.1h0M555.1 309.8h0M491.8 336.3h0M526.4 328.2h0M426.1 382.7h0M635.2 355.9h0M543.6 337.0h0M407.6 388.0h0M526.3 356.7h0M523.1 336.0h0M634.1 386.8h0M632.5 378.0h0M584.6 316.8h0M511.3 321.8h0M629.1 328.2h0M575.5 390.8h0M512.7 326.2h0M408.2 387.4h0M442.8 371.4h0M552.9 358.5h0M476.5 346.7h0M420.3 385.1h0M626.1 318.7h0M425.6 383.2h0M463.0 354.4h0M521.0 333.1h0M545.5 360.5h0M572.7 372.6h0M552.5 308.2h0M495.4 384.0h0M650.1 308.2h0M500.3 388.0h0M434.0 382.4h0M462.0 359.0h0M492.2 350.6h0M642.9 312.8h0M377.3 393.3h0M647.5 309.0h0M366.1 394.4h0M470.1 344.8h0M467.9 359.5h0M450.2 370.3h0M413.1 388.0h0M532.3 373.5h0M422.2 394.0h0M449.9 364.3h0M421.6 391.9h0M524.2 346.2h0M488.8 334.3h0M580.1 349.9h0M391.8 390.8h0M471.4 371.4h0M622.6 306.8h0M569.8 371.4h0M619.3 375.4h0M573.5 341.2h0M631.8 352.2h0M429.0 394.8h0M509.8 324.7h0M474.1 354.0h0M588.9 381.9h0M417.7 385.4h0M486.9 337.4h0M657.1 304.9h0M515.4 325.0h0M368.7 394.0h0M474.1 380.3h0M362.5 394.7h0M582.5 378.3h0M626.8 304.4h0M531.6 320.3h0M451.5 373.8h0M567.7 337.6h0M529.2 394.7h0M458.0 355.9h0M592.7 388.9h0M572.3 392.2h0M363.0 394.6h0M525.2 335.9h0M530.2 366.5h0M585.0 309.0h0M592.0 332.5h0M448.9 375.1h0M378.9 393.0h0M540.0 324.9h0M504.6 382.8h0M628.2 321.6h0M489.9 368.1h0M520.4 320.4h0M439.7 380.4h0M380.7 391.8h0M559.9 321.9h0M454.0 361.7h0M446.3 386.6h0M638.4 302.6h0M626.6 382.6h0M553.5 313.7h0M441.1 375.3h0M615.5 310.4h0M530.3 372.1h0M621.1 375.6h0M481.1 367.3h0M519.2 366.1h0M515.4 382.7h0M472.6 347.6h0M608.7 348.3h0M587.9 306.9h0M638.7 317.5h0M600.5 304.8h0M580.6 394.0h0M518.9 328.7h0M520.8 319.3h0M360.4 395.0h0M576.4 321.3h0M437.8 379.4h0M527.8 315.3h0M580.3 308.4h0M641.8 303.3h0M555.7 319.4h0M468.7 355.4h0M411.6 388.8h0M394.7 393.4h0M543.9 325.4h0M656.5 389.1h0M559.6 327.8h0M423.9 384.7h0M541.6 359.6h0M479.7 354.0h0M557.2 315.7h0M446.3 366.4h0M369.1 393.7h0M486.7 341.2h0M370.2 395.2h0M610.7 305.0h0M543.6 309.7h0M397.1 390.9h0M660.5 314.5h0M461.8 365.7h0M482.9 383.2h0M486.7 373.5h0M605.4 330.1h0M577.1 377.0h0M661.9 316.6h0M577.3 372.5h0M585.8 313.7h0M621.5 314.2h0M569.6 314.9h0M505.1 326.7h0M587.1 309.3h0M612.0 317.6h0M464.4 354.3h0M532.3 313.2h0M485.6 347.2h0M576.4 362.1h0M636.2 303.3h0M614.8 309.4h0M480.2 365.1h0M425.9 382.6h0M525.7 329.5h0M376.0 393.0h0M445.4 367.6h0M643.7 375.8h0M457.8 361.8h0M634.6 353.9h0M564.8 322.4h0M408.3 392.5h0M368.4 395.0h0M628.3 312.3h0M490.5 330.2h0M451.6 368.9h0M642.8 303.9h0M471.2 343.3h0M587.0 310.8h0M397.8 389.2h0M498.4 359.7h0M488.4 383.1h0M414.7 386.8h0M578.3 316.1h0M458.8 364.9h0M601.7 306.6h0M500.6 373.9h0M647.5 308.7h0M528.3 319.2h0M616.0 313.5h0M517.7 317.2h0M634.9 360.3h0M531.5 315.2h0M457.7 357.0h0M469.1 344.6h0M397.5 391.9h0M428.3 384.8h0M505.4 330.6h0M642.0 304.0h0M606.0 323.0h0M568.1 306.1h0M495.2 362.7h0M369.4 395.3h0M515.6 319.7h0M427.7 382.8h0M627.2 341.8h0M368.8 393.7h0M410.9 386.8h0M616.9 308.5h0M596.7 309.5h0M369.8 393.6h0M530.3 320.8h0M510.5 331.8h0M574.3 348.1h0M650.7 362.3h0M601.4 304.6h0" stroke="#1a74c0" stroke-opacity="0.80" stroke-width="3.3" stroke-linecap="round" fill="none"/>
<path d="M357.20,395.40 L358.22,392.42 L359.24,389.44 L360.26,386.47 L361.28,383.50 L362.31,380.54 L363.33,377.58 L364.35,374.64 L365.37,371.71 L366.39,368.79 L367.41,365.89 L368.43,363.00 L369.45,360.14 L370.47,357.29 L371.49,354.46 L372.52,351.66 L373.54,348.88 L374.56,346.13 L375.58,343.40 L376.60,340.70 L377.62,338.03 L378.64,335.39 L379.66,332.79 L380.68,330.21 L381.71,327.66 L382.73,325.15 L383.75,322.68 L384.77,320.24 L385.79,317.83 L386.81,315.47 L387.83,313.14 L388.85,310.84 L389.87,308.59 L390.90,306.37 L391.92,304.19 L392.94,302.05 L393.96,299.95 L394.98,297.89 L396.00,295.87 L397.02,293.89 L398.04,291.95 L399.06,290.04 L400.08,288.18 L401.11,286.35 L402.13,284.57 L403.15,282.82 L404.17,281.11 L405.19,279.44 L406.21,277.80 L407.23,276.21 L408.25,274.65 L409.27,273.13 L410.30,271.64 L411.32,270.19 L412.34,268.77 L413.36,267.39 L414.38,266.05 L415.40,264.74 L416.42,263.46 L417.44,262.21 L418.46,261.00 L419.49,259.82 L420.51,258.67 L421.53,257.55 L422.55,256.46 L423.57,255.40 L424.59,254.37 L425.61,253.37 L426.63,252.39 L427.65,251.45 L428.67,250.53 L429.70,249.63 L430.72,248.76 L431.74,247.92 L432.76,247.10 L433.78,246.30 L434.80,245.52 L435.82,244.77 L436.84,244.04 L437.86,243.34 L438.89,242.65 L439.91,241.98 L440.93,241.34 L441.95,240.71 L442.97,240.10 L443.99,239.51 L445.01,238.94 L446.03,238.38 L447.05,237.85 L448.08,237.32 L449.10,236.82 L450.12,236.33 L451.14,235.85 L452.16,235.39 L453.18,234.95 L454.20,234.52 L455.22,234.10 L456.24,233.69 L457.26,233.30 L458.29,232.92 L459.31,232.55 L460.33,232.20 L461.35,231.85 L462.37,231.52 L463.39,231.19 L464.41,230.88 L465.43,230.58 L466.45,230.28 L467.48,230.00 L468.50,229.73 L469.52,229.46 L470.54,229.20 L471.56,228.95 L472.58,228.71 L473.60,228.48 L474.62,228.25 L475.64,228.03 L476.67,227.82 L477.69,227.62 L478.71,227.42 L479.73,227.23 L480.75,227.04 L481.77,226.87 L482.79,226.69 L483.81,226.53 L484.83,226.36 L485.85,226.21 L486.88,226.05 L487.90,225.91 L488.92,225.77 L489.94,225.63 L490.96,225.50 L491.98,225.37 L493.00,225.24 L494.02,225.13 L495.04,225.01 L496.07,224.90 L497.09,224.79 L498.11,224.68 L499.13,224.58 L500.15,224.48 L501.17,224.39 L502.19,224.30 L503.21,224.21 L504.23,224.12 L505.26,224.04 L506.28,223.96 L507.30,223.88 L508.32,223.81 L509.34,223.74 L510.36,223.67 L511.38,223.60 L512.40,223.54 L513.42,223.47 L514.44,223.41 L515.47,223.35 L516.49,223.30 L517.51,223.24 L518.53,223.19 L519.55,223.14 L520.57,223.09 L521.59,223.04 L522.61,222.99 L523.63,222.95 L524.66,222.90 L525.68,222.86 L526.70,222.82 L527.72,222.78 L528.74,222.74 L529.76,222.71 L530.78,222.67 L531.80,222.64 L532.82,222.60 L533.85,222.57 L534.87,222.54 L535.89,222.51 L536.91,222.48 L537.93,222.46 L538.95,222.43 L539.97,222.40 L540.99,222.38 L542.01,222.35 L543.03,222.33 L544.06,222.31 L545.08,222.28 L546.10,222.26 L547.12,222.24 L548.14,222.22 L549.16,222.20 L550.18,222.19 L551.20,222.17 L552.22,222.15 L553.25,222.13 L554.27,222.12 L555.29,222.10 L556.31,222.09 L557.33,222.07 L558.35,222.06 L559.37,222.04 L560.39,222.03 L561.41,222.02 L562.44,222.01 L563.46,221.99 L564.48,221.98 L565.50,221.97 L566.52,221.96 L567.54,221.95 L568.56,221.94 L569.58,221.93 L570.60,221.92 L571.62,221.91 L572.65,221.90 L573.67,221.90 L574.69,221.89 L575.71,221.88 L576.73,221.87 L577.75,221.87 L578.77,221.86 L579.79,221.85 L580.81,221.84 L581.84,221.84 L582.86,221.83 L583.88,221.83 L584.90,221.82 L585.92,221.81 L586.94,221.81 L587.96,221.80 L588.98,221.80 L590.00,221.79 L591.03,221.79 L592.05,221.79 L593.07,221.78 L594.09,221.78 L595.11,221.77 L596.13,221.77 L597.15,221.76 L598.17,221.76 L599.19,221.76 L600.21,221.75 L601.24,221.75 L602.26,221.75 L603.28,221.74 L604.30,221.74 L605.32,221.74 L606.34,221.74 L607.36,221.73 L608.38,221.73 L609.40,221.73 L610.43,221.73 L611.45,221.72 L612.47,221.72 L613.49,221.72 L614.51,221.72 L615.53,221.71 L616.55,221.71 L617.57,221.71 L618.59,221.71 L619.62,221.71 L620.64,221.70 L621.66,221.70 L622.68,221.70 L623.70,221.70 L624.72,221.70 L625.74,221.70 L626.76,221.70 L627.78,221.69 L628.80,221.69 L629.83,221.69 L630.85,221.69 L631.87,221.69 L632.89,221.69 L633.91,221.69 L634.93,221.69 L635.95,221.68 L636.97,221.68 L637.99,221.68 L639.02,221.68 L640.04,221.68 L641.06,221.68 L642.08,221.68 L643.10,221.68 L644.12,221.68 L645.14,221.68 L646.16,221.68 L647.18,221.68 L648.21,221.67 L649.23,221.67 L650.25,221.67 L651.27,221.67 L652.29,221.67 L653.31,221.67 L654.33,221.67 L655.35,221.67 L656.37,221.67 L657.39,221.67 L658.42,221.67 L659.44,221.67 L660.46,221.67 L661.48,221.67 L662.50,221.67" fill="none" stroke="#1f77c4" stroke-width="1.50" stroke-dasharray="5.5,4.5"/>
<path d="M357.20,395.40 L358.22,393.68 L359.24,391.97 L360.26,390.26 L361.28,388.55 L362.31,386.84 L363.33,385.14 L364.35,383.45 L365.37,381.76 L366.39,380.08 L367.41,378.41 L368.43,376.75 L369.45,375.10 L370.47,373.46 L371.49,371.83 L372.52,370.22 L373.54,368.62 L374.56,367.03 L375.58,365.46 L376.60,363.91 L377.62,362.37 L378.64,360.85 L379.66,359.35 L380.68,357.87 L381.71,356.40 L382.73,354.96 L383.75,353.53 L384.77,352.13 L385.79,350.74 L386.81,349.38 L387.83,348.04 L388.85,346.72 L389.87,345.42 L390.90,344.14 L391.92,342.89 L392.94,341.66 L393.96,340.45 L394.98,339.26 L396.00,338.10 L397.02,336.95 L398.04,335.84 L399.06,334.74 L400.08,333.67 L401.11,332.61 L402.13,331.59 L403.15,330.58 L404.17,329.60 L405.19,328.63 L406.21,327.69 L407.23,326.77 L408.25,325.88 L409.27,325.00 L410.30,324.14 L411.32,323.31 L412.34,322.49 L413.36,321.70 L414.38,320.93 L415.40,320.17 L416.42,319.43 L417.44,318.72 L418.46,318.02 L419.49,317.34 L420.51,316.68 L421.53,316.03 L422.55,315.41 L423.57,314.80 L424.59,314.20 L425.61,313.62 L426.63,313.06 L427.65,312.52 L428.67,311.99 L429.70,311.47 L430.72,310.97 L431.74,310.48 L432.76,310.01 L433.78,309.55 L434.80,309.11 L435.82,308.68 L436.84,308.26 L437.86,307.85 L438.89,307.45 L439.91,307.07 L440.93,306.70 L441.95,306.34 L442.97,305.98 L443.99,305.65 L445.01,305.32 L446.03,305.00 L447.05,304.69 L448.08,304.39 L449.10,304.10 L450.12,303.81 L451.14,303.54 L452.16,303.28 L453.18,303.02 L454.20,302.77 L455.22,302.53 L456.24,302.30 L457.26,302.07 L458.29,301.85 L459.31,301.64 L460.33,301.43 L461.35,301.24 L462.37,301.04 L463.39,300.86 L464.41,300.68 L465.43,300.50 L466.45,300.33 L467.48,300.17 L468.50,300.01 L469.52,299.86 L470.54,299.71 L471.56,299.57 L472.58,299.43 L473.60,299.29 L474.62,299.16 L475.64,299.04 L476.67,298.92 L477.69,298.80 L478.71,298.68 L479.73,298.57 L480.75,298.47 L481.77,298.37 L482.79,298.27 L483.81,298.17 L484.83,298.08 L485.85,297.99 L486.88,297.90 L487.90,297.81 L488.92,297.73 L489.94,297.65 L490.96,297.58 L491.98,297.50 L493.00,297.43 L494.02,297.36 L495.04,297.30 L496.07,297.23 L497.09,297.17 L498.11,297.11 L499.13,297.05 L500.15,296.99 L501.17,296.94 L502.19,296.89 L503.21,296.84 L504.23,296.79 L505.26,296.74 L506.28,296.69 L507.30,296.65 L508.32,296.61 L509.34,296.56 L510.36,296.52 L511.38,296.49 L512.40,296.45 L513.42,296.41 L514.44,296.38 L515.47,296.34 L516.49,296.31 L517.51,296.28 L518.53,296.25 L519.55,296.22 L520.57,296.19 L521.59,296.16 L522.61,296.13 L523.63,296.11 L524.66,296.08 L525.68,296.06 L526.70,296.04 L527.72,296.01 L528.74,295.99 L529.76,295.97 L530.78,295.95 L531.80,295.93 L532.82,295.91 L533.85,295.89 L534.87,295.88 L535.89,295.86 L536.91,295.84 L537.93,295.83 L538.95,295.81 L539.97,295.80 L540.99,295.78 L542.01,295.77 L543.03,295.75 L544.06,295.74 L545.08,295.73 L546.10,295.72 L547.12,295.70 L548.14,295.69 L549.16,295.68 L550.18,295.67 L551.20,295.66 L552.22,295.65 L553.25,295.64 L554.27,295.63 L555.29,295.62 L556.31,295.61 L557.33,295.61 L558.35,295.60 L559.37,295.59 L560.39,295.58 L561.41,295.57 L562.44,295.57 L563.46,295.56 L564.48,295.55 L565.50,295.55 L566.52,295.54 L567.54,295.54 L568.56,295.53 L569.58,295.52 L570.60,295.52 L571.62,295.51 L572.65,295.51 L573.67,295.50 L574.69,295.50 L575.71,295.49 L576.73,295.49 L577.75,295.49 L578.77,295.48 L579.79,295.48 L580.81,295.47 L581.84,295.47 L582.86,295.47 L583.88,295.46 L584.90,295.46 L585.92,295.46 L586.94,295.45 L587.96,295.45 L588.98,295.45 L590.00,295.45 L591.03,295.44 L592.05,295.44 L593.07,295.44 L594.09,295.43 L595.11,295.43 L596.13,295.43 L597.15,295.43 L598.17,295.43 L599.19,295.42 L600.21,295.42 L601.24,295.42 L602.26,295.42 L603.28,295.42 L604.30,295.41 L605.32,295.41 L606.34,295.41 L607.36,295.41 L608.38,295.41 L609.40,295.41 L610.43,295.41 L611.45,295.40 L612.47,295.40 L613.49,295.40 L614.51,295.40 L615.53,295.40 L616.55,295.40 L617.57,295.40 L618.59,295.40 L619.62,295.39 L620.64,295.39 L621.66,295.39 L622.68,295.39 L623.70,295.39 L624.72,295.39 L625.74,295.39 L626.76,295.39 L627.78,295.39 L628.80,295.39 L629.83,295.39 L630.85,295.39 L631.87,295.38 L632.89,295.38 L633.91,295.38 L634.93,295.38 L635.95,295.38 L636.97,295.38 L637.99,295.38 L639.02,295.38 L640.04,295.38 L641.06,295.38 L642.08,295.38 L643.10,295.38 L644.12,295.38 L645.14,295.38 L646.16,295.38 L647.18,295.38 L648.21,295.38 L649.23,295.38 L650.25,295.38 L651.27,295.38 L652.29,295.37 L653.31,295.37 L654.33,295.37 L655.35,295.37 L656.37,295.37 L657.39,295.37 L658.42,295.37 L659.44,295.37 L660.46,295.37 L661.48,295.37 L662.50,295.37" fill="none" stroke="#c4bd1c" stroke-width="1.50" stroke-dasharray="5.5,4.5"/>
<path d="M357.20,395.40 L358.22,393.80 L359.24,392.19 L360.26,390.59 L361.28,389.00 L362.31,387.40 L363.33,385.81 L364.35,384.23 L365.37,382.65 L366.39,381.08 L367.41,379.52 L368.43,377.97 L369.45,376.42 L370.47,374.89 L371.49,373.37 L372.52,371.86 L373.54,370.37 L374.56,368.88 L375.58,367.42 L376.60,365.96 L377.62,364.53 L378.64,363.11 L379.66,361.70 L380.68,360.32 L381.71,358.95 L382.73,357.60 L383.75,356.26 L384.77,354.95 L385.79,353.66 L386.81,352.38 L387.83,351.13 L388.85,349.89 L389.87,348.68 L390.90,347.49 L391.92,346.31 L392.94,345.16 L393.96,344.03 L394.98,342.92 L396.00,341.84 L397.02,340.77 L398.04,339.72 L399.06,338.70 L400.08,337.69 L401.11,336.71 L402.13,335.75 L403.15,334.81 L404.17,333.89 L405.19,332.99 L406.21,332.11 L407.23,331.25 L408.25,330.41 L409.27,329.59 L410.30,328.79 L411.32,328.01 L412.34,327.25 L413.36,326.51 L414.38,325.79 L415.40,325.08 L416.42,324.39 L417.44,323.72 L418.46,323.07 L419.49,322.43 L420.51,321.81 L421.53,321.21 L422.55,320.63 L423.57,320.06 L424.59,319.50 L425.61,318.96 L426.63,318.44 L427.65,317.93 L428.67,317.43 L429.70,316.95 L430.72,316.48 L431.74,316.03 L432.76,315.59 L433.78,315.16 L434.80,314.74 L435.82,314.34 L436.84,313.94 L437.86,313.56 L438.89,313.19 L439.91,312.83 L440.93,312.49 L441.95,312.15 L442.97,311.82 L443.99,311.50 L445.01,311.19 L446.03,310.90 L447.05,310.61 L448.08,310.33 L449.10,310.05 L450.12,309.79 L451.14,309.54 L452.16,309.29 L453.18,309.05 L454.20,308.82 L455.22,308.59 L456.24,308.37 L457.26,308.16 L458.29,307.96 L459.31,307.76 L460.33,307.57 L461.35,307.38 L462.37,307.20 L463.39,307.03 L464.41,306.86 L465.43,306.70 L466.45,306.54 L467.48,306.39 L468.50,306.24 L469.52,306.09 L470.54,305.96 L471.56,305.82 L472.58,305.69 L473.60,305.57 L474.62,305.44 L475.64,305.33 L476.67,305.21 L477.69,305.10 L478.71,305.00 L479.73,304.89 L480.75,304.79 L481.77,304.70 L482.79,304.60 L483.81,304.51 L484.83,304.43 L485.85,304.34 L486.88,304.26 L487.90,304.18 L488.92,304.11 L489.94,304.03 L490.96,303.96 L491.98,303.89 L493.00,303.83 L494.02,303.76 L495.04,303.70 L496.07,303.64 L497.09,303.58 L498.11,303.52 L499.13,303.47 L500.15,303.42 L501.17,303.37 L502.19,303.32 L503.21,303.27 L504.23,303.22 L505.26,303.18 L506.28,303.14 L507.30,303.09 L508.32,303.05 L509.34,303.01 L510.36,302.98 L511.38,302.94 L512.40,302.91 L513.42,302.87 L514.44,302.84 L515.47,302.81 L516.49,302.78 L517.51,302.75 L518.53,302.72 L519.55,302.69 L520.57,302.66 L521.59,302.64 L522.61,302.61 L523.63,302.59 L524.66,302.57 L525.68,302.54 L526.70,302.52 L527.72,302.50 L528.74,302.48 L529.76,302.46 L530.78,302.44 L531.80,302.42 L532.82,302.40 L533.85,302.39 L534.87,302.37 L535.89,302.35 L536.91,302.34 L537.93,302.32 L538.95,302.31 L539.97,302.30 L540.99,302.28 L542.01,302.27 L543.03,302.26 L544.06,302.24 L545.08,302.23 L546.10,302.22 L547.12,302.21 L548.14,302.20 L549.16,302.19 L550.18,302.18 L551.20,302.17 L552.22,302.16 L553.25,302.15 L554.27,302.14 L555.29,302.13 L556.31,302.13 L557.33,302.12 L558.35,302.11 L559.37,302.10 L560.39,302.10 L561.41,302.09 L562.44,302.08 L563.46,302.08 L564.48,302.07 L565.50,302.06 L566.52,302.06 L567.54,302.05 L568.56,302.05 L569.58,302.04 L570.60,302.04 L571.62,302.03 L572.65,302.03 L573.67,302.02 L574.69,302.02 L575.71,302.01 L576.73,302.01 L577.75,302.01 L578.77,302.00 L579.79,302.00 L580.81,302.00 L581.84,301.99 L582.86,301.99 L583.88,301.99 L584.90,301.98 L585.92,301.98 L586.94,301.98 L587.96,301.97 L588.98,301.97 L590.00,301.97 L591.03,301.97 L592.05,301.96 L593.07,301.96 L594.09,301.96 L595.11,301.96 L596.13,301.95 L597.15,301.95 L598.17,301.95 L599.19,301.95 L600.21,301.95 L601.24,301.95 L602.26,301.94 L603.28,301.94 L604.30,301.94 L605.32,301.94 L606.34,301.94 L607.36,301.94 L608.38,301.93 L609.40,301.93 L610.43,301.93 L611.45,301.93 L612.47,301.93 L613.49,301.93 L614.51,301.93 L615.53,301.93 L616.55,301.92 L617.57,301.92 L618.59,301.92 L619.62,301.92 L620.64,301.92 L621.66,301.92 L622.68,301.92 L623.70,301.92 L624.72,301.92 L625.74,301.92 L626.76,301.92 L627.78,301.91 L628.80,301.91 L629.83,301.91 L630.85,301.91 L631.87,301.91 L632.89,301.91 L633.91,301.91 L634.93,301.91 L635.95,301.91 L636.97,301.91 L637.99,301.91 L639.02,301.91 L640.04,301.91 L641.06,301.91 L642.08,301.91 L643.10,301.91 L644.12,301.91 L645.14,301.91 L646.16,301.90 L647.18,301.90 L648.21,301.90 L649.23,301.90 L650.25,301.90 L651.27,301.90 L652.29,301.90 L653.31,301.90 L654.33,301.90 L655.35,301.90 L656.37,301.90 L657.39,301.90 L658.42,301.90 L659.44,301.90 L660.46,301.90 L661.48,301.90 L662.50,301.90" fill="none" stroke="#a873f2" stroke-width="1.50" stroke-dasharray="5.5,4.5"/>
<path d="M357.20,395.40 L358.22,394.70 L359.24,393.99 L360.26,393.29 L361.28,392.59 L362.31,391.89 L363.33,391.19 L364.35,390.49 L365.37,389.79 L366.39,389.10 L367.41,388.41 L368.43,387.72 L369.45,387.04 L370.47,386.36 L371.49,385.69 L372.52,385.01 L373.54,384.35 L374.56,383.69 L375.58,383.03 L376.60,382.38 L377.62,381.73 L378.64,381.09 L379.66,380.46 L380.68,379.83 L381.71,379.21 L382.73,378.59 L383.75,377.98 L384.77,377.38 L385.79,376.79 L386.81,376.20 L387.83,375.62 L388.85,375.05 L389.87,374.49 L390.90,373.93 L391.92,373.38 L392.94,372.84 L393.96,372.30 L394.98,371.78 L396.00,371.26 L397.02,370.75 L398.04,370.25 L399.06,369.76 L400.08,369.27 L401.11,368.80 L402.13,368.33 L403.15,367.87 L404.17,367.42 L405.19,366.98 L406.21,366.54 L407.23,366.11 L408.25,365.69 L409.27,365.28 L410.30,364.88 L411.32,364.49 L412.34,364.10 L413.36,363.72 L414.38,363.35 L415.40,362.99 L416.42,362.63 L417.44,362.28 L418.46,361.94 L419.49,361.61 L420.51,361.28 L421.53,360.96 L422.55,360.65 L423.57,360.35 L424.59,360.05 L425.61,359.76 L426.63,359.47 L427.65,359.20 L428.67,358.93 L429.70,358.66 L430.72,358.40 L431.74,358.15 L432.76,357.90 L433.78,357.66 L434.80,357.43 L435.82,357.20 L436.84,356.98 L437.86,356.76 L438.89,356.55 L439.91,356.34 L440.93,356.14 L441.95,355.95 L442.97,355.75 L443.99,355.57 L445.01,355.39 L446.03,355.21 L447.05,355.04 L448.08,354.87 L449.10,354.71 L450.12,354.55 L451.14,354.39 L452.16,354.24 L453.18,354.10 L454.20,353.95 L455.22,353.82 L456.24,353.68 L457.26,353.55 L458.29,353.42 L459.31,353.30 L460.33,353.18 L461.35,353.06 L462.37,352.94 L463.39,352.83 L464.41,352.72 L465.43,352.62 L466.45,352.52 L467.48,352.42 L468.50,352.32 L469.52,352.23 L470.54,352.13 L471.56,352.05 L472.58,351.96 L473.60,351.88 L474.62,351.79 L475.64,351.71 L476.67,351.64 L477.69,351.56 L478.71,351.49 L479.73,351.42 L480.75,351.35 L481.77,351.28 L482.79,351.22 L483.81,351.16 L484.83,351.09 L485.85,351.04 L486.88,350.98 L487.90,350.92 L488.92,350.87 L489.94,350.81 L490.96,350.76 L491.98,350.71 L493.00,350.66 L494.02,350.62 L495.04,350.57 L496.07,350.53 L497.09,350.48 L498.11,350.44 L499.13,350.40 L500.15,350.36 L501.17,350.32 L502.19,350.29 L503.21,350.25 L504.23,350.22 L505.26,350.18 L506.28,350.15 L507.30,350.12 L508.32,350.09 L509.34,350.06 L510.36,350.03 L511.38,350.00 L512.40,349.97 L513.42,349.94 L514.44,349.92 L515.47,349.89 L516.49,349.87 L517.51,349.84 L518.53,349.82 L519.55,349.80 L520.57,349.78 L521.59,349.76 L522.61,349.74 L523.63,349.72 L524.66,349.70 L525.68,349.68 L526.70,349.66 L527.72,349.64 L528.74,349.63 L529.76,349.61 L530.78,349.59 L531.80,349.58 L532.82,349.56 L533.85,349.55 L534.87,349.53 L535.89,349.52 L536.91,349.51 L537.93,349.49 L538.95,349.48 L539.97,349.47 L540.99,349.46 L542.01,349.44 L543.03,349.43 L544.06,349.42 L545.08,349.41 L546.10,349.40 L547.12,349.39 L548.14,349.38 L549.16,349.37 L550.18,349.36 L551.20,349.35 L552.22,349.35 L553.25,349.34 L554.27,349.33 L555.29,349.32 L556.31,349.31 L557.33,349.31 L558.35,349.30 L559.37,349.29 L560.39,349.29 L561.41,349.28 L562.44,349.27 L563.46,349.27 L564.48,349.26 L565.50,349.26 L566.52,349.25 L567.54,349.24 L568.56,349.24 L569.58,349.23 L570.60,349.23 L571.62,349.22 L572.65,349.22 L573.67,349.21 L574.69,349.21 L575.71,349.21 L576.73,349.20 L577.75,349.20 L578.77,349.19 L579.79,349.19 L580.81,349.19 L581.84,349.18 L582.86,349.18 L583.88,349.18 L584.90,349.17 L585.92,349.17 L586.94,349.17 L587.96,349.16 L588.98,349.16 L590.00,349.16 L591.03,349.16 L592.05,349.15 L593.07,349.15 L594.09,349.15 L595.11,349.15 L596.13,349.14 L597.15,349.14 L598.17,349.14 L599.19,349.14 L600.21,349.13 L601.24,349.13 L602.26,349.13 L603.28,349.13 L604.30,349.13 L605.32,349.13 L606.34,349.12 L607.36,349.12 L608.38,349.12 L609.40,349.12 L610.43,349.12 L611.45,349.12 L612.47,349.11 L613.49,349.11 L614.51,349.11 L615.53,349.11 L616.55,349.11 L617.57,349.11 L618.59,349.11 L619.62,349.11 L620.64,349.10 L621.66,349.10 L622.68,349.10 L623.70,349.10 L624.72,349.10 L625.74,349.10 L626.76,349.10 L627.78,349.10 L628.80,349.10 L629.83,349.10 L630.85,349.09 L631.87,349.09 L632.89,349.09 L633.91,349.09 L634.93,349.09 L635.95,349.09 L636.97,349.09 L637.99,349.09 L639.02,349.09 L640.04,349.09 L641.06,349.09 L642.08,349.09 L643.10,349.09 L644.12,349.09 L645.14,349.09 L646.16,349.08 L647.18,349.08 L648.21,349.08 L649.23,349.08 L650.25,349.08 L651.27,349.08 L652.29,349.08 L653.31,349.08 L654.33,349.08 L655.35,349.08 L656.37,349.08 L657.39,349.08 L658.42,349.08 L659.44,349.08 L660.46,349.08 L661.48,349.08 L662.50,349.08" fill="none" stroke="#dc5c24" stroke-width="1.50" stroke-dasharray="5.5,4.5"/>
<rect x="357.2" y="206.0" width="305.3" height="189.4" fill="none" stroke="#8c8c8c" stroke-width="1.4"/>
<line x1="357.2" y1="332.2" x2="360.4" y2="332.2" stroke="#8a8a8a" stroke-width="1"/>
<line x1="662.5" y1="332.2" x2="659.3" y2="332.2" stroke="#8a8a8a" stroke-width="1"/>
<line x1="357.2" y1="269.0" x2="360.4" y2="269.0" stroke="#8a8a8a" stroke-width="1"/>
<line x1="662.5" y1="269.0" x2="659.3" y2="269.0" stroke="#8a8a8a" stroke-width="1"/>
<line x1="510" y1="206" x2="510" y2="209.2" stroke="#8a8a8a" stroke-width="1"/>
<line x1="510" y1="395.4" x2="510" y2="392.2" stroke="#8a8a8a" stroke-width="1"/>
<path d="M357.20,395.40 L358.22,394.76 L359.24,394.12 L360.26,393.49 L361.28,392.85 L362.31,392.22 L363.33,391.59 L364.35,390.97 L365.37,390.36 L366.39,389.75 L367.41,389.14 L368.43,388.55 L369.45,387.96 L370.47,387.39 L371.49,386.82 L372.52,386.26 L373.54,385.71 L374.56,385.18 L375.58,384.65 L376.60,384.14 L377.62,383.63 L378.64,383.14 L379.66,382.67 L380.68,382.20 L381.71,381.75 L382.73,381.31 L383.75,380.88 L384.77,380.47 L385.79,380.06 L386.81,379.67 L387.83,379.30 L388.85,378.93 L389.87,378.58 L390.90,378.24 L391.92,377.91 L392.94,377.59 L393.96,377.29 L394.98,376.99 L396.00,376.71 L397.02,376.44 L398.04,376.18 L399.06,375.93 L400.08,375.68 L401.11,375.45 L402.13,375.23 L403.15,375.02 L404.17,374.81 L405.19,374.61 L406.21,374.43 L407.23,374.25 L408.25,374.07 L409.27,373.91 L410.30,373.75 L411.32,373.60 L412.34,373.46 L413.36,373.32 L414.38,373.19 L415.40,373.06 L416.42,372.94 L417.44,372.83 L418.46,372.72 L419.49,372.61 L420.51,372.51 L421.53,372.42 L422.55,372.33 L423.57,372.24 L424.59,372.16 L425.61,372.08 L426.63,372.01 L427.65,371.94 L428.67,371.87 L429.70,371.80 L430.72,371.74 L431.74,371.68 L432.76,371.63 L433.78,371.58 L434.80,371.53 L435.82,371.48 L436.84,371.43 L437.86,371.39 L438.89,371.35 L439.91,371.31 L440.93,371.27 L441.95,371.23 L442.97,371.20 L443.99,371.17 L445.01,371.14 L446.03,371.11 L447.05,371.08 L448.08,371.05 L449.10,371.03 L450.12,371.01 L451.14,370.98 L452.16,370.96 L453.18,370.94 L454.20,370.92 L455.22,370.90 L456.24,370.88 L457.26,370.87 L458.29,370.85 L459.31,370.84 L460.33,370.82 L461.35,370.81 L462.37,370.80 L463.39,370.78 L464.41,370.77 L465.43,370.76 L466.45,370.75 L467.48,370.74 L468.50,370.73 L469.52,370.72 L470.54,370.71 L471.56,370.70 L472.58,370.70 L473.60,370.69 L474.62,370.68 L475.64,370.68 L476.67,370.67 L477.69,370.66 L478.71,370.66 L479.73,370.65 L480.75,370.65 L481.77,370.64 L482.79,370.64 L483.81,370.63 L484.83,370.63 L485.85,370.63 L486.88,370.62 L487.90,370.62 L488.92,370.61 L489.94,370.61 L490.96,370.61 L491.98,370.60 L493.00,370.60 L494.02,370.60 L495.04,370.60 L496.07,370.59 L497.09,370.59 L498.11,370.59 L499.13,370.59 L500.15,370.59 L501.17,370.58 L502.19,370.58 L503.21,370.58 L504.23,370.58 L505.26,370.58 L506.28,370.58 L507.30,370.57 L508.32,370.57 L509.34,370.57 L510.36,370.57 L511.38,370.57 L512.40,370.57 L513.42,370.57 L514.44,370.57 L515.47,370.57 L516.49,370.57 L517.51,370.56 L518.53,370.56 L519.55,370.56 L520.57,370.56 L521.59,370.56 L522.61,370.56 L523.63,370.56 L524.66,370.56 L525.68,370.56 L526.70,370.56 L527.72,370.56 L528.74,370.56 L529.76,370.56 L530.78,370.56 L531.80,370.56 L532.82,370.56 L533.85,370.56 L534.87,370.56 L535.89,370.56 L536.91,370.55 L537.93,370.55 L538.95,370.55 L539.97,370.55 L540.99,370.55 L542.01,370.55 L543.03,370.55 L544.06,370.55 L545.08,370.55 L546.10,370.55 L547.12,370.55 L548.14,370.55 L549.16,370.55 L550.18,370.55 L551.20,370.55 L552.22,370.55 L553.25,370.55 L554.27,370.55 L555.29,370.55 L556.31,370.55 L557.33,370.55 L558.35,370.55 L559.37,370.55 L560.39,370.55 L561.41,370.55 L562.44,370.55 L563.46,370.55 L564.48,370.55 L565.50,370.55 L566.52,370.55 L567.54,370.55 L568.56,370.55 L569.58,370.55 L570.60,370.55 L571.62,370.55 L572.65,370.55 L573.67,370.55 L574.69,370.55 L575.71,370.55 L576.73,370.55 L577.75,370.55 L578.77,370.55 L579.79,370.55 L580.81,370.55 L581.84,370.55 L582.86,370.55 L583.88,370.55 L584.90,370.55 L585.92,370.55 L586.94,370.55 L587.96,370.55 L588.98,370.55 L590.00,370.55 L591.03,370.55 L592.05,370.55 L593.07,370.55 L594.09,370.55 L595.11,370.55 L596.13,370.55 L597.15,370.55 L598.17,370.55 L599.19,370.55 L600.21,370.55 L601.24,370.55 L602.26,370.55 L603.28,370.55 L604.30,370.55 L605.32,370.55 L606.34,370.55 L607.36,370.55 L608.38,370.55 L609.40,370.55 L610.43,370.55 L611.45,370.55 L612.47,370.55 L613.49,370.55 L614.51,370.55 L615.53,370.55 L616.55,370.55 L617.57,370.55 L618.59,370.55 L619.62,370.55 L620.64,370.55 L621.66,370.55 L622.68,370.55 L623.70,370.55 L624.72,370.55 L625.74,370.55 L626.76,370.55 L627.78,370.55 L628.80,370.55 L629.83,370.55 L630.85,370.55 L631.87,370.55 L632.89,370.55 L633.91,370.55 L634.93,370.55 L635.95,370.55 L636.97,370.55 L637.99,370.55 L639.02,370.55 L640.04,370.55 L641.06,370.55 L642.08,370.55 L643.10,370.55 L644.12,370.55 L645.14,370.55 L646.16,370.55 L647.18,370.55 L648.21,370.55 L649.23,370.55 L650.25,370.55 L651.27,370.55 L652.29,370.55 L653.31,370.55 L654.33,370.55 L655.35,370.55 L656.37,370.55 L657.39,370.55 L658.42,370.55 L659.44,370.55 L660.46,370.55 L661.48,370.55 L662.50,370.55" fill="none" stroke="#c4c01a" stroke-width="3.2"/>
<line x1="357.2" y1="395.0" x2="662.5" y2="395.0" stroke="#c4c01a" stroke-width="3.4"/>
<text x="354.00" y="399.40" font-size="11.00" fill="#222" text-anchor="end" >0</text>
<text x="354.00" y="336.22" font-size="11.00" fill="#222" text-anchor="end" >6</text>
<text x="354.00" y="273.04" font-size="11.00" fill="#222" text-anchor="end" >12</text>
<text x="354.00" y="209.86" font-size="11.00" fill="#222" text-anchor="end" >18</text>
<text x="356.70" y="408.80" font-size="11.00" fill="#222" text-anchor="middle" >0</text>
<text x="509.35" y="408.80" font-size="11.00" fill="#222" text-anchor="middle" >5</text>
<text x="662.00" y="408.80" font-size="11.00" fill="#222" text-anchor="middle" >10</text>
<text x="450.50" y="423.00" font-size="12.00" fill="#222" >Thermodynamic force <tspan class="sf" font-style="italic" font-size="13.5">μ</tspan></text>
<g transform="translate(339.4,333.2) rotate(-90)">
<text x="0.00" y="0.00" font-size="11.70" fill="#222" >Coherence</text>
</g>
<rect x="526.4" y="231.8" width="133.7" height="52" fill="#fff" stroke="#555" stroke-width="0.9"/>
<text x="540.10" y="242.40" font-size="10.60" fill="#1f77c0" >Topological model</text>
<text x="540.10" y="255.60" font-size="10.60" fill="#dd5a26" >MWC model</text>
<text x="540.10" y="268.80" font-size="10.60" fill="#c4bd1c" >Bilayer lattice model</text>
<text x="540.10" y="281.80" font-size="10.60" fill="#a873f2" >28-state unicyclic model</text></svg>
</body></html>
